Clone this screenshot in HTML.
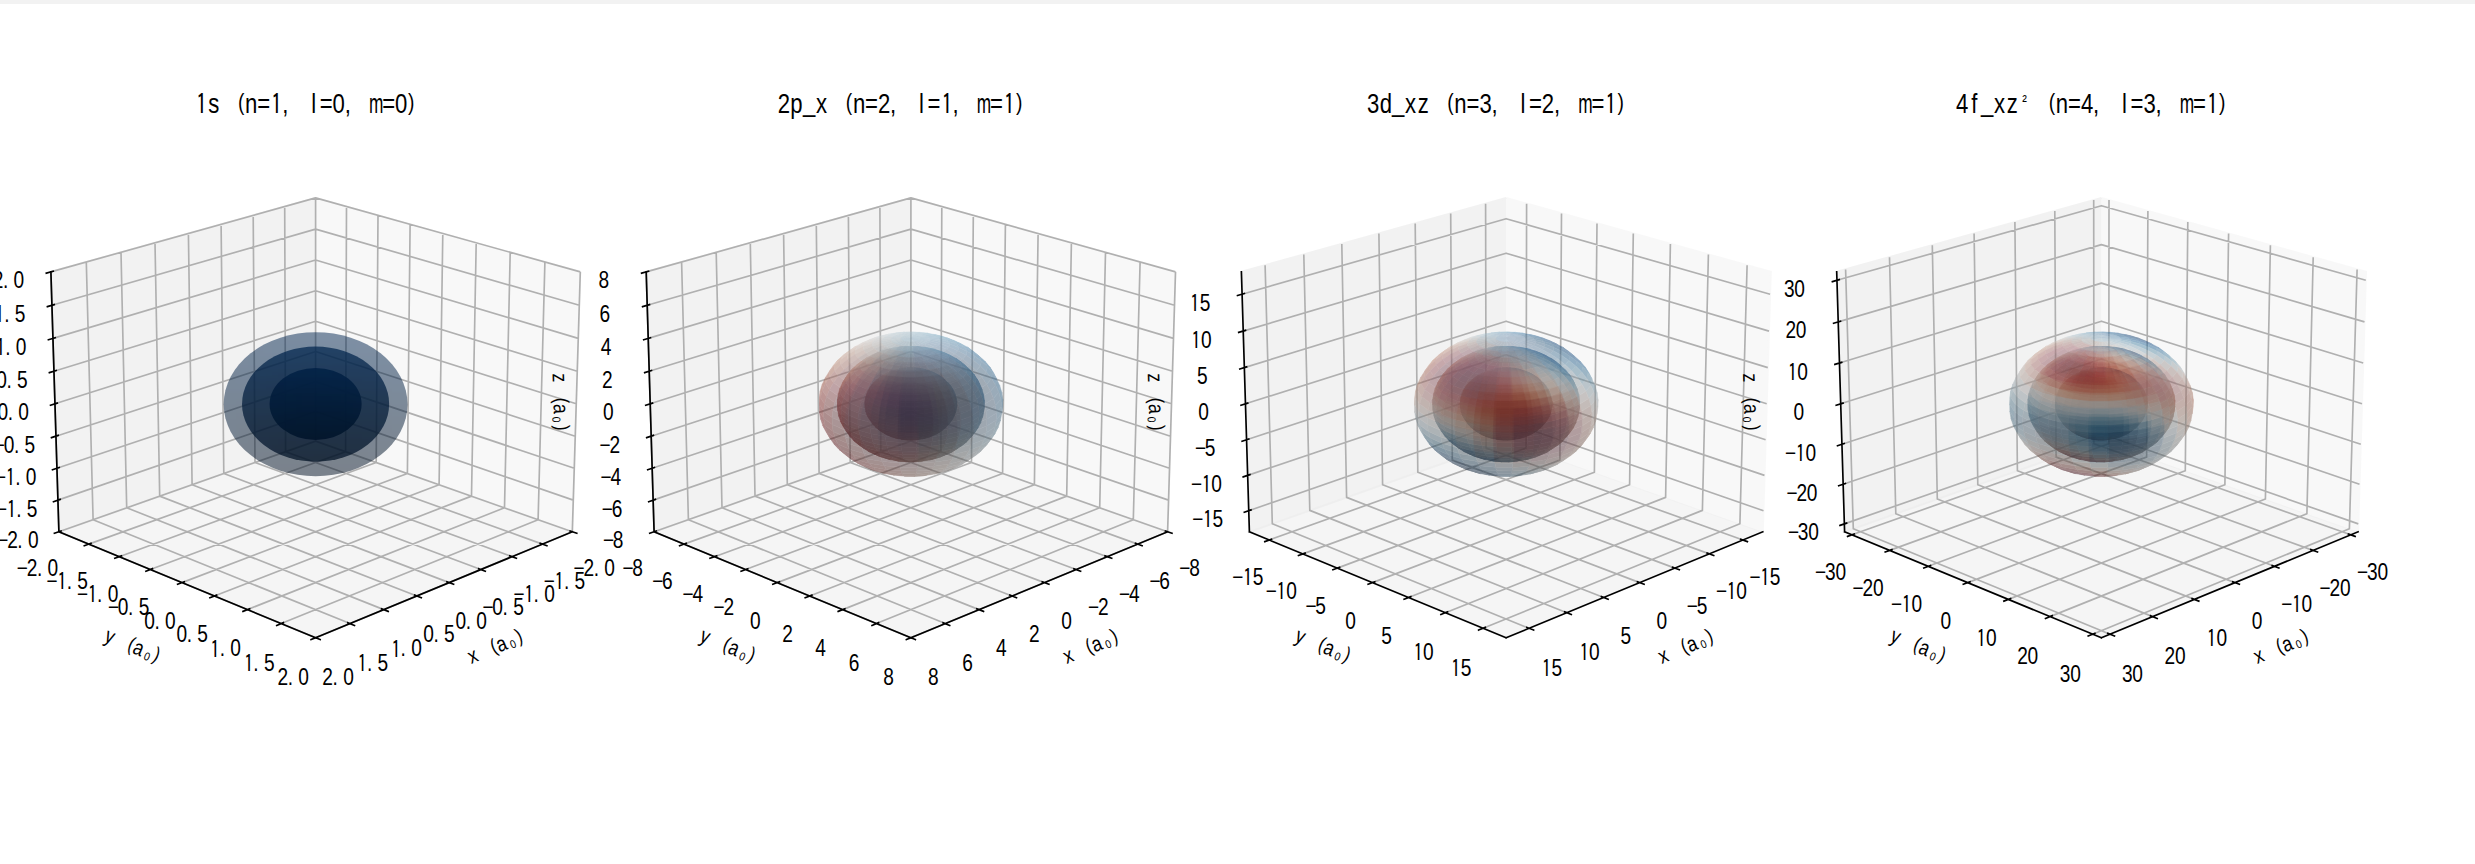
<!DOCTYPE html>
<html><head><meta charset="utf-8"><title>Hydrogen orbitals</title>
<style>
html,body{margin:0;padding:0;background:#fff}
body{width:2475px;height:864px;overflow:hidden;position:relative}
#bar{position:absolute;left:0;top:0;width:2475px;height:4px;background:#f2f2f2}
svg{position:absolute;left:0;top:0;display:block}
.p{opacity:.5;stroke-width:2.08;stroke-linejoin:miter}
.g{fill:none;stroke:#b0b0b0;stroke-width:1.67;stroke-linejoin:round}
.a{fill:none;stroke:#000;stroke-width:1.67;stroke-linecap:square;stroke-linejoin:round}
.f path{fill:currentColor;stroke:currentColor;stroke-width:.5;stroke-linejoin:round}
text{font-family:"Liberation Sans","IPAGothic",sans-serif;fill:#000;white-space:pre}
.t{font-size:23.33px}
.L{font-size:21.67px}
.T{font-size:27.00px}
.i{font-family:"IPAGothic","Liberation Sans",sans-serif}
</style></head><body>
<svg width="2475" height="864" viewBox="0 0 2475 864">
<defs>
<filter id="b0" x="-10%" y="-10%" width="120%" height="120%" color-interpolation-filters="sRGB"><feGaussianBlur stdDeviation="1.5"/></filter>
<filter id="b1" x="-10%" y="-10%" width="120%" height="120%" color-interpolation-filters="sRGB"><feGaussianBlur stdDeviation="1.8"/></filter>
<filter id="b2" x="-10%" y="-10%" width="120%" height="120%" color-interpolation-filters="sRGB"><feGaussianBlur stdDeviation="2.2"/></filter>
<filter id="b3" x="-10%" y="-10%" width="120%" height="120%" color-interpolation-filters="sRGB"><feGaussianBlur stdDeviation="3.0"/></filter>
<filter id="b4" x="-10%" y="-10%" width="120%" height="120%" color-interpolation-filters="sRGB"><feGaussianBlur stdDeviation="4.0"/></filter>
<clipPath id="c0"><ellipse cx="315.61" cy="403.93" rx="46.04" ry="35.96"/></clipPath>
<clipPath id="c1"><ellipse cx="315.59" cy="404.08" rx="73.56" ry="57.56"/></clipPath>
<clipPath id="c2"><ellipse cx="315.60" cy="404.21" rx="91.92" ry="72.00"/></clipPath>
</defs>
<path class="p" fill="#f2f2f2" stroke="#f2f2f2" d="M315.6 441.1L572.3 531.8L580.3 271.9L315.6 197.9"/>
<path class="p" fill="#e6e6e6" stroke="#e6e6e6" d="M315.6 441.1L58.9 531.8L50.9 271.9L315.6 197.9"/>
<path class="p" fill="#ececec" stroke="#ececec" d="M315.6 441.1L58.9 531.8L315.6 637.8L572.3 531.8"/>
<path class="g" d="M572.3 531.8L315.6 441.1L315.6 197.9M542.4 544.1L285.6 451.7L284.7 206.6M512 556.7L255 462.5L253.2 215.4M480.9 569.5L223.8 473.5L221.1 224.4M449.2 582.6L192.1 484.7L188.4 233.5M416.8 596L159.7 496.1L155 242.8M383.8 609.6L126.7 507.8L121 252.3M350 623.6L93.1 519.7L86.3 262M315.6 637.8L58.9 531.8L50.9 271.9M315.6 197.9L315.6 441.1L58.9 531.8M346.5 206.6L345.6 451.7L88.8 544.1M378 215.4L376.2 462.5L119.2 556.7M410.1 224.4L407.4 473.5L150.3 569.5M442.8 233.5L439.1 484.7L182 582.6M476.2 242.8L471.5 496.1L214.4 596M510.2 252.3L504.5 507.8L247.4 609.6M544.9 262L538.1 519.7L281.2 623.6M580.3 271.9L572.3 531.8L315.6 637.8M58.9 531.8L315.6 441.1L572.3 531.8M57.9 500.1L315.6 411.4L573.3 500.1M56.9 468.3L315.6 381.6L574.3 468.3M56 436.2L315.6 351.5L575.2 436.2M55 403.8L315.6 321.2L576.2 403.8M54 371.2L315.6 290.7L577.2 371.2M53 338.4L315.6 260L578.2 338.4M51.9 305.3L315.6 229.1L579.3 305.3M50.9 271.9L315.6 197.9L580.3 271.9"/>
<path class="a" d="M572.3 531.8L315.6 637.8M570.1 531L576.8 533.3M540.2 543.3L546.9 545.7M509.7 555.9L516.4 558.3M478.7 568.7L485.3 571.2M446.9 581.8L453.6 584.3M414.6 595.1L421.3 597.7M381.5 608.8L388.2 611.4M347.8 622.7L354.5 625.4M313.4 636.9L320.1 639.6M58.9 531.8L315.6 637.8M61.1 531L54.4 533.3M91 543.3L84.3 545.7M121.5 555.9L114.8 558.3M152.5 568.7L145.9 571.2M184.3 581.8L177.6 584.3M216.6 595.1L209.9 597.7M249.7 608.8L243 611.4M283.4 622.7L276.7 625.4M317.8 636.9L311.1 639.6M58.9 531.8L50.9 271.9M61.1 531L54.4 533.3M60.1 499.4L53.5 501.7M59.2 467.5L52.5 469.8M58.2 435.4L51.5 437.6M57.2 403.1L50.5 405.3M56.2 370.5L49.4 372.6M55.2 337.7L48.4 339.7M54.2 304.6L47.4 306.6M53.2 271.3L46.3 273.2"/>
<path class="p" fill="#f2f2f2" stroke="#f2f2f2" d="M910.9 441.1L1167.6 531.8L1175.5 271.9L910.9 197.9"/>
<path class="p" fill="#e6e6e6" stroke="#e6e6e6" d="M910.9 441.1L654.1 531.8L646.2 271.9L910.9 197.9"/>
<path class="p" fill="#ececec" stroke="#ececec" d="M910.9 441.1L654.1 531.8L910.9 637.8L1167.6 531.8"/>
<path class="g" d="M1167.6 531.8L910.9 441.1L910.9 197.9M1137.7 544.1L880.8 451.7L879.9 206.6M1107.2 556.7L850.2 462.5L848.4 215.4M1076.1 569.5L819.1 473.5L816.3 224.4M1044.4 582.6L787.3 484.7L783.6 233.5M1012 596L755 496.1L750.3 242.8M979 609.6L722 507.8L716.2 252.3M945.3 623.6L688.4 519.7L681.6 262M910.9 637.8L654.1 531.8L646.2 271.9M910.9 197.9L910.9 441.1L654.1 531.8M941.8 206.6L940.9 451.7L684 544.1M973.3 215.4L971.5 462.5L714.5 556.7M1005.4 224.4L1002.6 473.5L745.6 569.5M1038.1 233.5L1034.4 484.7L777.3 582.6M1071.4 242.8L1066.7 496.1L809.7 596M1105.5 252.3L1099.7 507.8L842.7 609.6M1140.1 262L1133.3 519.7L876.4 623.6M1175.5 271.9L1167.6 531.8L910.9 637.8M654.1 531.8L910.9 441.1L1167.6 531.8M653.2 500.1L910.9 411.4L1168.5 500.1M652.2 468.3L910.9 381.6L1169.5 468.3M651.2 436.2L910.9 351.5L1170.5 436.2M650.2 403.8L910.9 321.2L1171.5 403.8M649.2 371.2L910.9 290.7L1172.5 371.2M648.2 338.4L910.9 260L1173.5 338.4M647.2 305.3L910.9 229.1L1174.5 305.3M646.2 271.9L910.9 197.9L1175.5 271.9"/>
<path class="a" d="M1167.6 531.8L910.9 637.8M1165.4 531L1172 533.3M1135.5 543.3L1142.1 545.7M1105 555.9L1111.7 558.3M1073.9 568.7L1080.6 571.2M1042.2 581.8L1048.9 584.3M1009.8 595.1L1016.5 597.7M976.8 608.8L983.5 611.4M943.1 622.7L949.7 625.4M908.6 636.9L915.3 639.6M654.1 531.8L910.9 637.8M656.3 531L649.7 533.3M686.2 543.3L679.6 545.7M716.7 555.9L710 558.3M747.8 568.7L741.1 571.2M779.5 581.8L772.8 584.3M811.9 595.1L805.2 597.7M844.9 608.8L838.2 611.4M878.6 622.7L872 625.4M913.1 636.9L906.4 639.6M654.1 531.8L646.2 271.9M656.3 531L649.7 533.3M655.4 499.4L648.7 501.7M654.4 467.5L647.7 469.8M653.4 435.4L646.7 437.6M652.5 403.1L645.7 405.3M651.5 370.5L644.7 372.6M650.5 337.7L643.7 339.7M649.5 304.6L642.6 306.6M648.5 271.3L641.6 273.2"/>
<path class="p" fill="#f2f2f2" stroke="#f2f2f2" d="M1506.1 441.1L1762.8 531.8L1770.8 271.9L1506.1 197.9"/>
<path class="p" fill="#e6e6e6" stroke="#e6e6e6" d="M1506.1 441.1L1249.4 531.8L1241.4 271.9L1506.1 197.9"/>
<path class="p" fill="#ececec" stroke="#ececec" d="M1506.1 441.1L1249.4 531.8L1506.1 637.8L1762.8 531.8"/>
<path class="g" d="M1743 540L1486.1 448.1L1485.6 203.7M1709.3 553.9L1452.3 460.1L1450.7 213.4M1674.9 568.1L1417.8 472.3L1415.2 223.4M1639.7 582.6L1382.6 484.7L1378.9 233.5M1603.7 597.5L1346.6 497.4L1341.8 243.9M1566.8 612.7L1309.8 510.4L1303.8 254.5M1529.1 628.3L1272.3 523.7L1265.1 265.3M1526.6 203.7L1526.1 448.1L1269.2 540M1561.5 213.4L1559.9 460.1L1302.9 553.9M1597 223.4L1594.4 472.3L1337.3 568.1M1633.3 233.5L1629.6 484.7L1372.5 582.6M1670.4 243.9L1665.6 497.4L1408.5 597.5M1708.4 254.5L1702.4 510.4L1445.4 612.7M1747.1 265.3L1739.9 523.7L1483.1 628.3M1248.7 510.7L1506.1 421.3L1763.5 510.7M1247.7 475.4L1506.1 388.2L1764.5 475.4M1246.6 439.8L1506.1 354.8L1765.6 439.8M1245.5 403.8L1506.1 321.2L1766.7 403.8M1244.4 367.6L1506.1 287.3L1767.8 367.6M1243.2 331.1L1506.1 253.2L1769 331.1M1242.1 294.2L1506.1 218.7L1770.1 294.2"/>
<path class="a" d="M1762.8 531.8L1506.1 637.8M1740.7 539.2L1747.4 541.6M1707.1 553.1L1713.7 555.5M1672.6 567.3L1679.3 569.8M1637.4 581.8L1644.1 584.3M1601.4 596.6L1608.1 599.2M1564.6 611.8L1571.3 614.5M1526.9 627.4L1533.6 630.1M1249.4 531.8L1506.1 637.8M1271.5 539.2L1264.8 541.6M1305.1 553.1L1298.5 555.5M1339.6 567.3L1332.9 569.8M1374.8 581.8L1368.1 584.3M1410.8 596.6L1404.1 599.2M1447.6 611.8L1440.9 614.5M1485.3 627.4L1478.6 630.1M1249.4 531.8L1241.4 271.9M1251 509.9L1244.3 512.3M1249.9 474.6L1243.2 476.9M1248.8 439L1242.1 441.2M1247.7 403.1L1241 405.3M1246.6 366.9L1239.8 369M1245.5 330.4L1238.7 332.4M1244.4 293.5L1237.5 295.5"/>
<path class="p" fill="#f2f2f2" stroke="#f2f2f2" d="M2101.4 441.1L2358.1 531.8L2366 271.9L2101.4 197.9"/>
<path class="p" fill="#e6e6e6" stroke="#e6e6e6" d="M2101.4 441.1L1844.6 531.8L1836.7 271.9L2101.4 197.9"/>
<path class="p" fill="#ececec" stroke="#ececec" d="M2101.4 441.1L1844.6 531.8L2101.4 637.8L2358.1 531.8"/>
<path class="g" d="M2350.7 534.8L2093.9 443.7L2093.7 200.1M2313 550.4L2056.1 457.1L2054.8 211M2274.5 566.3L2017.4 470.7L2014.9 222.1M2234.9 582.6L1977.8 484.7L1974.1 233.5M2194.4 599.4L1937.3 499L1932.3 245.2M2152.7 616.6L1895.8 513.7L1889.5 257.2M2110 634.2L1853.3 528.7L1845.6 269.4M2109 200.1L2108.8 443.7L1852 534.8M2147.9 211L2146.6 457.1L1889.7 550.4M2187.8 222.1L2185.3 470.7L1928.2 566.3M2228.6 233.5L2224.9 484.7L1967.8 582.6M2270.4 245.2L2265.4 499L2008.3 599.4M2313.2 257.2L2306.9 513.7L2050 616.6M2357.1 269.4L2349.4 528.7L2092.7 634.2M1844.4 523.9L2101.4 433.7L2358.3 523.9M1843.2 484.2L2101.4 396.5L2359.5 484.2M1842 444.2L2101.4 359L2360.8 444.2M1840.7 403.8L2101.4 321.2L2362 403.8M1839.5 363L2101.4 283.1L2363.2 363M1838.2 321.9L2101.4 244.6L2364.5 321.9M1836.9 280.3L2101.4 205.7L2365.8 280.3"/>
<path class="a" d="M2358.1 531.8L2101.4 637.8M2348.4 534L2355.1 536.4M2310.8 549.6L2317.5 552M2272.2 565.5L2278.9 568M2232.7 581.8L2239.4 584.3M2192.1 598.5L2198.8 601.1M2150.5 615.7L2157.2 618.4M2107.8 633.3L2114.5 636M1844.6 531.8L2101.4 637.8M1854.3 534L1847.6 536.4M1891.9 549.6L1885.2 552M1930.5 565.5L1923.8 568M1970 581.8L1963.3 584.3M2010.6 598.5L2003.9 601.1M2052.2 615.7L2045.5 618.4M2094.9 633.3L2088.2 636M1844.6 531.8L1836.7 271.9M1846.6 523.1L1840 525.4M1845.4 483.5L1838.7 485.8M1844.2 443.5L1837.5 445.7M1843 403.1L1836.2 405.3M1841.7 362.4L1834.9 364.4M1840.5 321.2L1833.6 323.2M1839.2 279.6L1832.4 281.6"/>
<g clip-path="url(#c0)" opacity="0.885"><g filter="url(#b4)"><path fill="#03244b" d="M305 343h12v12h-12z"/><path fill="#03254b" d="M317 343h12v12h-12z"/><path fill="#032144" d="M269 355h12v12h-12z"/><path fill="#04254b" d="M281 355h24v12h-24z"/><path fill="#03244b" d="M305 355h12v12h-12z"/><path fill="#03254b" d="M317 355h12v12h-12z"/><path fill="#04244b" d="M329 355h24v12h-24z"/><path fill="#031d3c" d="M257 367h12v12h-12z"/><path fill="#032144" d="M269 367h24v12h-24z"/><path fill="#04254b" d="M293 367h12v12h-12z"/><path fill="#03244b" d="M305 367h12v12h-12z"/><path fill="#03254b" d="M317 367h12v12h-12z"/><path fill="#04244b" d="M329 367h24v12h-24z"/><path fill="#032144" d="M353 367h12v12h-12z"/><path fill="#031d3c" d="M257 379h24v12h-24z"/><path fill="#032144" d="M281 379h12v12h-12z"/><path fill="#032042" d="M293 379h12v12h-12z"/><path fill="#032041" d="M305 379h24v12h-24z"/><path fill="#032042" d="M329 379h12v12h-12z"/><path fill="#032144" d="M341 379h24v12h-24z"/><path fill="#031e3d" d="M365 379h12v12h-12z"/><path fill="#031d3c" d="M245 391h36v12h-36z"/><path fill="#031c3a" d="M281 391h12v12h-12z"/><path fill="#021b38" d="M293 391h12v12h-12z"/><path fill="#021b37" d="M305 391h12v12h-12z"/><path fill="#021b38" d="M317 391h24v12h-24z"/><path fill="#031c3a" d="M341 391h12v12h-12z"/><path fill="#031e3d" d="M353 391h24v12h-24z"/><path fill="#021a35" d="M245 403h36v12h-36z"/><path fill="#021832" d="M281 403h12v12h-12z"/><path fill="#021730" d="M293 403h12v12h-12z"/><path fill="#02172f" d="M305 403h24v12h-24z"/><path fill="#021730" d="M329 403h12v12h-12z"/><path fill="#021832" d="M341 403h12v12h-12z"/><path fill="#031a36" d="M353 403h24v12h-24z"/><path fill="#02172f" d="M257 415h24v12h-24z"/><path fill="#02152c" d="M281 415h12v12h-12z"/><path fill="#021429" d="M293 415h12v12h-12z"/><path fill="#021428" d="M305 415h12v12h-12z"/><path fill="#021429" d="M317 415h12v12h-12z"/><path fill="#02142a" d="M329 415h12v12h-12z"/><path fill="#02152c" d="M341 415h24v12h-24z"/><path fill="#031a36" d="M365 415h12v12h-12z"/><path fill="#02172f" d="M257 427h24v12h-24z"/><path fill="#02152c" d="M281 427h12v12h-12z"/><path fill="#021225" d="M293 427h12v12h-12z"/><path fill="#021124" d="M305 427h12v12h-12z"/><path fill="#021224" d="M317 427h12v12h-12z"/><path fill="#021326" d="M329 427h24v12h-24z"/><path fill="#02152c" d="M353 427h24v12h-24z"/><path fill="#02172f" d="M269 439h12v12h-12z"/><path fill="#021225" d="M281 439h24v12h-24z"/><path fill="#021124" d="M305 439h12v12h-12z"/><path fill="#021224" d="M317 439h12v12h-12z"/><path fill="#021326" d="M329 439h36v12h-36z"/><path fill="#021225" d="M293 451h12v12h-12z"/><path fill="#021124" d="M305 451h12v12h-12z"/><path fill="#021224" d="M317 451h12v12h-12z"/><path fill="#021326" d="M329 451h12v12h-12z"/></g></g>
<g clip-path="url(#c1)" opacity="0.738"><g filter="url(#b4)"><path fill="#04274f" d="M302 322h24v12h-24z"/><path fill="#04274f" d="M266 334h96v12h-96z"/><path fill="#032246" d="M242 346h12v12h-12z"/><path fill="#04254b" d="M254 346h24v12h-24z"/><path fill="#04274f" d="M278 346h84v12h-84z"/><path fill="#04254a" d="M362 346h24v12h-24z"/><path fill="#032041" d="M230 358h12v12h-12z"/><path fill="#032246" d="M242 358h24v12h-24z"/><path fill="#04254b" d="M266 358h12v12h-12z"/><path fill="#03244a" d="M278 358h24v12h-24z"/><path fill="#032449" d="M302 358h24v12h-24z"/><path fill="#03244a" d="M326 358h24v12h-24z"/><path fill="#03254b" d="M350 358h12v12h-12z"/><path fill="#04254a" d="M362 358h24v12h-24z"/><path fill="#032246" d="M386 358h12v12h-12z"/><path fill="#032041" d="M230 370h24v12h-24z"/><path fill="#032246" d="M254 370h12v12h-12z"/><path fill="#032245" d="M266 370h12v12h-12z"/><path fill="#032144" d="M278 370h24v12h-24z"/><path fill="#032143" d="M302 370h36v12h-36z"/><path fill="#032144" d="M338 370h24v12h-24z"/><path fill="#032246" d="M362 370h36v12h-36z"/><path fill="#032041" d="M230 382h24v12h-24z"/><path fill="#032040" d="M254 382h12v12h-12z"/><path fill="#031f3f" d="M266 382h12v12h-12z"/><path fill="#031e3e" d="M278 382h72v12h-72z"/><path fill="#031f3f" d="M350 382h12v12h-12z"/><path fill="#031f40" d="M362 382h12v12h-12z"/><path fill="#032041" d="M374 382h36v12h-36z"/><path fill="#031d3c" d="M218 394h36v12h-36z"/><path fill="#021d3b" d="M254 394h12v12h-12z"/><path fill="#021c3a" d="M266 394h12v12h-12z"/><path fill="#021c39" d="M278 394h12v12h-12z"/><path fill="#021c38" d="M290 394h12v12h-12z"/><path fill="#031c39" d="M302 394h12v12h-12z"/><path fill="#021c39" d="M314 394h48v12h-48z"/><path fill="#021d3a" d="M362 394h12v12h-12z"/><path fill="#031e3c" d="M374 394h36v12h-36z"/><path fill="#031b37" d="M218 406h36v12h-36z"/><path fill="#021a36" d="M254 406h12v12h-12z"/><path fill="#021a35" d="M266 406h12v12h-12z"/><path fill="#021a34" d="M278 406h12v12h-12z"/><path fill="#021933" d="M290 406h12v12h-12z"/><path fill="#021934" d="M302 406h48v12h-48z"/><path fill="#021a35" d="M350 406h12v12h-12z"/><path fill="#021a36" d="M362 406h12v12h-12z"/><path fill="#031b37" d="M374 406h36v12h-36z"/><path fill="#021934" d="M230 418h24v12h-24z"/><path fill="#021831" d="M254 418h12v12h-12z"/><path fill="#021830" d="M266 418h12v12h-12z"/><path fill="#021730" d="M278 418h12v12h-12z"/><path fill="#02172f" d="M290 418h60v12h-60z"/><path fill="#021830" d="M350 418h12v12h-12z"/><path fill="#021831" d="M362 418h12v12h-12z"/><path fill="#021933" d="M374 418h36v12h-36z"/><path fill="#021934" d="M230 430h24v12h-24z"/><path fill="#02162e" d="M254 430h12v12h-12z"/><path fill="#02162c" d="M266 430h12v12h-12z"/><path fill="#02152b" d="M278 430h72v12h-72z"/><path fill="#02152c" d="M350 430h12v12h-12z"/><path fill="#02162d" d="M362 430h24v12h-24z"/><path fill="#021933" d="M386 430h12v12h-12z"/><path fill="#02162e" d="M242 442h24v12h-24z"/><path fill="#02142a" d="M266 442h12v12h-12z"/><path fill="#021328" d="M278 442h12v12h-12z"/><path fill="#021327" d="M290 442h48v12h-48z"/><path fill="#021328" d="M338 442h12v12h-12z"/><path fill="#021429" d="M350 442h24v12h-24z"/><path fill="#02162d" d="M374 442h24v12h-24z"/><path fill="#02142a" d="M254 454h24v12h-24z"/><path fill="#021328" d="M278 454h12v12h-12z"/><path fill="#021225" d="M290 454h24v12h-24z"/><path fill="#021224" d="M314 454h12v12h-12z"/><path fill="#021225" d="M326 454h24v12h-24z"/><path fill="#021429" d="M350 454h24v12h-24z"/><path fill="#02142a" d="M266 466h12v12h-12z"/><path fill="#021225" d="M278 466h36v12h-36z"/><path fill="#021224" d="M314 466h12v12h-12z"/><path fill="#021225" d="M326 466h24v12h-24z"/><path fill="#021429" d="M350 466h12v12h-12z"/></g></g>
<g clip-path="url(#c2)" opacity="0.504"><g filter="url(#b4)"><path fill="#042851" d="M296 308h24v12h-24z"/><path fill="#042852" d="M320 308h12v12h-12z"/><path fill="#04264e" d="M260 320h12v12h-12z"/><path fill="#042851" d="M272 320h48v12h-48z"/><path fill="#042852" d="M320 320h12v12h-12z"/><path fill="#042851" d="M332 320h36v12h-36z"/><path fill="#04244a" d="M236 332h12v12h-12z"/><path fill="#04264e" d="M248 332h24v12h-24z"/><path fill="#03264e" d="M272 332h12v12h-12z"/><path fill="#042851" d="M284 332h36v12h-36z"/><path fill="#042852" d="M320 332h12v12h-12z"/><path fill="#042851" d="M332 332h36v12h-36z"/><path fill="#04264d" d="M368 332h24v12h-24z"/><path fill="#04244a" d="M224 344h24v12h-24z"/><path fill="#03244a" d="M248 344h12v12h-12z"/><path fill="#04264e" d="M260 344h12v12h-12z"/><path fill="#03264e" d="M272 344h24v12h-24z"/><path fill="#03264d" d="M296 344h12v12h-12z"/><path fill="#03264e" d="M308 344h12v12h-12z"/><path fill="#03264d" d="M320 344h24v12h-24z"/><path fill="#03264e" d="M344 344h12v12h-12z"/><path fill="#04264e" d="M356 344h12v12h-12z"/><path fill="#04264d" d="M368 344h24v12h-24z"/><path fill="#032449" d="M392 344h12v12h-12z"/><path fill="#04244a" d="M212 356h36v12h-36z"/><path fill="#03244a" d="M248 356h12v12h-12z"/><path fill="#032449" d="M260 356h108v12h-108z"/><path fill="#03244a" d="M368 356h12v12h-12z"/><path fill="#032449" d="M380 356h24v12h-24z"/><path fill="#032246" d="M404 356h12v12h-12z"/><path fill="#032042" d="M212 368h24v12h-24z"/><path fill="#032246" d="M236 368h12v12h-12z"/><path fill="#032245" d="M248 368h24v12h-24z"/><path fill="#032145" d="M272 368h12v12h-12z"/><path fill="#032245" d="M284 368h12v12h-12z"/><path fill="#032244" d="M296 368h12v12h-12z"/><path fill="#032245" d="M308 368h24v12h-24z"/><path fill="#032144" d="M332 368h12v12h-12z"/><path fill="#032245" d="M344 368h36v12h-36z"/><path fill="#032246" d="M380 368h36v12h-36z"/><path fill="#032042" d="M212 380h36v12h-36z"/><path fill="#032041" d="M248 380h12v12h-12z"/><path fill="#031f41" d="M260 380h12v12h-12z"/><path fill="#031f40" d="M272 380h12v12h-12z"/><path fill="#032041" d="M284 380h12v12h-12z"/><path fill="#032040" d="M296 380h24v12h-24z"/><path fill="#032041" d="M320 380h72v12h-72z"/><path fill="#032042" d="M392 380h36v12h-36z"/><path fill="#031e3e" d="M200 392h48v12h-48z"/><path fill="#021e3d" d="M248 392h24v12h-24z"/><path fill="#021d3c" d="M272 392h12v12h-12z"/><path fill="#031e3c" d="M284 392h12v12h-12z"/><path fill="#031d3c" d="M296 392h24v12h-24z"/><path fill="#021d3c" d="M320 392h12v12h-12z"/><path fill="#031e3c" d="M332 392h24v12h-24z"/><path fill="#021e3d" d="M356 392h36v12h-36z"/><path fill="#031f3e" d="M392 392h36v12h-36z"/><path fill="#031d3a" d="M200 404h36v12h-36z"/><path fill="#021c39" d="M236 404h60v12h-60z"/><path fill="#021b38" d="M296 404h48v12h-48z"/><path fill="#021c39" d="M344 404h48v12h-48z"/><path fill="#031c3a" d="M392 404h36v12h-36z"/><path fill="#021b37" d="M212 416h24v12h-24z"/><path fill="#021a36" d="M236 416h12v12h-12z"/><path fill="#021a34" d="M248 416h12v12h-12z"/><path fill="#021a35" d="M260 416h24v12h-24z"/><path fill="#021934" d="M284 416h12v12h-12z"/><path fill="#021a34" d="M296 416h24v12h-24z"/><path fill="#021a35" d="M320 416h12v12h-12z"/><path fill="#021a34" d="M332 416h24v12h-24z"/><path fill="#021a35" d="M356 416h36v12h-36z"/><path fill="#021b36" d="M392 416h36v12h-36z"/><path fill="#021b37" d="M212 428h24v12h-24z"/><path fill="#021932" d="M236 428h12v12h-12z"/><path fill="#021831" d="M248 428h36v12h-36z"/><path fill="#021830" d="M284 428h12v12h-12z"/><path fill="#021831" d="M296 428h12v12h-12z"/><path fill="#021830" d="M308 428h12v12h-12z"/><path fill="#021831" d="M320 428h60v12h-60z"/><path fill="#021832" d="M380 428h12v12h-12z"/><path fill="#021933" d="M392 428h24v12h-24z"/><path fill="#02172f" d="M212 440h36v12h-36z"/><path fill="#02162e" d="M248 440h24v12h-24z"/><path fill="#02162d" d="M272 440h12v12h-12z"/><path fill="#02162c" d="M284 440h12v12h-12z"/><path fill="#02162d" d="M296 440h72v12h-72z"/><path fill="#02162e" d="M368 440h12v12h-12z"/><path fill="#02172e" d="M380 440h24v12h-24z"/><path fill="#021933" d="M404 440h12v12h-12z"/><path fill="#02172f" d="M224 452h24v12h-24z"/><path fill="#02152c" d="M248 452h12v12h-12z"/><path fill="#02152a" d="M260 452h12v12h-12z"/><path fill="#02142a" d="M272 452h12v12h-12z"/><path fill="#021429" d="M284 452h60v12h-60z"/><path fill="#02142a" d="M344 452h24v12h-24z"/><path fill="#02152b" d="M368 452h24v12h-24z"/><path fill="#02172e" d="M392 452h12v12h-12z"/><path fill="#02152c" d="M236 464h24v12h-24z"/><path fill="#02152a" d="M260 464h12v12h-12z"/><path fill="#021327" d="M272 464h24v12h-24z"/><path fill="#021326" d="M296 464h12v12h-12z"/><path fill="#021226" d="M308 464h24v12h-24z"/><path fill="#021327" d="M332 464h36v12h-36z"/><path fill="#02152b" d="M368 464h24v12h-24z"/><path fill="#021327" d="M260 476h36v12h-36z"/><path fill="#021326" d="M296 476h12v12h-12z"/><path fill="#021226" d="M308 476h24v12h-24z"/><path fill="#021327" d="M332 476h36v12h-36z"/><path fill="#02152b" d="M368 476h12v12h-12z"/><path fill="#021326" d="M296 488h12v12h-12z"/><path fill="#021226" d="M308 488h24v12h-24z"/></g></g>
<g class="f" opacity="0.885"><path color="#81a8bd" d="M923 369.2l2.7 .6-4.3-1-2-.3z"/><path color="#568aaa" d="M935.8 373.8l3.4 1.7-3.7-1.9-3-1.5z"/><path color="#aac0cd" d="M911.2 368.1l.2-.3-4.2 .1 .9 .2z"/><path color="#9cb8c6" d="M914.4 368.2l1.1-.2-4.1-.2-.2 .3z"/><path color="#c5ced3" d="M899.6 369l-2.6 .5-3.8 1.1 3.3-.6z"/><path color="#cdc7c2" d="M893.2 370.6l-3.1 1.1-3.5 1.6 3.6-1.3z"/><path color="#b1c3cc" d="M908.1 368.1l-.9-.2-4 .4 1.8 .2z"/><path color="#c6a494" d="M883.3 375l-2.9 2-3.1 2.3 3.3-2.2z"/><path color="#8bb1c5" d="M917.4 368.6l2-.1-3.9-.5-1.1 .2z"/><path color="#649ab6" d="M925.9 370.2l3.4 .8-3.6-1.2-2.7-.6z"/><path color="#5a90b0" d="M932.1 372.4l3.7 1.4-3.3-1.7-3.2-1.1z"/><path color="#b7c8d0" d="M905 368.5l-1.8-.2-3.6 .7 2.7 0z"/><path color="#3e78a0" d="M941.6 377.6l3.3 2.3-2.7-2.4-3-2z"/><path color="#87adc2" d="M920.1 369.1l2.9 .1-3.6-.7-2 .1z"/><path color="#aa6b59" d="M872 384.6l-2 3-1.8 3 2-3.1z"/><path color="#cdb7ac" d="M886.6 373.3l-3.3 1.7-2.7 2.1 3.6-1.9z"/><path color="#376688" d="M953.7 391.4l1.6 3.3-1.5-3.2-1.5-3.2z"/><path color="#cbcbcc" d="M896.5 370l-3.3 .6-3 1.4 3.8-.9z"/><path color="#c3cccf" d="M902.3 369l-2.7 0-3.1 1 3.4-.3z"/><path color="#bb8771" d="M874.4 381.8l-2.4 2.8-1.8 2.9 2.6-3z"/><path color="#4780a4" d="M937.9 375.6l3.7 2-2.4-2.1-3.4-1.7z"/><path color="#6b9cb7" d="M928.2 371.4l3.9 1-2.8-1.4-3.4-.8z"/><path color="#2d628a" d="M951.6 388.2l2.1 3.2-1.4-3.1-2-3z"/><path color="#7ea7bf" d="M922.3 369.9l3.6 .3-2.9-1-2.9-.1z"/><path color="#abc0cc" d="M911.1 368.7l.1-.6-3.1 0 .9 .7z"/><path color="#a0bbc9" d="M913.2 368.8l1.2-.6-3.2-.1-.1 .6z"/><path color="#ccbfb8" d="M890.2 372l-3.6 1.3-2.4 1.9 3.9-1.6z"/><path color="#afc3ce" d="M909 368.8l-.9-.7-3.1 .4 1.9 .5z"/><path color="#9ab8c8" d="M915.3 369l2.1-.4-3-.4-1.2 .6z"/><path color="#bf907a" d="M877.3 379.3l-2.9 2.5-1.6 2.7 3-2.7z"/><path color="#2f688f" d="M949 385.2l2.6 3-1.3-2.9-2.5-2.8z"/><path color="#782628" d="M865 400.8l.1 3.5 .1 3.4 0-3.5z"/><path color="#b4c5cd" d="M906.9 369l-1.9-.5-2.7 .5 2.8 .3z"/><path color="#588bab" d="M933.9 374l4 1.6-2.1-1.8-3.7-1.4z"/><path color="#c5c8ca" d="M899.9 369.7l-3.4 .3-2.5 1.1 4-.6z"/><path color="#8eafc2" d="M917.1 369.4l3-.3-2.7-.5-2.1 .4z"/><path color="#41637a" d="M956.1 408.6l-.5 3.4 .7-3.3 .5-3.5z"/><path color="#c49e8c" d="M880.6 377.1l-3.3 2.2-1.5 2.5 3.4-2.5z"/><path color="#79a2ba" d="M924.1 370.8l4.1 .6-2.3-1.2-3.6-.3z"/><path color="#8e4036" d="M865.6 397.3l-.6 3.5 .2 3.4 .5-3.5z"/><path color="#c9c0bc" d="M894 371.1l-3.8 .9-2.1 1.6 4.2-1.2z"/><path color="#386f94" d="M946 382.4l3 2.8-1.2-2.7-2.9-2.6z"/><path color="#b8c6cd" d="M905.1 369.3l-2.8-.3-2.4 .7 3.6 .1z"/><path color="#8baec1" d="M918.6 369.9l3.7 0-2.2-.8-3 .3z"/><path color="#6a96b2" d="M929.7 372.7l4.2 1.3-1.8-1.6-3.9-1z"/><path color="#2e5c7c" d="M956.2 405l-.1 3.6 .7-3.4 0-3.6z"/><path color="#94463a" d="M866.6 393.9l-1 3.4 .1 3.4 1-3.5z"/><path color="#c6a595" d="M884.2 375.2l-3.6 1.9-1.4 2.2 3.8-2.2z"/><path color="#43779b" d="M942.6 379.9l3.4 2.5-1.1-2.5-3.3-2.3z"/><path color="#bdc3c6" d="M903.5 369.8l-3.6-.1-1.9 .8 4.2-.1z"/><path color="#c1c0bf" d="M898 370.5l-4 .6-1.7 1.3 4.5-.9z"/><path color="#a9bcc6" d="M911 369.8l.1-1.1-2.1 .1 .9 1z"/><path color="#2e5e7f" d="M955.6 401.5l.6 3.5 .6-3.4-.5-3.4z"/><path color="#a7bac5" d="M912.1 369.8l1.1-1-2.1-.1-.1 1.1z"/><path color="#95493d" d="M868.2 390.6l-1.6 3.3 .1 3.3 1.6-3.4z"/><path color="#a8bcc6" d="M909.9 369.8l-.9-1-2.1 .2 2 .9z"/><path color="#9cb5c3" d="M913.1 369.9l2.2-.9-2.1-.2-1.1 1z"/><path color="#85a7bc" d="M919.7 370.5l4.4 .3-1.8-.9-3.7 0z"/><path color="#c5afa3" d="M888.1 373.6l-3.9 1.6-1.2 1.9 4.1-1.8z"/><path color="#5182a2" d="M938.8 377.6l3.8 2.3-1-2.3-3.7-2z"/><path color="#799eb6" d="M925.2 371.8l4.5 .9-1.5-1.3-4.1-.6z"/><path color="#abbdc7" d="M908.9 369.9l-2-.9-1.8 .3 2.8 .8z"/><path color="#98b3c3" d="M914 370.1l3.1-.7-1.8-.4-2.2 .9z"/><path color="#356380" d="M954.6 398l1 3.5 .7-3.3-1-3.5z"/><path color="#a05c4c" d="M870.2 387.5l-2 3.1 .1 3.2 2.1-3.3z"/><path color="#681d1e" d="M866.8 414.6l1.6 3.2 2.2 3.1-1.6-3.1z"/><path color="#b0c2ca" d="M907.9 370.1l-2.8-.8-1.6 .5 3.6 .5z"/><path color="#4b6672" d="M950.3 421.7l-1.9 2.9 2.5-2.9 2-3.1z"/><path color="#5d89a7" d="M934.7 375.7l4.1 1.9-.9-2-4-1.6z"/><path color="#c3b5ad" d="M892.3 372.4l-4.2 1.2-1 1.7 4.4-1.6z"/><path color="#91b1c3" d="M914.7 370.4l3.9-.5-1.5-.5-3.1 .7z"/><path color="#b6c0c5" d="M902.2 370.4l-4.2 .1-1.2 1 4.6-.5z"/><path color="#376383" d="M953 394.5l1.6 3.5 .7-3.3-1.6-3.3z"/><path color="#a86958" d="M872.8 384.5l-2.6 3 .2 3 2.5-3.2z"/><path color="#616365" d="M939.5 432l-2.8 1.8 3.3-2.1 3.2-2.1z"/><path color="#7fa1b8" d="M920.5 371.2l4.7 .6-1.1-1-4.4-.3z"/><path color="#9eb5c2" d="M907.1 370.3l-3.6-.5-1.3 .6 4.3 .2z"/><path color="#691a1e" d="M865.7 411.2l1.1 3.4 2.2 3.2-1-3.3z"/><path color="#6c92ad" d="M930.3 374.1l4.4 1.6-.8-1.7-4.2-1.3z"/><path color="#8baabe" d="M915.3 370.7l4.4-.2-1.1-.6-3.9 .5z"/><path color="#beb6b2" d="M896.8 371.5l-4.5 .9-.8 1.3 4.6-1.2z"/><path color="#591719" d="M875 426.6l2.8 2.4 3.4 2.4-2.6-2.2z"/><path color="#af7867" d="M875.8 381.8l-3 2.7 .1 2.8 3-2.9z"/><path color="#3c6988" d="M951 391.2l2 3.3 .7-3.1-2.1-3.2z"/><path color="#4c6674" d="M951.8 418.6l-1.5 3.1 2.6-3.1 1.6-3.2z"/><path color="#541818" d="M884.1 433.3l3.2 1.6 3.8 1.6-2.7-1.3z"/><path color="#799bb3" d="M925.6 372.8l4.7 1.3-.6-1.4-4.5-.9z"/><path color="#b1bec5" d="M906.5 370.6l-4.3-.2-.8 .6 4.7-.1z"/><path color="#b58270" d="M879.2 379.3l-3.4 2.5 .1 2.6 3.4-2.8z"/><path color="#572620" d="M891.1 436.5l2.9 1 4 1.1-2.2-.7z"/><path color="#6b1d20" d="M865.2 407.7l.5 3.5 2.3 3.3-.5-3.5z"/><path color="#426e8b" d="M948.5 388l2.5 3.2 .6-3-2.6-3z"/><path color="#593328" d="M902.6 439.4l1.6 .2 4 .3-.6-.1z"/><path color="#b4b8ba" d="M901.4 371l-4.6 .5-.7 1 4.8-.8z"/><path color="#8dacbe" d="M915.7 371l4.8 .2-.8-.7-4.4 .2z"/><path color="#5b4238" d="M912.8 439.9l-.4 .1 4.1-.3 1.3-.2z"/><path color="#9fb6c1" d="M910.9 371.2l.1-1.4-1.1 0z"/><path color="#99b1bf" d="M910.9 371.2l1.2-1.4-1.1 0z"/><path color="#9db4c1" d="M910.9 371.2l-1-1.4-1 .1z"/><path color="#655f5d" d="M932.1 435.6l-2.6 1.3 4-1.6 3.2-1.5z"/><path color="#9eb5c0" d="M910.9 371.2l2.2-1.3-1-.1z"/><path color="#58382f" d="M907.6 439.8l.6 .1 4.2 .1 .4-.1z"/><path color="#5f686c" d="M942 429.8l-2.5 2.2 3.7-2.4 2.8-2.3z"/><path color="#b9907e" d="M883 377.1l-3.8 2.2 .1 2.3 3.8-2.4z"/><path color="#9db5c2" d="M910.9 371.2l-2-1.3-1 .2z"/><path color="#496576" d="M952.8 415.3l-1 3.3 2.7-3.2 1.1-3.4z"/><path color="#82a1b7" d="M920.8 371.9l4.8 .9-.4-1-4.7-.6z"/><path color="#665e5a" d="M924.6 438.1l-2 .7 4.1-1 2.8-.9z"/><path color="#91adbe" d="M910.9 371.2l3.1-1.1-.9-.2z"/><path color="#4a7490" d="M945.5 385l3 3 .5-2.8-3-2.8z"/><path color="#9db4c2" d="M910.9 371.2l-3-1.1-.8 .2z"/><path color="#90acbe" d="M910.9 371.2l3.8-.8-.7-.3z"/><path color="#571318" d="M872.5 423.9l2.5 2.7 3.6 2.6-2.2-2.6z"/><path color="#aeb7bc" d="M906.1 370.9l-4.7 .1-.5 .7 5-.4z"/><path color="#742225" d="M865.2 404.2l0 3.5 2.3 3.3-.1-3.5z"/><path color="#bb9c8c" d="M887.1 375.3l-4.1 1.8 .1 2.1 4.1-2.2z"/><path color="#9cb4c2" d="M910.9 371.2l-3.8-.9-.6 .3z"/><path color="#8eacbf" d="M910.9 371.2l4.4-.5-.6-.3z"/><path color="#537a95" d="M942.1 382.2l3.4 2.8 .5-2.6-3.4-2.5z"/><path color="#8ba7b9" d="M915.8 371.4l5 .5-.3-.7-4.8-.2z"/><path color="#97afbd" d="M910.9 371.2l-4.4-.6-.4 .3z"/><path color="#b9a59b" d="M891.5 373.7l-4.4 1.6 .1 1.7 4.4-1.9z"/><path color="#8ba7ba" d="M910.9 371.2l4.8-.2-.4-.3z"/><path color="#5e819b" d="M938.4 379.7l3.7 2.5 .5-2.3-3.8-2.3z"/><path color="#466578" d="M953.3 411.8l-.5 3.5 2.8-3.3 .5-3.4z"/><path color="#97afbd" d="M910.9 371.2l-4.8-.3-.2 .4z"/><path color="#b8ada7" d="M896.1 372.5l-4.6 1.2 .1 1.4 4.6-1.5z"/><path color="#511718" d="M881.2 431.4l2.9 1.9 4.3 1.9-2.5-1.7z"/><path color="#8ba7ba" d="M910.9 371.2l4.9 .2-.1-.4z"/><path color="#782829" d="M865.7 400.7l-.5 3.5 2.2 3.3 .5-3.6z"/><path color="#adb0b1" d="M900.9 371.7l-4.8 .8 .1 1.1 4.8-1.2z"/><path color="#6889a2" d="M934.3 377.4l4.1 2.3 .4-2.1-4.1-1.9z"/><path color="#9dadb6" d="M905.9 371.3l-5 .4 .1 .7 4.9-.8z"/><path color="#562922" d="M895.8 437.9l2.2 .7 4.6 .8-1.4-.6z"/><path color="#98b0be" d="M910.9 371.2l-5 .1 0 .3z"/><path color="#8ba7ba" d="M910.9 371.2l4.9 .5 0-.3z"/><path color="#5c686e" d="M944.1 427.3l-2.1 2.5 4-2.5 2.4-2.7z"/><path color="#7291a9" d="M929.9 375.5l4.4 1.9 .4-1.7-4.4-1.6z"/><path color="#83a0b6" d="M915.8 371.7l4.8 .9 .2-.7-5-.5z"/><path color="#7f9ab0" d="M925.4 373.9l4.5 1.6 .4-1.4-4.7-1.3z"/><path color="#819db4" d="M920.6 372.6l4.8 1.3 .2-1.1-4.8-.9z"/><path color="#95afbe" d="M910.9 371.2l-5 .4 .3 .4z"/><path color="#55151a" d="M870.6 420.9l1.9 3 3.9 2.7-1.8-2.8z"/><path color="#615049" d="M919.1 439l-1.3 .5 4.8-.7 2-.7z"/><path color="#87a3b9" d="M910.9 371.2l4.5 .9 .4-.4z"/><path color="#48667a" d="M953.4 408.3l-.1 3.5 2.8-3.2 .1-3.6z"/><path color="#7f3031" d="M866.7 397.2l-1 3.5 2.2 3.2 1-3.5z"/><path color="#521f1b" d="M888.4 435.2l2.7 1.3 4.7 1.4-2.1-1.2z"/><path color="#646465" d="M934.4 434l-2.3 1.6 4.6-1.8 2.8-1.8z"/><path color="#93adbd" d="M910.9 371.2l-4.7 .8 .4 .3z"/><path color="#8ba7ba" d="M910.9 371.2l4 1.2 .5-.3z"/><path color="#90a8b5" d="M910.9 371.2l-4.3 1.1 .7 .3z"/><path color="#a7b1b6" d="M905.9 371.6l-4.9 .8 .5 .7 4.7-1.1z"/><path color="#8aa6b6" d="M910.9 371.2l3.3 1.5 .7-.3z"/><path color="#92abb9" d="M910.9 371.2l-3.6 1.4 .9 .2z"/><path color="#863c3a" d="M868.3 393.8l-1.6 3.4 2.2 3.2 1.5-3.6z"/><path color="#635a56" d="M926.5 437l-1.9 1.1 4.9-1.2 2.6-1.3z"/><path color="#583229" d="M901.2 438.8l1.4 .6 5 .4-.5-.5z"/><path color="#87a2b5" d="M910.9 371.2l2.4 1.7 .9-.2z"/><path color="#8aa4b7" d="M915.4 372.1l4.6 1.2 .6-.7-4.8-.9z"/><path color="#48677c" d="M952.9 404.7l.5 3.6 2.8-3.3-.6-3.5z"/><path color="#92acbb" d="M910.9 371.2l-2.7 1.6 .9 .2z"/><path color="#5e453a" d="M913.1 439.4l-.3 .5 5-.4 1.3-.5z"/><path color="#8da5b7" d="M910.9 371.2l1.4 1.8 1-.1z"/><path color="#92a8b5" d="M910.9 371.2l-1.8 1.8 1.1 .1z"/><path color="#98aebb" d="M910.9 371.2l.4 1.9 1-.1z"/><path color="#97afbc" d="M910.9 371.2l-.7 1.9 1.1 0z"/><path color="#aba9a7" d="M901 372.4l-4.8 1.2 .8 1 4.5-1.5z"/><path color="#59676f" d="M945.8 424.5l-1.7 2.8 4.3-2.7 1.9-2.9z"/><path color="#501518" d="M878.6 429.2l2.6 2.2 4.7 2.1-2.2-2.1z"/><path color="#55151a" d="M869 417.8l1.6 3.1 4 2.9-1.4-3z"/><path color="#59392f" d="M907.1 439.3l.5 .5 5.2 .1 .3-.5z"/><path color="#8c4340" d="M870.4 390.5l-2.1 3.3 2.1 3 2-3.4z"/><path color="#9aa8af" d="M906.2 372l-4.7 1.1 1 .7 4.1-1.5z"/><path color="#839bb0" d="M920 373.3l4.4 1.6 1-1-4.8-1.3z"/><path color="#aea099" d="M896.2 373.6l-4.6 1.5 1 1.4 4.4-1.9z"/><path color="#48677e" d="M951.9 401.1l1 3.6 2.7-3.2-1-3.5z"/><path color="#96544e" d="M872.9 387.3l-2.5 3.2 2 2.9 2.4-3.4z"/><path color="#88a1b4" d="M914.9 372.4l4 1.5 1.1-.6-4.6-1.2z"/><path color="#ac958a" d="M891.6 375.1l-4.4 1.9 1.2 1.7 4.2-2.2z"/><path color="#9d6057" d="M875.9 384.4l-3 2.9 1.9 2.7 2.9-3.2z"/><path color="#af8a7b" d="M887.2 377l-4.1 2.2 1.4 1.9 3.9-2.4z"/><path color="#7d95aa" d="M924.4 374.9l4.3 1.9 1.2-1.3-4.5-1.6z"/><path color="#a36d62" d="M879.3 381.6l-3.4 2.8 1.8 2.4 3.2-2.9z"/><path color="#626364" d="M936.5 431.9l-2.1 2.1 5.1-2 2.5-2.2z"/><path color="#a87b6e" d="M883.1 379.2l-3.8 2.4 1.6 2.3 3.6-2.8z"/><path color="#4c6a80" d="M950.4 397.6l1.5 3.5 2.7-3.1-1.6-3.5z"/><path color="#522520" d="M893.7 436.7l2.1 1.2 5.4 .9-1.3-1z"/><path color="#98a6ad" d="M906.6 372.3l-4.1 1.5 1.3 .5 3.5-1.7z"/><path color="#571a1e" d="M868 414.5l1 3.3 4.2 3-.9-3.2z"/><path color="#501a1a" d="M885.9 433.5l2.5 1.7 5.3 1.5-1.9-1.5z"/><path color="#56666f" d="M947.2 421.5l-1.4 3 4.5-2.8 1.5-3.1z"/><path color="#8ca2b2" d="M914.2 372.7l3.3 1.8 1.4-.6-4-1.5z"/><path color="#788fa3" d="M928.7 376.8l4.1 2.3 1.5-1.7-4.4-1.9z"/><path color="#526e82" d="M948.5 394.1l1.9 3.5 2.6-3.1-2-3.3z"/><path color="#a2a2a1" d="M901.5 373.1l-4.5 1.5 1.4 1 4.1-1.8z"/><path color="#5f4e46" d="M920.2 438l-1.1 1 5.5-.9 1.9-1.1z"/><path color="#6f879b" d="M932.8 379.1l3.8 2.5 1.8-1.9-4.1-2.3z"/><path color="#537084" d="M946.1 390.7l2.4 3.4 2.5-2.9-2.5-3.2z"/><path color="#4d1518" d="M876.4 426.6l2.2 2.6 5.1 2.2-1.8-2.3z"/><path color="#8599ad" d="M918.9 373.9l4 1.9 1.5-.9-4.4-1.6z"/><path color="#8d9da6" d="M907.3 372.6l-3.5 1.7 1.7 .5 2.7-2z"/><path color="#698195" d="M936.6 381.6l3.5 2.8 2-2.2-3.7-2.5z"/><path color="#5a7589" d="M943.3 387.4l2.8 3.3 2.4-2.7-3-3z"/><path color="#615854" d="M928.3 435.5l-1.8 1.5 5.6-1.4 2.3-1.6z"/><path color="#60798e" d="M940.1 384.4l3.2 3 2.2-2.4-3.4-2.8z"/><path color="#879cad" d="M913.3 372.9l2.5 2 1.7-.4-3.3-1.8z"/><path color="#591c20" d="M867.5 411l.5 3.5 4.3 3.1-.5-3.5z"/><path color="#909ea8" d="M908.2 372.8l-2.7 2 1.9 .3 1.7-2.1z"/><path color="#522b24" d="M899.9 437.8l1.3 1 5.9 .5-.6-.9z"/><path color="#a1928c" d="M897 374.6l-4.4 1.9 1.8 1.2 4-2.1z"/><path color="#8d9dab" d="M912.3 373l1.5 2.2 2-.3-2.5-2z"/><path color="#536572" d="M948.1 418.3l-.9 3.2 4.6-2.9 1-3.3z"/><path color="#5a4138" d="M913.4 438.4l-.3 1 6-.4 1.1-1z"/><path color="#93a0a7" d="M909.1 373l-1.7 2.1 2.1 .2 .7-2.2z"/><path color="#8c9caa" d="M911.3 373.1l.4 2.2 2.1-.1-1.5-2.2z"/><path color="#5e6263" d="M938.2 429.6l-1.7 2.3 5.5-2.1 2.1-2.5z"/><path color="#a09d9c" d="M902.5 373.8l-4.1 1.8 2 .8 3.4-2.1z"/><path color="#91a0a9" d="M910.2 373.1l-.7 2.2 2.2 0-.4-2.2z"/><path color="#7e93a7" d="M922.9 375.8l3.8 2.2 2-1.2-4.3-1.9z"/><path color="#56362f" d="M906.5 438.4l.6 .9 6 .1 .3-1z"/><path color="#8b9dab" d="M917.5 374.5l3.2 2.1 2.2-.8-4-1.9z"/><path color="#5e2227" d="M867.4 407.5l.1 3.5 4.3 3.1 0-3.5z"/><path color="#a5887d" d="M892.6 376.5l-4.2 2.2 2.3 1.5 3.7-2.5z"/><path color="#4b161a" d="M874.6 423.8l1.8 2.8 5.5 2.5-1.6-2.7z"/><path color="#4c181a" d="M883.7 431.4l2.2 2.1 5.9 1.7-1.6-1.9z"/><path color="#546673" d="M948.5 414.9l-.4 3.4 4.7-3 .5-3.5z"/><path color="#4f201f" d="M891.8 435.2l1.9 1.5 6.2 1.1-1.3-1.4z"/><path color="#65292d" d="M867.9 403.9l-.5 3.6 4.4 3.1 .4-3.6z"/><path color="#959595" d="M903.8 374.3l-3.4 2.1 2.5 .7 2.6-2.3z"/><path color="#7b8d9e" d="M926.7 378l3.6 2.6 2.5-1.5-4.1-2.3z"/><path color="#9b776e" d="M888.4 378.7l-3.9 2.4 2.7 1.9 3.5-2.8z"/><path color="#5c4b43" d="M921.2 436.6l-1 1.4 6.3-1 1.8-1.5z"/><path color="#5d5653" d="M929.8 433.6l-1.5 1.9 6.1-1.5 2.1-2.1z"/><path color="#8595a4" d="M915.8 374.9l2.3 2.3 2.6-.6-3.2-2.1z"/><path color="#968a86" d="M898.4 375.6l-4 2.1 2.7 1.1 3.3-2.4z"/><path color="#5a6164" d="M939.7 426.9l-1.5 2.7 5.9-2.3 1.7-2.8z"/><path color="#556676" d="M948.5 411.3l0 3.6 4.8-3.1 .1-3.5z"/><path color="#692c31" d="M868.9 400.4l-1 3.5 4.3 3.1 .9-3.7z"/><path color="#986b64" d="M884.5 381.1l-3.6 2.8 3 2 3.3-2.9z"/><path color="#7f8f9f" d="M920.7 376.6l3.2 2.5 2.8-1.1-3.8-2.2z"/><path color="#748494" d="M930.3 380.6l3.4 2.8 2.9-1.8-3.8-2.5z"/><path color="#8f8f90" d="M905.5 374.8l-2.6 2.3 2.8 .5 1.7-2.5z"/><path color="#4c1b1e" d="M873.2 420.8l1.4 3 5.7 2.6-1.1-3z"/><path color="#723339" d="M870.4 396.8l-1.5 3.6 4.2 2.9 1.4-3.6z"/><path color="#88919c" d="M913.8 375.2l1.4 2.5 2.9-.5-2.3-2.3z"/><path color="#925d5a" d="M880.9 383.9l-3.2 2.9 3.3 2.4 2.9-3.3z"/><path color="#4e2523" d="M898.6 436.4l1.3 1.4 6.6 .6-.4-1.4z"/><path color="#7e3c43" d="M872.4 393.4l-2 3.4 4.1 2.9 1.8-3.6z"/><path color="#556776" d="M948.1 407.7l.4 3.6 4.9-3-.5-3.6z"/><path color="#8b5051" d="M877.7 386.8l-2.9 3.2 3.6 2.5 2.6-3.3z"/><path color="#854548" d="M874.8 390l-2.4 3.4 3.9 2.7 2.1-3.6z"/><path color="#563c34" d="M913.7 437.1l-.3 1.3 6.8-.4 1-1.4z"/><path color="#8a8e93" d="M907.4 375.1l-1.7 2.5 3.1 .2 .7-2.5z"/><path color="#4a1b1d" d="M881.9 429.1l1.8 2.3 6.5 1.9-1.5-2.3z"/><path color="#848c97" d="M911.7 375.3l.4 2.6 3.1-.2-1.4-2.5z"/><path color="#6e7e8e" d="M933.7 383.4l3.1 3 3.3-2-3.5-2.8z"/><path color="#899198" d="M909.5 375.3l-.7 2.5 3.3 .1-.4-2.6z"/><path color="#977c72" d="M894.4 377.7l-3.7 2.5 3.2 1.4 3.2-2.8z"/><path color="#51302a" d="M906.1 437l.4 1.4 6.9 0 .3-1.3z"/><path color="#576777" d="M947.2 404l.9 3.7 4.8-3-1-3.6z"/><path color="#918683" d="M900.4 376.4l-3.3 2.4 3.2 .9 2.6-2.6z"/><path color="#566065" d="M940.8 424l-1.1 2.9 6.1-2.4 1.4-3z"/><path color="#6a7987" d="M936.8 386.4l2.8 3.3 3.7-2.3-3.2-3z"/><path color="#4c1e1f" d="M890.2 433.3l1.6 1.9 6.8 1.2-1-1.8z"/><path color="#4b1d21" d="M872.3 417.6l.9 3.2 6 2.6-.8-3.2z"/><path color="#586877" d="M945.9 400.3l1.3 3.7 4.7-2.9-1.5-3.5z"/><path color="#595451" d="M931.1 431.4l-1.3 2.2 6.7-1.7 1.7-2.3z"/><path color="#798796" d="M923.9 379.1l3 2.8 3.4-1.3-3.6-2.6z"/><path color="#7f8997" d="M918.1 377.2l2.4 2.7 3.4-.8-3.2-2.5z"/><path color="#647381" d="M939.6 389.7l2.5 3.4 4-2.4-2.8-3.3z"/><path color="#5d6d7a" d="M944.2 396.7l1.7 3.6 4.5-2.7-1.9-3.5z"/><path color="#5f6f7c" d="M942.1 393.1l2.1 3.6 4.3-2.6-2.4-3.4z"/><path color="#594840" d="M922.1 434.8l-.9 1.8 7.1-1.1 1.5-1.9z"/><path color="#916d66" d="M890.7 380.2l-3.5 2.8 3.8 1.5 2.9-2.9z"/><path color="#89807e" d="M902.9 377.1l-2.6 2.6 3.8 .7 1.6-2.8z"/><path color="#481f22" d="M880.3 426.4l1.6 2.7 6.8 1.9-1.1-2.6z"/><path color="#545e66" d="M941.5 420.8l-.7 3.2 6.4-2.5 .9-3.2z"/><path color="#4d2127" d="M871.8 414.1l.5 3.5 6.1 2.6-.4-3.4z"/><path color="#818791" d="M915.2 377.7l1.4 2.8 3.9-.6-2.4-2.7z"/><path color="#757f8c" d="M926.9 381.9l2.7 3 4.1-1.5-3.4-2.8z"/><path color="#4d2525" d="M897.6 434.6l1 1.8 7.5 .6-.4-1.7z"/><path color="#87736e" d="M897.1 378.8l-3.2 2.8 4 1.1 2.4-3z"/><path color="#827b7d" d="M905.7 377.6l-1.6 2.8 4.1 .3 .6-2.9z"/><path color="#875d59" d="M887.2 383l-3.3 2.9 4.3 1.9 2.8-3.3z"/><path color="#523a34" d="M914 435.3l-.3 1.8 7.5-.5 .9-1.8z"/><path color="#7c7d86" d="M912.1 377.9l.3 2.8 4.2-.2-1.4-2.8z"/><path color="#55514f" d="M932.1 428.8l-1 2.6 7.1-1.8 1.5-2.7z"/><path color="#797e87" d="M920.5 379.9l2.2 3 4.2-1-3-2.8z"/><path color="#817f82" d="M908.8 377.8l-.6 2.9 4.2 0-.3-2.8z"/><path color="#4a2124" d="M888.7 431l1.5 2.3 7.4 1.3-.9-2.2z"/><path color="#4f252b" d="M871.8 410.6l0 3.5 6.2 2.7 0-3.5z"/><path color="#4d2d2c" d="M905.7 435.3l.4 1.7 7.6 .1 .3-1.8z"/><path color="#555e67" d="M941.9 417.4l-.4 3.4 6.6-2.5 .4-3.4z"/><path color="#6f7783" d="M929.6 384.9l2.6 3.3 4.6-1.8-3.1-3z"/><path color="#804e50" d="M883.9 385.9l-2.9 3.3 4.8 2 2.4-3.4z"/><path color="#54443e" d="M922.9 432.6l-.8 2.2 7.7-1.2 1.3-2.2z"/><path color="#462025" d="M879.2 423.4l1.1 3 7.3 2-.9-2.9z"/><path color="#552a32" d="M872.2 407l-.4 3.6 6.2 2.7 .4-3.7z"/><path color="#836f6a" d="M900.3 379.7l-2.4 3 4.7 .7 1.5-3z"/><path color="#7e605e" d="M893.9 381.6l-2.9 2.9 4.7 1.3 2.2-3.1z"/><path color="#7d464c" d="M881 389.2l-2.6 3.3 5.2 2.2 2.2-3.5z"/><path color="#555e6a" d="M941.9 413.9l0 3.5 6.6-2.5 0-3.6z"/><path color="#5c3139" d="M873.1 403.3l-.9 3.7 6.2 2.6 .7-3.7z"/><path color="#7a7b82" d="M916.6 380.5l1.3 3.1 4.8-.7-2.2-3z"/><path color="#6a727c" d="M932.2 388.2l2.3 3.4 5.1-1.9-2.8-3.3z"/><path color="#743b45" d="M878.4 392.5l-2.1 3.6 5.5 2.3 1.8-3.7z"/><path color="#62343d" d="M874.5 399.7l-1.4 3.6 6 2.6 1.2-3.8z"/><path color="#504f4f" d="M932.9 426l-.8 2.8 7.6-1.9 1.1-2.9z"/><path color="#73757c" d="M922.7 382.9l2 3.2 4.9-1.2-2.7-3z"/><path color="#6a3741" d="M876.3 396.1l-1.8 3.6 5.8 2.4 1.5-3.7z"/><path color="#4b2427" d="M896.7 432.4l.9 2.2 8.1 .7-.4-2.2z"/><path color="#575f69" d="M941.5 410.2l.4 3.7 6.6-2.6-.4-3.6z"/><path color="#786a6b" d="M904.1 380.4l-1.5 3 5 .4 .6-3.1z"/><path color="#452126" d="M887.6 428.4l1.1 2.6 8 1.4-.8-2.5z"/><path color="#666d76" d="M934.5 391.6l2.1 3.6 5.5-2.1-2.5-3.4z"/><path color="#4d3532" d="M914.2 433.2l-.2 2.1 8.1-.5 .8-2.2z"/><path color="#472329" d="M878.4 420.2l.8 3.2 7.5 2.1-.6-3.1z"/><path color="#766f75" d="M912.4 380.7l.4 3.2 5.1-.3-1.3-3.1z"/><path color="#796e70" d="M908.2 380.7l-.6 3.1 5.2 .1-.4-3.2z"/><path color="#575f69" d="M940.8 406.5l.7 3.7 6.6-2.5-.9-3.7z"/><path color="#626871" d="M936.6 395.2l1.7 3.7 5.9-2.2-2.1-3.6z"/><path color="#7b5554" d="M891 384.5l-2.8 3.3 5.4 1.4 2.1-3.4z"/><path color="#4c2c2e" d="M905.3 433.1l.4 2.2 8.3 0 .2-2.1z"/><path color="#4f413d" d="M923.6 430.1l-.7 2.5 8.2-1.2 1-2.6z"/><path color="#5b626b" d="M939.8 402.7l1 3.8 6.4-2.5-1.3-3.7z"/><path color="#5d646d" d="M938.3 398.9l1.5 3.8 6.1-2.4-1.7-3.6z"/><path color="#775e5d" d="M897.9 382.7l-2.2 3.1 5.4 .9 1.5-3.3z"/><path color="#4d4d4f" d="M933.5 422.8l-.6 3.2 7.9-2 .7-3.2z"/><path color="#6c6d74" d="M924.7 386.1l1.9 3.4 5.6-1.3-2.6-3.3z"/><path color="#716d73" d="M917.9 383.6l1.2 3.3 5.6-.8-2-3.2z"/><path color="#48272f" d="M878 416.8l.4 3.4 7.7 2.2-.3-3.4z"/><path color="#73474c" d="M888.2 387.8l-2.4 3.4 5.9 1.6 1.9-3.6z"/><path color="#46272c" d="M886.7 425.5l.9 2.9 8.3 1.5-.5-2.9z"/><path color="#49282d" d="M895.9 429.9l.8 2.5 8.6 .7-.3-2.4z"/><path color="#705a5b" d="M902.6 383.4l-1.5 3.3 5.9 .5 .6-3.4z"/><path color="#4a3433" d="M914.4 430.8l-.2 2.4 8.7-.6 .7-2.5z"/><path color="#4d4d50" d="M933.8 419.5l-.3 3.3 8-2 .4-3.4z"/><path color="#706365" d="M912.8 383.9l.3 3.4 6-.4-1.2-3.3z"/><path color="#67656a" d="M926.6 389.5l1.7 3.6 6.2-1.5-2.3-3.4z"/><path color="#4a2b34" d="M878 413.3l0 3.5 7.8 2.2 0-3.5z"/><path color="#4a3f3d" d="M924 427.3l-.4 2.8 8.5-1.3 .8-2.8z"/><path color="#6b3c46" d="M885.8 391.2l-2.2 3.5 6.5 1.8 1.6-3.7z"/><path color="#725f5f" d="M907.6 383.8l-.6 3.4 6.1 .1-.3-3.4z"/><path color="#6c4e51" d="M895.7 385.8l-2.1 3.4 6.2 1.1 1.3-3.6z"/><path color="#48292c" d="M905 430.7l.3 2.4 8.9 .1 .2-2.4z"/><path color="#675f63" d="M919.1 386.9l1.2 3.6 6.3-1-1.9-3.4z"/><path color="#4d2c36" d="M878.4 409.6l-.4 3.7 7.8 2.2 .3-3.7z"/><path color="#633642" d="M883.6 394.7l-1.8 3.7 6.9 1.9 1.4-3.8z"/><path color="#4d4c51" d="M933.8 415.9l0 3.6 8.1-2.1 0-3.5z"/><path color="#615d61" d="M928.3 393.1l1.6 3.8 6.7-1.7-2.1-3.6z"/><path color="#452930" d="M886.1 422.4l.6 3.1 8.7 1.5-.4-3.1z"/><path color="#51303a" d="M879.1 405.9l-.7 3.7 7.7 2.2 .5-3.8z"/><path color="#5b333f" d="M881.8 398.4l-1.5 3.7 7.2 2 1.2-3.8z"/><path color="#57323d" d="M880.3 402.1l-1.2 3.8 7.5 2.1 .9-3.9z"/><path color="#46282f" d="M895.4 427l.5 2.9 9.1 .8-.2-2.8z"/><path color="#4f4d52" d="M933.5 412.2l.3 3.7 8.1-2-.4-3.7z"/><path color="#5b575b" d="M929.9 396.9l1.2 3.8 7.2-1.8-1.7-3.7z"/><path color="#644b50" d="M901.1 386.7l-1.3 3.6 6.7 .5 .5-3.6z"/><path color="#463c3c" d="M924.4 424.2l-.4 3.1 8.9-1.3 .6-3.2z"/><path color="#614049" d="M893.6 389.2l-1.9 3.6 6.9 1.2 1.2-3.7z"/><path color="#463334" d="M914.5 427.9l-.1 2.9 9.2-.7 .4-2.8z"/><path color="#635558" d="M913.1 387.3l.4 3.6 6.8-.4-1.2-3.6z"/><path color="#514d51" d="M933 408.4l.5 3.8 8-2-.7-3.7z"/><path color="#575357" d="M931.1 400.7l1.1 3.9 7.6-1.9-1.5-3.8z"/><path color="#615557" d="M920.3 390.5l1 3.7 7-1.1-1.7-3.6z"/><path color="#645156" d="M907 387.2l-.5 3.6 7 .1-.4-3.6z"/><path color="#545054" d="M932.2 404.6l.8 3.8 7.8-1.9-1-3.8z"/><path color="#47292f" d="M904.8 427.9l.2 2.8 9.4 .1 .1-2.9z"/><path color="#442a32" d="M885.8 419l.3 3.4 8.9 1.5-.2-3.3z"/><path color="#5d3843" d="M891.7 392.8l-1.6 3.7 7.4 1.3 1.1-3.8z"/><path color="#453b3e" d="M924.5 420.9l-.1 3.3 9.1-1.4 .3-3.3z"/><path color="#452a32" d="M895 423.9l.4 3.1 9.4 .9-.2-3.1z"/><path color="#5d3f47" d="M899.8 390.3l-1.2 3.7 7.4 .6 .5-3.8z"/><path color="#442b34" d="M885.8 415.5l0 3.5 9 1.6 0-3.6z"/><path color="#5b4e4f" d="M921.3 394.2l.9 3.8 7.7-1.1-1.6-3.8z"/><path color="#433033" d="M914.6 424.9l-.1 3 9.5-.6 .4-3.1z"/><path color="#5d4b4e" d="M913.5 390.9l.2 3.8 7.6-.5-1-3.7z"/><path color="#57303d" d="M890.1 396.5l-1.4 3.8 7.9 1.4 .9-3.9z"/><path color="#58434b" d="M906.5 390.8l-.5 3.8 7.7 .1-.2-3.8z"/><path color="#44282f" d="M904.6 424.8l.2 3.1 9.7 0 .1-3z"/><path color="#453a3f" d="M924.5 417.3l0 3.6 9.3-1.4 0-3.6z"/><path color="#452b36" d="M886.1 411.8l-.3 3.7 9 1.5 .2-3.7z"/><path color="#502f3c" d="M888.7 400.3l-1.2 3.8 8.4 1.5 .7-3.9z"/><path color="#554748" d="M922.2 398l.8 3.9 8.1-1.2-1.2-3.8z"/><path color="#492d38" d="M886.6 408l-.5 3.8 8.9 1.5 .3-3.8z"/><path color="#412932" d="M894.8 420.6l.2 3.3 9.6 .9 0-3.4z"/><path color="#4b2e3b" d="M887.5 404.1l-.9 3.9 8.7 1.5 .6-3.9z"/><path color="#553641" d="M898.6 394l-1.1 3.8 8.1 .7 .4-3.9z"/><path color="#463a40" d="M924.4 413.6l.1 3.7 9.3-1.4-.3-3.7z"/><path color="#402f35" d="M914.6 421.5l0 3.4 9.8-.7 .1-3.3z"/><path color="#564247" d="M913.7 394.7l.3 3.8 8.2-.5-.9-3.8z"/><path color="#4f4144" d="M923 401.9l.6 3.9 8.6-1.2-1.1-3.9z"/><path color="#483c40" d="M924.1 409.7l.3 3.9 9.1-1.4-.5-3.8z"/><path color="#4c3f42" d="M923.6 405.8l.5 3.9 8.9-1.3-.8-3.8z"/><path color="#523941" d="M906 394.6l-.4 3.9 8.4 0-.3-3.8z"/><path color="#422a33" d="M904.6 421.4l0 3.4 10 .1 0-3.4z"/><path color="#422933" d="M894.8 417l0 3.6 9.8 .8 0-3.5z"/><path color="#4e2e3c" d="M897.5 397.8l-.9 3.9 8.7 .7 .3-3.9z"/><path color="#3e2d34" d="M914.6 418l0 3.5 9.9-.6 0-3.6z"/><path color="#4f3a41" d="M914 398.5l.2 4 8.8-.6-.8-3.9z"/><path color="#422a35" d="M895 413.3l-.2 3.7 9.8 .9 0-3.8z"/><path color="#492938" d="M896.6 401.7l-.7 3.9 9.1 .8 .3-4z"/><path color="#4c323d" d="M905.6 398.5l-.3 3.9 8.9 .1-.2-4z"/><path color="#3d2530" d="M904.6 417.9l0 3.5 10 .1 0-3.5z"/><path color="#3f2e36" d="M914.6 414.2l0 3.8 9.9-.7-.1-3.7z"/><path color="#48343d" d="M914.2 402.5l.2 3.9 9.2-.6-.6-3.9z"/><path color="#412936" d="M895.3 409.5l-.3 3.8 9.6 .8 .2-3.8z"/><path color="#432836" d="M895.9 405.6l-.6 3.9 9.5 .8 .2-3.9z"/><path color="#412e37" d="M914.5 410.4l.1 3.8 9.8-.6-.3-3.9z"/><path color="#44303a" d="M914.4 406.4l.1 4 9.6-.7-.5-3.9z"/><path color="#452d3b" d="M905.3 402.4l-.3 4 9.4 0-.2-3.9z"/><path color="#3d2633" d="M904.6 414.1l0 3.8 10 .1 0-3.8z"/><path color="#412937" d="M905 406.4l-.2 3.9 9.7 .1-.1-4z"/><path color="#3e2735" d="M904.8 410.3l-.2 3.8 10 .1-.1-3.8z"/></g>
<g class="f" opacity="0.738"><path color="#7ba6be" d="M930.2 348.5l4.4 .9-6.9-1.4-3.1-.6z"/><path color="#a7c1cf" d="M911.5 346.6l.2-.3-6.7 .2 1.4 .3z"/><path color="#9abbcb" d="M916.5 346.8l1.8-.2-6.6-.3-.2 .3z"/><path color="#c6ced3" d="M892.8 348.2l-4 .8-6.2 1.8 5.2-1.2z"/><path color="#cec9c7" d="M882.6 350.8l-4.8 1.7-5.7 2.5 5.7-2.1z"/><path color="#b3c6d0" d="M906.4 346.8l-1.4-.3-6.3 .6 2.9 .1z"/><path color="#cbb0a2" d="M866.9 357.7l-4.7 3.2-5 3.7 5.2-3.6z"/><path color="#90b3c5" d="M921.3 347.4l3.3 0-6.3-.8-1.8 .2z"/><path color="#6b9fba" d="M935 350.1l5.4 1.2-5.8-1.9-4.4-.9z"/><path color="#528dae" d="M944.9 353.5l5.9 2.2-5.3-2.6-5.1-1.8z"/><path color="#b7c9d1" d="M901.6 347.2l-2.9-.1-5.9 1.1 4.3-.1z"/><path color="#38759f" d="M960.1 361.9l5.3 3.7-4.4-3.8-4.8-3.3z"/><path color="#88afc4" d="M925.6 348.3l4.6 .2-5.6-1.1-3.3 0z"/><path color="#af7361" d="M848.8 373l-3.2 4.8-3 4.9 3.3-5z"/><path color="#d0c0b6" d="M872.1 355l-5.2 2.7-4.5 3.3 5.8-3.1z"/><path color="#356487" d="M979.4 383.9l2.5 5.4-2.4-5.2-2.4-5.1z"/><path color="#cbcccd" d="M887.8 349.6l-5.2 1.2-4.8 2.1 6.1-1.5z"/><path color="#c1ccd1" d="M897.1 348.1l-4.3 .1-5 1.4 5.5-.4z"/><path color="#bd8a75" d="M852.6 368.6l-3.8 4.4-2.9 4.7 4-4.8z"/><path color="#447ea3" d="M954.2 358.7l5.9 3.2-3.9-3.4-5.4-2.8z"/><path color="#6498b4" d="M938.6 351.9l6.3 1.6-4.5-2.2-5.4-1.2z"/><path color="#295f8b" d="M976.1 378.8l3.3 5.1-2.3-4.9-3.2-4.8z"/><path color="#7ba7bf" d="M929.2 349.5l5.8 .6-4.8-1.6-4.6-.2z"/><path color="#a8c1cc" d="M911.3 347.6l.2-1-5.1 .2 1.5 .9z"/><path color="#9fbac9" d="M914.7 347.8l1.8-1-5-.2-.2 1z"/><path color="#cdc2bc" d="M877.8 352.9l-5.7 2.1-3.9 2.9 6.3-2.5z"/><path color="#acc2cd" d="M907.9 347.7l-1.5-.9-4.8 .4 3 .8z"/><path color="#98b8c8" d="M917.9 348.1l3.4-.7-4.8-.6-1.8 1z"/><path color="#c0927d" d="M857.2 364.6l-4.6 4-2.7 4.3 4.8-4.4z"/><path color="#2d678f" d="M972 374l4.1 4.8-2.2-4.6-3.9-4.5z"/><path color="#7f2f2d" d="M837.6 399l0 5.6 .1 5.5 0-5.7z"/><path color="#b4c6cf" d="M904.6 348l-3-.8-4.5 .9 4.5 .5z"/><path color="#5489ab" d="M947.8 356.1l6.4 2.6-3.4-3-5.9-2.2z"/><path color="#c4cbce" d="M893.3 349.2l-5.5 .4-3.9 1.8 6.4-.9z"/><path color="#8cb0c3" d="M920.8 348.7l4.8-.4-4.3-.9-3.4 .7z"/><path color="#3f637a" d="M983.4 411.4l-.9 5.6 1-5.5 .9-5.5z"/><path color="#c5a18f" d="M862.4 361l-5.2 3.6-2.5 3.9 5.5-3.9z"/><path color="#73a0b9" d="M932 350.9l6.6 1-3.6-1.8-5.8-.6z"/><path color="#883933" d="M838.4 393.4l-.8 5.6 .1 5.4 .8-5.6z"/><path color="#cac3be" d="M883.9 351.4l-6.1 1.5-3.3 2.5 6.7-2z"/><path color="#376d93" d="M967.2 369.6l4.8 4.4-2-4.3-4.6-4.1z"/><path color="#b7c6cf" d="M901.6 348.6l-4.5-.5-3.8 1.1 5.7 .1z"/><path color="#85abc0" d="M923.2 349.5l6 0-3.6-1.2-4.8 .4z"/><path color="#6393b1" d="M941 354l6.8 2.1-2.9-2.6-6.3-1.6z"/><path color="#365f7b" d="M983.5 405.8l-.1 5.6 1-5.4 0-5.7z"/><path color="#94473b" d="M840.1 388l-1.7 5.4 .1 5.4 1.6-5.6z"/><path color="#c9ac9e" d="M868.2 357.9l-5.8 3.1-2.2 3.6 6-3.5z"/><path color="#3f749b" d="M961.7 365.5l5.5 4.1-1.8-4-5.3-3.7z"/><path color="#b8c5cc" d="M899 349.3l-5.7-.1-3 1.3 6.7-.3z"/><path color="#c1c3c2" d="M890.3 350.5l-6.4 .9-2.7 2 7.1-1.4z"/><path color="#a7bdca" d="M911.1 349.3l.2-1.7-3.4 .1 1.4 1.6z"/><path color="#2f5e7f" d="M982.7 400.1l.8 5.7 .9-5.5-.8-5.6z"/><path color="#9eb8c7" d="M912.8 349.3l1.9-1.5-3.4-.2-.2 1.7z"/><path color="#9b5242" d="M842.6 382.7l-2.5 5.3 0 5.2 2.5-5.5z"/><path color="#a7bdca" d="M909.3 349.3l-1.4-1.6-3.3 .3 3.1 1.5z"/><path color="#97b4c5" d="M914.4 349.5l3.5-1.4-3.2-.3-1.9 1.5z"/><path color="#81a7bd" d="M925.1 350.5l6.9 .4-2.8-1.4-6 0z"/><path color="#c6b3a9" d="M874.5 355.4l-6.3 2.5-2 3.2 6.6-3z"/><path color="#4c7ea1" d="M955.6 361.9l6.1 3.6-1.6-3.6-5.9-3.2z"/><path color="#729bb5" d="M933.8 352.4l7.2 1.6-2.4-2.1-6.6-1z"/><path color="#a5bcc7" d="M907.7 349.5l-3.1-1.5-3 .6 4.6 1.1z"/><path color="#93b1c3" d="M915.9 349.8l4.9-1.1-2.9-.6-3.5 1.4z"/><path color="#316080" d="M981 394.5l1.7 5.6 .9-5.4-1.7-5.4z"/><path color="#a56454" d="M845.9 377.7l-3.3 5 0 5 3.4-5.3z"/><path color="#6a1e1f" d="M840.4 421l2.6 5.2 3.3 5.1-2.5-5.1z"/><path color="#abbec8" d="M906.2 349.7l-4.6-1.1-2.6 .7 5.9 .8z"/><path color="#4b6573" d="M974.1 432.5l-3.1 4.6 3.9-4.7 3.3-4.9z"/><path color="#5987a8" d="M949 358.7l6.6 3.2-1.4-3.2-6.4-2.6z"/><path color="#c4b8b1" d="M881.2 353.4l-6.7 2-1.7 2.7 7.1-2.5z"/><path color="#93b1c2" d="M917.1 350.2l6.1-.7-2.4-.8-4.9 1.1z"/><path color="#b5bfc4" d="M897 350.2l-6.7 .3-2 1.5 7.3-.7z"/><path color="#336183" d="M978.5 388.9l2.5 5.6 .9-5.2-2.5-5.4z"/><path color="#ac6f5d" d="M849.9 372.9l-4 4.8 .1 4.7 4-5.1z"/><path color="#7ea2ba" d="M926.3 351.5l7.5 .9-1.8-1.5-6.9-.4z"/><path color="#a5bac5" d="M904.9 350.1l-5.9-.8-2 .9 6.9 .4z"/><path color="#6a1b1e" d="M838.6 415.6l1.8 5.4 3.4 5.2-1.7-5.3z"/><path color="#6690ad" d="M942 356.1l7 2.6-1.2-2.6-6.8-2.1z"/><path color="#88aabe" d="M918 350.7l7.1-.2-1.9-1-6.1 .7z"/><path color="#bebab7" d="M888.3 352l-7.1 1.4-1.3 2.2 7.4-1.9z"/><path color="#5c191b" d="M853.4 440.3l4.6 3.9 5.3 3.8-4.2-3.5z"/><path color="#b37f6f" d="M854.7 368.5l-4.8 4.4 .1 4.4 4.8-4.7z"/><path color="#376588" d="M975.2 383.6l3.3 5.3 .9-5-3.3-5.1z"/><path color="#486576" d="M976.6 427.5l-2.5 5 4.1-5 2.6-5.1z"/><path color="#531d1b" d="M868 451.1l5.2 2.4 6 2.7-4.4-2.1z"/><path color="#7397b2" d="M934.5 354.1l7.5 2-1-2.1-7.2-1.6z"/><path color="#acbdc6" d="M903.9 350.6l-6.9-.4-1.4 1.1 7.6-.2z"/><path color="#ba8d7c" d="M860.2 364.6l-5.5 3.9 .1 4.1 5.5-4.4z"/><path color="#582520" d="M879.2 456.2l4.7 1.5 6.4 1.9-3.6-1.2z"/><path color="#6e1d21" d="M837.7 410.1l.9 5.5 3.5 5.3-.9-5.5z"/><path color="#3d6a8a" d="M971.2 378.4l4 5.2 .9-4.8-4.1-4.8z"/><path color="#583329" d="M897.7 460.9l2.4 .2 6.6 .6-1-.1z"/><path color="#b3b9bb" d="M895.6 351.3l-7.3 .7-1 1.7 7.7-1.3z"/><path color="#81a3ba" d="M918.6 351.2l7.7 .3-1.2-1-7.1 .2z"/><path color="#61473b" d="M914 461.7l-.6 .1 6.6-.5 2.1-.2z"/><path color="#a0b7c4" d="M910.9 351.6l.2-2.3-1.8 0z"/><path color="#9db5c3" d="M910.9 351.6l1.9-2.3-1.7 0z"/><path color="#9fb7c3" d="M910.9 351.6l-1.6-2.3-1.6 .2z"/><path color="#666462" d="M944.9 454.8l-4.1 2 6.4-2.6 5-2.3z"/><path color="#94afc0" d="M910.9 351.6l3.5-2.1-1.6-.2z"/><path color="#5a3b31" d="M905.7 461.6l1 .1 6.7 .1 .6-.1z"/><path color="#5f686e" d="M960.8 445.5l-4 3.4 5.8-3.7 4.5-3.8z"/><path color="#bd9887" d="M866.2 361.1l-6 3.5 .1 3.6 6-3.9z"/><path color="#9bb5c3" d="M910.9 351.6l-3.2-2.1-1.5 .2z"/><path color="#476576" d="M978.2 422.2l-1.6 5.3 4.2-5.1 1.7-5.4z"/><path color="#7e9fb7" d="M926.8 352.6l7.7 1.5-.7-1.7-7.5-.9z"/><path color="#655d58" d="M933 458.9l-3.4 1 6.7-1.7 4.5-1.4z"/><path color="#8eacbf" d="M910.9 351.6l5-1.8-1.5-.3z"/><path color="#446f8e" d="M966.4 373.6l4.8 4.8 .8-4.4-4.8-4.4z"/><path color="#9ab4c2" d="M910.9 351.6l-4.7-1.9-1.3 .4z"/><path color="#8dabbe" d="M910.9 351.6l6.2-1.4-1.2-.4z"/><path color="#581318" d="M849.5 436l3.9 4.3 5.7 4.2-3.6-4.1z"/><path color="#a9b8c0" d="M903.2 351.1l-7.6 .2-.6 1.1 7.9-.7z"/><path color="#782729" d="M837.7 404.4l0 5.7 3.5 5.3 0-5.7z"/><path color="#bda396" d="M872.8 358.1l-6.6 3 .1 3.2 6.6-3.5z"/><path color="#97b1c0" d="M910.9 351.6l-6-1.5-1 .5z"/><path color="#8aabbe" d="M910.9 351.6l7.1-.9-.9-.5z"/><path color="#4d7694" d="M961 369.1l5.4 4.5 .8-4-5.5-4.1z"/><path color="#85a5ba" d="M918.9 351.8l7.9 .8-.5-1.1-7.7-.3z"/><path color="#96b1c0" d="M910.9 351.6l-7-1-.7 .5z"/><path color="#baa9a1" d="M879.9 355.6l-7.1 2.5 .1 2.7 7.1-3z"/><path color="#93adba" d="M910.9 351.6l7.7-.4-.6-.5z"/><path color="#557c9a" d="M955 365.1l6 4 .7-3.6-6.1-3.6z"/><path color="#436378" d="M979.1 416.7l-.9 5.5 4.3-5.2 .9-5.6z"/><path color="#98b1c0" d="M910.9 351.6l-7.7-.5-.3 .6z"/><path color="#b8b1ad" d="M887.3 353.7l-7.4 1.9 .1 2.2 7.4-2.4z"/><path color="#541919" d="M863.3 448l4.7 3.1 6.8 3-4-2.7z"/><path color="#8ba9bc" d="M910.9 351.6l8 .2-.3-.6z"/><path color="#7d2d2c" d="M838.5 398.8l-.8 5.6 3.5 5.3 .8-5.7z"/><path color="#abb1b4" d="M895 352.4l-7.7 1.3 .1 1.7 7.6-1.9z"/><path color="#5f83a0" d="M948.5 361.4l6.5 3.7 .6-3.2-6.6-3.2z"/><path color="#a7b4bb" d="M902.9 351.7l-7.9 .7 0 1.1 7.9-1.3z"/><path color="#562b23" d="M886.7 458.4l3.6 1.2 7.4 1.3-2.4-.9z"/><path color="#96b1c0" d="M910.9 351.6l-8 .1 0 .5z"/><path color="#8aa8bc" d="M910.9 351.6l7.8 .8 .2-.6z"/><path color="#5c686e" d="M964.2 441.5l-3.4 4 6.3-4.1 3.9-4.3z"/><path color="#698ca8" d="M941.5 358.3l7 3.1 .5-2.7-7-2.6z"/><path color="#82a1b7" d="M918.7 352.4l7.8 1.4 .3-1.2-7.9-.8z"/><path color="#7494af" d="M934.1 355.8l7.4 2.5 .5-2.2-7.5-2z"/><path color="#7c9bb4" d="M926.5 353.8l7.6 2 .4-1.7-7.7-1.5z"/><path color="#91adbd" d="M910.9 351.6l-8 .6 .4 .6z"/><path color="#57161a" d="M846.3 431.3l3.2 4.7 6 4.4-2.9-4.4z"/><path color="#614f46" d="M924.1 460.2l-2 .9 7.5-1.2 3.4-1z"/><path color="#84a3b9" d="M910.9 351.6l7.3 1.3 .5-.5z"/><path color="#43647a" d="M979.1 411l0 5.7 4.3-5.3 .1-5.6z"/><path color="#843736" d="M840.1 393.2l-1.6 5.6 3.5 5.2 1.6-5.7z"/><path color="#54201d" d="M874.8 454.1l4.4 2.1 7.5 2.2-3.4-1.8z"/><path color="#656464" d="M948.7 452.2l-3.8 2.6 7.3-2.9 4.6-3z"/><path color="#91adbd" d="M910.9 351.6l-7.6 1.2 .8 .5z"/><path color="#85a3b9" d="M910.9 351.6l6.5 1.8 .8-.5z"/><path color="#8eaabc" d="M910.9 351.6l-6.8 1.7 1.1 .4z"/><path color="#a0afb7" d="M902.9 352.2l-7.9 1.3 .9 1.1 7.4-1.8z"/><path color="#84a2b8" d="M910.9 351.6l5.3 2.2 1.2-.4z"/><path color="#90adbd" d="M910.9 351.6l-5.7 2.1 1.3 .4z"/><path color="#645b57" d="M936 457.1l-3 1.8 7.8-2.1 4.1-2z"/><path color="#8d4642" d="M842.6 387.7l-2.5 5.5 3.5 5.1 2.4-5.7z"/><path color="#583127" d="M895.3 460l2.4 .9 8 .7-.9-.8z"/><path color="#89a5b9" d="M910.9 351.6l3.9 2.5 1.4-.3z"/><path color="#83a1b7" d="M918.2 352.9l7.3 1.9 1-1-7.8-1.4z"/><path color="#43647c" d="M978.3 405.3l.8 5.7 4.4-5.2-.8-5.7z"/><path color="#90adbd" d="M910.9 351.6l-4.4 2.5 1.6 .2z"/><path color="#5f463b" d="M914.5 460.9l-.5 .8 8.1-.6 2-.9z"/><path color="#8aa6b9" d="M910.9 351.6l2.3 2.8 1.6-.3z"/><path color="#94aebc" d="M910.9 351.6l-2.8 2.7 1.7 .2z"/><path color="#90acbd" d="M910.9 351.6l.6 2.9 1.7-.1z"/><path color="#91aebd" d="M910.9 351.6l-1.1 2.9 1.7 0z"/><path color="#a6abac" d="M895 353.5l-7.6 1.9 1.2 1.6 7.3-2.4z"/><path color="#576770" d="M967 437.1l-2.8 4.4 6.8-4.4 3.1-4.6z"/><path color="#531719" d="M859.1 444.5l4.2 3.5 7.5 3.4-3.5-3.2z"/><path color="#59191c" d="M843.8 426.2l2.5 5.1 6.3 4.7-2.2-4.9z"/><path color="#5c3d32" d="M904.8 460.8l.9 .8 8.3 .1 .5-.8z"/><path color="#944e49" d="M846 382.4l-3.4 5.3 3.4 4.9 3.1-5.6z"/><path color="#9baab2" d="M903.3 352.8l-7.4 1.8 1.5 1 6.7-2.3z"/><path color="#7c98b1" d="M925.5 354.8l7.2 2.6 1.4-1.6-7.6-2z"/><path color="#afa5a0" d="M887.4 355.4l-7.4 2.4 1.5 2.1 7.1-2.9z"/><path color="#43637d" d="M976.8 399.5l1.5 5.8 4.4-5.2-1.7-5.6z"/><path color="#9c605a" d="M850 377.3l-4 5.1 3.1 4.6 3.9-5.3z"/><path color="#85a1b5" d="M917.4 353.4l6.4 2.4 1.7-1-7.3-1.9z"/><path color="#ad9a92" d="M880 357.8l-7.1 3 1.9 2.6 6.7-3.5z"/><path color="#a46e66" d="M854.8 372.6l-4.8 4.7 3 4.4 4.6-5.1z"/><path color="#b19285" d="M872.9 360.8l-6.6 3.5 2.3 3.1 6.2-4z"/><path color="#7591ab" d="M932.7 357.4l6.9 3.1 1.9-2.2-7.4-2.5z"/><path color="#a9786e" d="M860.3 368.2l-5.5 4.4 2.8 4 5.2-4.8z"/><path color="#626465" d="M952 449l-3.3 3.2 8.1-3.3 4-3.4z"/><path color="#ad877c" d="M866.3 364.3l-6 3.9 2.5 3.6 5.8-4.4z"/><path color="#45667f" d="M974.4 393.7l2.4 5.8 4.2-5-2.5-5.6z"/><path color="#542621" d="M883.3 456.6l3.4 1.8 8.6 1.6-2.1-1.6z"/><path color="#92a4af" d="M904.1 353.3l-6.7 2.3 2.1 .9 5.7-2.8z"/><path color="#5c1e20" d="M842.1 420.9l1.7 5.3 6.6 4.9-1.5-5.2z"/><path color="#531d1c" d="M870.8 451.4l4 2.7 8.5 2.5-3-2.4z"/><path color="#536671" d="M969.2 432.2l-2.2 4.9 7.1-4.6 2.5-5z"/><path color="#849eb3" d="M916.2 353.8l5.3 2.9 2.3-.9-6.4-2.4z"/><path color="#6c88a1" d="M939.6 360.5l6.5 3.6 2.4-2.7-7-3.1z"/><path color="#49677f" d="M971.3 388.1l3.1 5.6 4.1-4.8-3.3-5.3z"/><path color="#a0a4a5" d="M895.9 354.6l-7.3 2.4 2.2 1.5 6.6-2.9z"/><path color="#605049" d="M925.9 458.7l-1.8 1.5 8.9-1.3 3-1.8z"/><path color="#668199" d="M946.1 364.1l6.2 4 2.7-3-6.5-3.7z"/><path color="#4b6a81" d="M967.5 382.7l3.8 5.4 3.9-4.5-4-5.2z"/><path color="#51181a" d="M855.5 440.4l3.6 4.1 8.2 3.7-3-3.8z"/><path color="#7c95ae" d="M923.8 355.8l6.4 3 2.5-1.4-7.2-2.6z"/><path color="#8c9faa" d="M905.2 353.7l-5.7 2.8 2.7 .7 4.3-3.1z"/><path color="#5e7991" d="M952.3 368.1l5.6 4.5 3.1-3.5-6-4z"/><path color="#526e86" d="M963 377.5l4.5 5.2 3.7-4.3-4.8-4.8z"/><path color="#625b57" d="M938.8 454.7l-2.8 2.4 8.9-2.3 3.8-2.6z"/><path color="#57738b" d="M957.9 372.6l5.1 4.9 3.4-3.9-5.4-4.5z"/><path color="#859caf" d="M914.8 354.1l3.9 3.2 2.8-.6-5.3-2.9z"/><path color="#612526" d="M841.2 415.4l.9 5.5 6.8 5-.8-5.5z"/><path color="#8b9eaa" d="M906.5 354.1l-4.3 3.1 3.1 .5 2.8-3.4z"/><path color="#562f27" d="M893.2 458.4l2.1 1.6 9.5 .8-.9-1.5z"/><path color="#a09895" d="M888.6 357l-7.1 2.9 3 2 6.3-3.4z"/><path color="#8298ab" d="M913.2 354.4l2.4 3.4 3.1-.5-3.9-3.2z"/><path color="#4e6472" d="M970.6 427l-1.4 5.2 7.4-4.7 1.6-5.3z"/><path color="#5d453b" d="M915 459.4l-.5 1.5 9.6-.7 1.8-1.5z"/><path color="#899dab" d="M908.1 354.3l-2.8 3.4 3.4 .3 1.1-3.5z"/><path color="#869aaa" d="M911.5 354.5l.7 3.5 3.4-.2-2.4-3.4z"/><path color="#5d6366" d="M954.9 445.2l-2.9 3.8 8.8-3.5 3.4-4z"/><path color="#9a9fa2" d="M897.4 355.6l-6.6 2.9 3.2 1.3 5.5-3.3z"/><path color="#8a9fac" d="M909.8 354.5l-1.1 3.5 3.5 0-.7-3.5z"/><path color="#768fa7" d="M930.2 358.8l6.1 3.6 3.3-1.9-6.9-3.1z"/><path color="#593b32" d="M903.9 459.3l.9 1.5 9.7 .1 .5-1.5z"/><path color="#8097ac" d="M921.5 356.7l5.2 3.4 3.5-1.3-6.4-3z"/><path color="#65292a" d="M841.2 409.7l0 5.7 6.9 5 0-5.7z"/><path color="#a49088" d="M881.5 359.9l-6.7 3.5 3.7 2.5 6-4z"/><path color="#511c1e" d="M852.6 436l2.9 4.4 8.8 4-2.5-4.3z"/><path color="#511d1d" d="M867.3 448.2l3.5 3.2 9.5 2.8-2.7-3.1z"/><path color="#4e6474" d="M971.4 421.6l-.8 5.4 7.6-4.8 .9-5.5z"/><path color="#522421" d="M880.3 454.2l3 2.4 9.9 1.8-2-2.3z"/><path color="#6d3336" d="M842 404l-.8 5.7 6.9 5 .7-5.8z"/><path color="#91979b" d="M899.5 356.5l-5.5 3.3 4 1.1 4.2-3.7z"/><path color="#6f869c" d="M936.3 362.4l5.8 4 4-2.3-6.5-3.6z"/><path color="#9d817b" d="M874.8 363.4l-6.2 4 4.2 2.9 5.7-4.4z"/><path color="#5f5049" d="M927.5 456.5l-1.6 2.2 10.1-1.6 2.8-2.4z"/><path color="#5e5956" d="M941.3 451.8l-2.5 2.9 9.9-2.5 3.3-3.2z"/><path color="#7e92a6" d="M918.7 357.3l3.9 3.8 4.1-1-5.2-3.4z"/><path color="#938e8e" d="M890.8 358.5l-6.3 3.4 4.2 1.8 5.3-3.9z"/><path color="#586266" d="M957.2 441l-2.3 4.2 9.3-3.7 2.8-4.4z"/><path color="#4d6275" d="M971.4 415.9l0 5.7 7.7-4.9 0-5.7z"/><path color="#73393b" d="M843.6 398.3l-1.6 5.7 6.8 4.9 1.4-5.9z"/><path color="#9f7771" d="M868.6 367.4l-5.8 4.4 4.8 3.3 5.2-4.8z"/><path color="#75899f" d="M926.7 360.1l5.1 4 4.5-1.7-6.1-3.6z"/><path color="#687d91" d="M942.1 366.4l5.5 4.6 4.7-2.9-6.2-4z"/><path color="#869099" d="M902.2 357.2l-4.2 3.7 4.6 .7 2.7-3.9z"/><path color="#532223" d="M850.4 431.1l2.2 4.9 9.2 4.1-1.9-4.8z"/><path color="#7c4145" d="M846 392.6l-2.4 5.7 6.6 4.7 2.2-5.9z"/><path color="#7c8d9f" d="M915.6 357.8l2.2 4 4.8-.7-3.9-3.8z"/><path color="#996a68" d="M862.8 371.8l-5.2 4.8 5.3 3.6 4.7-5.1z"/><path color="#542e29" d="M891.2 456.1l2 2.3 10.7 .9-.7-2.1z"/><path color="#874b51" d="M849.1 387l-3.1 5.6 6.4 4.5 2.8-5.8z"/><path color="#4e6376" d="M970.8 410l.6 5.9 7.7-4.9-.8-5.7z"/><path color="#925e5f" d="M857.6 376.6l-4.6 5.1 5.7 4 4.2-5.5z"/><path color="#8e5457" d="M853 381.7l-3.9 5.3 6.1 4.3 3.5-5.6z"/><path color="#5a433d" d="M915.5 457.3l-.5 2.1 10.9-.7 1.6-2.2z"/><path color="#838f98" d="M905.3 357.7l-2.7 3.9 5 .4 1.1-4z"/><path color="#4f2121" d="M864.3 444.4l3 3.8 10.3 2.9-2.3-3.6z"/><path color="#7c8a9b" d="M912.2 358l.6 4.1 5-.3-2.2-4z"/><path color="#63778a" d="M947.6 371l5 4.9 5.3-3.3-5.6-4.5z"/><path color="#84909b" d="M908.7 358l-1.1 4 5.2 .1-.6-4.1z"/><path color="#94837e" d="M884.5 361.9l-6 4 5.1 2.1 5.1-4.3z"/><path color="#573932" d="M903.2 457.2l.7 2.1 11.1 .1 .5-2.1z"/><path color="#4f6275" d="M969.4 404.1l1.4 5.9 7.5-4.7-1.5-5.8z"/><path color="#8e8a8b" d="M894 359.8l-5.3 3.9 5.3 1.4 4-4.2z"/><path color="#536067" d="M959 436.3l-1.8 4.7 9.8-3.9 2.2-4.9z"/><path color="#5d7083" d="M952.6 375.9l4.5 5.2 5.9-3.6-5.1-4.9z"/><path color="#522525" d="M877.6 451.1l2.7 3.1 10.9 1.9-1.7-2.8z"/><path color="#552627" d="M848.9 425.9l1.5 5.2 9.5 4.2-1.3-5.1z"/><path color="#4f6375" d="M967.3 398.2l2.1 5.9 7.4-4.6-2.4-5.8z"/><path color="#595755" d="M943.4 448.2l-2.1 3.6 10.7-2.8 2.9-3.8z"/><path color="#708396" d="M931.8 364.1l4.8 4.4 5.5-2.1-5.8-4z"/><path color="#768698" d="M922.6 361.1l3.7 4.3 5.5-1.3-5.1-4z"/><path color="#596b7d" d="M957.1 381.1l4 5.5 6.4-3.9-4.5-5.2z"/><path color="#526577" d="M964.5 392.3l2.8 5.9 7.1-4.5-3.1-5.6z"/><path color="#556879" d="M961.1 386.6l3.4 5.7 6.8-4.2-3.8-5.4z"/><path color="#5c4e48" d="M929 453.6l-1.5 2.9 11.3-1.8 2.5-2.9z"/><path color="#927773" d="M878.5 365.9l-5.7 4.4 6 2.5 4.8-4.8z"/><path color="#828286" d="M898 360.9l-4 4.2 6 1 2.6-4.5z"/><path color="#4f2527" d="M861.8 440.1l2.5 4.3 11 3.1-1.9-4.1z"/><path color="#4f5d68" d="M960.2 431.2l-1.2 5.1 10.2-4.1 1.4-5.2z"/><path color="#572d30" d="M848.1 420.4l.8 5.5 9.7 4.3-.6-5.4z"/><path color="#758394" d="M917.8 361.8l2.3 4.5 6.2-.9-3.7-4.3z"/><path color="#6a798b" d="M936.6 368.5l4.5 4.9 6.5-2.4-5.5-4.6z"/><path color="#532e2d" d="M889.5 453.3l1.7 2.8 12 1.1-.7-2.8z"/><path color="#837878" d="M888.7 363.7l-5.1 4.3 6.5 1.8 3.9-4.7z"/><path color="#7b7d84" d="M902.6 361.6l-2.6 4.5 6.6 .5 1-4.6z"/><path color="#896969" d="M872.8 370.3l-5.2 4.8 6.8 2.9 4.4-5.2z"/><path color="#57413d" d="M915.9 454.5l-.4 2.8 12-.8 1.5-2.9z"/><path color="#747c8b" d="M912.8 362.1l.6 4.6 6.7-.4-2.3-4.5z"/><path color="#545555" d="M945.1 444.1l-1.7 4.1 11.5-3 2.3-4.2z"/><path color="#6d7888" d="M926.3 365.4l3.5 4.7 6.8-1.6-4.8-4.4z"/><path color="#7a7f88" d="M907.6 362l-1 4.6 6.8 .1-.6-4.6z"/><path color="#50292a" d="M875.3 447.5l2.3 3.6 11.9 2.2-1.5-3.5z"/><path color="#5b3236" d="M848.1 414.7l0 5.7 9.9 4.4-.1-5.7z"/><path color="#543634" d="M902.5 454.4l.7 2.8 12.3 .1 .4-2.8z"/><path color="#4e5d69" d="M960.8 425.7l-.6 5.5 10.4-4.2 .8-5.4z"/><path color="#647080" d="M941.1 373.4l4.2 5.2 7.3-2.7-5-4.9z"/><path color="#875e61" d="M867.6 375.1l-4.7 5.1 7.6 3.3 3.9-5.5z"/><path color="#564a46" d="M930.3 450.2l-1.3 3.4 12.3-1.8 2.1-3.6z"/><path color="#4f292c" d="M859.9 435.3l1.9 4.8 11.6 3.3-1.4-4.6z"/><path color="#61393e" d="M848.8 408.9l-.7 5.8 9.8 4.4 .6-5.9z"/><path color="#7e7576" d="M894 365.1l-3.9 4.7 7.4 1.2 2.5-4.9z"/><path color="#7c696b" d="M883.6 368l-4.8 4.8 7.6 2.1 3.7-5.1z"/><path color="#85555b" d="M862.9 380.2l-4.2 5.5 8.3 3.5 3.5-5.7z"/><path color="#4f5c6b" d="M960.9 420l-.1 5.7 10.6-4.1 0-5.7z"/><path color="#684047" d="M850.2 403l-1.4 5.9 9.7 4.3 1.3-6z"/><path color="#6f7785" d="M920.1 366.3l2.1 4.9 7.6-1.1-3.5-4.7z"/><path color="#5f6b79" d="M945.3 378.6l3.7 5.6 8.1-3.1-4.5-5.2z"/><path color="#7e4d57" d="M858.7 385.7l-3.5 5.6 8.8 3.8 3-5.9z"/><path color="#6f454c" d="M852.4 397.1l-2.2 5.9 9.6 4.2 1.8-6.1z"/><path color="#4e5255" d="M946.4 439.5l-1.3 4.6 12.1-3.1 1.8-4.7z"/><path color="#68707d" d="M929.8 370.1l3.4 5.2 7.9-1.9-4.5-4.9z"/><path color="#754851" d="M855.2 391.3l-2.8 5.8 9.2 4 2.4-6z"/><path color="#532f31" d="M888 449.8l1.5 3.5 13 1.1-.6-3.4z"/><path color="#4e5b6a" d="M960.3 414.1l.6 5.9 10.5-4.1-.6-5.9z"/><path color="#716e74" d="M900 366.1l-2.5 4.9 8.1 .7 1-5.1z"/><path color="#4f2e30" d="M873.4 443.4l1.9 4.1 12.7 2.3-1.2-4z"/><path color="#5a6572" d="M949 384.2l3.3 5.8 8.8-3.4-4-5.5z"/><path color="#523e3c" d="M916.2 451.2l-.3 3.3 13.1-.9 1.3-3.4z"/><path color="#523034" d="M858.6 430.2l1.3 5.1 12.1 3.5-1-5.1z"/><path color="#6c6f7b" d="M913.4 366.7l.6 5 8.2-.5-2.1-4.9z"/><path color="#706f78" d="M906.6 366.6l-1 5.1 8.4 0-.6-5z"/><path color="#4f5b69" d="M959.1 408.1l1.2 6 10.5-4.1-1.4-5.9z"/><path color="#57616e" d="M952.3 390l2.8 5.9 9.4-3.6-3.4-5.7z"/><path color="#7c6062" d="M878.8 372.8l-4.4 5.2 8.7 2.3 3.3-5.4z"/><path color="#523638" d="M901.9 451l.6 3.4 13.4 .1 .3-3.3z"/><path color="#504846" d="M931.3 446.2l-1 4 13.1-2 1.7-4.1z"/><path color="#515c69" d="M957.4 402l1.7 6.1 10.3-4-2.1-5.9z"/><path color="#535e6a" d="M955.1 395.9l2.3 6.1 9.9-3.8-2.8-5.9z"/><path color="#74656a" d="M890.1 369.8l-3.7 5.1 8.8 1.4 2.3-5.3z"/><path color="#4a4f54" d="M947.3 434.5l-.9 5 12.6-3.2 1.2-5.1z"/><path color="#616874" d="M933.2 375.3l3.1 5.5 9-2.2-4.2-5.2z"/><path color="#666975" d="M922.2 371.2l2 5.4 9-1.3-3.4-5.2z"/><path color="#54363b" d="M858 424.8l.6 5.4 12.4 3.5-.5-5.4z"/><path color="#77565d" d="M874.4 378l-3.9 5.5 9.5 2.6 3.1-5.8z"/><path color="#503337" d="M872 438.8l1.4 4.6 13.4 2.4-.9-4.6z"/><path color="#513438" d="M886.8 445.8l1.2 4 13.9 1.2-.5-3.9z"/><path color="#685e67" d="M897.5 371l-2.3 5.3 9.5 .8 .9-5.4z"/><path color="#4e3d3d" d="M916.5 447.2l-.3 4 14.1-1 1-4z"/><path color="#484d55" d="M947.8 429l-.5 5.5 12.9-3.3 .6-5.5z"/><path color="#64616b" d="M914 371.7l.5 5.5 9.7-.6-2-5.4z"/><path color="#5b5f69" d="M936.3 380.8l2.7 5.8 10-2.4-3.7-5.6z"/><path color="#573a41" d="M857.9 419.1l.1 5.7 12.5 3.5-.1-5.7z"/><path color="#4a4445" d="M932.1 441.7l-.8 4.5 13.8-2.1 1.3-4.6z"/><path color="#704c56" d="M870.5 383.5l-3.5 5.7 10.4 2.8 2.6-5.9z"/><path color="#696169" d="M905.6 371.7l-.9 5.4 9.8 .1-.5-5.5z"/><path color="#69575e" d="M886.4 374.9l-3.3 5.4 9.9 1.7 2.2-5.7z"/><path color="#4f363a" d="M901.4 447.1l.5 3.9 14.3 .2 .3-4z"/><path color="#5e5d66" d="M924.2 376.6l1.8 5.7 10.3-1.5-3.1-5.5z"/><path color="#5a3d46" d="M858.5 413.2l-.6 5.9 12.5 3.5 .5-6z"/><path color="#6b4752" d="M867 389.2l-3 5.9 11.1 3.1 2.3-6.2z"/><path color="#474c57" d="M947.8 423.3l0 5.7 13-3.3 .1-5.7z"/><path color="#575860" d="M939 386.6l2.5 6 10.8-2.6-3.3-5.8z"/><path color="#50363d" d="M871 433.7l1 5.1 13.9 2.4-.6-5z"/><path color="#5d404a" d="M859.8 407.2l-1.3 6 12.4 3.4 .9-6.1z"/><path color="#664550" d="M864 395.1l-2.4 6 11.6 3.2 1.9-6.1z"/><path color="#62434d" d="M861.6 401.1l-1.8 6.1 12 3.3 1.4-6.2z"/><path color="#4f353b" d="M885.9 441.2l.9 4.6 14.6 1.3-.3-4.5z"/><path color="#484c56" d="M947.4 417.4l.4 5.9 13.1-3.3-.6-5.9z"/><path color="#60525c" d="M895.2 376.3l-2.2 5.7 10.9 .9 .8-5.8z"/><path color="#51535c" d="M941.5 392.6l2.1 6.2 11.5-2.9-2.8-5.9z"/><path color="#444145" d="M932.6 436.7l-.5 5 14.3-2.2 .9-5z"/><path color="#604b57" d="M883.1 380.3l-3.1 5.8 11.1 1.8 1.9-5.9z"/><path color="#493c3e" d="M916.7 442.7l-.2 4.5 14.8-1 .8-4.5z"/><path color="#5d565e" d="M914.5 377.2l.5 5.8 11-.7-1.8-5.7z"/><path color="#494b55" d="M946.5 411.2l.9 6.2 12.9-3.3-1.2-6z"/><path color="#4e4f58" d="M943.6 398.8l1.7 6.2 12.1-3-2.3-6.1z"/><path color="#57525a" d="M926 382.3l1.7 5.9 11.3-1.6-2.7-5.8z"/><path color="#5d545f" d="M904.7 377.1l-.8 5.8 11.1 .1-.5-5.8z"/><path color="#4c4d56" d="M945.3 405l1.2 6.2 12.6-3.1-1.7-6.1z"/><path color="#4c343a" d="M901.1 442.6l.3 4.5 15.1 .1 .2-4.5z"/><path color="#4f3940" d="M870.5 428.3l.5 5.4 14.3 2.5-.4-5.4z"/><path color="#5e4452" d="M880 386.1l-2.6 5.9 12 2.1 1.7-6.2z"/><path color="#424046" d="M932.9 431.3l-.3 5.4 14.7-2.2 .5-5.5z"/><path color="#4d373e" d="M885.3 436.2l.6 5 15.2 1.4-.3-5z"/><path color="#594755" d="M893 382l-1.9 5.9 12 1 .8-6z"/><path color="#503b43" d="M870.4 422.6l.1 5.7 14.4 2.5 0-5.7z"/><path color="#524c53" d="M927.7 388.2l1.4 6.2 12.4-1.8-2.5-6z"/><path color="#44383e" d="M916.9 437.7l-.2 5 15.4-1 .5-5z"/><path color="#554c56" d="M915 383l.5 6 12.2-.8-1.7-5.9z"/><path color="#5b3f4e" d="M877.4 392l-2.3 6.2 12.8 2.1 1.5-6.2z"/><path color="#554855" d="M903.9 382.9l-.8 6 12.4 .1-.5-6z"/><path color="#4a353d" d="M900.8 437.6l.3 5 15.6 .1 .2-5z"/><path color="#413e47" d="M932.9 425.6l0 5.7 14.9-2.3 0-5.7z"/><path color="#503b46" d="M870.9 416.6l-.5 6 14.5 2.5 .3-6z"/><path color="#573e4d" d="M875.1 398.2l-1.9 6.1 13.5 2.3 1.2-6.3z"/><path color="#4d464d" d="M929.1 394.4l1.3 6.3 13.2-1.9-2.1-6.2z"/><path color="#523d48" d="M871.8 410.5l-.9 6.1 14.3 2.5 .6-6.2z"/><path color="#4a3740" d="M884.9 430.8l.4 5.4 15.5 1.4-.1-5.4z"/><path color="#543e4b" d="M873.2 404.3l-1.4 6.2 14 2.4 .9-6.3z"/><path color="#53404f" d="M891.1 387.9l-1.7 6.2 13 1.1 .7-6.3z"/><path color="#413d48" d="M932.7 419.6l.2 6 14.9-2.3-.4-5.9z"/><path color="#3f363f" d="M917 432.4l-.1 5.3 15.7-1 .3-5.4z"/><path color="#4e4450" d="M915.5 389l.4 6.3 13.2-.9-1.4-6.2z"/><path color="#48424a" d="M930.4 400.7l1 6.4 13.9-2.1-1.7-6.2z"/><path color="#433e48" d="M932.2 413.4l.5 6.2 14.7-2.2-.9-6.2z"/><path color="#453f48" d="M931.4 407.1l.8 6.3 14.3-2.2-1.2-6.2z"/><path color="#4d404e" d="M903.1 388.9l-.7 6.3 13.5 .1-.4-6.3z"/><path color="#46343f" d="M900.7 432.2l.1 5.4 16.1 .1 .1-5.3z"/><path color="#493742" d="M884.9 425.1l0 5.7 15.8 1.4 0-5.7z"/><path color="#4e394b" d="M889.4 394.1l-1.5 6.2 14 1.2 .5-6.3z"/><path color="#3d353f" d="M917 426.6l0 5.8 15.9-1.1 0-5.7z"/><path color="#483d4a" d="M915.9 395.3l.4 6.3 14.1-.9-1.3-6.3z"/><path color="#493744" d="M885.2 419.1l-.3 6 15.8 1.4 .1-6z"/><path color="#4a3648" d="M887.9 400.3l-1.2 6.3 14.7 1.3 .5-6.4z"/><path color="#47394a" d="M902.4 395.2l-.5 6.3 14.4 .1-.4-6.3z"/><path color="#41303d" d="M900.7 426.5l0 5.7 16.3 .2 0-5.8z"/><path color="#3c3541" d="M916.9 420.6l.1 6 15.9-1-.2-6z"/><path color="#433847" d="M916.3 401.6l.2 6.4 14.9-.9-1-6.4z"/><path color="#463644" d="M885.8 412.9l-.6 6.2 15.6 1.4 .2-6.3z"/><path color="#463545" d="M886.7 406.6l-.9 6.3 15.2 1.3 .4-6.3z"/><path color="#3d3543" d="M916.8 414.4l.1 6.2 15.8-1-.5-6.2z"/><path color="#3f3543" d="M916.5 408l.3 6.4 15.4-1-.8-6.3z"/><path color="#423445" d="M901.9 401.5l-.5 6.4 15.1 .1-.2-6.4z"/><path color="#3e3040" d="M900.8 420.5l-.1 6 16.3 .1-.1-6z"/><path color="#3f3143" d="M901.4 407.9l-.4 6.3 15.8 .2-.3-6.4z"/><path color="#3d3042" d="M901 414.2l-.2 6.3 16.1 .1-.1-6.2z"/></g>
<g class="f" opacity="0.504"><path color="#a8c1cf" d="M911.6 332.3l.3-.3-8.3 .2 1.7 .3z"/><path color="#9abacb" d="M917.9 332.6l2.2-.2-8.2-.4-.3 .3z"/><path color="#c7cfd3" d="M888.3 334.3l-5 1-7.7 2.2 6.5-1.4z"/><path color="#cecdcc" d="M875.6 337.5l-6 2.2-7.2 3.2 7.1-2.7z"/><path color="#aec5d1" d="M905.3 332.5l-1.7-.3-8 .8 3.6 .1z"/><path color="#caab9b" d="M855.9 346.2l-5.8 4.1-6.3 4.5 6.5-4.5z"/><path color="#94b8ca" d="M923.9 333.3l4.1 0-7.9-.9-2.2 .2z"/><path color="#6c9fba" d="M941 336.6l6.8 1.6-7.3-2.4-5.5-1.1z"/><path color="#548eb0" d="M953.4 341l7.3 2.7-6.6-3.2-6.3-2.3z"/><path color="#b7c9d2" d="M899.2 333.1l-3.6-.1-7.3 1.3 5.4-.2z"/><path color="#35739d" d="M972.4 351.4l6.6 4.6-5.5-4.6-6-4.2z"/><path color="#82adc3" d="M929.3 334.4l5.7 .3-7-1.4-4.1 0z"/><path color="#d0bfb6" d="M862.4 342.9l-6.5 3.3-5.6 4.1 7.2-3.8z"/><path color="#ccced0" d="M882.1 336.1l-6.5 1.4-6.1 2.7 7.6-1.9z"/><path color="#c1cdd2" d="M893.7 334.1l-5.4 .2-6.2 1.8 6.8-.6z"/><path color="#be8c77" d="M838.1 359.8l-4.8 5.6-3.7 5.7 5-5.9z"/><path color="#437da3" d="M965.1 347.4l7.3 4-4.9-4.2-6.8-3.5z"/><path color="#6096b4" d="M945.6 338.9l7.8 2.1-5.6-2.8-6.8-1.6z"/><path color="#285f8b" d="M992.5 372.6l4.1 6.3-3-6.1-3.9-6z"/><path color="#78a6be" d="M933.8 335.9l7.2 .7-6-1.9-5.7-.3z"/><path color="#a7c1cd" d="M911.4 333.5l.2-1.2-6.3 .2 1.8 1.1z"/><path color="#9cbaca" d="M915.6 333.7l2.3-1.1-6.3-.3-.2 1.2z"/><path color="#cec3bd" d="M869.5 340.2l-7.1 2.7-4.9 3.6 7.8-3.2z"/><path color="#aac2ce" d="M907.1 333.6l-1.8-1.1-6.1 .6 3.8 .9z"/><path color="#97b7c8" d="M919.7 334.2l4.2-.9-6-.7-2.3 1.1z"/><path color="#c2947f" d="M843.8 354.8l-5.7 5-3.5 5.4 6-5.5z"/><path color="#2b658f" d="M987.4 366.5l5.1 6.1-2.8-5.8-4.9-5.7z"/><path color="#b4c6cf" d="M903 334l-3.8-.9-5.5 1 5.6 .6z"/><path color="#5188ab" d="M957.1 344.1l8 3.3-4.4-3.7-7.3-2.7z"/><path color="#c5cccf" d="M888.9 335.5l-6.8 .6-5 2.2 8.1-1.2z"/><path color="#8bb0c4" d="M923.3 334.9l6-.5-5.4-1.1-4.2 .9z"/><path color="#c7a594" d="M850.3 350.3l-6.5 4.5-3.2 4.9 6.8-5z"/><path color="#6e9eb9" d="M937.3 337.6l8.3 1.3-4.6-2.3-7.2-.7z"/><path color="#91453a" d="M820.3 390.8l-1 7 0 6.8 1-7.1z"/><path color="#cbc6c3" d="M877.1 338.3l-7.6 1.9-4.2 3.1 8.4-2.5z"/><path color="#346c94" d="M981.4 360.9l6 5.6-2.6-5.4-5.8-5.1z"/><path color="#b5c6ce" d="M899.3 334.7l-5.6-.6-4.8 1.4 7.2 .1z"/><path color="#80a9c0" d="M926.3 335.9l7.5 0-4.5-1.5-6 .5z"/><path color="#5f91b1" d="M948.6 341.4l8.5 2.7-3.7-3.1-7.8-2.1z"/><path color="#2a5a7d" d="M1001.7 406.3l0 7 1-6.8 .1-7z"/><path color="#974b3d" d="M822.4 384l-2.1 6.8 0 6.7 2.1-7z"/><path color="#caafa1" d="M857.5 346.5l-7.2 3.8-2.9 4.4 7.6-4.4z"/><path color="#3b729a" d="M974.5 355.9l6.9 5-2.4-4.9-6.6-4.6z"/><path color="#b5c4cc" d="M896.1 335.6l-7.2-.1-3.7 1.6 8.3-.3z"/><path color="#c1c4c5" d="M885.2 337.1l-8.1 1.2-3.4 2.5 8.9-1.8z"/><path color="#a0bbc9" d="M911.1 335.5l.3-2-4.3 .1 1.9 2z"/><path color="#2e5d7e" d="M1000.7 399.2l1 7.1 1.1-6.8-1-7z"/><path color="#99b6c7" d="M913.3 335.6l2.3-1.9-4.2-.2-.3 2z"/><path color="#9b5141" d="M825.5 377.4l-3.1 6.6 0 6.5 3.1-6.9z"/><path color="#a2bbc9" d="M909 335.6l-1.9-2-4.1 .4 3.9 1.8z"/><path color="#91b2c4" d="M915.3 335.9l4.4-1.7-4.1-.5-2.3 1.9z"/><path color="#7ea7be" d="M928.7 337.1l8.6 .5-3.5-1.7-7.5 0z"/><path color="#c8b7af" d="M865.3 343.3l-7.8 3.2-2.5 3.8 8.2-3.7z"/><path color="#487ba0" d="M966.9 351.3l7.6 4.6-2.1-4.5-7.3-4z"/><path color="#6c98b5" d="M939.6 339.5l9 1.9-3-2.5-8.3-1.3z"/><path color="#a4bcc9" d="M906.9 335.8l-3.9-1.8-3.7 .7 5.7 1.5z"/><path color="#90b1c4" d="M917.1 336.3l6.2-1.4-3.6-.7-4.4 1.7z"/><path color="#2f5f80" d="M998.7 392.1l2 7.1 1.1-6.7-2.1-6.9z"/><path color="#a86857" d="M829.6 371.1l-4.1 6.3 0 6.2 4.1-6.6z"/><path color="#6a1f20" d="M822.7 425.3l3.3 6.5 4 6.4-3.1-6.3z"/><path color="#a9bec9" d="M905 336.2l-5.7-1.5-3.2 .9 7.3 1z"/><path color="#4c6573" d="M990.1 439.7l-4 5.8 4.8-6 4.2-6.1z"/><path color="#5383a6" d="M958.6 347.4l8.3 3.9-1.8-3.9-8-3.3z"/><path color="#c5bbb6" d="M873.7 340.8l-8.4 2.5-2.1 3.3 8.9-3.1z"/><path color="#8caec2" d="M918.7 336.7l7.6-.8-3-1-6.2 1.4z"/><path color="#b3bfc5" d="M893.5 336.8l-8.3 .3-2.6 1.9 9.2-1z"/><path color="#305f82" d="M995.6 385.2l3.1 6.9 1-6.5-3.1-6.7z"/><path color="#af7564" d="M834.6 365.2l-5 5.9 0 5.9 5.1-6.3z"/><path color="#78a0ba" d="M930.2 338.4l9.4 1.1-2.3-1.9-8.6-.5z"/><path color="#a9bdc8" d="M903.4 336.6l-7.3-1-2.6 1.2 8.6 .4z"/><path color="#6d1e20" d="M820.5 418.6l2.2 6.7 4.2 6.6-2.1-6.7z"/><path color="#5f8cac" d="M949.8 344.1l8.8 3.3-1.5-3.3-8.5-2.7z"/><path color="#88abbf" d="M919.8 337.3l8.9-.2-2.4-1.2-7.6 .8z"/><path color="#bdbcbb" d="M882.6 339l-8.9 1.8-1.6 2.7 9.2-2.4z"/><path color="#5b1a1a" d="M839 449.4l5.8 4.9 6.5 4.9-5.2-4.5z"/><path color="#b68675" d="M840.6 359.7l-6 5.5 .1 5.5 6-6z"/><path color="#336287" d="M991.5 378.4l4.1 6.8 1-6.3-4.1-6.3z"/><path color="#476576" d="M993.1 433.5l-3 6.2 5-6.3 3.2-6.4z"/><path color="#541e1c" d="M857.2 462.9l6.5 3.1 7.5 3.4-5.5-2.6z"/><path color="#6b94b2" d="M940.5 341.6l9.3 2.5-1.2-2.7-9-1.9z"/><path color="#a6bac4" d="M902.1 337.2l-8.6-.4-1.7 1.2 9.5-.2z"/><path color="#bd9586" d="M847.4 354.7l-6.8 5 .1 5 6.8-5.5z"/><path color="#552520" d="M871.2 469.4l5.9 1.8 8 2.4-4.5-1.4z"/><path color="#702022" d="M819.4 411.6l1.1 7 4.3 6.6-1.1-6.9z"/><path color="#386689" d="M986.4 372l5.1 6.4 1-5.8-5.1-6.1z"/><path color="#b1babf" d="M891.8 338l-9.2 1-1.3 2.1 9.7-1.7z"/><path color="#82a6bd" d="M920.6 338l9.6 .4-1.5-1.3-8.9 .2z"/><path color="#5f463c" d="M914.7 476.2l-.7 .1 8.3-.6 2.6-.2z"/><path color="#99b4c3" d="M910.9 338.4l.2-2.9-2.1 .1z"/><path color="#97b3c3" d="M910.9 338.4l2.4-2.8-2.2-.1z"/><path color="#98b4c3" d="M910.9 338.4l-1.9-2.8-2.1 .2z"/><path color="#676666" d="M953.5 467.7l-5.2 2.5 8-3.3 6.3-2.9z"/><path color="#8babbf" d="M910.9 338.4l4.4-2.5-2-.3z"/><path color="#5d3e33" d="M904.4 476.1l1.2 .1 8.4 .1 .7-.1z"/><path color="#5f686d" d="M973.4 456l-5.1 4.3 7.3-4.8 5.7-4.7z"/><path color="#bf9e8f" d="M855 350.3l-7.6 4.4 .1 4.5 7.6-4.9z"/><path color="#99b4c3" d="M910.9 338.4l-4-2.6-1.9 .4z"/><path color="#456476" d="M995.2 426.8l-2.1 6.7 5.2-6.5 2.2-6.7z"/><path color="#789eb7" d="M930.8 339.8l9.7 1.8-.9-2.1-9.4-1.1z"/><path color="#655c57" d="M938.5 472.7l-4.1 1.3 8.3-2.1 5.6-1.7z"/><path color="#8eacbf" d="M910.9 338.4l6.2-2.1-1.8-.4z"/><path color="#3f6b8d" d="M980.4 366l6 6 1-5.5-6-5.6z"/><path color="#97b3c3" d="M910.9 338.4l-5.9-2.2-1.6 .4z"/><path color="#88aabe" d="M910.9 338.4l7.8-1.7-1.6-.4z"/><path color="#5a1519" d="M834 444.1l5 5.3 7.1 5.3-4.5-5z"/><path color="#a5b7c0" d="M901.3 337.8l-9.5 .2-.8 1.4 9.8-.9z"/><path color="#7a2c2b" d="M819.3 404.6l.1 7 4.3 6.7-.1-7.1z"/><path color="#bfa89d" d="M863.2 346.6l-8.2 3.7 .1 4 8.3-4.4z"/><path color="#96b3c3" d="M910.9 338.4l-7.5-1.8-1.3 .6z"/><path color="#87a9be" d="M910.9 338.4l8.9-1.1-1.1-.6z"/><path color="#477292" d="M973.7 360.4l6.7 5.6 1-5.1-6.9-5z"/><path color="#7fa3ba" d="M920.9 338.7l9.9 1.1-.6-1.4-9.6-.4z"/><path color="#96b3c2" d="M910.9 338.4l-8.8-1.2-.8 .6z"/><path color="#bbaea7" d="M872.1 343.5l-8.9 3.1 .2 3.3 8.8-3.7z"/><path color="#88aabe" d="M910.9 338.4l9.7-.4-.8-.7z"/><path color="#4f7798" d="M966.1 355.3l7.6 5.1 .8-4.5-7.6-4.6z"/><path color="#406278" d="M996.3 420l-1.1 6.8 5.3-6.5 1.2-7z"/><path color="#96b1c1" d="M910.9 338.4l-9.6-.6-.5 .7z"/><path color="#b7b4b2" d="M881.3 341.1l-9.2 2.4 .1 2.7 9.2-3.1z"/><path color="#551a19" d="M851.3 459.2l5.9 3.7 8.5 3.9-5-3.3z"/><path color="#86a8bd" d="M910.9 338.4l10 .3-.3-.7z"/><path color="#81322f" d="M820.3 397.5l-1 7.1 4.3 6.6 1-7.1z"/><path color="#a9b3b7" d="M891 339.4l-9.7 1.7 .1 2 9.7-2.3z"/><path color="#587f9f" d="M957.9 350.8l8.2 4.5 .8-4-8.3-3.9z"/><path color="#a4b5bd" d="M900.8 338.5l-9.8 .9 .1 1.4 9.8-1.6z"/><path color="#572b23" d="M880.6 472.2l4.5 1.4 9.3 1.6-3-1.1z"/><path color="#94b1c1" d="M910.9 338.4l-10.1 .1 .1 .7z"/><path color="#87a8bb" d="M910.9 338.4l9.8 1 .2-.7z"/><path color="#5c686f" d="M977.7 451l-4.3 5 7.9-5.2 4.8-5.3z"/><path color="#6288a7" d="M949.2 346.9l8.7 3.9 .7-3.4-8.8-3.3z"/><path color="#7ea0b8" d="M920.7 339.4l9.8 1.7 .3-1.3-9.9-1.1z"/><path color="#6d90ae" d="M940 343.6l9.2 3.3 .6-2.8-9.3-2.5z"/><path color="#7497b3" d="M930.5 341.1l9.5 2.5 .5-2-9.7-1.8z"/><path color="#8fadbe" d="M910.9 338.4l-10 .8 .5 .7z"/><path color="#59171b" d="M830 438.2l4 5.9 7.6 5.6-3.7-5.6z"/><path color="#625048" d="M927.4 474.5l-2.5 1 9.5-1.5 4.1-1.3z"/><path color="#84a4ba" d="M910.9 338.4l9.2 1.7 .6-.7z"/><path color="#3e617a" d="M996.4 412.9l-.1 7.1 5.4-6.7 0-7z"/><path color="#883e3a" d="M822.4 390.5l-2.1 7 4.3 6.6 2-7.3z"/><path color="#55211d" d="M865.7 466.8l5.5 2.6 9.4 2.8-4.2-2.3z"/><path color="#656565" d="M958.3 464.4l-4.8 3.3 9.1-3.7 5.7-3.7z"/><path color="#8dacbe" d="M910.9 338.4l-9.5 1.5 1 .6z"/><path color="#7fa1b9" d="M910.9 338.4l8.1 2.3 1.1-.6z"/><path color="#8cabbc" d="M910.9 338.4l-8.5 2.1 1.3 .6z"/><path color="#9dafb9" d="M900.9 339.2l-9.8 1.6 1 1.4 9.3-2.3z"/><path color="#81a1b9" d="M910.9 338.4l6.7 2.8 1.4-.5z"/><path color="#8cacbe" d="M910.9 338.4l-7.2 2.7 1.7 .4z"/><path color="#655d59" d="M942.4 470.6l-3.9 2.1 9.8-2.5 5.2-2.5z"/><path color="#934f49" d="M825.5 383.6l-3.1 6.9 4.2 6.3 2.9-7.1z"/><path color="#593329" d="M891.4 474.1l3 1.1 10 .9-1.2-.9z"/><path color="#80a1b9" d="M910.9 338.4l4.9 3.2 1.8-.4z"/><path color="#7e9fb7" d="M920.1 340.1l9.1 2.4 1.3-1.4-9.8-1.7z"/><path color="#3e617b" d="M995.4 405.6l1 7.3 5.3-6.6-1-7.1z"/><path color="#8ba9bb" d="M910.9 338.4l-5.5 3.1 2 .3z"/><path color="#60473c" d="M915.4 475.3l-.7 .9 10.2-.7 2.5-1z"/><path color="#81a1b7" d="M910.9 338.4l2.9 3.5 2-.3z"/><path color="#8cabbd" d="M910.9 338.4l-3.5 3.4 2.1 .2z"/><path color="#8caabd" d="M910.9 338.4l.8 3.6 2.1-.1z"/><path color="#8cacbe" d="M910.9 338.4l-1.4 3.6 2.2 0z"/><path color="#a2adb1" d="M891.1 340.8l-9.7 2.3 1.5 2.1 9.2-3z"/><path color="#556770" d="M981.2 445.5l-3.5 5.5 8.4-5.5 4-5.8z"/><path color="#55191b" d="M846.1 454.7l5.2 4.5 9.4 4.3-4.4-4.1z"/><path color="#5d1c1e" d="M826.9 431.9l3.1 6.3 7.9 5.9-2.8-6.1z"/><path color="#5c3d32" d="M903.2 475.2l1.2 .9 10.3 .1 .7-.9z"/><path color="#995751" d="M829.6 377l-4.1 6.6 4 6.1 4-6.9z"/><path color="#97abb5" d="M901.4 339.9l-9.3 2.3 1.9 1.2 8.4-2.9z"/><path color="#7495b1" d="M929.2 342.5l9 3.1 1.8-2-9.5-2.5z"/><path color="#afaaa7" d="M881.4 343.1l-9.2 3.1 1.9 2.6 8.8-3.6z"/><path color="#3e607b" d="M993.5 398.4l1.9 7.2 5.3-6.4-2-7.1z"/><path color="#a26a63" d="M834.7 370.7l-5.1 6.3 3.9 5.8 4.9-6.8z"/><path color="#7f9fb6" d="M919 340.7l8.1 3 2.1-1.2-9.1-2.4z"/><path color="#ada09a" d="M872.2 346.2l-8.8 3.7 2.3 3.3 8.4-4.4z"/><path color="#aa7970" d="M840.7 364.7l-6 6 3.7 5.3 5.7-6.4z"/><path color="#b59a90" d="M863.4 349.9l-8.3 4.4 2.8 3.9 7.8-5z"/><path color="#6c8caa" d="M938.2 345.6l8.6 3.9 2.4-2.6-9.2-3.3z"/><path color="#ae8279" d="M847.5 359.2l-6.8 5.5 3.4 4.9 6.5-5.9z"/><path color="#626567" d="M962.5 460.4l-4.2 4 10-4.1 5.1-4.3z"/><path color="#b08f86" d="M855.1 354.3l-7.6 4.9 3.1 4.5 7.3-5.5z"/><path color="#3f617d" d="M990.5 391.2l3 7.2 5.2-6.3-3.1-6.9z"/><path color="#562922" d="M876.4 469.9l4.2 2.3 10.8 1.9-2.7-1.9z"/><path color="#8ea4b0" d="M902.4 340.5l-8.4 2.9 2.7 1.1 7-3.4z"/><path color="#602223" d="M824.8 425.2l2.1 6.7 8.2 6.1-1.9-6.5z"/><path color="#55201e" d="M860.7 463.5l5 3.3 10.7 3.1-3.9-3z"/><path color="#506571" d="M984 439.4l-2.8 6.1 8.9-5.8 3-6.2z"/><path color="#7d9cb3" d="M917.6 341.2l6.6 3.5 2.9-1-8.1-3z"/><path color="#6483a0" d="M946.8 349.5l8.2 4.5 2.9-3.2-8.7-3.9z"/><path color="#42627d" d="M986.7 384.2l3.8 7 5.1-6-4.1-6.8z"/><path color="#9ca6aa" d="M892.1 342.2l-9.2 3 2.9 1.8 8.2-3.6z"/><path color="#62534b" d="M929.7 472.6l-2.3 1.9 11.1-1.8 3.9-2.1z"/><path color="#5d7b97" d="M955 354l7.7 5.1 3.4-3.8-8.2-4.5z"/><path color="#45657f" d="M981.9 377.3l4.8 6.9 4.8-5.8-5.1-6.4z"/><path color="#541c1c" d="M841.6 449.7l4.5 5 10.2 4.7-3.8-4.8z"/><path color="#7391ad" d="M927.1 343.7l7.9 3.8 3.2-1.9-9-3.1z"/><path color="#869fad" d="M903.7 341.1l-7 3.4 3.3 .9 5.4-3.9z"/><path color="#56738f" d="M962.7 359.1l7.1 5.6 3.9-4.3-7.6-5.1z"/><path color="#4a6983" d="M976.2 370.8l5.7 6.5 4.5-5.3-6-6z"/><path color="#635d5a" d="M945.9 467.7l-3.5 2.9 11.1-2.9 4.8-3.3z"/><path color="#4e6d88" d="M969.8 364.7l6.4 6.1 4.2-4.8-6.7-5.6z"/><path color="#7d99b0" d="M915.8 341.6l4.9 4 3.5-.9-6.6-3.5z"/><path color="#672b2a" d="M823.7 418.3l1.1 6.9 8.4 6.3-1-6.9z"/><path color="#849cac" d="M905.4 341.5l-5.4 3.9 3.9 .6 3.5-4.2z"/><path color="#58322a" d="M888.7 472.2l2.7 1.9 11.8 1.1-1-1.8z"/><path color="#9f9c9c" d="M882.9 345.2l-8.8 3.6 3.7 2.5 8-4.3z"/><path color="#7b96ac" d="M913.8 341.9l2.9 4.2 4-.5-4.9-4z"/><path color="#4a6273" d="M985.8 432.9l-1.8 6.5 9.1-5.9 2.1-6.7z"/><path color="#5f483f" d="M916.1 473.5l-.7 1.8 12-.8 2.3-1.9z"/><path color="#839dac" d="M907.4 341.8l-3.5 4.2 4.2 .3 1.4-4.3z"/><path color="#7d98ac" d="M911.7 342l.8 4.4 4.2-.3-2.9-4.2z"/><path color="#5d6468" d="M966 455.7l-3.5 4.7 10.9-4.4 4.3-5z"/><path color="#97a1a7" d="M894 343.4l-8.2 3.6 4 1.7 6.9-4.2z"/><path color="#849ead" d="M909.5 342l-1.4 4.3 4.4 .1-.8-4.4z"/><path color="#6d8aa6" d="M935 347.5l7.7 4.4 4.1-2.4-8.6-3.9z"/><path color="#5b3d34" d="M902.2 473.4l1 1.8 12.2 .1 .7-1.8z"/><path color="#7692ab" d="M924.2 344.7l6.6 4.3 4.2-1.5-7.9-3.8z"/><path color="#6b2f2f" d="M823.6 411.2l.1 7.1 8.5 6.3-.1-7.1z"/><path color="#a59691" d="M874.1 348.8l-8.4 4.4 4.5 3.1 7.6-5z"/><path color="#562021" d="M837.9 444.1l3.7 5.6 10.9 4.9-3.1-5.3z"/><path color="#552120" d="M856.3 459.4l4.4 4.1 11.8 3.4-3.4-3.7z"/><path color="#496274" d="M986.8 426.1l-1 6.8 9.4-6.1 1.1-6.8z"/><path color="#562824" d="M872.5 466.9l3.9 3 12.3 2.3-2.4-2.8z"/><path color="#753c3c" d="M824.6 404.1l-1 7.1 8.5 6.3 .9-7.3z"/><path color="#8c99a1" d="M896.7 344.5l-6.9 4.2 5 1.3 5.2-4.6z"/><path color="#657f99" d="M942.7 351.9l7.3 5.1 5-3-8.2-4.5z"/><path color="#9e8985" d="M865.7 353.2l-7.8 5 5.2 3.6 7.1-5.5z"/><path color="#61544e" d="M931.8 469.9l-2.1 2.7 12.7-2 3.5-2.9z"/><path color="#5f5c5a" d="M949 463.9l-3.1 3.8 12.4-3.3 4.2-4z"/><path color="#768fa7" d="M920.7 345.6l4.9 4.6 5.2-1.2-6.6-4.3z"/><path color="#8f9295" d="M885.8 347l-8 4.3 5.3 2.2 6.7-4.8z"/><path color="#576268" d="M969 450.4l-3 5.3 11.7-4.7 3.5-5.5z"/><path color="#485f76" d="M986.9 418.9l-.1 7.2 9.5-6.1 .1-7.1z"/><path color="#7b4342" d="M826.6 396.8l-2 7.3 8.4 6.1 1.8-7.4z"/><path color="#a3817d" d="M857.9 358.2l-7.3 5.5 6 4.1 6.5-6z"/><path color="#6b859f" d="M930.8 349l6.3 5 5.6-2.1-7.7-4.4z"/><path color="#5f768f" d="M950 357l6.9 5.6 5.8-3.5-7.7-5.1z"/><path color="#7e8f9c" d="M900 345.4l-5.2 4.6 5.7 .9 3.4-4.9z"/><path color="#592726" d="M835.1 438l2.8 6.1 11.5 5.2-2.4-6z"/><path color="#844c4e" d="M829.5 389.7l-2.9 7.1 8.2 6 2.7-7.4z"/><path color="#738aa1" d="M916.7 346.1l2.9 5 6-.9-4.9-4.6z"/><path color="#9e7675" d="M850.6 363.7l-6.5 5.9 6.6 4.6 5.9-6.4z"/><path color="#58332e" d="M886.3 469.4l2.4 2.8 13.5 1.2-1-2.6z"/><path color="#8f585d" d="M833.5 382.8l-4 6.9 8 5.7 3.6-7.3z"/><path color="#475f76" d="M986 411.6l.9 7.3 9.5-6-1-7.3z"/><path color="#996b6c" d="M844.1 369.6l-5.7 6.4 7.1 5.1 5.2-6.9z"/><path color="#956163" d="M838.4 376l-4.9 6.8 7.6 5.3 4.4-7z"/><path color="#5e4943" d="M916.6 470.9l-.5 2.6 13.6-.9 2.1-2.7z"/><path color="#7c8f9d" d="M903.9 346l-3.4 4.9 6.3 .5 1.3-5.1z"/><path color="#552725" d="M852.5 454.6l3.8 4.8 12.8 3.8-2.9-4.5z"/><path color="#74889e" d="M912.5 346.4l.8 5.1 6.3-.4-2.9-5z"/><path color="#597087" d="M956.9 362.6l6.3 6.1 6.6-4-7.1-5.6z"/><path color="#7c91a0" d="M908.1 346.3l-1.3 5.1 6.5 .1-.8-5.1z"/><path color="#948a88" d="M877.8 351.3l-7.6 5 6.5 2.6 6.4-5.4z"/><path color="#5b3e37" d="M901.2 470.8l1 2.6 13.9 .1 .5-2.6z"/><path color="#485e74" d="M984.3 404.2l1.7 7.4 9.4-6-1.9-7.2z"/><path color="#8a8d91" d="M889.8 348.7l-6.7 4.8 6.6 1.7 5.1-5.2z"/><path color="#4f5f69" d="M971.2 444.5l-2.2 5.9 12.2-4.9 2.8-6.1z"/><path color="#536a7f" d="M963.2 368.7l5.7 6.6 7.3-4.5-6.4-6.1z"/><path color="#562b28" d="M869.1 463.2l3.4 3.7 13.8 2.5-2.2-3.6z"/><path color="#5c2d2b" d="M833.2 431.5l1.9 6.5 11.9 5.3-1.6-6.4z"/><path color="#485d73" d="M981.7 396.7l2.6 7.5 9.2-5.8-3-7.2z"/><path color="#5a5a5a" d="M951.7 459.5l-2.7 4.4 13.5-3.5 3.5-4.7z"/><path color="#677d96" d="M937.1 354l6 5.5 6.9-2.5-7.3-5.1z"/><path color="#6c8199" d="M925.6 350.2l4.6 5.4 6.9-1.6-6.3-5z"/><path color="#4f6479" d="M968.9 375.3l5 6.9 8-4.9-5.7-6.5z"/><path color="#4a5f74" d="M978.2 389.4l3.5 7.3 8.8-5.5-3.8-7z"/><path color="#4c6176" d="M973.9 382.2l4.3 7.2 8.5-5.2-4.8-6.9z"/><path color="#5e524d" d="M933.6 466.3l-1.8 3.6 14.1-2.2 3.1-3.8z"/><path color="#93807e" d="M870.2 356.3l-7.1 5.5 7.6 3.1 6-6z"/><path color="#7d848d" d="M894.8 350l-5.1 5.2 7.6 1.3 3.2-5.6z"/><path color="#562c2b" d="M849.4 449.3l3.1 5.3 13.7 4.1-2.3-5.2z"/><path color="#4b5d6a" d="M972.8 438.1l-1.6 6.4 12.8-5.1 1.8-6.5z"/><path color="#603636" d="M832.2 424.6l1 6.9 12.2 5.4-.9-6.8z"/><path color="#6c7f96" d="M919.6 351.1l2.8 5.6 7.8-1.1-4.6-5.4z"/><path color="#607288" d="M943.1 359.5l5.7 6.1 8.1-3-6.9-5.6z"/><path color="#583532" d="M884.1 465.8l2.2 3.6 14.9 1.4-.8-3.5z"/><path color="#807d82" d="M883.1 353.5l-6.4 5.4 8.1 2.2 4.9-5.9z"/><path color="#737e8b" d="M900.5 350.9l-3.2 5.6 8.2 .6 1.3-5.7z"/><path color="#8c7375" d="M863.1 361.8l-6.5 6 8.6 3.6 5.5-6.5z"/><path color="#5a4844" d="M917.2 467.5l-.6 3.4 15.2-1 1.8-3.6z"/><path color="#6b7a8f" d="M913.3 351.5l.8 5.7 8.3-.5-2.8-5.6z"/><path color="#535759" d="M953.8 454.4l-2.1 5.1 14.3-3.8 3-5.3z"/><path color="#647488" d="M930.2 355.6l4.5 5.9 8.4-2-6-5.5z"/><path color="#728190" d="M906.8 351.4l-1.3 5.7 8.6 .1-.8-5.7z"/><path color="#563130" d="M866.2 458.7l2.9 4.5 15 2.6-1.9-4.3z"/><path color="#653c3d" d="M832.1 417.5l.1 7.1 12.3 5.5-.1-7.1z"/><path color="#593e3c" d="M900.4 467.3l.8 3.5 15.4 .1 .6-3.4z"/><path color="#495b6b" d="M973.6 431.3l-.8 6.8 13-5.2 1-6.8z"/><path color="#5a697d" d="M948.8 365.6l5.2 6.6 9.2-3.5-6.3-6.1z"/><path color="#8b696e" d="M856.6 367.8l-5.9 6.4 9.5 4.1 5-6.9z"/><path color="#584f4c" d="M935.2 462l-1.6 4.3 15.4-2.4 2.7-4.4z"/><path color="#573232" d="M847 443.3l2.4 6 14.5 4.2-1.9-5.8z"/><path color="#6b4548" d="M833 410.2l-.9 7.3 12.3 5.5 .8-7.4z"/><path color="#79797f" d="M889.7 355.2l-4.9 5.9 9.3 1.5 3.2-6.1z"/><path color="#7b7076" d="M876.7 358.9l-6 6 9.5 2.6 4.6-6.4z"/><path color="#8c6369" d="M850.7 374.2l-5.2 6.9 10.3 4.3 4.4-7.1z"/><path color="#485a6c" d="M973.6 424.2l0 7.1 13.2-5.2 .1-7.2z"/><path color="#724e53" d="M834.8 402.8l-1.8 7.4 12.2 5.4 1.5-7.6z"/><path color="#657488" d="M922.4 356.7l2.7 6.2 9.6-1.4-4.5-5.9z"/><path color="#556476" d="M954 372.2l4.7 7 10.2-3.9-5.7-6.6z"/><path color="#855b65" d="M845.5 381.1l-4.4 7 10.9 4.8 3.8-7.5z"/><path color="#785359" d="M837.5 395.4l-2.7 7.4 11.9 5.2 2.3-7.6z"/><path color="#4c5459" d="M955.5 448.6l-1.7 5.8 15.2-4 2.2-5.9z"/><path color="#5d6b7c" d="M934.7 361.5l4.2 6.5 9.9-2.4-5.7-6.1z"/><path color="#7e575f" d="M841.1 388.1l-3.6 7.3 11.5 5 3-7.5z"/><path color="#59383a" d="M882.2 461.5l1.9 4.3 16.3 1.5-.8-4.2z"/><path color="#47586a" d="M972.9 416.8l.7 7.4 13.3-5.3-.9-7.3z"/><path color="#6a6f7b" d="M897.3 356.5l-3.2 6.1 10.2 .8 1.2-6.3z"/><path color="#573738" d="M863.9 453.5l2.3 5.2 16 2.8-1.5-5z"/><path color="#515e6f" d="M958.7 379.2l4.2 7.2 11-4.2-5-6.9z"/><path color="#564645" d="M917.6 463.3l-.4 4.2 16.4-1.2 1.6-4.3z"/><path color="#5b3a3b" d="M845.4 436.9l1.6 6.4 15 4.4-1.2-6.3z"/><path color="#646d80" d="M914.1 357.2l.7 6.3 10.3-.6-2.7-6.2z"/><path color="#6a717f" d="M905.5 357.1l-1.2 6.3 10.5 .1-.7-6.3z"/><path color="#485769" d="M971.5 409.2l1.4 7.6 13.1-5.2-1.7-7.4z"/><path color="#4d5a6b" d="M962.9 386.4l3.5 7.5 11.8-4.5-4.3-7.2z"/><path color="#7e6a6f" d="M870.7 364.9l-5.5 6.5 10.8 2.9 4.2-6.8z"/><path color="#573f41" d="M899.6 463.1l.8 4.2 16.8 .2 .4-4.2z"/><path color="#514d4d" d="M936.5 457l-1.3 5 16.5-2.5 2.1-5.1z"/><path color="#495768" d="M969.3 401.5l2.2 7.7 12.8-5-2.6-7.5z"/><path color="#4b5868" d="M966.4 393.9l2.9 7.6 12.4-4.8-3.5-7.3z"/><path color="#706b74" d="M884.8 361.1l-4.6 6.4 11 1.8 2.9-6.7z"/><path color="#465159" d="M956.6 442.3l-1.1 6.3 15.7-4.1 1.6-6.4z"/><path color="#576373" d="M938.9 368l3.9 6.9 11.2-2.7-5.2-6.6z"/><path color="#5d6678" d="M925.1 362.9l2.5 6.7 11.3-1.6-4.2-6.5z"/><path color="#5e4044" d="M844.5 430.1l.9 6.8 15.4 4.5-.7-6.8z"/><path color="#7a6169" d="M865.2 371.4l-5 6.9 11.9 3.2 3.9-7.2z"/><path color="#583d40" d="M862 447.7l1.9 5.8 16.8 3-1.2-5.7z"/><path color="#583d41" d="M880.7 456.5l1.5 5 17.4 1.6-.6-5z"/><path color="#626270" d="M894.1 362.6l-2.9 6.7 11.9 1 1.2-6.9z"/><path color="#514445" d="M918 458.3l-.4 5 17.6-1.3 1.3-5z"/><path color="#444e5a" d="M957.2 435.5l-.6 6.8 16.2-4.2 .8-6.8z"/><path color="#5c6070" d="M914.8 363.5l.7 6.9 12.1-.8-2.5-6.7z"/><path color="#525a68" d="M942.8 374.9l3.4 7.3 12.5-3-4.7-7z"/><path color="#61474c" d="M844.4 423l.1 7.1 15.6 4.5 0-7.2z"/><path color="#4a494c" d="M937.5 451.4l-1 5.6 17.3-2.6 1.7-5.8z"/><path color="#745864" d="M860.2 378.3l-4.4 7.1 13 3.6 3.3-7.5z"/><path color="#626472" d="M904.3 363.4l-1.2 6.9 12.4 .1-.7-6.9z"/><path color="#665e69" d="M880.2 367.5l-4.2 6.8 12.5 2.1 2.7-7.1z"/><path color="#554044" d="M899 458.1l.6 5 18 .2 .4-5z"/><path color="#555a68" d="M927.6 369.6l2.3 7.2 12.9-1.9-3.9-6.9z"/><path color="#644a52" d="M845.2 415.6l-.8 7.4 15.7 4.4 .5-7.5z"/><path color="#715460" d="M855.8 385.4l-3.8 7.5 13.9 3.8 2.9-7.7z"/><path color="#424c5b" d="M957.3 428.3l-.1 7.2 16.4-4.2 0-7.1z"/><path color="#4d5360" d="M946.2 382.2l3.1 7.5 13.6-3.3-4.2-7.2z"/><path color="#594247" d="M860.8 441.4l1.2 6.3 17.5 3.1-.8-6.3z"/><path color="#674e57" d="M846.7 408l-1.5 7.6 15.4 4.3 1.2-7.6z"/><path color="#6f535e" d="M852 392.9l-3 7.5 14.6 4.1 2.3-7.8z"/><path color="#6b515b" d="M849 400.4l-2.3 7.6 15.1 4.3 1.8-7.8z"/><path color="#574046" d="M879.5 450.8l1.2 5.7 18.3 1.6-.4-5.6z"/><path color="#424b5a" d="M956.8 420.8l.5 7.5 16.3-4.1-.7-7.4z"/><path color="#5c5867" d="M891.2 369.3l-2.7 7.1 13.6 1.1 1-7.2z"/><path color="#494f5c" d="M949.3 389.7l2.7 7.8 14.4-3.6-3.5-7.5z"/><path color="#42464c" d="M938.2 445.1l-.7 6.3 18-2.8 1.1-6.3z"/><path color="#5f5362" d="M876 374.3l-3.9 7.2 13.9 2.3 2.5-7.4z"/><path color="#4c4346" d="M918.2 452.7l-.2 5.6 18.5-1.3 1-5.6z"/><path color="#555664" d="M915.5 370.4l.6 7.2 13.8-.8-2.3-7.2z"/><path color="#424957" d="M955.7 413.1l1.1 7.7 16.1-4-1.4-7.6z"/><path color="#464c58" d="M952 397.5l2.1 7.8 15.2-3.8-2.9-7.6z"/><path color="#4f4f5c" d="M929.9 376.8l2.1 7.5 14.2-2.1-3.4-7.3z"/><path color="#575767" d="M903.1 370.3l-1 7.2 14 .1-.6-7.2z"/><path color="#444a57" d="M954.1 405.3l1.6 7.8 15.8-3.9-2.2-7.7z"/><path color="#523e44" d="M898.6 452.5l.4 5.6 19 .2 .2-5.6z"/><path color="#59454c" d="M860.1 434.6l.7 6.8 17.9 3.1-.4-6.7z"/><path color="#5f4f5e" d="M872.1 381.5l-3.3 7.5 15 2.6 2.2-7.8z"/><path color="#3f434d" d="M938.6 438.3l-.4 6.8 18.4-2.8 .6-6.8z"/><path color="#554249" d="M878.7 444.5l.8 6.3 19.1 1.7-.4-6.2z"/><path color="#554e5f" d="M888.5 376.4l-2.5 7.4 15.1 1.3 1-7.6z"/><path color="#5a4750" d="M860.1 427.4l0 7.2 18.2 3.2 0-7.2z"/><path color="#4a4a56" d="M932 384.3l1.8 7.7 15.5-2.3-3.1-7.5z"/><path color="#454047" d="M918.4 446.5l-.2 6.2 19.3-1.3 .7-6.3z"/><path color="#4e4d5d" d="M916.1 377.6l.6 7.6 15.3-.9-2.1-7.5z"/><path color="#5e4b5b" d="M868.8 389l-2.9 7.7 16.1 2.7 1.8-7.8z"/><path color="#4f4c5e" d="M902.1 377.5l-1 7.6 15.6 .1-.6-7.6z"/><path color="#4e3f48" d="M898.2 446.3l.4 6.2 19.6 .2 .2-6.2z"/><path color="#3d414e" d="M938.6 431.1l0 7.2 18.6-2.8 .1-7.2z"/><path color="#5a4953" d="M860.6 419.9l-.5 7.5 18.2 3.2 .3-7.6z"/><path color="#5c4b5a" d="M865.9 396.7l-2.3 7.8 16.9 2.9 1.5-8z"/><path color="#454551" d="M933.8 392l1.6 7.9 16.6-2.4-2.7-7.8z"/><path color="#5a4a55" d="M861.8 412.3l-1.2 7.6 18 3.1 .8-7.7z"/><path color="#52424c" d="M878.3 437.8l.4 6.7 19.5 1.8-.1-6.8z"/><path color="#5a4b58" d="M863.6 404.5l-1.8 7.8 17.6 3 1.1-7.9z"/><path color="#51485b" d="M886 383.8l-2.2 7.8 16.5 1.3 .8-7.8z"/><path color="#3d3f4f" d="M938.3 423.6l.3 7.5 18.7-2.8-.5-7.5z"/><path color="#3f3d48" d="M918.5 439.7l-.1 6.8 19.8-1.4 .4-6.8z"/><path color="#484556" d="M916.7 385.2l.5 7.9 16.6-1.1-1.8-7.7z"/><path color="#42414e" d="M935.4 399.9l1.3 8 17.4-2.6-2.1-7.8z"/><path color="#3e404e" d="M937.7 415.8l.6 7.8 18.5-2.8-1.1-7.7z"/><path color="#3f404d" d="M936.7 407.9l1 7.9 18-2.7-1.6-7.8z"/><path color="#494558" d="M901.1 385.1l-.8 7.8 16.9 .2-.5-7.9z"/><path color="#493d48" d="M898.1 439.5l.1 6.8 20.2 .2 .1-6.8z"/><path color="#4f424e" d="M878.3 430.6l0 7.2 19.8 1.7 0-7.2z"/><path color="#4c4257" d="M883.8 391.6l-1.8 7.8 17.5 1.5 .8-8z"/><path color="#3b3b49" d="M918.5 432.5l0 7.2 20.1-1.4 0-7.2z"/><path color="#423f52" d="M917.2 393.1l.4 8 17.8-1.2-1.6-7.9z"/><path color="#4e4350" d="M878.6 423l-.3 7.6 19.8 1.7 .1-7.6z"/><path color="#4b4054" d="M882 399.4l-1.5 8 18.5 1.5 .5-8z"/><path color="#443e54" d="M900.3 392.9l-.8 8 18.1 .2-.4-8z"/><path color="#443b4a" d="M898.1 432.3l0 7.2 20.4 .2 0-7.2z"/><path color="#3a3a4a" d="M918.4 424.9l.1 7.6 20.1-1.4-.3-7.5z"/><path color="#3e3b4f" d="M917.6 401.1l.4 8 18.7-1.2-1.3-8z"/><path color="#4b4251" d="M879.4 415.3l-.8 7.7 19.6 1.7 .3-7.8z"/><path color="#484051" d="M880.5 407.4l-1.1 7.9 19.1 1.6 .5-8z"/><path color="#3b394c" d="M918.3 417.1l.1 7.8 19.9-1.3-.6-7.8z"/><path color="#3c394c" d="M918 409.1l.3 8 19.4-1.3-1-7.9z"/><path color="#3f3a50" d="M899.5 400.9l-.5 8 19 .2-.4-8z"/><path color="#3f394a" d="M898.2 424.7l-.1 7.6 20.4 .2-.1-7.6z"/><path color="#3d384d" d="M899 408.9l-.5 8 19.8 .2-.3-8z"/><path color="#3d384b" d="M898.5 416.9l-.3 7.8 20.2 .2-.1-7.8z"/></g>
<g class="f" opacity="0.885"><path color="#42769b" d="M1518.2 369.2l2.7 .6-4.3-1-1.9-.3z"/><path color="#17497a" d="M1531.1 373.8l3.3 1.7-3.7-1.9-2.9-1.5z"/><path color="#79a3bd" d="M1506.5 368.1l.1-.3-4.1 .1 .8 .2z"/><path color="#7097b4" d="M1509.6 368.2l1.2-.2-4.2-.2-.1 .3z"/><path color="#b1c4ce" d="M1494.8 369l-2.5 .5-3.9 1.1 3.3-.6z"/><path color="#cac5c3" d="M1488.4 370.6l-3 1.1-3.5 1.6 3.5-1.3z"/><path color="#8eadc1" d="M1503.3 368.1l-.8-.2-4 .4 1.8 .2z"/><path color="#caa596" d="M1478.6 375l-3 2-3 2.3 3.2-2.2z"/><path color="#3e79a4" d="M1512.6 368.6l2.1-.1-3.9-.5-1.2 .2z"/><path color="#1f598b" d="M1521.2 370.2l3.4 .8-3.7-1.2-2.7-.6z"/><path color="#134577" d="M1527.4 372.4l3.7 1.4-3.3-1.7-3.2-1.1z"/><path color="#93b4c6" d="M1500.3 368.5l-1.8-.2-3.7 .7 2.7 0z"/><path color="#144577" d="M1536.9 377.6l3.3 2.3-2.7-2.4-3.1-2z"/><path color="#42789f" d="M1515.3 369.1l2.9 .1-3.5-.7-2.1 .1z"/><path color="#a76a58" d="M1467.3 384.6l-2 3-1.9 3 2.1-3.1z"/><path color="#cbab9c" d="M1481.9 373.3l-3.3 1.7-2.8 2.1 3.6-1.9z"/><path color="#63889b" d="M1548.9 391.4l1.6 3.3-1.4-3.2-1.5-3.2z"/><path color="#c0c3c4" d="M1491.7 370l-3.3 .6-3 1.4 3.8-.9z"/><path color="#aec0ca" d="M1497.5 369l-2.7 0-3.1 1 3.4-.3z"/><path color="#bb826d" d="M1469.7 381.8l-2.4 2.8-1.8 2.9 2.5-3z"/><path color="#134578" d="M1533.2 375.6l3.7 2-2.5-2.1-3.3-1.7z"/><path color="#1c5385" d="M1523.4 371.4l4 1-2.8-1.4-3.4-.8z"/><path color="#3c7393" d="M1546.9 388.2l2 3.2-1.3-3.1-2-3z"/><path color="#346f99" d="M1517.6 369.9l3.6 .3-3-1-2.9-.1z"/><path color="#7da4bd" d="M1506.4 368.7l.1-.6-3.2 0 .9 .7z"/><path color="#6e99b7" d="M1508.5 368.8l1.1-.6-3.1-.1-.1 .6z"/><path color="#cab2a7" d="M1485.4 372l-3.5 1.3-2.5 1.9 4-1.6z"/><path color="#88acc1" d="M1504.2 368.8l-.9-.7-3 .4 1.9 .5z"/><path color="#598eb1" d="M1510.5 369l2.1-.4-3-.4-1.1 .6z"/><path color="#bb7f69" d="M1472.6 379.3l-2.9 2.5-1.7 2.7 3-2.7z"/><path color="#2c658d" d="M1544.3 385.2l2.6 3-1.3-2.9-2.5-2.8z"/><path color="#988980" d="M1460.3 400.8l0 3.5 .1 3.4 0-3.5z"/><path color="#92b0c2" d="M1502.2 369l-1.9-.5-2.8 .5 2.8 .3z"/><path color="#194d7e" d="M1529.2 374l4 1.6-2.1-1.8-3.7-1.4z"/><path color="#bac0c1" d="M1495.1 369.7l-3.4 .3-2.5 1.1 4.1-.6z"/><path color="#628bac" d="M1512.3 369.4l3-.3-2.7-.5-2.1 .4z"/><path color="#938b86" d="M1551.4 408.6l-.6 3.4 .7-3.3 .6-3.5z"/><path color="#bd8775" d="M1475.8 377.1l-3.2 2.2-1.6 2.5 3.5-2.5z"/><path color="#2f6891" d="M1519.3 370.8l4.1 .6-2.2-1.2-3.6-.3z"/><path color="#a49287" d="M1460.8 397.3l-.5 3.5 .1 3.4 .5-3.5z"/><path color="#c3b2a9" d="M1489.2 371.1l-3.8 .9-2 1.6 4.2-1.2z"/><path color="#235a89" d="M1541.3 382.4l3 2.8-1.2-2.7-2.9-2.6z"/><path color="#9db6c4" d="M1500.3 369.3l-2.8-.3-2.4 .7 3.6 .1z"/><path color="#5482a2" d="M1513.8 369.9l3.8 0-2.3-.8-3 .3z"/><path color="#215783" d="M1524.9 372.7l4.3 1.3-1.8-1.6-4-1z"/><path color="#959392" d="M1551.4 405l0 3.6 .7-3.4 0-3.6z"/><path color="#a6806f" d="M1461.9 393.9l-1.1 3.4 .1 3.4 1.1-3.5z"/><path color="#bc8776" d="M1479.4 375.2l-3.6 1.9-1.3 2.2 3.7-2.2z"/><path color="#1e5484" d="M1537.9 379.9l3.4 2.5-1.1-2.5-3.3-2.3z"/><path color="#b3babd" d="M1498.7 369.8l-3.6-.1-1.8 .8 4.2-.1z"/><path color="#b8b2ad" d="M1493.3 370.5l-4.1 .6-1.6 1.3 4.4-.9z"/><path color="#8da8be" d="M1506.2 369.8l.2-1.1-2.2 .1 1 1z"/><path color="#8b959b" d="M1550.9 401.5l.5 3.5 .7-3.4-.5-3.4z"/><path color="#84a0b8" d="M1507.3 369.8l1.2-1-2.1-.1-.2 1.1z"/><path color="#a4705e" d="M1463.4 390.6l-1.5 3.3 .1 3.3 1.6-3.4z"/><path color="#8da9be" d="M1505.2 369.8l-1-1-2 .2 1.9 .9z"/><path color="#819db6" d="M1508.3 369.9l2.2-.9-2-.2-1.2 1z"/><path color="#547f9d" d="M1515 370.5l4.3 .3-1.7-.9-3.8 0z"/><path color="#bc9181" d="M1483.4 373.6l-4 1.6-1.2 1.9 4.2-1.8z"/><path color="#205583" d="M1534.1 377.6l3.8 2.3-1-2.3-3.7-2z"/><path color="#37698e" d="M1520.4 371.8l4.5 .9-1.5-1.3-4.1-.6z"/><path color="#90abbe" d="M1504.1 369.9l-1.9-.9-1.9 .3 2.9 .8z"/><path color="#7698b3" d="M1509.2 370.1l3.1-.7-1.8-.4-2.2 .9z"/><path color="#798f9a" d="M1549.9 398l1 3.5 .7-3.3-1.1-3.5z"/><path color="#a5685a" d="M1465.5 387.5l-2.1 3.1 .2 3.2 2-3.3z"/><path color="#426171" d="M1462.1 414.6l1.6 3.2 2.1 3.1-1.5-3.1z"/><path color="#98b1c1" d="M1503.2 370.1l-2.9-.8-1.6 .5 3.7 .5z"/><path color="#816558" d="M1545.6 421.7l-2 2.9 2.5-2.9 2.1-3.1z"/><path color="#235983" d="M1529.9 375.7l4.2 1.9-.9-2-4-1.6z"/><path color="#ba9789" d="M1487.6 372.4l-4.2 1.2-1 1.7 4.4-1.6z"/><path color="#6990af" d="M1510 370.4l3.8-.5-1.5-.5-3.1 .7z"/><path color="#a3b0b8" d="M1497.5 370.4l-4.2 .1-1.3 1 4.6-.5z"/><path color="#6c8b9a" d="M1548.3 394.5l1.6 3.5 .6-3.3-1.6-3.3z"/><path color="#a46053" d="M1468 384.5l-2.5 3 .1 3 2.6-3.2z"/><path color="#6d5d55" d="M1534.7 432l-2.8 1.8 3.3-2.1 3.2-2.1z"/><path color="#587e9a" d="M1515.7 371.2l4.7 .6-1.1-1-4.3-.3z"/><path color="#8aa1b6" d="M1502.4 370.3l-3.7-.5-1.2 .6 4.3 .2z"/><path color="#677982" d="M1461 411.2l1.1 3.4 2.2 3.2-1.1-3.3z"/><path color="#34678b" d="M1525.5 374.1l4.4 1.6-.7-1.7-4.3-1.3z"/><path color="#718faa" d="M1510.6 370.7l4.4-.2-1.2-.6-3.8 .5z"/><path color="#b3a097" d="M1492 371.5l-4.4 .9-.8 1.3 4.6-1.2z"/><path color="#0f3050" d="M1470.2 426.6l2.9 2.4 3.3 2.4-2.6-2.2z"/><path color="#a45d55" d="M1471 381.8l-3 2.7 .2 2.8 3-2.9z"/><path color="#567f96" d="M1546.2 391.2l2.1 3.3 .6-3.1-2-3.2z"/><path color="#846c5f" d="M1547.1 418.6l-1.5 3.1 2.6-3.1 1.6-3.2z"/><path color="#061c33" d="M1479.3 433.3l3.3 1.6 3.7 1.6-2.7-1.3z"/><path color="#4a7593" d="M1520.9 372.8l4.6 1.3-.6-1.4-4.5-.9z"/><path color="#9cb0ba" d="M1501.8 370.6l-4.3-.2-.9 .6 4.7-.1z"/><path color="#a6615b" d="M1474.5 379.3l-3.5 2.5 .2 2.6 3.4-2.8z"/><path color="#041930" d="M1486.3 436.5l3 1 4 1.1-2.3-.7z"/><path color="#7f868a" d="M1460.4 407.7l.6 3.5 2.2 3.3-.5-3.5z"/><path color="#427492" d="M1543.7 388l2.5 3.2 .7-3-2.6-3z"/><path color="#0d253b" d="M1497.9 439.4l1.5 .2 4.1 .3-.6-.1z"/><path color="#a7a6a6" d="M1496.6 371l-4.6 .5-.6 1 4.8-.8z"/><path color="#6d8ea9" d="M1511 371l4.7 .2-.7-.7-4.4 .2z"/><path color="#253e4d" d="M1508 439.9l-.3 .1 4.1-.3 1.3-.2z"/><path color="#87a2b9" d="M1506.1 371.2l.1-1.4-1 0z"/><path color="#89a3b9" d="M1506.1 371.2l1.2-1.4-1.1 0z"/><path color="#8aa3b9" d="M1506.1 371.2l-.9-1.4-1.1 .1z"/><path color="#5c5b5a" d="M1527.4 435.6l-2.6 1.3 4-1.6 3.1-1.5z"/><path color="#849eb5" d="M1506.1 371.2l2.2-1.3-1-.1z"/><path color="#193247" d="M1502.9 439.8l.6 .1 4.2 .1 .3-.1z"/><path color="#715f55" d="M1537.2 429.8l-2.5 2.2 3.7-2.4 2.8-2.3z"/><path color="#a7655e" d="M1478.2 377.1l-3.7 2.2 .1 2.3 3.8-2.4z"/><path color="#87a2b8" d="M1506.1 371.2l-2-1.3-.9 .2z"/><path color="#86756c" d="M1548.1 415.3l-1 3.3 2.7-3.2 1-3.4z"/><path color="#5f829c" d="M1516 371.9l4.9 .9-.5-1-4.7-.6z"/><path color="#545c60" d="M1519.9 438.1l-2.1 .7 4.2-1 2.8-.9z"/><path color="#8197ae" d="M1506.1 371.2l3.1-1.1-.9-.2z"/><path color="#3a6f91" d="M1540.7 385l3 3 .6-2.8-3-2.8z"/><path color="#87a1b8" d="M1506.1 371.2l-2.9-1.1-.8 .2z"/><path color="#8096ac" d="M1506.1 371.2l3.9-.8-.8-.3z"/><path color="#153856" d="M1467.8 423.9l2.4 2.7 3.6 2.6-2.2-2.6z"/><path color="#9da8ad" d="M1501.3 370.9l-4.7 .1-.4 .7 4.9-.4z"/><path color="#8f8b88" d="M1460.4 404.2l0 3.5 2.3 3.3 0-3.5z"/><path color="#a96f66" d="M1482.4 375.3l-4.2 1.8 .2 2.1 4.1-2.2z"/><path color="#86a2b8" d="M1506.1 371.2l-3.7-.9-.6 .3z"/><path color="#7c93ac" d="M1506.1 371.2l4.5-.5-.6-.3z"/><path color="#356b90" d="M1537.4 382.2l3.3 2.8 .6-2.6-3.4-2.5z"/><path color="#7993a9" d="M1511.1 371.4l4.9 .5-.3-.7-4.7-.2z"/><path color="#869fb4" d="M1506.1 371.2l-4.3-.6-.5 .3z"/><path color="#a97c73" d="M1486.8 373.7l-4.4 1.6 .1 1.7 4.3-1.9z"/><path color="#7f94ab" d="M1506.1 371.2l4.9-.2-.4-.3z"/><path color="#366b90" d="M1533.6 379.7l3.8 2.5 .5-2.3-3.8-2.3z"/><path color="#8b7c75" d="M1548.6 411.8l-.5 3.5 2.7-3.3 .6-3.4z"/><path color="#869fb4" d="M1506.1 371.2l-4.8-.3-.2 .4z"/><path color="#ad8d80" d="M1491.4 372.5l-4.6 1.2 0 1.4 4.7-1.5z"/><path color="#051c34" d="M1476.4 431.4l2.9 1.9 4.3 1.9-2.5-1.7z"/><path color="#7f94ab" d="M1506.1 371.2l5 .2-.1-.4z"/><path color="#968177" d="M1460.9 400.7l-.5 3.5 2.3 3.3 .5-3.6z"/><path color="#9d9594" d="M1496.2 371.7l-4.8 .8 .1 1.1 4.7-1.2z"/><path color="#3d6d8f" d="M1529.5 377.4l4.1 2.3 .5-2.1-4.2-1.9z"/><path color="#939ea8" d="M1501.1 371.3l-4.9 .4 0 .7 4.9-.8z"/><path color="#061b32" d="M1491 437.9l2.3 .7 4.6 .8-1.5-.6z"/><path color="#89a0b5" d="M1506.1 371.2l-5 .1 0 .3z"/><path color="#8097ad" d="M1506.1 371.2l4.9 .5 .1-.3z"/><path color="#705e56" d="M1539.3 427.3l-2.1 2.5 4-2.5 2.4-2.7z"/><path color="#4b7593" d="M1525.2 375.5l4.3 1.9 .4-1.7-4.4-1.6z"/><path color="#748da4" d="M1511 371.7l4.9 .9 .1-.7-4.9-.5z"/><path color="#60839b" d="M1520.6 373.9l4.6 1.6 .3-1.4-4.6-1.3z"/><path color="#69869e" d="M1515.9 372.6l4.7 1.3 .3-1.1-4.9-.9z"/><path color="#87a0b7" d="M1506.1 371.2l-5 .4 .3 .4z"/><path color="#20445d" d="M1465.8 420.9l2 3 3.8 2.7-1.8-2.8z"/><path color="#3d4e57" d="M1514.3 439l-1.2 .5 4.7-.7 2.1-.7z"/><path color="#7e94ac" d="M1506.1 371.2l4.6 .9 .3-.4z"/><path color="#8c8784" d="M1548.6 408.3l0 3.5 2.8-3.2 0-3.6z"/><path color="#997465" d="M1462 397.2l-1.1 3.5 2.3 3.2 1-3.5z"/><path color="#03172d" d="M1483.6 435.2l2.7 1.3 4.7 1.4-2.1-1.2z"/><path color="#66605d" d="M1529.7 434l-2.3 1.6 4.5-1.8 2.8-1.8z"/><path color="#849eb5" d="M1506.1 371.2l-4.7 .8 .5 .3z"/><path color="#7c92ab" d="M1506.1 371.2l4.1 1.2 .5-.3z"/><path color="#8395a7" d="M1506.1 371.2l-4.2 1.1 .7 .3z"/><path color="#979fa5" d="M1501.1 371.6l-4.9 .8 .6 .7 4.6-1.1z"/><path color="#7b90a8" d="M1506.1 371.2l3.3 1.5 .8-.3z"/><path color="#839cb1" d="M1506.1 371.2l-3.5 1.4 .8 .2z"/><path color="#956257" d="M1463.6 393.8l-1.6 3.4 2.2 3.2 1.5-3.6z"/><path color="#52595d" d="M1521.8 437l-1.9 1.1 4.9-1.2 2.6-1.3z"/><path color="#0d273e" d="M1496.4 438.8l1.5 .6 5 .4-.6-.5z"/><path color="#7d92a8" d="M1506.1 371.2l2.5 1.7 .8-.2z"/><path color="#7b94ab" d="M1510.7 372.1l4.5 1.2 .7-.7-4.9-.9z"/><path color="#8b8a89" d="M1548.1 404.7l.5 3.6 2.8-3.3-.5-3.5z"/><path color="#88a0b4" d="M1506.1 371.2l-2.7 1.6 1 .2z"/><path color="#233d4d" d="M1508.4 439.4l-.4 .5 5.1-.4 1.2-.5z"/><path color="#829ab0" d="M1506.1 371.2l1.5 1.8 1-.1z"/><path color="#8aa2b6" d="M1506.1 371.2l-1.7 1.8 1 .1z"/><path color="#8ba3b6" d="M1506.1 371.2l.4 1.9 1.1-.1z"/><path color="#8599ab" d="M1506.1 371.2l-.7 1.9 1.1 0z"/><path color="#9a8b86" d="M1496.2 372.4l-4.7 1.2 .7 1 4.6-1.5z"/><path color="#735e56" d="M1541.1 424.5l-1.8 2.8 4.3-2.7 2-2.9z"/><path color="#0a2440" d="M1473.8 429.2l2.6 2.2 4.7 2.1-2.1-2.1z"/><path color="#375668" d="M1464.3 417.8l1.5 3.1 4 2.9-1.3-3z"/><path color="#153045" d="M1502.3 439.3l.6 .5 5.1 .1 .4-.5z"/><path color="#90514d" d="M1465.6 390.5l-2 3.3 2.1 3 2-3.4z"/><path color="#93969c" d="M1501.4 372l-4.6 1.1 .9 .7 4.2-1.5z"/><path color="#788fa3" d="M1515.2 373.3l4.5 1.6 .9-1-4.7-1.3z"/><path color="#a17a71" d="M1491.5 373.6l-4.7 1.5 1 1.4 4.4-1.9z"/><path color="#888f93" d="M1547.1 401.1l1 3.6 2.8-3.2-1-3.5z"/><path color="#8f494b" d="M1468.2 387.3l-2.6 3.2 2.1 2.9 2.4-3.4z"/><path color="#7e95ab" d="M1510.2 372.4l4 1.5 1-.6-4.5-1.2z"/><path color="#986460" d="M1486.8 375.1l-4.3 1.9 1.2 1.7 4.1-2.2z"/><path color="#8d434b" d="M1471.2 384.4l-3 2.9 1.9 2.7 2.8-3.2z"/><path color="#975558" d="M1482.5 377l-4.1 2.2 1.4 1.9 3.9-2.4z"/><path color="#6f8aa1" d="M1519.7 374.9l4.3 1.9 1.2-1.3-4.6-1.6z"/><path color="#8f424a" d="M1474.6 381.6l-3.4 2.8 1.7 2.4 3.3-2.9z"/><path color="#645c59" d="M1531.7 431.9l-2 2.1 5-2 2.5-2.2z"/><path color="#924a53" d="M1478.4 379.2l-3.8 2.4 1.6 2.3 3.6-2.8z"/><path color="#818f96" d="M1545.7 397.6l1.4 3.5 2.8-3.1-1.6-3.5z"/><path color="#051a31" d="M1488.9 436.7l2.1 1.2 5.4 .9-1.3-1z"/><path color="#8d939b" d="M1501.9 372.3l-4.2 1.5 1.4 .5 3.5-1.7z"/><path color="#576b76" d="M1463.2 414.5l1.1 3.3 4.2 3-1-3.2z"/><path color="#051930" d="M1481.1 433.5l2.5 1.7 5.3 1.5-1.8-1.5z"/><path color="#755f59" d="M1542.4 421.5l-1.3 3 4.5-2.8 1.5-3.1z"/><path color="#8699ad" d="M1509.4 372.7l3.4 1.8 1.4-.6-4-1.5z"/><path color="#65859e" d="M1524 376.8l4.1 2.3 1.4-1.7-4.3-1.9z"/><path color="#798e9a" d="M1543.7 394.1l2 3.5 2.6-3.1-2.1-3.3z"/><path color="#96827d" d="M1496.8 373.1l-4.6 1.5 1.4 1 4.1-1.8z"/><path color="#3c4c55" d="M1515.5 438l-1.2 1 5.6-.9 1.9-1.1z"/><path color="#5d829c" d="M1528.1 379.1l3.8 2.5 1.7-1.9-4.1-2.3z"/><path color="#6c8a99" d="M1541.4 390.7l2.3 3.4 2.5-2.9-2.5-3.2z"/><path color="#10304c" d="M1471.6 426.6l2.2 2.6 5.2 2.2-1.9-2.3z"/><path color="#7c90a4" d="M1514.2 373.9l3.9 1.9 1.6-.9-4.5-1.6z"/><path color="#8b8d93" d="M1502.6 372.6l-3.5 1.7 1.6 .5 2.7-2z"/><path color="#5c829b" d="M1531.9 381.6l3.5 2.8 2-2.2-3.8-2.5z"/><path color="#67889a" d="M1538.6 387.4l2.8 3.3 2.3-2.7-3-3z"/><path color="#535758" d="M1523.5 435.5l-1.7 1.5 5.6-1.4 2.3-1.6z"/><path color="#5c839a" d="M1535.4 384.4l3.2 3 2.1-2.4-3.3-2.8z"/><path color="#8192a5" d="M1508.6 372.9l2.4 2 1.8-.4-3.4-1.8z"/><path color="#6f797e" d="M1462.7 411l.5 3.5 4.3 3.1-.4-3.5z"/><path color="#8e9298" d="M1503.4 372.8l-2.7 2 2 .3 1.7-2.1z"/><path color="#0b2338" d="M1495.1 437.8l1.3 1 5.9 .5-.5-.9z"/><path color="#936864" d="M1492.2 374.6l-4.4 1.9 1.9 1.2 3.9-2.1z"/><path color="#8994a2" d="M1507.6 373l1.4 2.2 2-.3-2.4-2z"/><path color="#78635e" d="M1543.3 418.3l-.9 3.2 4.7-2.9 1-3.3z"/><path color="#283e4d" d="M1508.7 438.4l-.3 1 5.9-.4 1.2-1z"/><path color="#919499" d="M1504.4 373l-1.7 2.1 2.1 .2 .6-2.2z"/><path color="#8a919d" d="M1506.5 373.1l.4 2.2 2.1-.1-1.4-2.2z"/><path color="#655754" d="M1533.5 429.6l-1.8 2.3 5.5-2.1 2.1-2.5z"/><path color="#967e77" d="M1497.7 373.8l-4.1 1.8 2 .8 3.5-2.1z"/><path color="#8c959e" d="M1505.4 373.1l-.6 2.2 2.1 0-.4-2.2z"/><path color="#7b92a6" d="M1518.1 375.8l3.8 2.2 2.1-1.2-4.3-1.9z"/><path color="#1e3548" d="M1501.8 438.4l.5 .9 6.1 .1 .3-1z"/><path color="#8998a7" d="M1512.8 374.5l3.2 2.1 2.1-.8-3.9-1.9z"/><path color="#807d7b" d="M1462.7 407.5l0 3.5 4.4 3.1-.1-3.5z"/><path color="#8f5358" d="M1487.8 376.5l-4.1 2.2 2.2 1.5 3.8-2.5z"/><path color="#1b3d55" d="M1469.8 423.8l1.8 2.8 5.5 2.5-1.5-2.7z"/><path color="#092239" d="M1479 431.4l2.1 2.1 6 1.7-1.7-1.9z"/><path color="#7b6763" d="M1543.8 414.9l-.5 3.4 4.8-3 .5-3.5z"/><path color="#091f34" d="M1487.1 435.2l1.8 1.5 6.2 1.1-1.2-1.4z"/><path color="#89756c" d="M1463.2 403.9l-.5 3.6 4.3 3.1 .5-3.6z"/><path color="#907a76" d="M1499.1 374.3l-3.5 2.1 2.5 .7 2.6-2.3z"/><path color="#7a91a3" d="M1521.9 378l3.6 2.6 2.6-1.5-4.1-2.3z"/><path color="#84424e" d="M1483.7 378.7l-3.9 2.4 2.6 1.9 3.5-2.8z"/><path color="#3e4a51" d="M1516.5 436.6l-1 1.4 6.3-1 1.7-1.5z"/><path color="#535150" d="M1525 433.6l-1.5 1.9 6.2-1.5 2-2.1z"/><path color="#8b949e" d="M1511 374.9l2.4 2.3 2.6-.6-3.2-2.1z"/><path color="#8a6061" d="M1493.6 375.6l-3.9 2.1 2.6 1.1 3.3-2.4z"/><path color="#645453" d="M1534.9 426.9l-1.4 2.7 5.8-2.3 1.8-2.8z"/><path color="#82716c" d="M1543.8 411.3l0 3.6 4.8-3.1 0-3.5z"/><path color="#88665b" d="M1464.2 400.4l-1 3.5 4.3 3.1 .9-3.7z"/><path color="#7b3e4b" d="M1479.8 381.1l-3.6 2.8 3 2 3.2-2.9z"/><path color="#8393a2" d="M1516 376.6l3.1 2.5 2.8-1.1-3.8-2.2z"/><path color="#778fa1" d="M1525.5 380.6l3.4 2.8 3-1.8-3.8-2.5z"/><path color="#8b7672" d="M1500.7 374.8l-2.6 2.3 2.9 .5 1.7-2.5z"/><path color="#314f60" d="M1468.5 420.8l1.3 3 5.8 2.6-1.2-3z"/><path color="#86534f" d="M1465.7 396.8l-1.5 3.6 4.2 2.9 1.3-3.6z"/><path color="#878a91" d="M1509 375.2l1.5 2.5 2.9-.5-2.4-2.3z"/><path color="#763e4b" d="M1476.2 383.9l-3.3 2.9 3.4 2.4 2.9-3.3z"/><path color="#0f253a" d="M1493.9 436.4l1.2 1.4 6.7 .6-.5-1.4z"/><path color="#814347" d="M1467.7 393.4l-2 3.4 4 2.9 1.8-3.6z"/><path color="#847672" d="M1543.4 407.7l.4 3.6 4.8-3-.5-3.6z"/><path color="#753a45" d="M1472.9 386.8l-2.8 3.2 3.6 2.5 2.6-3.3z"/><path color="#7a3c46" d="M1470.1 390l-2.4 3.4 3.8 2.7 2.2-3.6z"/><path color="#283c4b" d="M1509 437.1l-.3 1.3 6.8-.4 1-1.4z"/><path color="#877877" d="M1502.7 375.1l-1.7 2.5 3.1 .2 .7-2.5z"/><path color="#102d47" d="M1477.1 429.1l1.9 2.3 6.4 1.9-1.4-2.3z"/><path color="#888285" d="M1506.9 375.3l.4 2.6 3.2-.2-1.5-2.5z"/><path color="#7c93a1" d="M1528.9 383.4l3.2 3 3.3-2-3.5-2.8z"/><path color="#8a807f" d="M1504.8 375.3l-.7 2.5 3.2 .1-.4-2.6z"/><path color="#844650" d="M1489.7 377.7l-3.8 2.5 3.3 1.4 3.1-2.8z"/><path color="#1c3245" d="M1501.3 437l.5 1.4 6.9 0 .3-1.3z"/><path color="#887f7c" d="M1542.5 404l.9 3.7 4.7-3-1-3.6z"/><path color="#8a5e5d" d="M1495.6 376.4l-3.3 2.4 3.3 .9 2.5-2.6z"/><path color="#665051" d="M1536 424l-1.1 2.9 6.2-2.4 1.3-3z"/><path color="#80949f" d="M1532.1 386.4l2.8 3.3 3.7-2.3-3.2-3z"/><path color="#0f273b" d="M1485.4 433.3l1.7 1.9 6.8 1.2-1.1-1.8z"/><path color="#4e626c" d="M1467.5 417.6l1 3.2 5.9 2.6-.7-3.2z"/><path color="#8b8888" d="M1541.2 400.3l1.3 3.7 4.6-2.9-1.4-3.5z"/><path color="#544a4b" d="M1526.3 431.4l-1.3 2.2 6.7-1.7 1.8-2.3z"/><path color="#8594a1" d="M1519.1 379.1l3 2.8 3.4-1.3-3.6-2.6z"/><path color="#898e93" d="M1513.4 377.2l2.3 2.7 3.4-.8-3.1-2.5z"/><path color="#88969e" d="M1534.9 389.7l2.5 3.4 4-2.4-2.8-3.3z"/><path color="#8d9193" d="M1539.5 396.7l1.7 3.6 4.5-2.7-2-3.5z"/><path color="#8c959a" d="M1537.4 393.1l2.1 3.6 4.2-2.6-2.3-3.4z"/><path color="#42474a" d="M1517.4 434.8l-.9 1.8 7-1.1 1.5-1.9z"/><path color="#783d4b" d="M1485.9 380.2l-3.5 2.8 3.8 1.5 3-2.9z"/><path color="#845d5c" d="M1498.1 377.1l-2.5 2.6 3.8 .7 1.6-2.8z"/><path color="#203d52" d="M1475.6 426.4l1.5 2.7 6.9 1.9-1.2-2.6z"/><path color="#664f52" d="M1536.8 420.8l-.8 3.2 6.4-2.5 .9-3.2z"/><path color="#697276" d="M1467.1 414.1l.4 3.5 6.2 2.6-.4-3.4z"/><path color="#878282" d="M1510.5 377.7l1.3 2.8 3.9-.6-2.3-2.7z"/><path color="#8a969e" d="M1522.1 381.9l2.8 3 4-1.5-3.4-2.8z"/><path color="#192e41" d="M1492.8 434.6l1.1 1.8 7.4 .6-.4-1.7z"/><path color="#7e4550" d="M1492.3 378.8l-3.1 2.8 4 1.1 2.4-3z"/><path color="#846161" d="M1501 377.6l-1.6 2.8 4.1 .3 .6-2.9z"/><path color="#6c3b4b" d="M1482.4 383l-3.2 2.9 4.3 1.9 2.7-3.3z"/><path color="#2f3e47" d="M1509.2 435.3l-.2 1.8 7.5-.5 .9-1.8z"/><path color="#86736f" d="M1507.3 377.9l.4 2.8 4.1-.2-1.3-2.8z"/><path color="#554548" d="M1527.4 428.8l-1.1 2.6 7.2-1.8 1.4-2.7z"/><path color="#888b8e" d="M1515.7 379.9l2.2 3 4.2-1-3-2.8z"/><path color="#886b68" d="M1504.1 377.8l-.6 2.9 4.2 0-.4-2.8z"/><path color="#1c3448" d="M1484 431l1.4 2.3 7.4 1.3-.9-2.2z"/><path color="#777573" d="M1467 410.6l.1 3.5 6.2 2.7-.1-3.5z"/><path color="#263747" d="M1500.9 435.3l.4 1.7 7.7 .1 .2-1.8z"/><path color="#6b5254" d="M1537.1 417.4l-.3 3.4 6.5-2.5 .5-3.4z"/><path color="#91989c" d="M1524.9 384.9l2.6 3.3 4.6-1.8-3.2-3z"/><path color="#643745" d="M1479.2 385.9l-2.9 3.3 4.7 2 2.5-3.4z"/><path color="#434144" d="M1518.2 432.6l-.8 2.2 7.6-1.2 1.3-2.2z"/><path color="#344d5c" d="M1474.4 423.4l1.2 3 7.2 2-.9-2.9z"/><path color="#7f6d65" d="M1467.5 407l-.5 3.6 6.2 2.7 .4-3.7z"/><path color="#7f464f" d="M1495.6 379.7l-2.4 3 4.6 .7 1.6-3z"/><path color="#713d4c" d="M1489.2 381.6l-3 2.9 4.7 1.3 2.3-3.1z"/><path color="#663844" d="M1476.3 389.2l-2.6 3.3 5.2 2.2 2.1-3.5z"/><path color="#705658" d="M1537.2 413.9l-.1 3.5 6.7-2.5 0-3.6z"/><path color="#805d54" d="M1468.4 403.3l-.9 3.7 6.1 2.6 .8-3.7z"/><path color="#8c7d76" d="M1511.8 380.5l1.3 3.1 4.8-.7-2.2-3z"/><path color="#97999a" d="M1527.5 388.2l2.3 3.4 5.1-1.9-2.8-3.3z"/><path color="#6b3943" d="M1473.7 392.5l-2.2 3.6 5.5 2.3 1.9-3.7z"/><path color="#7b4a48" d="M1469.7 399.7l-1.3 3.6 6 2.6 1.1-3.8z"/><path color="#544147" d="M1528.2 426l-.8 2.8 7.5-1.9 1.1-2.9z"/><path color="#8f8a88" d="M1517.9 382.9l2.1 3.2 4.9-1.2-2.8-3z"/><path color="#773d43" d="M1471.5 396.1l-1.8 3.6 5.8 2.4 1.5-3.7z"/><path color="#26394a" d="M1491.9 432.4l.9 2.2 8.1 .7-.4-2.2z"/><path color="#775c5b" d="M1536.8 410.2l.4 3.7 6.6-2.6-.4-3.6z"/><path color="#7f4e55" d="M1499.4 380.4l-1.6 3 5.1 .4 .6-3.1z"/><path color="#284050" d="M1482.8 428.4l1.2 2.6 7.9 1.4-.7-2.5z"/><path color="#9a9694" d="M1529.8 391.6l2 3.6 5.6-2.1-2.5-3.4z"/><path color="#353a40" d="M1509.4 433.2l-.2 2.1 8.2-.5 .8-2.2z"/><path color="#505f67" d="M1473.7 420.2l.7 3.2 7.5 2.1-.6-3.1z"/><path color="#876964" d="M1507.7 380.7l.3 3.2 5.1-.3-1.3-3.1z"/><path color="#855b58" d="M1503.5 380.7l-.6 3.1 5.1 .1-.3-3.2z"/><path color="#7f6763" d="M1536.1 406.5l.7 3.7 6.6-2.5-.9-3.7z"/><path color="#968e89" d="M1531.8 395.2l1.8 3.7 5.9-2.2-2.1-3.6z"/><path color="#663a48" d="M1486.2 384.5l-2.7 3.3 5.3 1.4 2.1-3.4z"/><path color="#2e3b45" d="M1500.5 433.1l.4 2.2 8.3 0 .2-2.1z"/><path color="#453a40" d="M1518.8 430.1l-.6 2.5 8.1-1.2 1.1-2.6z"/><path color="#89756e" d="M1535 402.7l1.1 3.8 6.4-2.5-1.3-3.7z"/><path color="#91827b" d="M1533.6 398.9l1.4 3.8 6.2-2.4-1.7-3.6z"/><path color="#743e4b" d="M1493.2 382.7l-2.3 3.1 5.5 .9 1.4-3.3z"/><path color="#554248" d="M1528.7 422.8l-.5 3.2 7.8-2 .8-3.2z"/><path color="#978983" d="M1520 386.1l1.9 3.4 5.6-1.3-2.6-3.3z"/><path color="#92786f" d="M1513.1 383.6l1.3 3.3 5.6-.8-2.1-3.2z"/><path color="#676c6f" d="M1473.3 416.8l.4 3.4 7.6 2.2-.3-3.4z"/><path color="#613846" d="M1483.5 387.8l-2.5 3.4 6 1.6 1.8-3.6z"/><path color="#3d4f59" d="M1481.9 425.5l.9 2.9 8.4 1.5-.6-2.9z"/><path color="#32434f" d="M1491.2 429.9l.7 2.5 8.6 .7-.2-2.4z"/><path color="#7c414c" d="M1497.8 383.4l-1.4 3.3 5.9 .5 .6-3.4z"/><path color="#3d383d" d="M1509.6 430.8l-.2 2.4 8.8-.6 .6-2.5z"/><path color="#59454a" d="M1529 419.5l-.3 3.3 8.1-2 .3-3.4z"/><path color="#895f5a" d="M1508 383.9l.4 3.4 6-.4-1.3-3.3z"/><path color="#9a877e" d="M1521.9 389.5l1.7 3.6 6.2-1.5-2.3-3.4z"/><path color="#756f6c" d="M1473.2 413.3l.1 3.5 7.7 2.2 0-3.5z"/><path color="#483940" d="M1519.3 427.3l-.5 2.8 8.6-1.3 .8-2.8z"/><path color="#613641" d="M1481 391.2l-2.1 3.5 6.4 1.8 1.7-3.7z"/><path color="#80494d" d="M1502.9 383.8l-.6 3.4 6.1 .1-.4-3.4z"/><path color="#6b3d4a" d="M1490.9 385.8l-2.1 3.4 6.2 1.1 1.4-3.6z"/><path color="#353d43" d="M1500.3 430.7l.2 2.4 8.9 .1 .2-2.4z"/><path color="#94746a" d="M1514.4 386.9l1.1 3.6 6.4-1-1.9-3.4z"/><path color="#79655b" d="M1473.6 409.6l-.4 3.7 7.8 2.2 .3-3.7z"/><path color="#67383f" d="M1478.9 394.7l-1.9 3.7 6.9 1.9 1.4-3.8z"/><path color="#5e474b" d="M1529 415.9l0 3.6 8.1-2.1 .1-3.5z"/><path color="#977f73" d="M1523.6 393.1l1.5 3.8 6.7-1.7-2-3.6z"/><path color="#545c60" d="M1481.3 422.4l.6 3.1 8.7 1.5-.4-3.1z"/><path color="#79554b" d="M1474.4 405.9l-.8 3.7 7.7 2.2 .6-3.8z"/><path color="#6f383d" d="M1477 398.4l-1.5 3.7 7.3 2 1.1-3.8z"/><path color="#754542" d="M1475.5 402.1l-1.1 3.8 7.5 2.1 .9-3.9z"/><path color="#434c51" d="M1490.6 427l.6 2.9 9.1 .8-.3-2.8z"/><path color="#66484b" d="M1528.8 412.2l.2 3.7 8.2-2-.4-3.7z"/><path color="#907264" d="M1525.1 396.9l1.3 3.8 7.2-1.8-1.8-3.7z"/><path color="#733e49" d="M1496.4 386.7l-1.4 3.6 6.8 .5 .5-3.6z"/><path color="#4b3a41" d="M1519.6 424.2l-.3 3.1 8.9-1.3 .5-3.2z"/><path color="#643944" d="M1488.8 389.2l-1.8 3.6 6.8 1.2 1.2-3.7z"/><path color="#44373d" d="M1509.7 427.9l-.1 2.9 9.2-.7 .5-2.8z"/><path color="#8d5e5a" d="M1508.4 387.3l.3 3.6 6.8-.4-1.1-3.6z"/><path color="#714c4b" d="M1528.2 408.4l.6 3.8 8-2-.7-3.7z"/><path color="#876458" d="M1526.4 400.7l1 3.9 7.6-1.9-1.4-3.8z"/><path color="#926c5f" d="M1515.5 390.5l1 3.7 7.1-1.1-1.7-3.6z"/><path color="#834a50" d="M1502.3 387.2l-.5 3.6 6.9 .1-.3-3.6z"/><path color="#7c5850" d="M1527.4 404.6l.8 3.8 7.9-1.9-1.1-3.8z"/><path color="#434042" d="M1500 427.9l.3 2.8 9.3 .1 .1-2.9z"/><path color="#666565" d="M1481 419l.3 3.4 8.9 1.5-.2-3.3z"/><path color="#64363e" d="M1487 392.8l-1.7 3.7 7.5 1.3 1-3.8z"/><path color="#4f3d43" d="M1519.8 420.9l-.2 3.3 9.1-1.4 .3-3.3z"/><path color="#535251" d="M1490.2 423.9l.4 3.1 9.4 .9-.1-3.1z"/><path color="#6e3b43" d="M1495 390.3l-1.2 3.7 7.5 .6 .5-3.8z"/><path color="#6f635e" d="M1481 415.5l0 3.5 9 1.6 0-3.6z"/><path color="#8e6252" d="M1516.5 394.2l.9 3.8 7.7-1.1-1.5-3.8z"/><path color="#4b383e" d="M1509.8 424.9l-.1 3 9.6-.6 .3-3.1z"/><path color="#87534d" d="M1508.7 390.9l.3 3.8 7.5-.5-1-3.7z"/><path color="#663338" d="M1485.3 396.5l-1.4 3.8 8 1.4 .9-3.9z"/><path color="#7e4043" d="M1501.8 390.8l-.5 3.8 7.7 .1-.3-3.8z"/><path color="#4d4243" d="M1499.9 424.8l.1 3.1 9.7 0 .1-3z"/><path color="#543e42" d="M1519.8 417.3l0 3.6 9.2-1.4 0-3.6z"/><path color="#745b4e" d="M1481.3 411.8l-.3 3.7 9 1.5 .2-3.7z"/><path color="#6e3334" d="M1483.9 400.3l-1.1 3.8 8.3 1.5 .8-3.9z"/><path color="#845543" d="M1517.4 398l.8 3.9 8.2-1.2-1.3-3.8z"/><path color="#744b3e" d="M1481.9 408l-.6 3.8 8.9 1.5 .4-3.8z"/><path color="#605350" d="M1490 420.6l.2 3.3 9.7 .9-.1-3.4z"/><path color="#713e37" d="M1482.8 404.1l-.9 3.9 8.7 1.5 .5-3.9z"/><path color="#6a3539" d="M1493.8 394l-1 3.8 8.1 .7 .4-3.9z"/><path color="#5c3e3f" d="M1519.6 413.6l.2 3.7 9.2-1.4-.2-3.7z"/><path color="#513a3f" d="M1509.9 421.5l-.1 3.4 9.8-.7 .2-3.3z"/><path color="#82493f" d="M1509 394.7l.2 3.8 8.2-.5-.9-3.8z"/><path color="#7b483b" d="M1518.2 401.9l.6 3.9 8.6-1.2-1-3.9z"/><path color="#653e3c" d="M1519.3 409.7l.3 3.9 9.2-1.4-.6-3.8z"/><path color="#713f39" d="M1518.8 405.8l.5 3.9 8.9-1.3-.8-3.8z"/><path color="#753535" d="M1501.3 394.6l-.4 3.9 8.3 0-.2-3.8z"/><path color="#594242" d="M1499.8 421.4l.1 3.4 9.9 .1 .1-3.4z"/><path color="#68544c" d="M1490 417l0 3.6 9.8 .8 0-3.5z"/><path color="#6c3030" d="M1492.8 397.8l-.9 3.9 8.6 .7 .4-3.9z"/><path color="#553c3f" d="M1509.9 418l0 3.5 9.9-.6 0-3.6z"/><path color="#7a3d32" d="M1509.2 398.5l.3 4 8.7-.6-.8-3.9z"/><path color="#6d4c3f" d="M1490.2 413.3l-.2 3.7 9.8 .9 .1-3.8z"/><path color="#6d2e2b" d="M1491.9 401.7l-.8 3.9 9.1 .8 .3-4z"/><path color="#71312d" d="M1500.9 398.5l-.4 3.9 9 .1-.3-4z"/><path color="#5d4040" d="M1499.8 417.9l0 3.5 10.1 .1 0-3.5z"/><path color="#5b3939" d="M1509.8 414.2l.1 3.8 9.9-.7-.2-3.7z"/><path color="#71362c" d="M1509.5 402.5l.1 3.9 9.2-.6-.6-3.9z"/><path color="#6d3f33" d="M1490.6 409.5l-.4 3.8 9.7 .8 .1-3.8z"/><path color="#6b332a" d="M1491.1 405.6l-.5 3.9 9.4 .8 .2-3.9z"/><path color="#623531" d="M1509.8 410.4l0 3.8 9.8-.6-.3-3.9z"/><path color="#6a322b" d="M1509.6 406.4l.2 4 9.5-.7-.5-3.9z"/><path color="#6f2f28" d="M1500.5 402.4l-.3 4 9.4 0-.1-3.9z"/><path color="#623a36" d="M1499.9 414.1l-.1 3.8 10.1 .1-.1-3.8z"/><path color="#6b2f27" d="M1500.2 406.4l-.2 3.9 9.8 .1-.2-4z"/><path color="#67342c" d="M1500 410.3l-.1 3.8 9.9 .1 0-3.8z"/></g>
<g class="f" opacity="0.738"><path color="#256292" d="M1525.5 348.5l4.3 .9-6.9-1.4-3.1-.6z"/><path color="#6a9ebb" d="M1506.7 346.6l.2-.3-6.6 .2 1.4 .3z"/><path color="#538cb2" d="M1511.8 346.8l1.7-.2-6.6-.3-.2 .3z"/><path color="#b4c5cd" d="M1488.1 348.2l-4.1 .8-6.1 1.8 5.2-1.2z"/><path color="#cbc4c0" d="M1477.9 350.8l-4.9 1.7-5.7 2.5 5.7-2.1z"/><path color="#85acc2" d="M1501.7 346.8l-1.4-.3-6.4 .6 2.9 .1z"/><path color="#d0b5a6" d="M1462.1 357.7l-4.7 3.2-5 3.7 5.2-3.6z"/><path color="#5286ac" d="M1516.6 347.4l3.2 0-6.3-.8-1.7 .2z"/><path color="#1f588c" d="M1530.2 350.1l5.5 1.2-5.9-1.9-4.3-.9z"/><path color="#134578" d="M1540.2 353.5l5.8 2.2-5.3-2.6-5-1.8z"/><path color="#94b5c8" d="M1496.8 347.2l-2.9-.1-5.8 1.1 4.3-.1z"/><path color="#124374" d="M1555.3 361.9l5.3 3.7-4.3-3.8-4.9-3.3z"/><path color="#3674a1" d="M1520.9 348.3l4.6 .2-5.7-1.1-3.2 0z"/><path color="#af7968" d="M1444 373l-3.1 4.8-3.1 4.9 3.3-5z"/><path color="#cdae9f" d="M1467.3 355l-5.2 2.7-4.5 3.3 5.8-3.1z"/><path color="#588398" d="M1574.7 383.9l2.5 5.4-2.4-5.2-2.4-5.1z"/><path color="#c5c7c7" d="M1483.1 349.6l-5.2 1.2-4.9 2.1 6.1-1.5z"/><path color="#acc0cb" d="M1492.4 348.1l-4.3 .1-5 1.4 5.5-.4z"/><path color="#bb8570" d="M1447.9 368.6l-3.9 4.4-2.9 4.7 4.1-4.8z"/><path color="#134477" d="M1549.5 358.7l5.8 3.2-3.9-3.4-5.4-2.8z"/><path color="#1d5486" d="M1533.9 351.9l6.3 1.6-4.5-2.2-5.5-1.2z"/><path color="#346d92" d="M1571.4 378.8l3.3 5.1-2.3-4.9-3.2-4.8z"/><path color="#2e6a97" d="M1524.5 349.5l5.7 .6-4.7-1.6-4.6-.2z"/><path color="#77a1bc" d="M1506.5 347.6l.2-1-5 .2 1.4 .9z"/><path color="#6b96b5" d="M1509.9 347.8l1.9-1-5.1-.2-.2 1z"/><path color="#cbb3a7" d="M1473 352.9l-5.7 2.1-3.9 2.9 6.3-2.5z"/><path color="#80a7bf" d="M1503.1 347.7l-1.4-.9-4.9 .4 3 .8z"/><path color="#588db1" d="M1513.2 348.1l3.4-.7-4.8-.6-1.9 1z"/><path color="#ba7f6a" d="M1452.4 364.6l-4.5 4-2.7 4.3 4.8-4.4z"/><path color="#28618d" d="M1567.3 374l4.1 4.8-2.2-4.6-3.9-4.5z"/><path color="#998b83" d="M1432.8 399l.1 5.6 .1 5.5-.1-5.7z"/><path color="#93b3c5" d="M1499.8 348l-3-.8-4.4 .9 4.4 .5z"/><path color="#17497b" d="M1543.1 356.1l6.4 2.6-3.5-3-5.8-2.2z"/><path color="#b6c1c6" d="M1488.6 349.2l-5.5 .4-4 1.8 6.5-.9z"/><path color="#5283a7" d="M1516.1 348.7l4.8-.4-4.3-.9-3.4 .7z"/><path color="#92857f" d="M1578.7 411.4l-.9 5.6 .9-5.5 .9-5.5z"/><path color="#bf8b79" d="M1457.6 361l-5.2 3.6-2.4 3.9 5.4-3.9z"/><path color="#2f668e" d="M1527.2 350.9l6.7 1-3.7-1.8-5.7-.6z"/><path color="#a89084" d="M1433.7 393.4l-.9 5.6 .1 5.4 .8-5.6z"/><path color="#c6b8b1" d="M1479.1 351.4l-6.1 1.5-3.3 2.5 6.7-2z"/><path color="#225989" d="M1562.5 369.6l4.8 4.4-2-4.3-4.7-4.1z"/><path color="#9bb7c6" d="M1496.8 348.6l-4.4-.5-3.8 1.1 5.7 .1z"/><path color="#4e7c9e" d="M1518.5 349.5l6 0-3.6-1.2-4.8 .4z"/><path color="#215682" d="M1536.2 354l6.9 2.1-2.9-2.6-6.3-1.6z"/><path color="#979b9e" d="M1578.7 405.8l0 5.6 .9-5.4 .1-5.7z"/><path color="#a98574" d="M1435.3 388l-1.6 5.4 0 5.4 1.7-5.6z"/><path color="#c19181" d="M1463.4 357.9l-5.8 3.1-2.2 3.6 6.1-3.5z"/><path color="#1d5283" d="M1557 365.5l5.5 4.1-1.9-4-5.3-3.7z"/><path color="#9cb5c3" d="M1494.3 349.3l-5.7-.1-3 1.3 6.7-.3z"/><path color="#b6b6b5" d="M1485.6 350.5l-6.5 .9-2.7 2 7.1-1.4z"/><path color="#84a6be" d="M1506.3 349.3l.2-1.7-3.4 .1 1.5 1.6z"/><path color="#8e979c" d="M1577.9 400.1l.8 5.7 1-5.5-.8-5.6z"/><path color="#7c9eb9" d="M1508 349.3l1.9-1.5-3.4-.2-.2 1.7z"/><path color="#a77765" d="M1437.8 382.7l-2.5 5.3 .1 5.2 2.5-5.5z"/><path color="#85a5bd" d="M1504.6 349.3l-1.5-1.6-3.3 .3 3.1 1.5z"/><path color="#7697b3" d="M1509.7 349.5l3.5-1.4-3.3-.3-1.9 1.5z"/><path color="#4c799a" d="M1520.4 350.5l6.8 .4-2.7-1.4-6 0z"/><path color="#bf998b" d="M1469.7 355.4l-6.3 2.5-1.9 3.2 6.6-3z"/><path color="#1d5180" d="M1550.9 361.9l6.1 3.6-1.7-3.6-5.8-3.2z"/><path color="#34668b" d="M1529 352.4l7.2 1.6-2.3-2.1-6.7-1z"/><path color="#88a6bd" d="M1502.9 349.5l-3.1-1.5-3 .6 4.6 1.1z"/><path color="#6f92b0" d="M1511.1 349.8l5-1.1-2.9-.6-3.5 1.4z"/><path color="#7d929c" d="M1576.3 394.5l1.6 5.6 1-5.4-1.7-5.4z"/><path color="#a76f60" d="M1441.1 377.7l-3.3 5 .1 5 3.3-5.3z"/><path color="#506b79" d="M1435.6 421l2.6 5.2 3.3 5.1-2.5-5.1z"/><path color="#90aabe" d="M1501.4 349.7l-4.6-1.1-2.5 .7 5.8 .8z"/><path color="#7e6154" d="M1569.4 432.5l-3.2 4.6 3.9-4.7 3.4-4.9z"/><path color="#215580" d="M1544.3 358.7l6.6 3.2-1.4-3.2-6.4-2.6z"/><path color="#bc9f94" d="M1476.4 353.4l-6.7 2-1.6 2.7 7-2.5z"/><path color="#7294b0" d="M1512.3 350.2l6.2-.7-2.4-.8-5 1.1z"/><path color="#a0aeb6" d="M1492.3 350.2l-6.7 .3-2.1 1.5 7.4-.7z"/><path color="#6c8c9c" d="M1573.8 388.9l2.5 5.6 .9-5.2-2.5-5.4z"/><path color="#a7675a" d="M1445.2 372.9l-4.1 4.8 .1 4.7 4.1-5.1z"/><path color="#557b99" d="M1521.6 351.5l7.4 .9-1.8-1.5-6.8-.4z"/><path color="#92acbe" d="M1500.1 350.1l-5.8-.8-2 .9 6.8 .4z"/><path color="#697b83" d="M1433.9 415.6l1.7 5.4 3.4 5.2-1.6-5.3z"/><path color="#2e6186" d="M1537.2 356.1l7.1 2.6-1.2-2.6-6.9-2.1z"/><path color="#6d8ca8" d="M1513.3 350.7l7.1-.2-1.9-1-6.2 .7z"/><path color="#b1a6a0" d="M1483.5 352l-7.1 1.4-1.3 2.2 7.4-1.9z"/><path color="#0d2c4a" d="M1448.7 440.3l4.6 3.9 5.2 3.8-4.1-3.5z"/><path color="#a8665e" d="M1450 368.5l-4.8 4.4 .1 4.4 4.8-4.7z"/><path color="#558097" d="M1570.5 383.6l3.3 5.3 .9-5-3.3-5.1z"/><path color="#856c60" d="M1571.8 427.5l-2.4 5 4.1-5 2.5-5.1z"/><path color="#041b33" d="M1463.2 451.1l5.2 2.4 6 2.7-4.4-2.1z"/><path color="#446f8f" d="M1529.8 354.1l7.4 2-1-2.1-7.2-1.6z"/><path color="#93aaba" d="M1499.1 350.6l-6.8-.4-1.4 1.1 7.5-.2z"/><path color="#ab6d67" d="M1455.4 364.6l-5.4 3.9 .1 4.1 5.4-4.4z"/><path color="#061b31" d="M1474.4 456.2l4.7 1.5 6.4 1.9-3.6-1.2z"/><path color="#7e868a" d="M1433 410.1l.9 5.5 3.5 5.3-.9-5.5z"/><path color="#457794" d="M1566.4 378.4l4.1 5.2 .9-4.8-4.1-4.8z"/><path color="#0d263d" d="M1492.9 460.9l2.5 .2 6.5 .6-1-.1z"/><path color="#a1a6a8" d="M1490.9 351.3l-7.4 .7-1 1.7 7.7-1.3z"/><path color="#597b97" d="M1513.9 351.2l7.7 .3-1.2-1-7.1 .2z"/><path color="#243e4e" d="M1509.2 461.7l-.6 .1 6.6-.5 2.1-.2z"/><path color="#87a3ba" d="M1506.1 351.6l.2-2.3-1.7 0z"/><path color="#86a1b8" d="M1506.1 351.6l1.9-2.3-1.7 0z"/><path color="#88a3ba" d="M1506.1 351.6l-1.5-2.3-1.7 .2z"/><path color="#676462" d="M1540.2 454.8l-4.2 2 6.4-2.6 5.1-2.3z"/><path color="#829ab2" d="M1506.1 351.6l3.6-2.1-1.7-.2z"/><path color="#173248" d="M1500.9 461.6l1 .1 6.7 .1 .6-.1z"/><path color="#735f55" d="M1556 445.5l-4 3.4 5.9-3.7 4.5-3.8z"/><path color="#ac726c" d="M1461.5 361.1l-6.1 3.5 .1 3.6 6.1-3.9z"/><path color="#84a0b8" d="M1506.1 351.6l-3.2-2.1-1.5 .2z"/><path color="#88746a" d="M1573.4 422.2l-1.6 5.3 4.2-5.1 1.8-5.4z"/><path color="#5a7e9a" d="M1522 352.6l7.8 1.5-.8-1.7-7.4-.9z"/><path color="#4b575e" d="M1528.2 458.9l-3.3 1 6.7-1.7 4.4-1.4z"/><path color="#7b94ac" d="M1506.1 351.6l5-1.8-1.4-.3z"/><path color="#356c91" d="M1561.7 373.6l4.7 4.8 .9-4.4-4.8-4.4z"/><path color="#83a0b8" d="M1506.1 351.6l-4.7-1.9-1.3 .4z"/><path color="#7c93ac" d="M1506.1 351.6l6.2-1.4-1.2-.4z"/><path color="#133654" d="M1444.7 436l4 4.3 5.7 4.2-3.6-4.1z"/><path color="#92a5b1" d="M1498.4 351.1l-7.5 .2-.7 1.1 7.9-.7z"/><path color="#918e8c" d="M1432.9 404.4l.1 5.7 3.5 5.3-.1-5.7z"/><path color="#ad7b74" d="M1468.1 358.1l-6.6 3 .1 3.2 6.6-3.5z"/><path color="#84a0b8" d="M1506.1 351.6l-6-1.5-1 .5z"/><path color="#7a94ae" d="M1506.1 351.6l7.2-.9-1-.5z"/><path color="#326990" d="M1556.3 369.1l5.4 4.5 .8-4-5.5-4.1z"/><path color="#6d8aa5" d="M1514.1 351.8l7.9 .8-.4-1.1-7.7-.3z"/><path color="#7f9ab4" d="M1506.1 351.6l-7-1-.7 .5z"/><path color="#ab847d" d="M1475.1 355.6l-7 2.5 .1 2.7 7-3z"/><path color="#7a92ab" d="M1506.1 351.6l7.8-.4-.6-.5z"/><path color="#32668d" d="M1550.2 365.1l6.1 4 .7-3.6-6.1-3.6z"/><path color="#8e7e76" d="M1574.3 416.7l-.9 5.5 4.4-5.2 .9-5.6z"/><path color="#839eb6" d="M1506.1 351.6l-7.7-.5-.3 .6z"/><path color="#aa958c" d="M1482.5 353.7l-7.4 1.9 .1 2.2 7.4-2.4z"/><path color="#051b34" d="M1458.5 448l4.7 3.1 6.8 3-4-2.7z"/><path color="#7b93ac" d="M1506.1 351.6l8 .2-.2-.6z"/><path color="#98877e" d="M1433.7 398.8l-.8 5.6 3.5 5.3 .8-5.7z"/><path color="#98989b" d="M1490.2 352.4l-7.7 1.3 .1 1.7 7.7-1.9z"/><path color="#39688c" d="M1543.7 361.4l6.5 3.7 .7-3.2-6.6-3.2z"/><path color="#98a4ac" d="M1498.1 351.7l-7.9 .7 .1 1.1 7.9-1.3z"/><path color="#061c33" d="M1481.9 458.4l3.6 1.2 7.4 1.3-2.3-.9z"/><path color="#829eb7" d="M1506.1 351.6l-8 .1 .1 .5z"/><path color="#7a92ab" d="M1506.1 351.6l7.9 .8 .1-.6z"/><path color="#735f55" d="M1559.5 441.5l-3.5 4 6.4-4.1 3.8-4.3z"/><path color="#45708f" d="M1536.7 358.3l7 3.1 .6-2.7-7.1-2.6z"/><path color="#718ca5" d="M1514 352.4l7.8 1.4 .2-1.2-7.9-.8z"/><path color="#547894" d="M1529.4 355.8l7.3 2.5 .5-2.2-7.4-2z"/><path color="#63829c" d="M1521.8 353.8l7.6 2 .4-1.7-7.8-1.5z"/><path color="#829cb2" d="M1506.1 351.6l-7.9 .6 .4 .6z"/><path color="#1f455f" d="M1441.5 431.3l3.2 4.7 6.1 4.4-2.9-4.4z"/><path color="#394d57" d="M1519.3 460.2l-2 .9 7.6-1.2 3.3-1z"/><path color="#7891ab" d="M1506.1 351.6l7.4 1.3 .5-.5z"/><path color="#908784" d="M1574.3 411l0 5.7 4.4-5.3 0-5.6z"/><path color="#9c7b6d" d="M1435.4 393.2l-1.7 5.6 3.5 5.2 1.6-5.7z"/><path color="#03172d" d="M1470 454.1l4.4 2.1 7.5 2.2-3.3-1.8z"/><path color="#66625f" d="M1544 452.2l-3.8 2.6 7.3-2.9 4.5-3z"/><path color="#819eb7" d="M1506.1 351.6l-7.5 1.2 .7 .5z"/><path color="#7890aa" d="M1506.1 351.6l6.5 1.8 .9-.5z"/><path color="#7f9bb2" d="M1506.1 351.6l-6.8 1.7 1.1 .4z"/><path color="#909da6" d="M1498.2 352.2l-7.9 1.3 .8 1.1 7.5-1.8z"/><path color="#778fa9" d="M1506.1 351.6l5.4 2.2 1.1-.4z"/><path color="#839db5" d="M1506.1 351.6l-5.7 2.1 1.4 .4z"/><path color="#535a5e" d="M1531.3 457.1l-3.1 1.8 7.8-2.1 4.2-2z"/><path color="#9a6c62" d="M1437.9 387.7l-2.5 5.5 3.4 5.1 2.4-5.7z"/><path color="#0b243c" d="M1490.6 460l2.3 .9 8 .7-.9-.8z"/><path color="#7b93ab" d="M1506.1 351.6l4 2.5 1.4-.3z"/><path color="#7490a8" d="M1513.5 352.9l7.3 1.9 1-1-7.8-1.4z"/><path color="#8f8d8b" d="M1573.6 405.3l.7 5.7 4.4-5.2-.8-5.7z"/><path color="#829fb6" d="M1506.1 351.6l-4.3 2.5 1.5 .2z"/><path color="#253f4e" d="M1509.8 460.9l-.6 .8 8.1-.6 2-.9z"/><path color="#7e97ae" d="M1506.1 351.6l2.4 2.8 1.6-.3z"/><path color="#829eb6" d="M1506.1 351.6l-2.8 2.7 1.7 .2z"/><path color="#819db4" d="M1506.1 351.6l.7 2.9 1.7-.1z"/><path color="#829eb5" d="M1506.1 351.6l-1.1 2.9 1.8 0z"/><path color="#948d8d" d="M1490.3 353.5l-7.7 1.9 1.2 1.6 7.3-2.4z"/><path color="#755d54" d="M1562.3 437.1l-2.8 4.4 6.7-4.4 3.2-4.6z"/><path color="#092440" d="M1454.4 444.5l4.1 3.5 7.5 3.4-3.5-3.2z"/><path color="#37586a" d="M1439 426.2l2.5 5.1 6.4 4.7-2.3-4.9z"/><path color="#143047" d="M1500 460.8l.9 .8 8.3 .1 .6-.8z"/><path color="#975e59" d="M1441.2 382.4l-3.3 5.3 3.3 4.9 3.2-5.6z"/><path color="#8d969f" d="M1498.6 352.8l-7.5 1.8 1.5 1 6.7-2.3z"/><path color="#6c879f" d="M1520.8 354.8l7.1 2.6 1.5-1.6-7.6-2z"/><path color="#a0827d" d="M1482.6 355.4l-7.4 2.4 1.6 2.1 7-2.9z"/><path color="#8e9396" d="M1572 399.5l1.6 5.8 4.3-5.2-1.6-5.6z"/><path color="#965758" d="M1445.3 377.3l-4.1 5.1 3.2 4.6 3.9-5.3z"/><path color="#7891aa" d="M1512.6 353.4l6.5 2.4 1.7-1-7.3-1.9z"/><path color="#9a6f6d" d="M1475.2 357.8l-7 3 1.9 2.6 6.7-3.5z"/><path color="#97545a" d="M1450.1 372.6l-4.8 4.7 3 4.4 4.5-5.1z"/><path color="#9c6266" d="M1468.2 360.8l-6.6 3.5 2.2 3.1 6.3-4z"/><path color="#65839d" d="M1527.9 357.4l6.9 3.1 1.9-2.2-7.3-2.5z"/><path color="#97535a" d="M1455.5 368.2l-5.4 4.4 2.7 4 5.2-4.8z"/><path color="#685d58" d="M1547.3 449l-3.3 3.2 8-3.3 4-3.4z"/><path color="#985961" d="M1461.6 364.3l-6.1 3.9 2.5 3.6 5.8-4.4z"/><path color="#85939a" d="M1569.7 393.7l2.3 5.8 4.3-5-2.5-5.6z"/><path color="#061c32" d="M1478.6 456.6l3.3 1.8 8.7 1.6-2.2-1.6z"/><path color="#8b949e" d="M1499.3 353.3l-6.7 2.3 2.2 .9 5.6-2.8z"/><path color="#556c78" d="M1437.4 420.9l1.6 5.3 6.6 4.9-1.5-5.2z"/><path color="#051b32" d="M1466 451.4l4 2.7 8.6 2.5-3.1-2.4z"/><path color="#765d56" d="M1564.4 432.2l-2.1 4.9 7.1-4.6 2.4-5z"/><path color="#7c93aa" d="M1511.5 353.8l5.3 2.9 2.3-.9-6.5-2.4z"/><path color="#5b7d99" d="M1534.8 360.5l6.6 3.6 2.3-2.7-7-3.1z"/><path color="#7d929e" d="M1566.6 388.1l3.1 5.6 4.1-4.8-3.3-5.3z"/><path color="#948886" d="M1491.1 354.6l-7.3 2.4 2.3 1.5 6.5-2.9z"/><path color="#405058" d="M1521.1 458.7l-1.8 1.5 8.9-1.3 3.1-1.8z"/><path color="#577e9c" d="M1541.4 364.1l6.1 4 2.7-3-6.5-3.7z"/><path color="#6f8d9d" d="M1562.8 382.7l3.8 5.4 3.9-4.5-4.1-5.2z"/><path color="#102f4d" d="M1450.8 440.4l3.6 4.1 8.1 3.7-3-3.8z"/><path color="#748ba3" d="M1519.1 355.8l6.3 3 2.5-1.4-7.1-2.6z"/><path color="#878f99" d="M1500.4 353.7l-5.6 2.8 2.7 .7 4.3-3.1z"/><path color="#557f9b" d="M1547.5 368.1l5.7 4.5 3.1-3.5-6.1-4z"/><path color="#60879c" d="M1558.3 377.5l4.5 5.2 3.6-4.3-4.7-4.8z"/><path color="#575959" d="M1534.1 454.7l-2.8 2.4 8.9-2.3 3.8-2.6z"/><path color="#58829c" d="M1553.2 372.6l5.1 4.9 3.4-3.9-5.4-4.5z"/><path color="#7e91a6" d="M1510.1 354.1l3.9 3.2 2.8-.6-5.3-2.9z"/><path color="#707b82" d="M1436.5 415.4l.9 5.5 6.7 5-.8-5.5z"/><path color="#858e99" d="M1501.8 354.1l-4.3 3.1 3.1 .5 2.7-3.4z"/><path color="#0d253b" d="M1488.4 458.4l2.2 1.6 9.4 .8-.8-1.5z"/><path color="#917171" d="M1483.8 357l-7 2.9 2.9 2 6.4-3.4z"/><path color="#7d8da1" d="M1508.5 354.4l2.3 3.4 3.2-.5-3.9-3.2z"/><path color="#7a5f59" d="M1565.9 427l-1.5 5.2 7.4-4.7 1.6-5.3z"/><path color="#2a404f" d="M1510.3 459.4l-.5 1.5 9.5-.7 1.8-1.5z"/><path color="#85909c" d="M1503.3 354.3l-2.7 3.4 3.3 .3 1.1-3.5z"/><path color="#808d9e" d="M1506.8 354.5l.6 3.5 3.4-.2-2.3-3.4z"/><path color="#685551" d="M1550.1 445.2l-2.8 3.8 8.7-3.5 3.5-4z"/><path color="#908281" d="M1492.6 355.6l-6.5 2.9 3.2 1.3 5.5-3.3z"/><path color="#8694a0" d="M1505 354.5l-1.1 3.5 3.5 0-.6-3.5z"/><path color="#728ca5" d="M1525.4 358.8l6.1 3.6 3.3-1.9-6.9-3.1z"/><path color="#1c3549" d="M1499.2 459.3l.8 1.5 9.8 .1 .5-1.5z"/><path color="#7b90a6" d="M1516.8 356.7l5.2 3.4 3.4-1.3-6.3-3z"/><path color="#828181" d="M1436.4 409.7l.1 5.7 6.8 5 0-5.7z"/><path color="#916167" d="M1476.8 359.9l-6.7 3.5 3.6 2.5 6-4z"/><path color="#1a3e57" d="M1447.9 436l2.9 4.4 8.7 4-2.4-4.3z"/><path color="#0a233c" d="M1462.5 448.2l3.5 3.2 9.5 2.8-2.7-3.1z"/><path color="#7e6560" d="M1566.7 421.6l-.8 5.4 7.5-4.8 .9-5.5z"/><path color="#092137" d="M1475.5 454.2l3.1 2.4 9.8 1.8-1.9-2.3z"/><path color="#8c7c74" d="M1437.2 404l-.8 5.7 6.9 5 .7-5.8z"/><path color="#8c7d7c" d="M1494.8 356.5l-5.5 3.3 4 1.1 4.2-3.7z"/><path color="#6e8ba3" d="M1531.5 362.4l5.8 4 4.1-2.3-6.6-3.6z"/><path color="#8b525f" d="M1470.1 363.4l-6.3 4 4.2 2.9 5.7-4.4z"/><path color="#434e54" d="M1522.8 456.5l-1.7 2.2 10.2-1.6 2.8-2.4z"/><path color="#585250" d="M1536.5 451.8l-2.4 2.9 9.9-2.5 3.3-3.2z"/><path color="#7f8fa0" d="M1514 357.3l3.8 3.8 4.2-1-5.2-3.4z"/><path color="#88696c" d="M1486.1 358.5l-6.4 3.4 4.2 1.8 5.4-3.9z"/><path color="#67504f" d="M1552.4 441l-2.3 4.2 9.4-3.7 2.8-4.4z"/><path color="#846d67" d="M1566.7 415.9l0 5.7 7.6-4.9 0-5.7z"/><path color="#8d6f66" d="M1438.8 398.3l-1.6 5.7 6.8 4.9 1.4-5.9z"/><path color="#844f5b" d="M1463.8 367.4l-5.8 4.4 4.8 3.3 5.2-4.8z"/><path color="#798fa4" d="M1522 360.1l5 4 4.5-1.7-6.1-3.6z"/><path color="#6f8da3" d="M1537.3 366.4l5.5 4.6 4.7-2.9-6.1-4z"/><path color="#81787b" d="M1497.5 357.2l-4.2 3.7 4.6 .7 2.7-3.9z"/><path color="#325264" d="M1445.6 431.1l2.3 4.9 9.2 4.1-1.9-4.8z"/><path color="#8c5f5b" d="M1441.2 392.6l-2.4 5.7 6.6 4.7 2.2-5.9z"/><path color="#7f8995" d="M1510.8 357.8l2.3 4 4.7-.7-3.8-3.8z"/><path color="#7f4e5a" d="M1458 371.8l-5.2 4.8 5.3 3.6 4.7-5.1z"/><path color="#132b40" d="M1486.5 456.1l1.9 2.3 10.8 .9-.8-2.1z"/><path color="#8a5357" d="M1444.4 387l-3.2 5.6 6.4 4.5 2.9-5.8z"/><path color="#897671" d="M1566 410l.7 5.9 7.6-4.9-.7-5.7z"/><path color="#804d57" d="M1452.8 376.6l-4.5 5.1 5.7 4 4.1-5.5z"/><path color="#844d55" d="M1448.3 381.7l-3.9 5.3 6.1 4.3 3.5-5.6z"/><path color="#324451" d="M1510.7 457.3l-.4 2.1 10.8-.7 1.7-2.2z"/><path color="#817b7e" d="M1500.6 357.7l-2.7 3.9 5 .4 1-4z"/><path color="#12304a" d="M1459.5 444.4l3 3.8 10.3 2.9-2.3-3.6z"/><path color="#7f818b" d="M1507.4 358l.6 4.1 5.1-.3-2.3-4z"/><path color="#7693a4" d="M1542.8 371l5 4.9 5.4-3.3-5.7-4.5z"/><path color="#838285" d="M1503.9 358l-1 4 5.1 .1-.6-4.1z"/><path color="#885761" d="M1479.7 361.9l-6 4 5.2 2.1 5-4.3z"/><path color="#253a4b" d="M1498.4 457.2l.8 2.1 11.1 .1 .4-2.1z"/><path color="#8e817c" d="M1564.6 404.1l1.4 5.9 7.6-4.7-1.6-5.8z"/><path color="#88686a" d="M1489.3 359.8l-5.4 3.9 5.3 1.4 4.1-4.2z"/><path color="#684c4c" d="M1554.2 436.3l-1.8 4.7 9.9-3.9 2.1-4.9z"/><path color="#7f96a4" d="M1547.8 375.9l4.6 5.2 5.9-3.6-5.1-4.9z"/><path color="#122b3f" d="M1472.8 451.1l2.7 3.1 11 1.9-1.7-2.8z"/><path color="#4f646f" d="M1444.1 425.9l1.5 5.2 9.6 4.2-1.3-5.1z"/><path color="#938e8b" d="M1562.5 398.2l2.1 5.9 7.4-4.6-2.3-5.8z"/><path color="#584948" d="M1538.6 448.2l-2.1 3.6 10.8-2.8 2.8-3.8z"/><path color="#7c92a3" d="M1527 364.1l4.8 4.4 5.5-2.1-5.8-4z"/><path color="#7e8c98" d="M1517.8 361.1l3.7 4.3 5.5-1.3-5-4z"/><path color="#8a9ba4" d="M1552.4 381.1l4 5.5 6.4-3.9-4.5-5.2z"/><path color="#949697" d="M1559.8 392.3l2.7 5.9 7.2-4.5-3.1-5.6z"/><path color="#929ba0" d="M1556.4 386.6l3.4 5.7 6.8-4.2-3.8-5.4z"/><path color="#494a4b" d="M1524.3 453.6l-1.5 2.9 11.3-1.8 2.4-2.9z"/><path color="#804f5d" d="M1473.7 365.9l-5.7 4.4 6.1 2.5 4.8-4.8z"/><path color="#826568" d="M1493.3 360.9l-4.1 4.2 6.1 1 2.6-4.5z"/><path color="#224055" d="M1457.1 440.1l2.4 4.3 11 3.1-1.9-4.1z"/><path color="#68494d" d="M1555.4 431.2l-1.2 5.1 10.2-4.1 1.5-5.2z"/><path color="#6b757a" d="M1443.3 420.4l.8 5.5 9.8 4.3-.7-5.4z"/><path color="#7f8389" d="M1513.1 361.8l2.2 4.5 6.2-.9-3.7-4.3z"/><path color="#8496a2" d="M1531.8 368.5l4.5 4.9 6.5-2.4-5.5-4.6z"/><path color="#203648" d="M1484.8 453.3l1.7 2.8 11.9 1.1-.7-2.8z"/><path color="#805360" d="M1483.9 363.7l-5 4.3 6.4 1.8 3.9-4.7z"/><path color="#80696b" d="M1497.9 361.6l-2.6 4.5 6.6 .5 1-4.6z"/><path color="#774d5b" d="M1468 370.3l-5.2 4.8 6.9 2.9 4.4-5.2z"/><path color="#38444b" d="M1511.1 454.5l-.4 2.8 12.1-.8 1.5-2.9z"/><path color="#7e7779" d="M1508 362.1l.7 4.6 6.6-.4-2.2-4.5z"/><path color="#584144" d="M1540.3 444.1l-1.7 4.1 11.5-3 2.3-4.2z"/><path color="#818b92" d="M1521.5 365.4l3.6 4.7 6.7-1.6-4.8-4.4z"/><path color="#857273" d="M1502.9 362l-1 4.6 6.8 .1-.7-4.6z"/><path color="#1f384d" d="M1470.5 447.5l2.3 3.6 12 2.2-1.5-3.5z"/><path color="#7b7b7a" d="M1443.3 414.7l0 5.7 9.9 4.4 0-5.7z"/><path color="#2e3e4d" d="M1497.7 454.4l.7 2.8 12.3 .1 .4-2.8z"/><path color="#6d4c4f" d="M1556.1 425.7l-.7 5.5 10.5-4.2 .8-5.4z"/><path color="#8e9aa1" d="M1536.3 373.4l4.2 5.2 7.3-2.7-5-4.9z"/><path color="#724b58" d="M1462.8 375.1l-4.7 5.1 7.6 3.3 4-5.5z"/><path color="#4a4243" d="M1525.5 450.2l-1.2 3.4 12.2-1.8 2.1-3.6z"/><path color="#375160" d="M1455.2 435.3l1.9 4.8 11.5 3.3-1.4-4.6z"/><path color="#84756e" d="M1444 408.9l-.7 5.8 9.9 4.4 .6-5.9z"/><path color="#835661" d="M1489.2 365.1l-3.9 4.7 7.5 1.2 2.5-4.9z"/><path color="#794f5d" d="M1478.9 368l-4.8 4.8 7.6 2.1 3.6-5.1z"/><path color="#744b56" d="M1458.1 380.2l-4.1 5.5 8.2 3.5 3.5-5.7z"/><path color="#735152" d="M1556.1 420l0 5.7 10.6-4.1 0-5.7z"/><path color="#876861" d="M1445.4 403l-1.4 5.9 9.8 4.3 1.2-6z"/><path color="#898281" d="M1515.3 366.3l2.1 4.9 7.7-1.1-3.6-4.7z"/><path color="#9a9fa2" d="M1540.5 378.6l3.8 5.6 8.1-3.1-4.6-5.2z"/><path color="#794c55" d="M1454 385.7l-3.5 5.6 8.8 3.8 2.9-5.9z"/><path color="#835957" d="M1447.6 397.1l-2.2 5.9 9.6 4.2 1.8-6.1z"/><path color="#563c42" d="M1541.7 439.5l-1.4 4.6 12.1-3.1 1.8-4.7z"/><path color="#8d8f90" d="M1525.1 370.1l3.3 5.2 7.9-1.9-4.5-4.9z"/><path color="#814d53" d="M1450.5 391.3l-2.9 5.8 9.2 4 2.5-6z"/><path color="#2e4151" d="M1483.3 449.8l1.5 3.5 12.9 1.1-.5-3.4z"/><path color="#7b5856" d="M1555.5 414.1l.6 5.9 10.6-4.1-.7-5.9z"/><path color="#815b64" d="M1495.3 366.1l-2.5 4.9 8.1 .7 1-5.1z"/><path color="#2f4757" d="M1468.6 443.4l1.9 4.1 12.8 2.3-1.2-4z"/><path color="#9f9e9d" d="M1544.3 384.2l3.3 5.8 8.8-3.4-4-5.5z"/><path color="#3f3e41" d="M1511.5 451.2l-.4 3.3 13.2-.9 1.2-3.4z"/><path color="#54646c" d="M1453.9 430.2l1.3 5.1 12 3.5-1-5.1z"/><path color="#857272" d="M1508.7 366.7l.5 5 8.2-.5-2.1-4.9z"/><path color="#886869" d="M1501.9 366.6l-1 5.1 8.3 0-.5-5z"/><path color="#846560" d="M1554.4 408.1l1.1 6 10.5-4.1-1.4-5.9z"/><path color="#9e9590" d="M1547.6 390l2.8 5.9 9.4-3.6-3.4-5.7z"/><path color="#734d5a" d="M1474.1 372.8l-4.4 5.2 8.6 2.3 3.4-5.4z"/><path color="#38424b" d="M1497.2 451l.5 3.4 13.4 .1 .4-3.3z"/><path color="#4b383d" d="M1526.6 446.2l-1.1 4 13.1-2 1.7-4.1z"/><path color="#8f756c" d="M1552.7 402l1.7 6.1 10.2-4-2.1-5.9z"/><path color="#99867e" d="M1550.4 395.9l2.3 6.1 9.8-3.8-2.7-5.9z"/><path color="#7d505d" d="M1485.3 369.8l-3.6 5.1 8.7 1.4 2.4-5.3z"/><path color="#563c43" d="M1542.6 434.5l-.9 5 12.5-3.2 1.2-5.1z"/><path color="#9a928e" d="M1528.4 375.3l3.1 5.5 9-2.2-4.2-5.2z"/><path color="#93807a" d="M1517.4 371.2l2 5.4 9-1.3-3.3-5.2z"/><path color="#6c7275" d="M1453.2 424.8l.7 5.4 12.3 3.5-.5-5.4z"/><path color="#714d59" d="M1469.7 378l-4 5.5 9.6 2.6 3-5.8z"/><path color="#445660" d="M1467.2 438.8l1.4 4.6 13.5 2.4-1-4.6z"/><path color="#3c4b55" d="M1482.1 445.8l1.2 4 13.9 1.2-.5-3.9z"/><path color="#83535e" d="M1492.8 371l-2.4 5.3 9.6 .8 .9-5.4z"/><path color="#44393c" d="M1511.8 447.2l-.3 4 14-1 1.1-4z"/><path color="#593e44" d="M1543 429l-.4 5.5 12.8-3.3 .7-5.5z"/><path color="#8e6e6d" d="M1509.2 371.7l.6 5.5 9.6-.6-2-5.4z"/><path color="#a29189" d="M1531.5 380.8l2.8 5.8 10-2.4-3.8-5.6z"/><path color="#7b7775" d="M1453.2 419.1l0 5.7 12.5 3.5 0-5.7z"/><path color="#4c353b" d="M1527.4 441.7l-.8 4.5 13.7-2.1 1.4-4.6z"/><path color="#714b54" d="M1465.7 383.5l-3.5 5.7 10.4 2.8 2.7-5.9z"/><path color="#8a5f64" d="M1500.9 371.7l-.9 5.4 9.8 .1-.6-5.5z"/><path color="#77515c" d="M1481.7 374.9l-3.4 5.4 10 1.7 2.1-5.7z"/><path color="#424346" d="M1496.7 447.1l.5 3.9 14.3 .2 .3-4z"/><path color="#9b8078" d="M1519.4 376.6l1.9 5.7 10.2-1.5-3.1-5.5z"/><path color="#816f66" d="M1453.8 413.2l-.6 5.9 12.5 3.5 .4-6z"/><path color="#74494f" d="M1462.2 389.2l-2.9 5.9 11 3.1 2.3-6.2z"/><path color="#5f3f45" d="M1543.1 423.3l-.1 5.7 13.1-3.3 0-5.7z"/><path color="#a1897e" d="M1534.3 386.6l2.4 6 10.9-2.6-3.3-5.8z"/><path color="#5c6468" d="M1466.2 433.7l1 5.1 13.9 2.4-.6-5z"/><path color="#826157" d="M1455 407.2l-1.2 6 12.3 3.4 1-6.1z"/><path color="#7c4a4d" d="M1459.3 395.1l-2.5 6 11.7 3.2 1.8-6.1z"/><path color="#7f5450" d="M1456.8 401.1l-1.8 6.1 12.1 3.3 1.4-6.2z"/><path color="#4e5457" d="M1481.1 441.2l1 4.6 14.6 1.3-.4-4.5z"/><path color="#684146" d="M1542.6 417.4l.5 5.9 13-3.3-.6-5.9z"/><path color="#80535d" d="M1490.4 376.3l-2.1 5.7 10.8 .9 .9-5.8z"/><path color="#9a7a6b" d="M1536.7 392.6l2.1 6.2 11.6-2.9-2.8-5.9z"/><path color="#4d343c" d="M1527.9 436.7l-.5 5 14.3-2.2 .9-5z"/><path color="#734d56" d="M1478.3 380.3l-3 5.8 11 1.8 2-5.9z"/><path color="#4b353a" d="M1512 442.7l-.2 4.5 14.8-1 .8-4.5z"/><path color="#966d69" d="M1509.8 377.2l.5 5.8 11-.7-1.9-5.7z"/><path color="#754847" d="M1541.8 411.2l.8 6.2 12.9-3.3-1.1-6z"/><path color="#8f6659" d="M1538.8 398.8l1.7 6.2 12.2-3-2.3-6.1z"/><path color="#9d7a6e" d="M1521.3 382.3l1.6 5.9 11.4-1.6-2.8-5.8z"/><path color="#8c5b60" d="M1500 377.1l-.9 5.8 11.2 .1-.5-5.8z"/><path color="#81554e" d="M1540.5 405l1.3 6.2 12.6-3.1-1.7-6.1z"/><path color="#4c4343" d="M1496.3 442.6l.4 4.5 15.1 .1 .2-4.5z"/><path color="#6e6c6c" d="M1465.7 428.3l.5 5.4 14.3 2.5-.3-5.4z"/><path color="#73494f" d="M1475.3 386.1l-2.7 5.9 12 2.1 1.7-6.2z"/><path color="#4e363d" d="M1528.2 431.3l-.3 5.4 14.7-2.2 .4-5.5z"/><path color="#5d5756" d="M1480.5 436.2l.6 5 15.2 1.4-.2-5z"/><path color="#7d5055" d="M1488.3 382l-2 5.9 12.1 1 .7-6z"/><path color="#796b65" d="M1465.7 422.6l0 5.7 14.5 2.5 0-5.7z"/><path color="#986c5c" d="M1522.9 388.2l1.5 6.2 12.3-1.8-2.4-6z"/><path color="#4f343a" d="M1512.1 437.7l-.1 5 15.4-1 .5-5z"/><path color="#94655e" d="M1510.3 383l.5 6 12.1-.8-1.6-5.9z"/><path color="#764547" d="M1472.6 392l-2.3 6.2 12.8 2.1 1.5-6.2z"/><path color="#8b5154" d="M1499.1 382.9l-.7 6 12.4 .1-.5-6z"/><path color="#574241" d="M1496.1 437.6l.2 5 15.7 .1 .1-5z"/><path color="#53363d" d="M1528.2 425.6l0 5.7 14.8-2.3 .1-5.7z"/><path color="#7d6356" d="M1466.1 416.6l-.4 6 14.5 2.5 .3-6z"/><path color="#7b4341" d="M1470.3 398.2l-1.8 6.1 13.5 2.3 1.1-6.3z"/><path color="#8f5b49" d="M1524.4 394.4l1.2 6.3 13.2-1.9-2.1-6.2z"/><path color="#7e5648" d="M1467.1 410.5l-1 6.1 14.4 2.5 .6-6.2z"/><path color="#6a5953" d="M1480.2 430.8l.3 5.4 15.6 1.4-.2-5.4z"/><path color="#7d4a42" d="M1468.5 404.3l-1.4 6.2 14 2.4 .9-6.3z"/><path color="#7b4748" d="M1486.3 387.9l-1.7 6.2 13.1 1.1 .7-6.3z"/><path color="#5b373b" d="M1527.9 419.6l.3 6 14.9-2.3-.5-5.9z"/><path color="#53353c" d="M1512.2 432.4l-.1 5.3 15.8-1 .3-5.4z"/><path color="#8e5549" d="M1510.8 389l.4 6.3 13.2-.9-1.5-6.2z"/><path color="#834a3d" d="M1525.6 400.7l1.1 6.4 13.8-2.1-1.7-6.2z"/><path color="#683839" d="M1527.4 413.4l.5 6.2 14.7-2.2-.8-6.2z"/><path color="#763c37" d="M1526.7 407.1l.7 6.3 14.4-2.2-1.3-6.2z"/><path color="#854744" d="M1498.4 388.9l-.7 6.3 13.5 .1-.4-6.3z"/><path color="#5f4040" d="M1495.9 432.2l.2 5.4 16 .1 .1-5.3z"/><path color="#71564d" d="M1480.2 425.1l0 5.7 15.7 1.4 0-5.7z"/><path color="#793e3c" d="M1484.6 394.1l-1.5 6.2 14 1.2 .6-6.3z"/><path color="#57353a" d="M1512.2 426.6l0 5.8 16-1.1 0-5.7z"/><path color="#844537" d="M1511.2 395.3l.3 6.3 14.1-.9-1.2-6.3z"/><path color="#764f42" d="M1480.5 419.1l-.3 6 15.7 1.4 .1-6z"/><path color="#7a3933" d="M1483.1 400.3l-1.1 6.3 14.6 1.3 .5-6.4z"/><path color="#7f3d36" d="M1497.7 395.2l-.6 6.3 14.4 .1-.3-6.3z"/><path color="#643f3e" d="M1495.9 426.5l0 5.7 16.3 .2 0-5.8z"/><path color="#5e3336" d="M1512.1 420.6l.1 6 16-1-.3-6z"/><path color="#7a392f" d="M1511.5 401.6l.3 6.4 14.9-.9-1.1-6.4z"/><path color="#774537" d="M1481.1 412.9l-.6 6.2 15.5 1.4 .3-6.3z"/><path color="#773c31" d="M1482 406.6l-.9 6.3 15.2 1.3 .3-6.3z"/><path color="#66302f" d="M1512 414.4l.1 6.2 15.8-1-.5-6.2z"/><path color="#70302b" d="M1511.8 408l.2 6.4 15.4-1-.7-6.3z"/><path color="#77332b" d="M1497.1 401.5l-.5 6.4 15.2 .1-.3-6.4z"/><path color="#683835" d="M1496 420.5l-.1 6 16.3 .1-.1-6z"/><path color="#713129" d="M1496.6 407.9l-.3 6.3 15.7 .2-.2-6.4z"/><path color="#6d332d" d="M1496.3 414.2l-.3 6.3 16.1 .1-.1-6.2z"/></g>
<g class="f" opacity="0.505"><path color="#6fa0bb" d="M1506.9 332.3l.2-.3-8.3 .2 1.8 .3z"/><path color="#528cb1" d="M1513.2 332.6l2.2-.2-8.3-.4-.2 .3z"/><path color="#b9c7ce" d="M1483.6 334.3l-5.1 1-7.7 2.2 6.5-1.4z"/><path color="#cbcac9" d="M1470.8 337.5l-6 2.2-7.1 3.2 7.1-2.7z"/><path color="#7aa7c0" d="M1500.6 332.5l-1.8-.3-7.9 .8 3.6 .1z"/><path color="#c69e8d" d="M1451.2 346.2l-5.9 4.1-6.3 4.5 6.5-4.5z"/><path color="#4081ac" d="M1519.2 333.3l4 0-7.8-.9-2.2 .2z"/><path color="#1d568b" d="M1536.2 336.6l6.8 1.6-7.3-2.4-5.4-1.1z"/><path color="#124478" d="M1548.7 341l7.3 2.7-6.6-3.2-6.4-2.3z"/><path color="#92b5c8" d="M1494.5 333.1l-3.6-.1-7.3 1.3 5.3-.2z"/><path color="#114172" d="M1567.7 351.4l6.5 4.6-5.5-4.6-6-4.2z"/><path color="#2f6e9e" d="M1524.5 334.4l5.8 .3-7.1-1.4-4 0z"/><path color="#cfb3a5" d="M1457.7 342.9l-6.5 3.3-5.7 4.1 7.2-3.8z"/><path color="#c7c8c9" d="M1477.3 336.1l-6.5 1.4-6 2.7 7.6-1.9z"/><path color="#aac0cc" d="M1488.9 334.1l-5.3 .2-6.3 1.8 6.9-.6z"/><path color="#bd8872" d="M1433.4 359.8l-4.8 5.6-3.8 5.7 5.1-5.9z"/><path color="#134476" d="M1560.3 347.4l7.4 4-5-4.2-6.7-3.5z"/><path color="#1a5082" d="M1540.8 338.9l7.9 2.1-5.7-2.8-6.8-1.6z"/><path color="#336d92" d="M1587.7 372.6l4.2 6.3-3-6.1-4-6z"/><path color="#2a6594" d="M1529.1 335.9l7.1 .7-5.9-1.9-5.8-.3z"/><path color="#6e9ebb" d="M1506.6 333.5l.3-1.2-6.3 .2 1.8 1.1z"/><path color="#5f91b3" d="M1510.9 333.7l2.3-1.1-6.3-.3-.3 1.2z"/><path color="#cbb8ae" d="M1464.8 340.2l-7.1 2.7-5 3.6 7.9-3.2z"/><path color="#79a3be" d="M1502.4 333.6l-1.8-1.1-6.1 .6 3.8 .9z"/><path color="#558ab0" d="M1514.9 334.2l4.3-.9-6-.7-2.3 1.1z"/><path color="#bc836e" d="M1439 354.8l-5.6 5-3.5 5.4 6-5.5z"/><path color="#27618d" d="M1582.6 366.5l5.1 6.1-2.8-5.8-4.9-5.7z"/><path color="#90b1c5" d="M1498.3 334l-3.8-.9-5.6 1 5.6 .6z"/><path color="#154778" d="M1552.3 344.1l8 3.3-4.3-3.7-7.3-2.7z"/><path color="#b5c2c8" d="M1484.2 335.5l-6.9 .6-4.9 2.2 8-1.2z"/><path color="#4d80a6" d="M1518.5 334.9l6-.5-5.3-1.1-4.3 .9z"/><path color="#c08e7e" d="M1445.5 350.3l-6.5 4.5-3.1 4.9 6.8-5z"/><path color="#2b618b" d="M1532.5 337.6l8.3 1.3-4.6-2.3-7.1-.7z"/><path color="#aa8f81" d="M1415.6 390.8l-1 7-.1 6.8 1-7.1z"/><path color="#c6bcb5" d="M1472.4 338.3l-7.6 1.9-4.2 3.1 8.4-2.5z"/><path color="#215889" d="M1576.6 360.9l6 5.6-2.6-5.4-5.8-5.1z"/><path color="#94b3c4" d="M1494.5 334.7l-5.6-.6-4.7 1.4 7.1 .1z"/><path color="#47779b" d="M1521.6 335.9l7.5 0-4.6-1.5-6 .5z"/><path color="#1e527e" d="M1543.8 341.4l8.5 2.7-3.6-3.1-7.9-2.1z"/><path color="#9a9b9b" d="M1597 406.3l-.1 7 1.1-6.8 0-7z"/><path color="#aa8574" d="M1417.6 384l-2 6.8-.1 6.7 2.1-7z"/><path color="#c49989" d="M1452.7 346.5l-7.2 3.8-2.8 4.4 7.6-4.4z"/><path color="#1b5081" d="M1569.8 355.9l6.8 5-2.4-4.9-6.5-4.6z"/><path color="#9ab3c2" d="M1491.3 335.6l-7.1-.1-3.8 1.6 8.4-.3z"/><path color="#b2b7b8" d="M1480.4 337.1l-8 1.2-3.4 2.5 8.8-1.8z"/><path color="#7a9fbb" d="M1506.4 335.5l.2-2-4.2 .1 1.8 2z"/><path color="#8f999f" d="M1596 399.2l1 7.1 1-6.8-1-7z"/><path color="#7497b5" d="M1508.5 335.6l2.4-1.9-4.3-.2-.2 2z"/><path color="#a97966" d="M1420.7 377.4l-3.1 6.6 0 6.5 3.1-6.9z"/><path color="#7da0bb" d="M1504.2 335.6l-1.8-2-4.1 .4 3.8 1.8z"/><path color="#6c90b0" d="M1510.5 335.9l4.4-1.7-4-.5-2.4 1.9z"/><path color="#4b7799" d="M1523.9 337.1l8.6 .5-3.4-1.7-7.5 0z"/><path color="#c09f92" d="M1460.6 343.3l-7.9 3.2-2.4 3.8 8.2-3.7z"/><path color="#1c507e" d="M1562.2 351.3l7.6 4.6-2.1-4.5-7.4-4z"/><path color="#2f6086" d="M1534.8 339.5l9 1.9-3-2.5-8.3-1.3z"/><path color="#7fa2bc" d="M1502.1 335.8l-3.8-1.8-3.8 .7 5.8 1.5z"/><path color="#688fb0" d="M1512.4 336.3l6.1-1.4-3.6-.7-4.4 1.7z"/><path color="#7f939d" d="M1593.9 392.1l2.1 7.1 1-6.7-2-6.9z"/><path color="#ab7567" d="M1424.8 371.1l-4.1 6.3 0 6.2 4.2-6.6z"/><path color="#516d7c" d="M1418 425.3l3.2 6.5 4.1 6.4-3.2-6.3z"/><path color="#88a7be" d="M1500.3 336.2l-5.8-1.5-3.2 .9 7.3 1z"/><path color="#806154" d="M1585.3 439.7l-3.9 5.8 4.7-6 4.2-6.1z"/><path color="#1e517c" d="M1553.9 347.4l8.3 3.9-1.9-3.9-8-3.3z"/><path color="#bca69c" d="M1469 340.8l-8.4 2.5-2.1 3.3 8.8-3.1z"/><path color="#698dad" d="M1513.9 336.7l7.7-.8-3.1-1-6.1 1.4z"/><path color="#9dadb6" d="M1488.8 336.8l-8.4 .3-2.6 1.9 9.3-1z"/><path color="#6d8d9d" d="M1590.8 385.2l3.1 6.9 1.1-6.5-3.1-6.7z"/><path color="#ab6f61" d="M1429.9 365.2l-5.1 5.9 .1 5.9 5.1-6.3z"/><path color="#4c7595" d="M1525.4 338.4l9.4 1.1-2.3-1.9-8.6-.5z"/><path color="#8eaabd" d="M1498.6 336.6l-7.3-1-2.5 1.2 8.6 .4z"/><path color="#687b84" d="M1415.8 418.6l2.2 6.7 4.1 6.6-2.1-6.7z"/><path color="#295b82" d="M1545 344.1l8.9 3.3-1.6-3.3-8.5-2.7z"/><path color="#698aa9" d="M1515.1 337.3l8.8-.2-2.3-1.2-7.7 .8z"/><path color="#aea8a5" d="M1477.8 339l-8.8 1.8-1.7 2.7 9.3-2.4z"/><path color="#0c2c4a" d="M1434.2 449.4l5.8 4.9 6.5 4.9-5.2-4.5z"/><path color="#ad7067" d="M1435.9 359.7l-6 5.5 .1 5.5 6-6z"/><path color="#568199" d="M1586.7 378.4l4.1 6.8 1.1-6.3-4.2-6.3z"/><path color="#866b5e" d="M1588.4 433.5l-3.1 6.2 5-6.3 3.3-6.4z"/><path color="#051b32" d="M1452.4 462.9l6.6 3.1 7.4 3.4-5.5-2.6z"/><path color="#3d6889" d="M1535.7 341.6l9.3 2.5-1.2-2.7-9-1.9z"/><path color="#8ca6b7" d="M1497.4 337.2l-8.6-.4-1.7 1.2 9.4-.2z"/><path color="#b07872" d="M1442.7 354.7l-6.8 5 .1 5 6.8-5.5z"/><path color="#051a31" d="M1466.4 469.4l6 1.8 8 2.4-4.6-1.4z"/><path color="#7d868b" d="M1414.6 411.6l1.2 7 4.2 6.6-1.1-6.9z"/><path color="#437695" d="M1581.7 372l5 6.4 1-5.8-5.1-6.1z"/><path color="#99a4ab" d="M1487.1 338l-9.3 1-1.2 2.1 9.6-1.7z"/><path color="#6888a6" d="M1515.8 338l9.6 .4-1.5-1.3-8.8 .2z"/><path color="#26404f" d="M1510 476.2l-.7 .1 8.2-.6 2.6-.2z"/><path color="#819fb9" d="M1506.1 338.4l.3-2.9-2.2 .1z"/><path color="#7f9db8" d="M1506.1 338.4l2.4-2.8-2.1-.1z"/><path color="#819fb9" d="M1506.1 338.4l-1.9-2.8-2.1 .2z"/><path color="#636262" d="M1548.8 467.7l-5.2 2.5 8-3.3 6.3-2.9z"/><path color="#7b97b1" d="M1506.1 338.4l4.4-2.5-2-.3z"/><path color="#163248" d="M1499.6 476.1l1.3 .1 8.4 .1 .7-.1z"/><path color="#745f54" d="M1568.6 456l-5 4.3 7.2-4.8 5.7-4.7z"/><path color="#b07c76" d="M1450.3 350.3l-7.6 4.4 .1 4.5 7.6-4.9z"/><path color="#809eb8" d="M1506.1 338.4l-4-2.6-1.8 .4z"/><path color="#897469" d="M1590.5 426.8l-2.1 6.7 5.2-6.5 2.2-6.7z"/><path color="#527795" d="M1526 339.8l9.7 1.8-.9-2.1-9.4-1.1z"/><path color="#4e595f" d="M1533.8 472.7l-4.2 1.3 8.4-2.1 5.6-1.7z"/><path color="#7690ab" d="M1506.1 338.4l6.3-2.1-1.9-.4z"/><path color="#356d93" d="M1575.7 366l6 6 .9-5.5-6-5.6z"/><path color="#7e9db8" d="M1506.1 338.4l-5.8-2.2-1.7 .4z"/><path color="#748eaa" d="M1506.1 338.4l7.8-1.7-1.5-.4z"/><path color="#143655" d="M1429.3 444.1l4.9 5.3 7.1 5.3-4.5-5z"/><path color="#8da2b1" d="M1496.5 337.8l-9.4 .2-.9 1.4 9.9-.9z"/><path color="#91908f" d="M1414.5 404.6l.1 7 4.3 6.7 0-7.1z"/><path color="#b18680" d="M1458.5 346.6l-8.2 3.7 .1 4 8.2-4.4z"/><path color="#7d9db7" d="M1506.1 338.4l-7.5-1.8-1.2 .6z"/><path color="#748faa" d="M1506.1 338.4l9-1.1-1.2-.6z"/><path color="#306790" d="M1568.9 360.4l6.8 5.6 .9-5.1-6.8-5z"/><path color="#6785a1" d="M1516.1 338.7l9.9 1.1-.6-1.4-9.6-.4z"/><path color="#7e9db7" d="M1506.1 338.4l-8.7-1.2-.9 .6z"/><path color="#ac8d87" d="M1467.3 343.5l-8.8 3.1 .1 3.3 8.8-3.7z"/><path color="#738eaa" d="M1506.1 338.4l9.7-.4-.7-.7z"/><path color="#2e638b" d="M1561.4 355.3l7.5 5.1 .9-4.5-7.6-4.6z"/><path color="#907e76" d="M1591.5 420l-1 6.8 5.3-6.5 1.1-7z"/><path color="#7c9ab4" d="M1506.1 338.4l-9.6-.6-.4 .7z"/><path color="#a89893" d="M1476.6 341.1l-9.3 2.4 .1 2.7 9.3-3.1z"/><path color="#051c34" d="M1446.5 459.2l5.9 3.7 8.5 3.9-5-3.3z"/><path color="#738ea8" d="M1506.1 338.4l10 .3-.3-.7z"/><path color="#9a8b83" d="M1415.5 397.5l-1 7.1 4.4 6.6 .9-7.1z"/><path color="#949a9f" d="M1486.2 339.4l-9.6 1.7 .1 2 9.6-2.3z"/><path color="#346489" d="M1553.2 350.8l8.2 4.5 .8-4-8.3-3.9z"/><path color="#8fa2ad" d="M1496.1 338.5l-9.9 .9 .1 1.4 9.8-1.6z"/><path color="#061c33" d="M1475.8 472.2l4.6 1.4 9.2 1.6-2.9-1.1z"/><path color="#7b9ab5" d="M1506.1 338.4l-10 .1 0 .7z"/><path color="#7390ab" d="M1506.1 338.4l9.9 1 .1-.7z"/><path color="#745f54" d="M1572.9 451l-4.3 5 7.9-5.2 4.9-5.3z"/><path color="#3e6a8b" d="M1544.5 346.9l8.7 3.9 .7-3.4-8.9-3.3z"/><path color="#6b88a4" d="M1516 339.4l9.7 1.7 .3-1.3-9.9-1.1z"/><path color="#4b708e" d="M1535.3 343.6l9.2 3.3 .5-2.8-9.3-2.5z"/><path color="#5b7b98" d="M1525.7 341.1l9.6 2.5 .4-2-9.7-1.8z"/><path color="#7d9bb3" d="M1506.1 338.4l-10 .8 .6 .7z"/><path color="#1f455f" d="M1425.3 438.2l4 5.9 7.5 5.6-3.6-5.6z"/><path color="#3b4e58" d="M1522.6 474.5l-2.5 1 9.5-1.5 4.2-1.3z"/><path color="#738eaa" d="M1506.1 338.4l9.2 1.7 .7-.7z"/><path color="#928985" d="M1591.6 412.9l-.1 7.1 5.4-6.7 .1-7z"/><path color="#9f8174" d="M1417.6 390.5l-2.1 7 4.3 6.6 2-7.3z"/><path color="#04182e" d="M1460.9 466.8l5.5 2.6 9.4 2.8-4.2-2.3z"/><path color="#67625f" d="M1553.5 464.4l-4.7 3.3 9.1-3.7 5.7-3.7z"/><path color="#7b9ab5" d="M1506.1 338.4l-9.4 1.5 .9 .6z"/><path color="#718da9" d="M1506.1 338.4l8.2 2.3 1-.6z"/><path color="#7b9ab4" d="M1506.1 338.4l-8.5 2.1 1.4 .6z"/><path color="#8b9da9" d="M1496.1 339.2l-9.8 1.6 1 1.4 9.4-2.3z"/><path color="#738fab" d="M1506.1 338.4l6.7 2.8 1.5-.5z"/><path color="#7c9bb5" d="M1506.1 338.4l-7.1 2.7 1.7 .4z"/><path color="#545b5f" d="M1537.6 470.6l-3.8 2.1 9.8-2.5 5.2-2.5z"/><path color="#9e756b" d="M1420.7 383.6l-3.1 6.9 4.2 6.3 3-7.1z"/><path color="#0c253d" d="M1486.7 474.1l2.9 1.1 10 .9-1.1-.9z"/><path color="#728da9" d="M1506.1 338.4l5 3.2 1.7-.4z"/><path color="#6d8aa6" d="M1515.3 340.1l9.2 2.4 1.2-1.4-9.7-1.7z"/><path color="#928f8c" d="M1590.7 405.6l.9 7.3 5.4-6.6-1-7.1z"/><path color="#7b98b2" d="M1506.1 338.4l-5.4 3.1 1.9 .3z"/><path color="#253f4f" d="M1510.7 475.3l-.7 .9 10.1-.7 2.5-1z"/><path color="#748faa" d="M1506.1 338.4l3 3.5 2-.3z"/><path color="#7c9bb4" d="M1506.1 338.4l-3.5 3.4 2.1 .2z"/><path color="#7998b2" d="M1506.1 338.4l.8 3.6 2.2-.1z"/><path color="#7c9cb5" d="M1506.1 338.4l-1.4 3.6 2.2 0z"/><path color="#8d8f94" d="M1486.3 340.8l-9.6 2.3 1.5 2.1 9.1-3z"/><path color="#765b52" d="M1576.5 445.5l-3.6 5.5 8.5-5.5 3.9-5.8z"/><path color="#0a2541" d="M1441.3 454.7l5.2 4.5 9.4 4.3-4.4-4.1z"/><path color="#38596c" d="M1422.1 431.9l3.2 6.3 7.9 5.9-2.9-6.1z"/><path color="#173248" d="M1498.5 475.2l1.1 .9 10.4 .1 .7-.9z"/><path color="#9c6863" d="M1424.9 377l-4.2 6.6 4.1 6.1 3.9-6.9z"/><path color="#8696a4" d="M1496.7 339.9l-9.4 2.3 1.9 1.2 8.4-2.9z"/><path color="#627f9a" d="M1524.5 342.5l8.9 3.1 1.9-2-9.6-2.5z"/><path color="#9f8986" d="M1476.7 343.1l-9.3 3.1 2 2.6 8.8-3.6z"/><path color="#929699" d="M1588.7 398.4l2 7.2 5.3-6.4-2.1-7.1z"/><path color="#9c6364" d="M1430 370.7l-5.1 6.3 3.8 5.8 4.9-6.8z"/><path color="#708ca8" d="M1514.3 340.7l8.1 3 2.1-1.2-9.2-2.4z"/><path color="#9b797a" d="M1467.4 346.2l-8.8 3.7 2.4 3.3 8.4-4.4z"/><path color="#9d6267" d="M1436 364.7l-6 6 3.6 5.3 5.8-6.4z"/><path color="#a16f73" d="M1458.6 349.9l-8.2 4.4 2.7 3.9 7.9-5z"/><path color="#5c7c99" d="M1533.4 345.6l8.7 3.9 2.4-2.6-9.2-3.3z"/><path color="#9d6168" d="M1442.8 359.2l-6.8 5.5 3.4 4.9 6.5-5.9z"/><path color="#6a5d57" d="M1557.7 460.4l-4.2 4 10.1-4.1 5-4.3z"/><path color="#9e676f" d="M1450.4 354.3l-7.6 4.9 3.1 4.5 7.2-5.5z"/><path color="#89969d" d="M1585.8 391.2l2.9 7.2 5.2-6.3-3.1-6.9z"/><path color="#071d34" d="M1471.6 469.9l4.2 2.3 10.9 1.9-2.7-1.9z"/><path color="#83919f" d="M1497.6 340.5l-8.4 2.9 2.7 1.1 7.1-3.4z"/><path color="#546c78" d="M1420 425.2l2.1 6.7 8.2 6.1-1.9-6.5z"/><path color="#061c34" d="M1455.9 463.5l5 3.3 10.7 3.1-3.8-3z"/><path color="#775b53" d="M1579.2 439.4l-2.7 6.1 8.8-5.8 3.1-6.2z"/><path color="#738da8" d="M1512.8 341.2l6.7 3.5 2.9-1-8.1-3z"/><path color="#537795" d="M1542.1 349.5l8.2 4.5 2.9-3.2-8.7-3.9z"/><path color="#8095a1" d="M1581.9 384.2l3.9 7 5-6-4.1-6.8z"/><path color="#8d8a8d" d="M1487.3 342.2l-9.1 3 2.8 1.8 8.2-3.6z"/><path color="#43525a" d="M1524.9 472.6l-2.3 1.9 11.2-1.8 3.8-2.1z"/><path color="#507a9b" d="M1550.3 354l7.7 5.1 3.4-3.8-8.2-4.5z"/><path color="#6f8fa0" d="M1577.1 377.3l4.8 6.9 4.8-5.8-5-6.4z"/><path color="#10304e" d="M1436.8 449.7l4.5 5 10.2 4.7-3.8-4.8z"/><path color="#6a85a0" d="M1522.4 343.7l7.9 3.8 3.1-1.9-8.9-3.1z"/><path color="#7e8d9d" d="M1499 341.1l-7.1 3.4 3.4 .9 5.4-3.9z"/><path color="#4e7b9b" d="M1558 359.1l7.1 5.6 3.8-4.3-7.5-5.1z"/><path color="#60889e" d="M1571.5 370.8l5.6 6.5 4.6-5.3-6-6z"/><path color="#595a5a" d="M1541.1 467.7l-3.5 2.9 11.2-2.9 4.7-3.3z"/><path color="#55829e" d="M1565.1 364.7l6.4 6.1 4.2-4.8-6.8-5.6z"/><path color="#748ca5" d="M1511.1 341.6l4.9 4 3.5-.9-6.7-3.5z"/><path color="#717d84" d="M1418.9 418.3l1.1 6.9 8.4 6.3-1-6.9z"/><path color="#7e8d9c" d="M1500.7 341.5l-5.4 3.9 3.9 .6 3.4-4.2z"/><path color="#0e273e" d="M1484 472.2l2.7 1.9 11.8 1.1-1.1-1.8z"/><path color="#8f787b" d="M1478.2 345.2l-8.8 3.6 3.7 2.5 7.9-4.3z"/><path color="#7489a1" d="M1509.1 341.9l2.9 4.2 4-.5-4.9-4z"/><path color="#7c5d55" d="M1581.1 432.9l-1.9 6.5 9.2-5.9 2.1-6.7z"/><path color="#2e4452" d="M1511.3 473.5l-.6 1.8 11.9-.8 2.3-1.9z"/><path color="#7e8f9f" d="M1502.6 341.8l-3.4 4.2 4.2 .3 1.3-4.3z"/><path color="#788a9f" d="M1506.9 342l.8 4.4 4.3-.3-2.9-4.2z"/><path color="#69534f" d="M1561.3 455.7l-3.6 4.7 10.9-4.4 4.3-5z"/><path color="#8b8688" d="M1489.2 343.4l-8.2 3.6 4 1.7 6.9-4.2z"/><path color="#7e91a2" d="M1504.7 342l-1.3 4.3 4.3 .1-.8-4.4z"/><path color="#6785a1" d="M1530.3 347.5l7.7 4.4 4.1-2.4-8.7-3.9z"/><path color="#1e374b" d="M1497.4 473.4l1.1 1.8 12.2 .1 .6-1.8z"/><path color="#718ba4" d="M1519.5 344.7l6.5 4.3 4.3-1.5-7.9-3.8z"/><path color="#828384" d="M1418.9 411.2l0 7.1 8.5 6.3 0-7.1z"/><path color="#946c74" d="M1469.4 348.8l-8.4 4.4 4.5 3.1 7.6-5z"/><path color="#1b3f59" d="M1433.2 444.1l3.6 5.6 10.9 4.9-3.1-5.3z"/><path color="#0b243e" d="M1451.5 459.4l4.4 4.1 11.9 3.4-3.4-3.7z"/><path color="#80635c" d="M1582 426.1l-.9 6.8 9.4-6.1 1-6.8z"/><path color="#0b233a" d="M1467.8 466.9l3.8 3 12.4 2.3-2.5-2.8z"/><path color="#8e817b" d="M1419.8 404.1l-.9 7.1 8.5 6.3 .8-7.3z"/><path color="#868085" d="M1491.9 344.5l-6.9 4.2 5 1.3 5.3-4.6z"/><path color="#6586a2" d="M1538 351.9l7.3 5.1 5-3-8.2-4.5z"/><path color="#905f6c" d="M1461 353.2l-7.9 5 5.3 3.6 7.1-5.5z"/><path color="#495257" d="M1527 469.9l-2.1 2.7 12.7-2 3.5-2.9z"/><path color="#5c5350" d="M1544.2 463.9l-3.1 3.8 12.4-3.3 4.2-4z"/><path color="#758ba1" d="M1516 345.6l4.8 4.6 5.2-1.2-6.5-4.3z"/><path color="#867076" d="M1481 347l-7.9 4.3 5.2 2.2 6.7-4.8z"/><path color="#694e4b" d="M1564.2 450.4l-2.9 5.3 11.6-4.7 3.6-5.5z"/><path color="#876c64" d="M1582.1 418.9l-.1 7.2 9.5-6.1 .1-7.1z"/><path color="#927770" d="M1421.8 396.8l-2 7.3 8.4 6.1 1.8-7.4z"/><path color="#8d5f6a" d="M1453.1 358.2l-7.2 5.5 5.9 4.1 6.6-6z"/><path color="#708aa4" d="M1526 349l6.4 5 5.6-2.1-7.7-4.4z"/><path color="#6789a3" d="M1545.3 357l6.8 5.6 5.9-3.5-7.7-5.1z"/><path color="#797982" d="M1495.3 345.4l-5.3 4.6 5.8 .9 3.4-4.9z"/><path color="#325365" d="M1430.3 438l2.9 6.1 11.4 5.2-2.4-6z"/><path color="#926a67" d="M1424.8 389.7l-3 7.1 8.2 6 2.7-7.4z"/><path color="#768698" d="M1512 346.1l2.9 5 5.9-.9-4.8-4.6z"/><path color="#885d69" d="M1445.9 363.7l-6.5 5.9 6.5 4.6 5.9-6.4z"/><path color="#162f43" d="M1481.5 469.4l2.5 2.8 13.4 1.2-.9-2.6z"/><path color="#926164" d="M1428.7 382.8l-3.9 6.9 7.9 5.7 3.6-7.3z"/><path color="#8d766f" d="M1581.3 411.6l.8 7.3 9.5-6-.9-7.3z"/><path color="#895c65" d="M1439.4 369.6l-5.8 6.4 7.1 5.1 5.2-6.9z"/><path color="#8d5c63" d="M1433.6 376l-4.9 6.8 7.6 5.3 4.4-7z"/><path color="#394a55" d="M1511.9 470.9l-.6 2.6 13.6-.9 2.1-2.7z"/><path color="#7b7e86" d="M1499.2 346l-3.4 4.9 6.3 .5 1.3-5.1z"/><path color="#13334c" d="M1447.7 454.6l3.8 4.8 12.9 3.8-2.9-4.5z"/><path color="#768190" d="M1507.7 346.4l.8 5.1 6.4-.4-2.9-5z"/><path color="#7091a6" d="M1552.1 362.6l6.3 6.1 6.7-4-7.1-5.6z"/><path color="#7b848d" d="M1503.4 346.3l-1.3 5.1 6.4 .1-.8-5.1z"/><path color="#8b636f" d="M1473.1 351.3l-7.6 5 6.4 2.6 6.4-5.4z"/><path color="#283d4e" d="M1496.5 470.8l.9 2.6 13.9 .1 .6-2.6z"/><path color="#93837c" d="M1579.5 404.2l1.8 7.4 9.4-6-2-7.2z"/><path color="#867075" d="M1485 348.7l-6.7 4.8 6.6 1.7 5.1-5.2z"/><path color="#694748" d="M1566.5 444.5l-2.3 5.9 12.3-4.9 2.7-6.1z"/><path color="#7c97a7" d="M1558.4 368.7l5.8 6.6 7.3-4.5-6.4-6.1z"/><path color="#132d43" d="M1464.4 463.2l3.4 3.7 13.7 2.5-2.2-3.6z"/><path color="#4f6672" d="M1428.4 431.5l1.9 6.5 11.9 5.3-1.6-6.4z"/><path color="#99918e" d="M1576.9 396.7l2.6 7.5 9.2-5.8-2.9-7.2z"/><path color="#5c4846" d="M1546.9 459.5l-2.7 4.4 13.5-3.5 3.6-4.7z"/><path color="#738fa5" d="M1532.4 354l6 5.5 6.9-2.5-7.3-5.1z"/><path color="#768a9b" d="M1520.8 350.2l4.7 5.4 6.9-1.6-6.4-5z"/><path color="#8b9da8" d="M1564.2 375.3l5 6.9 7.9-4.9-5.6-6.5z"/><path color="#999b9c" d="M1573.4 389.4l3.5 7.3 8.9-5.5-3.9-7z"/><path color="#96a0a5" d="M1569.2 382.2l4.2 7.2 8.5-5.2-4.8-6.9z"/><path color="#4e4d4d" d="M1528.9 466.3l-1.9 3.6 14.1-2.2 3.1-3.8z"/><path color="#875e6c" d="M1465.5 356.3l-7.1 5.5 7.5 3.1 6-6z"/><path color="#806d74" d="M1490 350l-5.1 5.2 7.6 1.3 3.3-5.6z"/><path color="#234359" d="M1444.6 449.3l3.1 5.3 13.8 4.1-2.4-5.2z"/><path color="#694448" d="M1568 438.1l-1.5 6.4 12.7-5.1 1.9-6.5z"/><path color="#6b777d" d="M1427.4 424.6l1 6.9 12.2 5.4-.8-6.8z"/><path color="#78848f" d="M1514.9 351.1l2.8 5.6 7.8-1.1-4.7-5.4z"/><path color="#7d95a5" d="M1538.4 359.5l5.6 6.1 8.1-3-6.8-5.6z"/><path color="#233a4c" d="M1479.3 465.8l2.2 3.6 15 1.4-.9-3.5z"/><path color="#835f6d" d="M1478.3 353.5l-6.4 5.4 8.1 2.2 4.9-5.9z"/><path color="#7c6f77" d="M1495.8 350.9l-3.3 5.6 8.3 .6 1.3-5.7z"/><path color="#805d6b" d="M1458.4 361.8l-6.6 6 8.6 3.6 5.5-6.5z"/><path color="#40494f" d="M1512.4 467.5l-.5 3.4 15.1-1 1.9-3.6z"/><path color="#767a81" d="M1508.5 351.5l.8 5.7 8.4-.5-2.8-5.6z"/><path color="#5b3e40" d="M1549.1 454.4l-2.2 5.1 14.4-3.8 2.9-5.3z"/><path color="#7a8b96" d="M1525.5 355.6l4.4 5.9 8.5-2-6-5.5z"/><path color="#7f787e" d="M1502.1 351.4l-1.3 5.7 8.5 .1-.8-5.7z"/><path color="#223c51" d="M1461.5 458.7l2.9 4.5 14.9 2.6-1.8-4.3z"/><path color="#7d7e7f" d="M1427.4 417.5l0 7.1 12.4 5.5-.1-7.1z"/><path color="#354552" d="M1495.6 467.3l.9 3.5 15.4 .1 .5-3.4z"/><path color="#6e4649" d="M1568.8 431.3l-.8 6.8 13.1-5.2 .9-6.8z"/><path color="#8a9ca6" d="M1544 365.6l5.3 6.6 9.1-3.5-6.3-6.1z"/><path color="#7d5c68" d="M1451.8 367.8l-5.9 6.4 9.5 4.1 5-6.9z"/><path color="#504342" d="M1530.5 462l-1.6 4.3 15.3-2.4 2.7-4.4z"/><path color="#395464" d="M1442.2 443.3l2.4 6 14.5 4.2-1.8-5.8z"/><path color="#877b76" d="M1428.2 410.2l-.8 7.3 12.3 5.5 .7-7.4z"/><path color="#86626e" d="M1484.9 355.2l-4.9 5.9 9.4 1.5 3.1-6.1z"/><path color="#805d6c" d="M1471.9 358.9l-6 6 9.5 2.6 4.6-6.4z"/><path color="#7f5b65" d="M1445.9 374.2l-5.2 6.9 10.3 4.3 4.4-7.1z"/><path color="#744c4d" d="M1568.9 424.2l-.1 7.1 13.2-5.2 .1-7.2z"/><path color="#8c726b" d="M1430 402.8l-1.8 7.4 12.2 5.4 1.6-7.6z"/><path color="#858689" d="M1517.7 356.7l2.6 6.2 9.6-1.4-4.4-5.9z"/><path color="#9ba4a8" d="M1549.3 372.2l4.7 7 10.2-3.9-5.8-6.6z"/><path color="#845c63" d="M1440.7 381.1l-4.4 7 11 4.8 3.7-7.5z"/><path color="#8b6463" d="M1432.7 395.4l-2.7 7.4 12 5.2 2.3-7.6z"/><path color="#59373d" d="M1550.8 448.6l-1.7 5.8 15.1-4 2.3-5.9z"/><path color="#8a9296" d="M1529.9 361.5l4.2 6.5 9.9-2.4-5.6-6.1z"/><path color="#8a5b61" d="M1436.3 388.1l-3.6 7.3 11.6 5 3-7.5z"/><path color="#354756" d="M1477.5 461.5l1.8 4.3 16.3 1.5-.7-4.2z"/><path color="#7e5352" d="M1568.2 416.8l.7 7.4 13.2-5.3-.8-7.3z"/><path color="#836771" d="M1492.5 356.5l-3.1 6.1 10.2 .8 1.2-6.3z"/><path color="#344c5b" d="M1459.1 453.5l2.4 5.2 16 2.8-1.6-5z"/><path color="#a5a4a4" d="M1554 379.2l4.2 7.2 11-4.2-5-6.9z"/><path color="#474242" d="M1512.9 463.3l-.5 4.2 16.5-1.2 1.6-4.3z"/><path color="#576871" d="M1440.6 436.9l1.6 6.4 15.1 4.4-1.3-6.3z"/><path color="#83797b" d="M1509.3 357.2l.7 6.3 10.3-.6-2.6-6.2z"/><path color="#887275" d="M1500.8 357.1l-1.2 6.3 10.4 .1-.7-6.3z"/><path color="#89635d" d="M1566.7 409.2l1.5 7.6 13.1-5.2-1.8-7.4z"/><path color="#a49b96" d="M1558.2 386.4l3.5 7.5 11.7-4.5-4.2-7.2z"/><path color="#7e5d6a" d="M1465.9 364.9l-5.5 6.5 10.8 2.9 4.2-6.8z"/><path color="#424950" d="M1494.9 463.1l.7 4.2 16.8 .2 .5-4.2z"/><path color="#50373b" d="M1531.8 457l-1.3 5 16.4-2.5 2.2-5.1z"/><path color="#95766c" d="M1564.6 401.5l2.1 7.7 12.8-5-2.6-7.5z"/><path color="#9f8a80" d="M1561.7 393.9l2.9 7.6 12.3-4.8-3.5-7.3z"/><path color="#84606d" d="M1480 361.1l-4.6 6.4 11 1.8 3-6.7z"/><path color="#57363e" d="M1551.9 442.3l-1.1 6.3 15.7-4.1 1.5-6.4z"/><path color="#9c9897" d="M1534.1 368l3.9 6.9 11.3-2.7-5.3-6.6z"/><path color="#948886" d="M1520.3 362.9l2.5 6.7 11.3-1.6-4.2-6.5z"/><path color="#70777a" d="M1439.8 430.1l.8 6.8 15.4 4.5-.6-6.8z"/><path color="#7d5d68" d="M1460.4 371.4l-5 6.9 12 3.2 3.8-7.2z"/><path color="#4b5c66" d="M1457.3 447.7l1.8 5.8 16.8 3-1.1-5.7z"/><path color="#45525c" d="M1475.9 456.5l1.6 5 17.4 1.6-.6-5z"/><path color="#8a626e" d="M1489.4 362.6l-3 6.7 12 1 1.2-6.9z"/><path color="#4c3b3b" d="M1513.2 458.3l-.3 5 17.6-1.3 1.3-5z"/><path color="#59373f" d="M1552.5 435.5l-.6 6.8 16.1-4.2 .8-6.8z"/><path color="#91797a" d="M1510 363.5l.7 6.9 12.1-.8-2.5-6.7z"/><path color="#a79a93" d="M1538 374.9l3.5 7.3 12.5-3-4.7-7z"/><path color="#807d7c" d="M1439.7 423l.1 7.1 15.6 4.5-.1-7.2z"/><path color="#503038" d="M1532.8 451.4l-1 5.6 17.3-2.6 1.7-5.8z"/><path color="#7d5b64" d="M1455.4 378.3l-4.4 7.1 13 3.6 3.4-7.5z"/><path color="#906d73" d="M1499.6 363.4l-1.2 6.9 12.3 .1-.7-6.9z"/><path color="#82616c" d="M1475.4 367.5l-4.2 6.8 12.5 2.1 2.7-7.1z"/><path color="#4b4849" d="M1494.3 458.1l.6 5 18 .2 .3-5z"/><path color="#a08a84" d="M1522.8 369.6l2.4 7.2 12.8-1.9-3.9-6.9z"/><path color="#87776e" d="M1440.4 415.6l-.7 7.4 15.6 4.4 .6-7.5z"/><path color="#80585d" d="M1451 385.4l-3.7 7.5 13.9 3.8 2.8-7.7z"/><path color="#5f3940" d="M1552.5 428.3l0 7.2 16.3-4.2 .1-7.1z"/><path color="#a89286" d="M1541.5 382.2l3.1 7.5 13.6-3.3-4.2-7.2z"/><path color="#636a6d" d="M1456 441.4l1.3 6.3 17.5 3.1-.9-6.3z"/><path color="#8a6b62" d="M1442 408l-1.6 7.6 15.5 4.3 1.2-7.6z"/><path color="#86585a" d="M1447.3 392.9l-3 7.5 14.5 4.1 2.4-7.8z"/><path color="#88605c" d="M1444.3 400.4l-2.3 7.6 15.1 4.3 1.7-7.8z"/><path color="#565a5c" d="M1474.8 450.8l1.1 5.7 18.4 1.6-.5-5.6z"/><path color="#693b41" d="M1552 420.8l.5 7.5 16.4-4.1-.7-7.4z"/><path color="#8a646d" d="M1486.4 369.3l-2.7 7.1 13.6 1.1 1.1-7.2z"/><path color="#a18070" d="M1544.6 389.7l2.6 7.8 14.5-3.6-3.5-7.5z"/><path color="#4e2f37" d="M1533.5 445.1l-.7 6.3 18-2.8 1.1-6.3z"/><path color="#805e66" d="M1471.2 374.3l-3.8 7.2 13.9 2.3 2.4-7.4z"/><path color="#503338" d="M1513.5 452.7l-.3 5.6 18.6-1.3 1-5.6z"/><path color="#9d7a78" d="M1510.7 370.4l.7 7.2 13.8-.8-2.4-7.2z"/><path color="#784343" d="M1550.9 413.1l1.1 7.7 16.2-4-1.5-7.6z"/><path color="#956859" d="M1547.2 397.5l2.1 7.8 15.3-3.8-2.9-7.6z"/><path color="#a5857a" d="M1525.2 376.8l2.1 7.5 14.2-2.1-3.5-7.3z"/><path color="#966b70" d="M1498.4 370.3l-1.1 7.2 14.1 .1-.7-7.2z"/><path color="#86534b" d="M1549.3 405.3l1.6 7.8 15.8-3.9-2.1-7.7z"/><path color="#554644" d="M1493.8 452.5l.5 5.6 18.9 .2 .3-5.6z"/><path color="#747271" d="M1455.4 434.6l.6 6.8 17.9 3.1-.4-6.7z"/><path color="#80595d" d="M1467.4 381.5l-3.4 7.5 15.1 2.6 2.2-7.8z"/><path color="#4f2f39" d="M1533.8 438.3l-.3 6.8 18.4-2.8 .6-6.8z"/><path color="#655c58" d="M1473.9 444.5l.9 6.3 19 1.7-.3-6.2z"/><path color="#896064" d="M1483.7 376.4l-2.4 7.4 15.1 1.3 .9-7.6z"/><path color="#80726b" d="M1455.3 427.4l.1 7.2 18.1 3.2 0-7.2z"/><path color="#a17665" d="M1527.3 384.3l1.8 7.7 15.5-2.3-3.1-7.5z"/><path color="#533037" d="M1513.7 446.5l-.2 6.2 19.3-1.3 .7-6.3z"/><path color="#9e726c" d="M1511.4 377.6l.6 7.6 15.3-.9-2.1-7.5z"/><path color="#815354" d="M1464 389l-2.8 7.7 16.1 2.7 1.8-7.8z"/><path color="#966263" d="M1497.3 377.5l-.9 7.6 15.6 .1-.6-7.6z"/><path color="#5d4240" d="M1493.5 446.3l.3 6.2 19.7 .2 .2-6.2z"/><path color="#523039" d="M1533.9 431.1l-.1 7.2 18.7-2.8 0-7.2z"/><path color="#856a5c" d="M1455.9 419.9l-.6 7.5 18.2 3.2 .4-7.6z"/><path color="#86504c" d="M1461.2 396.7l-2.4 7.8 17 2.9 1.5-8z"/><path color="#97614e" d="M1529.1 392l1.6 7.9 16.5-2.4-2.6-7.8z"/><path color="#865f50" d="M1457.1 412.3l-1.2 7.6 18 3.1 .7-7.7z"/><path color="#715c55" d="M1473.5 437.8l.4 6.7 19.6 1.8-.2-6.8z"/><path color="#86554b" d="M1458.8 404.5l-1.7 7.8 17.5 3 1.2-7.9z"/><path color="#875655" d="M1481.3 383.8l-2.2 7.8 16.4 1.3 .9-7.8z"/><path color="#5b3137" d="M1533.6 423.6l.3 7.5 18.6-2.8-.5-7.5z"/><path color="#543038" d="M1513.8 439.7l-.1 6.8 19.8-1.4 .3-6.8z"/><path color="#986153" d="M1512 385.2l.5 7.9 16.6-1.1-1.8-7.7z"/><path color="#894a3e" d="M1530.7 399.9l1.2 8 17.4-2.6-2.1-7.8z"/><path color="#6a3335" d="M1532.9 415.8l.7 7.8 18.4-2.8-1.1-7.7z"/><path color="#7a3936" d="M1531.9 407.9l1 7.9 18-2.7-1.6-7.8z"/><path color="#90544f" d="M1496.4 385.1l-.9 7.8 17 .2-.5-7.9z"/><path color="#643f3f" d="M1493.3 439.5l.2 6.8 20.2 .2 .1-6.8z"/><path color="#78594e" d="M1473.5 430.6l0 7.2 19.8 1.7 0-7.2z"/><path color="#854a45" d="M1479.1 391.6l-1.8 7.8 17.5 1.5 .7-8z"/><path color="#582f36" d="M1513.8 432.5l0 7.2 20-1.4 .1-7.2z"/><path color="#8e4c3d" d="M1512.5 393.1l.4 8 17.8-1.2-1.6-7.9z"/><path color="#7c5244" d="M1473.9 423l-.4 7.6 19.8 1.7 .2-7.6z"/><path color="#84433a" d="M1477.3 399.4l-1.5 8 18.4 1.5 .6-8z"/><path color="#89453c" d="M1495.5 392.9l-.7 8 18.1 .2-.4-8z"/><path color="#693b3b" d="M1493.3 432.3l0 7.2 20.5 .2 0-7.2z"/><path color="#5f2f33" d="M1513.7 424.9l.1 7.6 20.1-1.4-.3-7.5z"/><path color="#813a30" d="M1512.9 401.1l.4 8 18.6-1.2-1.2-8z"/><path color="#7f493b" d="M1474.6 415.3l-.7 7.7 19.6 1.7 .3-7.8z"/><path color="#804235" d="M1475.8 407.4l-1.2 7.9 19.2 1.6 .4-8z"/><path color="#692c2d" d="M1513.5 417.1l.2 7.8 19.9-1.3-.7-7.8z"/><path color="#752e2b" d="M1513.3 409.1l.2 8 19.4-1.3-1-7.9z"/><path color="#7f392f" d="M1494.8 400.9l-.6 8 19.1 .2-.4-8z"/><path color="#6d3634" d="M1493.5 424.7l-.2 7.6 20.5 .2-.1-7.6z"/><path color="#78322a" d="M1494.2 408.9l-.4 8 19.7 .2-.2-8z"/><path color="#72322d" d="M1493.8 416.9l-.3 7.8 20.2 .2-.2-7.8z"/></g>
<g class="f" opacity="0.885"><path color="#296290" d="M2113.5 369.2l2.7 .6-4.3-1-2-.3z"/><path color="#1a5186" d="M2126.3 373.8l3.4 1.7-3.7-1.9-3-1.5z"/><path color="#6193b4" d="M2101.7 368.1l.2-.3-4.2 .1 .9 .2z"/><path color="#5b88ac" d="M2104.9 368.2l1.1-.2-4.1-.2-.2 .3z"/><path color="#b5bfc3" d="M2090.1 369l-2.6 .5-3.8 1.1 3.3-.6z"/><path color="#cac4c2" d="M2083.7 370.6l-3.1 1.1-3.5 1.6 3.6-1.3z"/><path color="#84a7bd" d="M2098.6 368.1l-.9-.2-4 .4 1.8 .2z"/><path color="#c09180" d="M2073.8 375l-2.9 2-3.1 2.3 3.3-2.2z"/><path color="#205a8c" d="M2107.9 368.6l2-.1-3.9-.5-1.1 .2z"/><path color="#104175" d="M2116.4 370.2l3.4 .8-3.6-1.2-2.7-.6z"/><path color="#0e3c6f" d="M2122.6 372.4l3.7 1.4-3.3-1.7-3.2-1.1z"/><path color="#7fa9c0" d="M2095.5 368.5l-1.8-.2-3.6 .7 2.7 0z"/><path color="#35739c" d="M2132.1 377.6l3.3 2.3-2.7-2.4-3-2z"/><path color="#235c8d" d="M2110.6 369.1l2.9 .1-3.6-.7-2 .1z"/><path color="#b5a79f" d="M2062.5 384.6l-2 3-1.8 3 2-3.1z"/><path color="#ccab9c" d="M2077.1 373.3l-3.3 1.7-2.7 2.1 3.6-1.9z"/><path color="#ab9b93" d="M2144.2 391.4l1.6 3.3-1.5-3.2-1.5-3.2z"/><path color="#c2c3c2" d="M2087 370l-3.3 .6-3 1.4 3.8-.9z"/><path color="#abbfc8" d="M2092.8 369l-2.7 0-3.1 1 3.4-.3z"/><path color="#c0aca1" d="M2064.9 381.8l-2.4 2.8-1.8 2.9 2.6-3z"/><path color="#1f598d" d="M2128.4 375.6l3.7 2-2.4-2.1-3.4-1.7z"/><path color="#0f3f72" d="M2118.7 371.4l3.9 1-2.8-1.4-3.4-.8z"/><path color="#afafaf" d="M2142.1 388.2l2.1 3.2-1.4-3.1-2-3z"/><path color="#184e84" d="M2112.8 369.9l3.6 .3-2.9-1-2.9-.1z"/><path color="#6494b4" d="M2101.6 368.7l.1-.6-3.1 0 .9 .7z"/><path color="#5082a8" d="M2103.7 368.8l1.2-.6-3.2-.1-.1 .6z"/><path color="#c9aea3" d="M2080.7 372l-3.6 1.3-2.4 1.9 3.9-1.6z"/><path color="#709db9" d="M2099.5 368.8l-.9-.7-3.1 .4 1.9 .5z"/><path color="#35719f" d="M2105.8 369l2.1-.4-3-.4-1.2 .6z"/><path color="#c19f8e" d="M2067.8 379.3l-2.9 2.5-1.6 2.7 3-2.7z"/><path color="#9ba9af" d="M2139.5 385.2l2.6 3-1.3-2.9-2.5-2.8z"/><path color="#4d7185" d="M2055.5 400.8l.1 3.5 .1 3.4 0-3.5z"/><path color="#7fa9bf" d="M2097.4 369l-1.9-.5-2.7 .5 2.8 .3z"/><path color="#164b81" d="M2124.4 374l4 1.6-2.1-1.8-3.7-1.4z"/><path color="#babdbd" d="M2090.4 369.7l-3.4 .3-2.5 1.1 4-.6z"/><path color="#4f81a6" d="M2107.6 369.4l3-.3-2.7-.5-2.1 .4z"/><path color="#8f6857" d="M2146.6 408.6l-.5 3.4 .7-3.3 .5-3.5z"/><path color="#c19784" d="M2071.1 377.1l-3.3 2.2-1.5 2.5 3.4-2.5z"/><path color="#1b5286" d="M2114.6 370.8l4.1 .6-2.3-1.2-3.6-.3z"/><path color="#658392" d="M2056.1 397.3l-.6 3.5 .2 3.4 .5-3.5z"/><path color="#c5afa5" d="M2084.5 371.1l-3.8 .9-2.1 1.6 4.2-1.2z"/><path color="#7196aa" d="M2136.5 382.4l3 2.8-1.2-2.7-2.9-2.6z"/><path color="#9cb5c3" d="M2095.6 369.3l-2.8-.3-2.4 .7 3.6 .1z"/><path color="#2f6a96" d="M2109.1 369.9l3.7 0-2.2-.8-3 .3z"/><path color="#195087" d="M2120.2 372.7l4.2 1.3-1.8-1.6-3.9-1z"/><path color="#926859" d="M2146.7 405l-.1 3.6 .7-3.4 0-3.6z"/><path color="#758e9a" d="M2057.1 393.9l-1 3.4 .1 3.4 1-3.5z"/><path color="#be8a79" d="M2074.7 375.2l-3.6 1.9-1.4 2.2 3.8-2.2z"/><path color="#4e83a0" d="M2133.1 379.9l3.4 2.5-1.1-2.5-3.3-2.3z"/><path color="#a8b1b5" d="M2094 369.8l-3.6-.1-1.9 .8 4.2-.1z"/><path color="#beaea5" d="M2088.5 370.5l-4 .6-1.7 1.3 4.5-.9z"/><path color="#84a5bb" d="M2101.5 369.8l.1-1.1-2.1 .1 .9 1z"/><path color="#9a6a59" d="M2146.1 401.5l.6 3.5 .6-3.4-.5-3.4z"/><path color="#7d9db6" d="M2102.6 369.8l1.1-1-2.1-.1-.1 1.1z"/><path color="#96a0a6" d="M2058.7 390.6l-1.6 3.3 .1 3.3 1.6-3.4z"/><path color="#8ca9be" d="M2100.4 369.8l-.9-1-2.1 .2 2 .9z"/><path color="#7096b3" d="M2103.6 369.9l2.2-.9-2.1-.2-1.1 1z"/><path color="#3d759e" d="M2110.2 370.5l4.4 .3-1.8-.9-3.7 0z"/><path color="#bc8a7c" d="M2078.6 373.6l-3.9 1.6-1.2 1.9 4.1-1.8z"/><path color="#3d739a" d="M2129.3 377.6l3.8 2.3-1-2.3-3.7-2z"/><path color="#276293" d="M2115.7 371.8l4.5 .9-1.5-1.3-4.1-.6z"/><path color="#8eaabe" d="M2099.4 369.9l-2-.9-1.8 .3 2.8 .8z"/><path color="#6590af" d="M2104.5 370.1l3.1-.7-1.8-.4-2.2 .9z"/><path color="#a27969" d="M2145.1 398l1 3.5 .7-3.3-1-3.5z"/><path color="#acaaa8" d="M2060.7 387.5l-2 3.1 .1 3.2 2.1-3.3z"/><path color="#5c727d" d="M2057.3 414.6l1.6 3.2 2.2 3.1-1.6-3.1z"/><path color="#99b3c1" d="M2098.4 370.1l-2.8-.8-1.6 .5 3.6 .5z"/><path color="#7d7b79" d="M2140.8 421.7l-1.9 2.9 2.5-2.9 2-3.1z"/><path color="#2b6794" d="M2125.2 375.7l4.1 1.9-.9-2-4-1.6z"/><path color="#ba8e80" d="M2082.8 372.4l-4.2 1.2-1 1.7 4.4-1.6z"/><path color="#5585aa" d="M2105.2 370.4l3.9-.5-1.5-.5-3.1 .7z"/><path color="#abb4b7" d="M2092.7 370.4l-4.2 .1-1.2 1 4.6-.5z"/><path color="#a88b7f" d="M2143.5 394.5l1.6 3.5 .7-3.3-1.6-3.3z"/><path color="#b3a095" d="M2063.3 384.5l-2.6 3 .2 3 2.5-3.2z"/><path color="#5f6567" d="M2130 432l-2.8 1.8 3.3-2.1 3.2-2.1z"/><path color="#4a80a6" d="M2111 371.2l4.7 .6-1.1-1-4.4-.3z"/><path color="#96adbb" d="M2097.6 370.3l-3.6-.5-1.3 .6 4.3 .2z"/><path color="#476678" d="M2056.2 411.2l1.1 3.4 2.2 3.2-1-3.3z"/><path color="#2b6997" d="M2120.8 374.1l4.4 1.6-.8-1.7-4.2-1.3z"/><path color="#6f98b4" d="M2105.8 370.7l4.4-.2-1.1-.6-3.9 .5z"/><path color="#b89587" d="M2087.3 371.5l-4.5 .9-.8 1.3 4.6-1.2z"/><path color="#6b473a" d="M2065.5 426.6l2.8 2.4 3.4 2.4-2.6-2.2z"/><path color="#b68f7e" d="M2066.3 381.8l-3 2.7 .1 2.8 3-2.9z"/><path color="#a89b96" d="M2141.5 391.2l2 3.3 .7-3.1-2.1-3.2z"/><path color="#837770" d="M2142.3 418.6l-1.5 3.1 2.6-3.1 1.6-3.2z"/><path color="#542723" d="M2074.6 433.3l3.2 1.6 3.8 1.6-2.7-1.3z"/><path color="#36759e" d="M2116.1 372.8l4.7 1.3-.6-1.4-4.5-.9z"/><path color="#a8b6bd" d="M2097 370.6l-4.3-.2-.8 .6 4.7-.1z"/><path color="#b07a6e" d="M2069.7 379.3l-3.4 2.5 .1 2.6 3.4-2.8z"/><path color="#421114" d="M2081.6 436.5l2.9 1 4 1.1-2.2-.7z"/><path color="#3b6177" d="M2055.7 407.7l.5 3.5 2.3 3.3-.5-3.5z"/><path color="#9e9c9d" d="M2139 388l2.5 3.2 .6-3-2.6-3z"/><path color="#461214" d="M2093.1 439.4l1.6 .2 4 .3-.6-.1z"/><path color="#afa5a0" d="M2091.9 371l-4.6 .5-.7 1 4.8-.8z"/><path color="#6590ae" d="M2106.2 371l4.8 .2-.8-.7-4.4 .2z"/><path color="#573229" d="M2103.3 439.9l-.4 .1 4.1-.3 1.3-.2z"/><path color="#8faabc" d="M2101.4 371.2l.1-1.4-1.1 0z"/><path color="#93adc0" d="M2101.4 371.2l1.2-1.4-1.1 0z"/><path color="#91adbf" d="M2101.4 371.2l-1-1.4-1 .1z"/><path color="#656566" d="M2122.6 435.6l-2.6 1.3 4-1.6 3.2-1.5z"/><path color="#8fa7ba" d="M2101.4 371.2l2.2-1.3-1-.1z"/><path color="#4e1f1b" d="M2098.1 439.8l.6 .1 4.2 .1 .4-.1z"/><path color="#666d6f" d="M2132.5 429.8l-2.5 2.2 3.7-2.4 2.8-2.3z"/><path color="#aa6962" d="M2073.5 377.1l-3.8 2.2 .1 2.3 3.8-2.4z"/><path color="#92adbe" d="M2101.4 371.2l-2-1.3-1 .2z"/><path color="#887266" d="M2143.3 415.3l-1 3.3 2.7-3.2 1.1-3.4z"/><path color="#5c8dac" d="M2111.3 371.9l4.8 .9-.4-1-4.7-.6z"/><path color="#5d504a" d="M2115.1 438.1l-2 .7 4.1-1 2.8-.9z"/><path color="#8ba7ba" d="M2101.4 371.2l3.1-1.1-.9-.2z"/><path color="#8b9ba3" d="M2136 385l3 3 .5-2.8-3-2.8z"/><path color="#90acbf" d="M2101.4 371.2l-3-1.1-.8 .2z"/><path color="#87a3b8" d="M2101.4 371.2l3.8-.8-.7-.3z"/><path color="#726560" d="M2063 423.9l2.5 2.7 3.6 2.6-2.2-2.6z"/><path color="#b0afad" d="M2096.6 370.9l-4.7 .1-.5 .7 5-.4z"/><path color="#40667c" d="M2055.7 404.2l0 3.5 2.3 3.3-.1-3.5z"/><path color="#a86662" d="M2077.6 375.3l-4.1 1.8 .1 2.1 4.1-2.2z"/><path color="#8fadbe" d="M2101.4 371.2l-3.8-.9-.6 .3z"/><path color="#87a4b9" d="M2101.4 371.2l4.4-.5-.6-.3z"/><path color="#7794a3" d="M2132.6 382.2l3.4 2.8 .5-2.6-3.4-2.5z"/><path color="#81a2b7" d="M2106.3 371.4l5 .5-.3-.7-4.8-.2z"/><path color="#9cb2bf" d="M2101.4 371.2l-4.4-.6-.4 .3z"/><path color="#a86761" d="M2082 373.7l-4.4 1.6 .1 1.7 4.4-1.9z"/><path color="#93acbb" d="M2101.4 371.2l4.8-.2-.4-.3z"/><path color="#638da5" d="M2128.9 379.7l3.7 2.5 .5-2.3-3.8-2.3z"/><path color="#8c6f61" d="M2143.8 411.8l-.5 3.5 2.8-3.3 .5-3.4z"/><path color="#9bb0bc" d="M2101.4 371.2l-4.8-.3-.2 .4z"/><path color="#af7c72" d="M2086.6 372.5l-4.6 1.2 .1 1.4 4.6-1.5z"/><path color="#56221e" d="M2071.7 431.4l2.9 1.9 4.3 1.9-2.5-1.7z"/><path color="#93acbb" d="M2101.4 371.2l4.9 .2-.1-.4z"/><path color="#4d7083" d="M2056.2 400.7l-.5 3.5 2.2 3.3 .5-3.6z"/><path color="#b1968b" d="M2091.4 371.7l-4.8 .8 .1 1.1 4.8-1.2z"/><path color="#5586a1" d="M2124.8 377.4l4.1 2.3 .4-2.1-4.1-1.9z"/><path color="#a9aaa9" d="M2096.4 371.3l-5 .4 .1 .7 4.9-.8z"/><path color="#36040e" d="M2086.3 437.9l2.2 .7 4.6 .8-1.4-.6z"/><path color="#a0b2ba" d="M2101.4 371.2l-5 .1 0 .3z"/><path color="#96afbe" d="M2101.4 371.2l4.9 .5 0-.3z"/><path color="#6b6f71" d="M2134.6 427.3l-2.1 2.5 4-2.5 2.4-2.7z"/><path color="#5789a6" d="M2120.4 375.5l4.4 1.9 .4-1.7-4.4-1.6z"/><path color="#88a7b9" d="M2106.3 371.7l4.8 .9 .2-.7-5-.5z"/><path color="#588aa7" d="M2115.9 373.9l4.5 1.6 .4-1.4-4.7-1.3z"/><path color="#719bb2" d="M2111.1 372.6l4.8 1.3 .2-1.1-4.8-.9z"/><path color="#a0b6c1" d="M2101.4 371.2l-5 .4 .3 .4z"/><path color="#6a6d6e" d="M2061.1 420.9l1.9 3 3.9 2.7-1.8-2.8z"/><path color="#5b3c31" d="M2109.6 439l-1.3 .5 4.8-.7 2-.7z"/><path color="#95afbd" d="M2101.4 371.2l4.5 .9 .4-.4z"/><path color="#8f6b5b" d="M2143.9 408.3l-.1 3.5 2.8-3.2 .1-3.6z"/><path color="#6a8390" d="M2057.2 397.2l-1 3.5 2.2 3.2 1-3.5z"/><path color="#400b12" d="M2078.9 435.2l2.7 1.3 4.7 1.4-2.1-1.2z"/><path color="#626363" d="M2124.9 434l-2.3 1.6 4.6-1.8 2.8-1.8z"/><path color="#9cb2bf" d="M2101.4 371.2l-4.7 .8 .4 .3z"/><path color="#98afbd" d="M2101.4 371.2l4 1.2 .5-.3z"/><path color="#9eb3c0" d="M2101.4 371.2l-4.3 1.1 .7 .3z"/><path color="#b0a7a1" d="M2096.4 371.6l-4.9 .8 .5 .7 4.7-1.1z"/><path color="#96adb9" d="M2101.4 371.2l3.3 1.5 .7-.3z"/><path color="#a2afb5" d="M2101.4 371.2l-3.6 1.4 .9 .2z"/><path color="#8a969d" d="M2058.8 393.8l-1.6 3.4 2.2 3.2 1.5-3.6z"/><path color="#625853" d="M2117 437l-1.9 1.1 4.9-1.2 2.6-1.3z"/><path color="#3d080f" d="M2091.7 438.8l1.4 .6 5 .4-.5-.5z"/><path color="#98aebb" d="M2101.4 371.2l2.4 1.7 .9-.2z"/><path color="#8fabbb" d="M2105.9 372.1l4.6 1.2 .6-.7-4.8-.9z"/><path color="#916d60" d="M2143.4 404.7l.5 3.6 2.8-3.3-.6-3.5z"/><path color="#a4b5bf" d="M2101.4 371.2l-2.7 1.6 .9 .2z"/><path color="#552a22" d="M2103.6 439.4l-.3 .5 5-.4 1.3-.5z"/><path color="#a1b4be" d="M2101.4 371.2l1.4 1.8 1-.1z"/><path color="#a5b8c1" d="M2101.4 371.2l-1.8 1.8 1.1 .1z"/><path color="#9bb3b9" d="M2101.4 371.2l.4 1.9 1-.1z"/><path color="#a6b8c1" d="M2101.4 371.2l-.7 1.9 1.1 0z"/><path color="#ac867e" d="M2091.5 372.4l-4.8 1.2 .8 1 4.5-1.5z"/><path color="#707172" d="M2136.3 424.5l-1.7 2.8 4.3-2.7 1.9-2.9z"/><path color="#664339" d="M2069.1 429.2l2.6 2.2 4.7 2.1-2.2-2.1z"/><path color="#566770" d="M2059.5 417.8l1.6 3.1 4 2.9-1.4-3z"/><path color="#4a1515" d="M2097.6 439.3l.5 .5 5.2 .1 .3-.5z"/><path color="#a09e9d" d="M2060.9 390.5l-2.1 3.3 2.1 3 2-3.4z"/><path color="#aba09b" d="M2096.7 372l-4.7 1.1 1 .7 4.1-1.5z"/><path color="#90aab8" d="M2110.5 373.3l4.4 1.6 1-1-4.8-1.3z"/><path color="#a56562" d="M2086.7 373.6l-4.6 1.5 1 1.4 4.4-1.9z"/><path color="#947167" d="M2142.4 401.1l1 3.6 2.7-3.2-1-3.5z"/><path color="#aa9185" d="M2063.4 387.3l-2.5 3.2 2 2.9 2.4-3.4z"/><path color="#9eb2bd" d="M2105.4 372.4l4 1.5 1.1-.6-4.6-1.2z"/><path color="#9b5057" d="M2082.1 375.1l-4.4 1.9 1.2 1.7 4.2-2.2z"/><path color="#a6796c" d="M2066.4 384.4l-3 2.9 1.9 2.7 2.9-3.2z"/><path color="#954751" d="M2077.7 377l-4.1 2.2 1.4 1.9 3.9-2.4z"/><path color="#8aa6b5" d="M2114.9 374.9l4.3 1.9 1.2-1.3-4.5-1.6z"/><path color="#9c5b57" d="M2069.8 381.6l-3.4 2.8 1.8 2.4 3.2-2.9z"/><path color="#5e6365" d="M2127 431.9l-2.1 2.1 5.1-2 2.5-2.2z"/><path color="#984f54" d="M2073.6 379.2l-3.8 2.4 1.6 2.3 3.6-2.8z"/><path color="#967972" d="M2140.9 397.6l1.5 3.5 2.7-3.1-1.6-3.5z"/><path color="#3f0a11" d="M2084.2 436.7l2.1 1.2 5.4 .9-1.3-1z"/><path color="#afa29d" d="M2097.1 372.3l-4.1 1.5 1.3 .5 3.5-1.7z"/><path color="#435e6e" d="M2058.5 414.5l1 3.3 4.2 3-.9-3.2z"/><path color="#4c1b1a" d="M2076.4 433.5l2.5 1.7 5.3 1.5-1.9-1.5z"/><path color="#767472" d="M2137.7 421.5l-1.4 3 4.5-2.8 1.5-3.1z"/><path color="#a7b4bc" d="M2104.7 372.7l3.3 1.8 1.4-.6-4-1.5z"/><path color="#89a3b1" d="M2119.2 376.8l4.1 2.3 1.5-1.7-4.4-1.9z"/><path color="#9a817e" d="M2139 394.1l1.9 3.5 2.6-3.1-2-3.3z"/><path color="#ad7f76" d="M2092 373.1l-4.5 1.5 1.4 1 4.1-1.8z"/><path color="#5d473e" d="M2110.7 438l-1.1 1 5.5-.9 1.9-1.1z"/><path color="#89a0ab" d="M2123.3 379.1l3.8 2.5 1.8-1.9-4.1-2.3z"/><path color="#968785" d="M2136.6 390.7l2.4 3.4 2.5-2.9-2.5-3.2z"/><path color="#6a5852" d="M2066.9 426.6l2.2 2.6 5.1 2.2-1.8-2.3z"/><path color="#a2b3bb" d="M2109.4 373.9l4 1.9 1.5-.9-4.4-1.6z"/><path color="#b29c94" d="M2097.8 372.6l-3.5 1.7 1.7 .5 2.7-2z"/><path color="#899aa2" d="M2127.1 381.6l3.5 2.8 2-2.2-3.7-2.5z"/><path color="#948c8c" d="M2133.8 387.4l2.8 3.3 2.4-2.7-3-3z"/><path color="#5d5957" d="M2118.8 435.5l-1.8 1.5 5.6-1.4 2.3-1.6z"/><path color="#8f9396" d="M2130.6 384.4l3.2 3 2.2-2.4-3.4-2.8z"/><path color="#b1b3b4" d="M2103.8 372.9l2.5 2 1.7-.4-3.3-1.8z"/><path color="#3c596e" d="M2058 411l.5 3.5 4.3 3.1-.5-3.5z"/><path color="#b39c93" d="M2098.7 372.8l-2.7 2 1.9 .3 1.7-2.1z"/><path color="#451013" d="M2090.4 437.8l1.3 1 5.9 .5-.6-.9z"/><path color="#9b5559" d="M2087.5 374.6l-4.4 1.9 1.8 1.2 4-2.1z"/><path color="#b3b0ae" d="M2102.8 373l1.5 2.2 2-.3-2.5-2z"/><path color="#7c7672" d="M2138.6 418.3l-.9 3.2 4.6-2.9 1-3.3z"/><path color="#58382f" d="M2103.9 438.4l-.3 1 6-.4 1.1-1z"/><path color="#b5a49c" d="M2099.6 373l-1.7 2.1 2.1 .2 .7-2.2z"/><path color="#b3a9a3" d="M2101.8 373.1l.4 2.2 2.1-.1-1.5-2.2z"/><path color="#5b6366" d="M2128.7 429.6l-1.7 2.3 5.5-2.1 2.1-2.5z"/><path color="#a8726a" d="M2093 373.8l-4.1 1.8 2 .8 3.4-2.1z"/><path color="#b5a69f" d="M2100.7 373.1l-.7 2.2 2.2 0-.4-2.2z"/><path color="#a9b4ba" d="M2113.4 375.8l3.8 2.2 2-1.2-4.3-1.9z"/><path color="#522922" d="M2097 438.4l.6 .9 6 .1 .3-1z"/><path color="#b1b6b7" d="M2108 374.5l3.2 2.1 2.2-.8-4-1.9z"/><path color="#3a5a70" d="M2057.9 407.5l.1 3.5 4.3 3.1 0-3.5z"/><path color="#8b4752" d="M2083.1 376.5l-4.2 2.2 2.3 1.5 3.7-2.5z"/><path color="#605c5b" d="M2065.1 423.8l1.8 2.8 5.5 2.5-1.6-2.7z"/><path color="#5a342e" d="M2074.2 431.4l2.2 2.1 5.9 1.7-1.6-1.9z"/><path color="#827771" d="M2139 414.9l-.4 3.4 4.7-3 .5-3.5z"/><path color="#4b1d1b" d="M2082.3 435.2l1.9 1.5 6.2 1.1-1.3-1.4z"/><path color="#47677a" d="M2058.4 403.9l-.5 3.6 4.4 3.1 .4-3.6z"/><path color="#a8706a" d="M2094.3 374.3l-3.4 2.1 2.5 .7 2.6-2.3z"/><path color="#a8aeb0" d="M2117.2 378l3.6 2.6 2.5-1.5-4.1-2.3z"/><path color="#7e3d48" d="M2078.9 378.7l-3.9 2.4 2.7 1.9 3.5-2.8z"/><path color="#5b4f4a" d="M2111.7 436.6l-1 1.4 6.3-1 1.8-1.5z"/><path color="#535758" d="M2120.3 433.6l-1.5 1.9 6.1-1.5 2.1-2.1z"/><path color="#bbafa9" d="M2106.3 374.9l2.3 2.3 2.6-.6-3.2-2.1z"/><path color="#994f58" d="M2088.9 375.6l-4 2.1 2.7 1.1 3.3-2.4z"/><path color="#586268" d="M2130.2 426.9l-1.5 2.7 5.9-2.3 1.7-2.8z"/><path color="#86776e" d="M2139 411.3l0 3.6 4.8-3.1 .1-3.5z"/><path color="#627985" d="M2059.4 400.4l-1 3.5 4.3 3.1 .9-3.7z"/><path color="#844049" d="M2075 381.1l-3.6 2.8 3 2 3.3-2.9z"/><path color="#b8b5b2" d="M2111.2 376.6l3.2 2.5 2.8-1.1-3.8-2.2z"/><path color="#a5a4a3" d="M2120.8 380.6l3.4 2.8 2.9-1.8-3.8-2.5z"/><path color="#ab746a" d="M2096 374.8l-2.6 2.3 2.8 .5 1.7-2.5z"/><path color="#4d585e" d="M2063.7 420.8l1.4 3 5.7 2.6-1.1-3z"/><path color="#838d92" d="M2060.9 396.8l-1.5 3.6 4.2 2.9 1.4-3.6z"/><path color="#baa194" d="M2104.3 375.2l1.4 2.5 2.9-.5-2.3-2.3z"/><path color="#90494b" d="M2071.4 383.9l-3.2 2.9 3.3 2.4 2.9-3.3z"/><path color="#4f251f" d="M2089.1 436.4l1.3 1.4 6.6 .6-.4-1.4z"/><path color="#9b9795" d="M2062.9 393.4l-2 3.4 4.1 2.9 1.8-3.6z"/><path color="#89736a" d="M2138.6 407.7l.4 3.6 4.9-3-.5-3.6z"/><path color="#9a665b" d="M2068.2 386.8l-2.9 3.2 3.6 2.5 2.6-3.3z"/><path color="#9f8478" d="M2065.3 390l-2.4 3.4 3.9 2.7 2.1-3.6z"/><path color="#594339" d="M2104.2 437.1l-.3 1.3 6.8-.4 1-1.4z"/><path color="#ad796f" d="M2097.9 375.1l-1.7 2.5 3.1 .2 .7-2.5z"/><path color="#604c48" d="M2072.4 429.1l1.8 2.3 6.5 1.9-1.5-2.3z"/><path color="#b69182" d="M2102.2 375.3l.4 2.6 3.1-.2-1.4-2.5z"/><path color="#a09490" d="M2124.2 383.4l3.1 3 3.3-2-3.5-2.8z"/><path color="#b28577" d="M2100 375.3l-.7 2.5 3.3 .1-.4-2.6z"/><path color="#7d3f49" d="M2084.9 377.7l-3.7 2.5 3.2 1.4 3.2-2.8z"/><path color="#54352b" d="M2096.6 437l.4 1.4 6.9 0 .3-1.3z"/><path color="#8b726b" d="M2137.7 404l.9 3.7 4.8-3-1-3.6z"/><path color="#934750" d="M2090.9 376.4l-3.3 2.4 3.2 .9 2.6-2.6z"/><path color="#5c656a" d="M2131.3 424l-1.1 2.9 6.1-2.4 1.4-3z"/><path color="#988684" d="M2127.3 386.4l2.8 3.3 3.7-2.3-3.2-3z"/><path color="#593730" d="M2080.7 433.3l1.6 1.9 6.8 1.2-1-1.8z"/><path color="#3c515f" d="M2062.8 417.6l.9 3.2 6 2.6-.8-3.2z"/><path color="#8c706c" d="M2136.4 400.3l1.3 3.7 4.7-2.9-1.5-3.5z"/><path color="#4b555b" d="M2121.6 431.4l-1.3 2.2 6.7-1.7 1.7-2.3z"/><path color="#b5a9a2" d="M2114.4 379.1l3 2.8 3.4-1.3-3.6-2.6z"/><path color="#b9a193" d="M2108.6 377.2l2.4 2.7 3.4-.8-3.2-2.5z"/><path color="#937a79" d="M2130.1 389.7l2.5 3.4 4-2.4-2.8-3.3z"/><path color="#8d7373" d="M2134.7 396.7l1.7 3.6 4.5-2.7-1.9-3.5z"/><path color="#8f7576" d="M2132.6 393.1l2.1 3.6 4.3-2.6-2.4-3.4z"/><path color="#505050" d="M2112.6 434.8l-.9 1.8 7.1-1.1 1.5-1.9z"/><path color="#703842" d="M2081.2 380.2l-3.5 2.8 3.8 1.5 2.9-2.9z"/><path color="#96494e" d="M2093.4 377.1l-2.6 2.6 3.8 .7 1.6-2.8z"/><path color="#595251" d="M2070.8 426.4l1.6 2.7 6.8 1.9-1.1-2.6z"/><path color="#606a6f" d="M2132 420.8l-.7 3.2 6.4-2.5 .9-3.2z"/><path color="#3b5263" d="M2062.3 414.1l.5 3.5 6.1 2.6-.4-3.4z"/><path color="#b68d7a" d="M2105.7 377.7l1.4 2.8 3.9-.6-2.4-2.7z"/><path color="#ad968d" d="M2117.4 381.9l2.7 3 4.1-1.5-3.4-2.8z"/><path color="#583e34" d="M2088.1 434.6l1 1.8 7.5 .6-.4-1.7z"/><path color="#783b43" d="M2087.6 378.8l-3.2 2.8 4 1.1 2.4-3z"/><path color="#974c4b" d="M2096.2 377.6l-1.6 2.8 4.1 .3 .6-2.9z"/><path color="#763940" d="M2077.7 383l-3.3 2.9 4.3 1.9 2.8-3.3z"/><path color="#534e4b" d="M2104.5 435.3l-.3 1.8 7.5-.5 .9-1.8z"/><path color="#a96d5c" d="M2102.6 377.9l.3 2.8 4.2-.2-1.4-2.8z"/><path color="#45515b" d="M2122.6 428.8l-1 2.6 7.1-1.8 1.5-2.7z"/><path color="#b28d7b" d="M2111 379.9l2.2 3 4.2-1-3-2.8z"/><path color="#a05b52" d="M2099.3 377.8l-.6 2.9 4.2 0-.3-2.8z"/><path color="#5e4d48" d="M2079.2 431l1.5 2.3 7.4 1.3-.9-2.2z"/><path color="#3c5568" d="M2062.3 410.6l0 3.5 6.2 2.7 0-3.5z"/><path color="#584b44" d="M2096.2 435.3l.4 1.7 7.6 .1 .3-1.8z"/><path color="#6c7275" d="M2132.4 417.4l-.4 3.4 6.6-2.5 .4-3.4z"/><path color="#a1847c" d="M2120.1 384.9l2.6 3.3 4.6-1.8-3.1-3z"/><path color="#863e42" d="M2074.4 385.9l-2.9 3.3 4.8 2 2.4-3.4z"/><path color="#444d54" d="M2113.4 432.6l-.8 2.2 7.7-1.2 1.3-2.2z"/><path color="#485054" d="M2069.7 423.4l1.1 3 7.3 2-.9-2.9z"/><path color="#456071" d="M2062.7 407l-.4 3.6 6.2 2.7 .4-3.7z"/><path color="#7a383e" d="M2090.8 379.7l-2.4 3 4.7 .7 1.5-3z"/><path color="#6c323a" d="M2084.4 381.6l-2.9 2.9 4.7 1.3 2.2-3.1z"/><path color="#925c52" d="M2071.5 389.2l-2.6 3.3 5.2 2.2 2.2-3.5z"/><path color="#737779" d="M2132.4 413.9l0 3.5 6.6-2.5 0-3.6z"/><path color="#5d717c" d="M2063.6 403.3l-.9 3.7 6.2 2.6 .7-3.7z"/><path color="#a86e58" d="M2107.1 380.5l1.3 3.1 4.8-.7-2.2-3z"/><path color="#987874" d="M2122.7 388.2l2.3 3.4 5.1-1.9-2.8-3.3z"/><path color="#997a6c" d="M2068.9 392.5l-2.1 3.6 5.5 2.3 1.8-3.7z"/><path color="#7c8488" d="M2065 399.7l-1.4 3.6 6 2.6 1.2-3.8z"/><path color="#41505b" d="M2123.4 426l-.8 2.8 7.6-1.9 1.1-2.9z"/><path color="#a77967" d="M2113.2 382.9l2 3.2 4.9-1.2-2.7-3z"/><path color="#928c89" d="M2066.8 396.1l-1.8 3.6 5.8 2.4 1.5-3.7z"/><path color="#5b534f" d="M2087.2 432.4l.9 2.2 8.1 .7-.4-2.2z"/><path color="#7e7a79" d="M2132 410.2l.4 3.7 6.6-2.6-.4-3.6z"/><path color="#833638" d="M2094.6 380.4l-1.5 3 5 .4 .6-3.1z"/><path color="#575453" d="M2078.1 428.4l1.1 2.6 8 1.4-.8-2.5z"/><path color="#916f6e" d="M2125 391.6l2.1 3.6 5.5-2.1-2.5-3.4z"/><path color="#444c51" d="M2104.7 433.2l-.2 2.1 8.1-.5 .8-2.2z"/><path color="#3b4c58" d="M2068.9 420.2l.8 3.2 7.5 2.1-.6-3.1z"/><path color="#9a5041" d="M2102.9 380.7l.4 3.2 5.1-.3-1.3-3.1z"/><path color="#8d3b38" d="M2098.7 380.7l-.6 3.1 5.2 .1-.4-3.2z"/><path color="#837873" d="M2131.3 406.5l.7 3.7 6.6-2.5-.9-3.7z"/><path color="#8b6c6b" d="M2127.1 395.2l1.7 3.7 5.9-2.2-2.1-3.6z"/><path color="#6e3136" d="M2081.5 384.5l-2.8 3.3 5.4 1.4 2.1-3.4z"/><path color="#4e5355" d="M2095.8 433.1l.4 2.2 8.3 0 .2-2.1z"/><path color="#3a4651" d="M2114.1 430.1l-.7 2.5 8.2-1.2 1-2.6z"/><path color="#86736e" d="M2130.3 402.7l1 3.8 6.4-2.5-1.3-3.7z"/><path color="#886e6b" d="M2128.8 398.9l1.5 3.8 6.1-2.4-1.7-3.6z"/><path color="#6d2f34" d="M2088.4 382.7l-2.2 3.1 5.4 .9 1.5-3.3z"/><path color="#43535f" d="M2124 422.8l-.6 3.2 7.9-2 .7-3.2z"/><path color="#9c6b5e" d="M2115.2 386.1l1.9 3.4 5.6-1.3-2.6-3.3z"/><path color="#9c5b48" d="M2108.4 383.6l1.2 3.3 5.6-.8-2-3.2z"/><path color="#374b5b" d="M2068.5 416.8l.4 3.4 7.7 2.2-.3-3.4z"/><path color="#80393b" d="M2078.7 387.8l-2.4 3.4 5.9 1.6 1.9-3.6z"/><path color="#475157" d="M2077.2 425.5l.9 2.9 8.3 1.5-.5-2.9z"/><path color="#52575a" d="M2086.4 429.9l.8 2.5 8.6 .7-.3-2.4z"/><path color="#73292b" d="M2093.1 383.4l-1.5 3.3 5.9 .5 .6-3.4z"/><path color="#37444f" d="M2104.9 430.8l-.2 2.4 8.7-.6 .7-2.5z"/><path color="#455863" d="M2124.3 419.5l-.3 3.3 8-2 .4-3.4z"/><path color="#8c3c33" d="M2103.3 383.9l.3 3.4 6-.4-1.2-3.3z"/><path color="#93645c" d="M2117.1 389.5l1.7 3.6 6.2-1.5-2.3-3.4z"/><path color="#3b5062" d="M2068.5 413.3l0 3.5 7.8 2.2 0-3.5z"/><path color="#33414c" d="M2114.5 427.3l-.4 2.8 8.5-1.3 .8-2.8z"/><path color="#8b5346" d="M2076.3 391.2l-2.2 3.5 6.5 1.8 1.6-3.7z"/><path color="#802a2b" d="M2098.1 383.8l-.6 3.4 6.1 .1-.3-3.4z"/><path color="#6f2b2f" d="M2086.2 385.8l-2.1 3.4 6.2 1.1 1.3-3.6z"/><path color="#404d54" d="M2095.5 430.7l.3 2.4 8.9 .1 .2-2.4z"/><path color="#924f40" d="M2109.6 386.9l1.2 3.6 6.3-1-1.9-3.4z"/><path color="#425a69" d="M2068.9 409.6l-.4 3.7 7.8 2.2 .3-3.7z"/><path color="#917161" d="M2074.1 394.7l-1.8 3.7 6.9 1.9 1.4-3.8z"/><path color="#52626b" d="M2124.3 415.9l0 3.6 8.1-2.1 0-3.5z"/><path color="#8d635d" d="M2118.8 393.1l1.6 3.8 6.7-1.7-2.1-3.6z"/><path color="#384b57" d="M2076.6 422.4l.6 3.1 8.7 1.5-.4-3.1z"/><path color="#596b75" d="M2069.6 405.9l-.7 3.7 7.7 2.2 .5-3.8z"/><path color="#8c847f" d="M2072.3 398.4l-1.5 3.7 7.2 2 1.2-3.8z"/><path color="#777d80" d="M2070.8 402.1l-1.2 3.8 7.5 2.1 .9-3.9z"/><path color="#405058" d="M2085.9 427l.5 2.9 9.1 .8-.2-2.8z"/><path color="#646f74" d="M2124 412.2l.3 3.7 8.1-2-.4-3.7z"/><path color="#886761" d="M2120.4 396.9l1.2 3.8 7.2-1.8-1.7-3.7z"/><path color="#752629" d="M2091.6 386.7l-1.3 3.6 6.7 .5 .5-3.6z"/><path color="#2e3f4c" d="M2114.9 424.2l-.4 3.1 8.9-1.3 .6-3.2z"/><path color="#7f3231" d="M2084.1 389.2l-1.9 3.6 6.9 1.2 1.2-3.7z"/><path color="#2c3c4a" d="M2105 427.9l-.1 2.9 9.2-.7 .4-2.8z"/><path color="#873a2f" d="M2103.6 387.3l.4 3.6 6.8-.4-1.2-3.6z"/><path color="#757878" d="M2123.5 408.4l.5 3.8 8-2-.7-3.7z"/><path color="#86726b" d="M2121.6 400.7l1.1 3.9 7.6-1.9-1.5-3.8z"/><path color="#8d5244" d="M2110.8 390.5l1 3.7 7-1.1-1.7-3.6z"/><path color="#802c2b" d="M2097.5 387.2l-.5 3.6 7 .1-.4-3.6z"/><path color="#7f7874" d="M2122.7 404.6l.8 3.8 7.8-1.9-1-3.8z"/><path color="#304552" d="M2095.3 427.9l.2 2.8 9.4 .1 .1-2.9z"/><path color="#364a5a" d="M2076.3 419l.3 3.4 8.9 1.5-.2-3.3z"/><path color="#874f41" d="M2082.2 392.8l-1.6 3.7 7.4 1.3 1.1-3.8z"/><path color="#2e4353" d="M2115 420.9l-.1 3.3 9.1-1.4 .3-3.3z"/><path color="#2d4553" d="M2085.5 423.9l.4 3.1 9.4 .9-.2-3.1z"/><path color="#7e332e" d="M2090.3 390.3l-1.2 3.7 7.4 .6 .5-3.8z"/><path color="#354b5c" d="M2076.3 415.5l0 3.5 9 1.6 0-3.6z"/><path color="#8a5b4e" d="M2111.8 394.2l.9 3.8 7.7-1.1-1.6-3.8z"/><path color="#233646" d="M2105.1 424.9l-.1 3 9.5-.6 .4-3.1z"/><path color="#864336" d="M2104 390.9l.2 3.8 7.6-.5-1-3.7z"/><path color="#8c6d5e" d="M2080.6 396.5l-1.4 3.8 7.9 1.4 .9-3.9z"/><path color="#813a31" d="M2097 390.8l-.5 3.8 7.7 .1-.2-3.8z"/><path color="#213b4c" d="M2095.1 424.8l.2 3.1 9.7 0 .1-3z"/><path color="#344c5c" d="M2115 417.3l0 3.6 9.3-1.4 0-3.6z"/><path color="#3e5665" d="M2076.6 411.8l-.3 3.7 9 1.5 .2-3.7z"/><path color="#867e79" d="M2079.2 400.3l-1.2 3.8 8.4 1.5 .7-3.9z"/><path color="#896b5f" d="M2112.7 398l.8 3.9 8.1-1.2-1.2-3.8z"/><path color="#566770" d="M2077.1 408l-.5 3.8 8.9 1.5 .3-3.8z"/><path color="#254153" d="M2085.3 420.6l.2 3.3 9.6 .9 0-3.4z"/><path color="#72777a" d="M2078 404.1l-.9 3.9 8.7 1.5 .6-3.9z"/><path color="#854d3e" d="M2089.1 394l-1.1 3.8 8.1 .7 .4-3.9z"/><path color="#475c67" d="M2114.9 413.6l.1 3.7 9.3-1.4-.3-3.7z"/><path color="#1f384a" d="M2105.1 421.5l0 3.4 9.8-.7 .1-3.3z"/><path color="#895644" d="M2104.2 394.7l.3 3.8 8.2-.5-.9-3.8z"/><path color="#847872" d="M2113.5 401.9l.6 3.9 8.6-1.2-1.1-3.9z"/><path color="#626d73" d="M2114.6 409.7l.3 3.9 9.1-1.4-.5-3.8z"/><path color="#777879" d="M2114.1 405.8l.5 3.9 8.9-1.3-.8-3.8z"/><path color="#855241" d="M2096.5 394.6l-.4 3.9 8.4 0-.3-3.8z"/><path color="#1b3a4f" d="M2095.1 421.4l0 3.4 10 .1 0-3.4z"/><path color="#2b4658" d="M2085.3 417l0 3.6 9.8 .8 0-3.5z"/><path color="#88695b" d="M2088 397.8l-.9 3.9 8.7 .7 .3-3.9z"/><path color="#244053" d="M2105.1 418l0 3.5 9.9-.6 0-3.6z"/><path color="#886b5c" d="M2104.5 398.5l.2 4 8.8-.6-.8-3.9z"/><path color="#375161" d="M2085.5 413.3l-.2 3.7 9.8 .9 0-3.8z"/><path color="#827b77" d="M2087.1 401.7l-.7 3.9 9.1 .8 .3-4z"/><path color="#88695a" d="M2096.1 398.5l-.3 3.9 8.9 .1-.2-4z"/><path color="#1d3e52" d="M2095.1 417.9l0 3.5 10 .1 0-3.5z"/><path color="#324e5e" d="M2105.1 414.2l0 3.8 9.9-.7-.1-3.7z"/><path color="#827974" d="M2104.7 402.5l.2 3.9 9.2-.6-.6-3.9z"/><path color="#4e606b" d="M2085.8 409.5l-.3 3.8 9.6 .8 .2-3.8z"/><path color="#6e7478" d="M2086.4 405.6l-.6 3.9 9.5 .8 .2-3.9z"/><path color="#50636c" d="M2105 410.4l.1 3.8 9.8-.6-.3-3.9z"/><path color="#6e7478" d="M2104.9 406.4l.1 4 9.6-.7-.5-3.9z"/><path color="#827a75" d="M2095.8 402.4l-.3 4 9.4 0-.2-3.9z"/><path color="#2f4c5d" d="M2095.1 414.1l0 3.8 10 .1 0-3.8z"/><path color="#6f7679" d="M2095.5 406.4l-.2 3.9 9.7 .1-.1-4z"/><path color="#4e626c" d="M2095.3 410.3l-.2 3.8 10 .1-.1-3.8z"/></g>
<g class="f" opacity="0.738"><path color="#1c5286" d="M2120.7 348.5l4.4 .9-6.9-1.4-3.1-.6z"/><path color="#4785ae" d="M2102 346.6l.2-.3-6.7 .2 1.4 .3z"/><path color="#316f9f" d="M2107 346.8l1.8-.2-6.6-.3-.2 .3z"/><path color="#b0c3cb" d="M2083.3 348.2l-4 .8-6.2 1.8 5.2-1.2z"/><path color="#cbc3bf" d="M2073.1 350.8l-4.8 1.7-5.7 2.5 5.7-2.1z"/><path color="#538cb2" d="M2096.9 346.8l-1.4-.3-6.3 .6 2.9 .1z"/><path color="#caab9d" d="M2057.4 357.7l-4.7 3.2-5 3.7 5.2-3.6z"/><path color="#356e9d" d="M2111.8 347.4l3.3 0-6.3-.8-1.8 .2z"/><path color="#0a3667" d="M2125.5 350.1l5.4 1.2-5.8-1.9-4.4-.9z"/><path color="#0c3869" d="M2135.4 353.5l5.9 2.2-5.3-2.6-5.1-1.8z"/><path color="#7da9c1" d="M2092.1 347.2l-2.9-.1-5.9 1.1 4.3-.1z"/><path color="#316f9a" d="M2150.6 361.9l5.3 3.7-4.4-3.8-4.8-3.3z"/><path color="#194f84" d="M2116.1 348.3l4.6 .2-5.6-1.1-3.3 0z"/><path color="#b6a8a1" d="M2039.3 373l-3.2 4.8-3 4.9 3.3-5z"/><path color="#ceafa1" d="M2062.6 355l-5.2 2.7-4.5 3.3 5.8-3.1z"/><path color="#ae978c" d="M2169.9 383.9l2.5 5.4-2.4-5.2-2.4-5.1z"/><path color="#c7c6c6" d="M2078.3 349.6l-5.2 1.2-4.8 2.1 6.1-1.5z"/><path color="#a4bdca" d="M2087.6 348.1l-4.3 .1-5 1.4 5.5-.4z"/><path color="#c2b0a5" d="M2043.1 368.6l-3.8 4.4-2.9 4.7 4-4.8z"/><path color="#1e588d" d="M2144.7 358.7l5.9 3.2-3.9-3.4-5.4-2.8z"/><path color="#0f3e70" d="M2129.1 351.9l6.3 1.6-4.5-2.2-5.4-1.2z"/><path color="#b4afac" d="M2166.6 378.8l3.3 5.1-2.3-4.9-3.2-4.8z"/><path color="#154a7f" d="M2119.7 349.5l5.8 .6-4.8-1.6-4.6-.2z"/><path color="#6494b5" d="M2101.8 347.6l.2-1-5.1 .2 1.5 .9z"/><path color="#4e81a8" d="M2105.2 347.8l1.8-1-5-.2-.2 1z"/><path color="#cab0a4" d="M2068.3 352.9l-5.7 2.1-3.9 2.9 6.3-2.5z"/><path color="#6e9bb8" d="M2098.4 347.7l-1.5-.9-4.8 .4 3 .8z"/><path color="#336f9d" d="M2108.4 348.1l3.4-.7-4.8-.6-1.8 1z"/><path color="#c3a494" d="M2047.7 364.6l-4.6 4-2.7 4.3 4.8-4.4z"/><path color="#9cacb4" d="M2162.5 374l4.1 4.8-2.2-4.6-3.9-4.5z"/><path color="#507386" d="M2028.1 399l0 5.6 .1 5.5 0-5.7z"/><path color="#84abc1" d="M2095.1 348l-3-.8-4.5 .9 4.5 .5z"/><path color="#164c82" d="M2138.3 356.1l6.4 2.6-3.4-3-5.9-2.2z"/><path color="#b5c0c5" d="M2083.8 349.2l-5.5 .4-3.9 1.8 6.4-.9z"/><path color="#336d9a" d="M2111.3 348.7l4.8-.4-4.3-.9-3.4 .7z"/><path color="#906959" d="M2173.9 411.4l-.9 5.6 1-5.5 .9-5.5z"/><path color="#c49b89" d="M2052.9 361l-5.2 3.6-2.5 3.9 5.5-3.9z"/><path color="#194e83" d="M2122.5 350.9l6.6 1-3.6-1.8-5.8-.6z"/><path color="#658595" d="M2028.9 393.4l-.8 5.6 .1 5.4 .8-5.6z"/><path color="#c7b3a9" d="M2074.4 351.4l-6.1 1.5-3.3 2.5 6.7-2z"/><path color="#759aac" d="M2157.7 369.6l4.8 4.4-2-4.3-4.6-4.1z"/><path color="#95b3c4" d="M2092.1 348.6l-4.5-.5-3.8 1.1 5.7 .1z"/><path color="#2b6490" d="M2113.7 349.5l6 0-3.6-1.2-4.8 .4z"/><path color="#185088" d="M2131.5 354l6.8 2.1-2.9-2.6-6.3-1.6z"/><path color="#99604c" d="M2174 405.8l-.1 5.6 1-5.4 0-5.7z"/><path color="#80959f" d="M2030.6 388l-1.7 5.4 .1 5.4 1.6-5.6z"/><path color="#c19281" d="M2058.7 357.9l-5.8 3.1-2.2 3.6 6-3.5z"/><path color="#5286a4" d="M2152.2 365.5l5.5 4.1-1.8-4-5.3-3.7z"/><path color="#9db4c2" d="M2089.5 349.3l-5.7-.1-3 1.3 6.7-.3z"/><path color="#bbb3af" d="M2080.8 350.5l-6.4 .9-2.7 2 7.1-1.4z"/><path color="#7aa0bb" d="M2101.6 349.3l.2-1.7-3.4 .1 1.4 1.6z"/><path color="#9c6855" d="M2173.2 400.1l.8 5.7 .9-5.5-.8-5.6z"/><path color="#7298b5" d="M2103.3 349.3l1.9-1.5-3.4-.2-.2 1.7z"/><path color="#96a1a7" d="M2033.1 382.7l-2.5 5.3 0 5.2 2.5-5.5z"/><path color="#81a4bd" d="M2099.8 349.3l-1.4-1.6-3.3 .3 3.1 1.5z"/><path color="#6890b1" d="M2104.9 349.5l3.5-1.4-3.2-.3-1.9 1.5z"/><path color="#316b97" d="M2115.6 350.5l6.9 .4-2.8-1.4-6 0z"/><path color="#bf9285" d="M2065 355.4l-6.3 2.5-2 3.2 6.6-3z"/><path color="#3c759c" d="M2146.1 361.9l6.1 3.6-1.6-3.6-5.9-3.2z"/><path color="#246093" d="M2124.3 352.4l7.2 1.6-2.4-2.1-6.6-1z"/><path color="#87a7bd" d="M2098.2 349.5l-3.1-1.5-3 .6 4.6 1.1z"/><path color="#638eaf" d="M2106.4 349.8l4.9-1.1-2.9-.6-3.5 1.4z"/><path color="#a37a69" d="M2171.5 394.5l1.7 5.6 .9-5.4-1.7-5.4z"/><path color="#acacac" d="M2036.4 377.7l-3.3 5 0 5 3.4-5.3z"/><path color="#61747f" d="M2030.9 421l2.6 5.2 3.3 5.1-2.5-5.1z"/><path color="#92acbe" d="M2096.7 349.7l-4.6-1.1-2.6 .7 5.9 .8z"/><path color="#827b77" d="M2164.6 432.5l-3.1 4.6 3.9-4.7 3.3-4.9z"/><path color="#306d99" d="M2139.5 358.7l6.6 3.2-1.4-3.2-6.4-2.6z"/><path color="#bc9488" d="M2071.7 353.4l-6.7 2-1.7 2.7 7.1-2.5z"/><path color="#618cac" d="M2107.6 350.2l6.1-.7-2.4-.8-4.9 1.1z"/><path color="#abb0b3" d="M2087.5 350.2l-6.7 .3-2 1.5 7.3-.7z"/><path color="#a9887c" d="M2169 388.9l2.5 5.6 .9-5.2-2.5-5.4z"/><path color="#b5a59c" d="M2040.4 372.9l-4 4.8 .1 4.7 4-5.1z"/><path color="#437ba5" d="M2116.8 351.5l7.5 .9-1.8-1.5-6.9-.4z"/><path color="#94afbf" d="M2095.4 350.1l-5.9-.8-2 .9 6.9 .4z"/><path color="#4a697a" d="M2029.1 415.6l1.8 5.4 3.4 5.2-1.7-5.3z"/><path color="#2c6b99" d="M2132.5 356.1l7 2.6-1.2-2.6-6.8-2.1z"/><path color="#6a95b4" d="M2108.5 350.7l7.1-.2-1.9-1-6.1 .7z"/><path color="#b79c91" d="M2078.8 352l-7.1 1.4-1.3 2.2 7.4-1.9z"/><path color="#71554b" d="M2043.9 440.3l4.6 3.9 5.3 3.8-4.2-3.5z"/><path color="#b89484" d="M2045.2 368.5l-4.8 4.4 .1 4.4 4.8-4.7z"/><path color="#ac9b94" d="M2165.7 383.6l3.3 5.3 .9-5-3.3-5.1z"/><path color="#87786f" d="M2167.1 427.5l-2.5 5 4.1-5 2.6-5.1z"/><path color="#571d1c" d="M2058.5 451.1l5.2 2.4 6 2.7-4.4-2.1z"/><path color="#36749f" d="M2125 354.1l7.5 2-1-2.1-7.2-1.6z"/><path color="#a1b3bd" d="M2094.4 350.6l-6.9-.4-1.4 1.1 7.6-.2z"/><path color="#b48377" d="M2050.7 364.6l-5.5 3.9 .1 4.1 5.5-4.4z"/><path color="#400e12" d="M2069.7 456.2l4.7 1.5 6.4 1.9-3.6-1.2z"/><path color="#3e6378" d="M2028.2 410.1l.9 5.5 3.5 5.3-.9-5.5z"/><path color="#a39f9d" d="M2161.7 378.4l4 5.2 .9-4.8-4.1-4.8z"/><path color="#410a11" d="M2088.2 460.9l2.4 .2 6.6 .6-1-.1z"/><path color="#aca29e" d="M2086.1 351.3l-7.3 .7-1 1.7 7.7-1.3z"/><path color="#5986ab" d="M2109.1 351.2l7.7 .3-1.2-1-7.1 .2z"/><path color="#52231c" d="M2104.5 461.7l-.6 .1 6.6-.5 2.1-.2z"/><path color="#8aa8bd" d="M2101.4 351.6l.2-2.3-1.8 0z"/><path color="#8daabe" d="M2101.4 351.6l1.9-2.3-1.7 0z"/><path color="#8ca9be" d="M2101.4 351.6l-1.6-2.3-1.6 .2z"/><path color="#656261" d="M2135.4 454.8l-4.1 2 6.4-2.6 5-2.3z"/><path color="#83a0b8" d="M2101.4 351.6l3.5-2.1-1.6-.2z"/><path color="#4b1616" d="M2096.2 461.6l1 .1 6.7 .1 .6-.1z"/><path color="#676d6f" d="M2151.3 445.5l-4 3.4 5.8-3.7 4.5-3.8z"/><path color="#af756d" d="M2056.7 361.1l-6 3.5 .1 3.6 6-3.9z"/><path color="#8eacbf" d="M2101.4 351.6l-3.2-2.1-1.5 .2z"/><path color="#897368" d="M2168.7 422.2l-1.6 5.3 4.2-5.1 1.7-5.4z"/><path color="#5487aa" d="M2117.3 352.6l7.7 1.5-.7-1.7-7.5-.9z"/><path color="#635047" d="M2123.5 458.9l-3.4 1 6.7-1.7 4.5-1.4z"/><path color="#86a4b9" d="M2101.4 351.6l5-1.8-1.5-.3z"/><path color="#92a0a7" d="M2156.9 373.6l4.8 4.8 .8-4.4-4.8-4.4z"/><path color="#8eacbf" d="M2101.4 351.6l-4.7-1.9-1.3 .4z"/><path color="#85a2b9" d="M2101.4 351.6l6.2-1.4-1.2-.4z"/><path color="#756963" d="M2040 436l3.9 4.3 5.7 4.2-3.6-4.1z"/><path color="#a0acb1" d="M2093.7 351.1l-7.6 .2-.6 1.1 7.9-.7z"/><path color="#456a7f" d="M2028.2 404.4l0 5.7 3.5 5.3 0-5.7z"/><path color="#ad726e" d="M2063.3 358.1l-6.6 3 .1 3.2 6.6-3.5z"/><path color="#8cacbe" d="M2101.4 351.6l-6-1.5-1 .5z"/><path color="#82a1b9" d="M2101.4 351.6l7.1-.9-.9-.5z"/><path color="#7e9aa9" d="M2151.5 369.1l5.4 4.5 .8-4-5.5-4.1z"/><path color="#7197b4" d="M2109.4 351.8l7.9 .8-.5-1.1-7.7-.3z"/><path color="#8daab9" d="M2101.4 351.6l-7-1-.7 .5z"/><path color="#ad7671" d="M2070.4 355.6l-7.1 2.5 .1 2.7 7.1-3z"/><path color="#8faaba" d="M2101.4 351.6l7.7-.4-.6-.5z"/><path color="#6b93aa" d="M2145.5 365.1l6 4 .7-3.6-6.1-3.6z"/><path color="#8e6e5f" d="M2169.6 416.7l-.9 5.5 4.3-5.2 .9-5.6z"/><path color="#8fabbb" d="M2101.4 351.6l-7.7-.5-.3 .6z"/><path color="#b1867e" d="M2077.8 353.7l-7.4 1.9 .1 2.2 7.4-2.4z"/><path color="#592521" d="M2053.8 448l4.7 3.1 6.8 3-4-2.7z"/><path color="#87a3b8" d="M2101.4 351.6l8 .2-.3-.6z"/><path color="#527486" d="M2029 398.8l-.8 5.6 3.5 5.3 .8-5.7z"/><path color="#b09990" d="M2085.5 352.4l-7.7 1.3 .1 1.7 7.6-1.9z"/><path color="#5f8ea8" d="M2139 361.4l6.5 3.7 .6-3.2-6.6-3.2z"/><path color="#aeacab" d="M2093.4 351.7l-7.9 .7 0 1.1 7.9-1.3z"/><path color="#33030d" d="M2077.2 458.4l3.6 1.2 7.4 1.3-2.4-.9z"/><path color="#94b0bf" d="M2101.4 351.6l-8 .1 0 .5z"/><path color="#8ba7bb" d="M2101.4 351.6l7.8 .8 .2-.6z"/><path color="#6b7071" d="M2154.7 441.5l-3.4 4 6.3-4.1 3.9-4.3z"/><path color="#578ba9" d="M2132 358.3l7 3.1 .5-2.7-7-2.6z"/><path color="#84a7ba" d="M2109.2 352.4l7.8 1.4 .3-1.2-7.9-.8z"/><path color="#588caa" d="M2124.6 355.8l7.4 2.5 .5-2.2-7.5-2z"/><path color="#6a99b2" d="M2117 353.8l7.6 2 .4-1.7-7.7-1.5z"/><path color="#a2b8c3" d="M2101.4 351.6l-8 .6 .4 .6z"/><path color="#6f6f6f" d="M2036.8 431.3l3.2 4.7 6 4.4-2.9-4.4z"/><path color="#5d4035" d="M2114.6 460.2l-2 .9 7.5-1.2 3.4-1z"/><path color="#94b0c0" d="M2101.4 351.6l7.3 1.3 .5-.5z"/><path color="#906b5b" d="M2169.6 411l0 5.7 4.3-5.3 .1-5.6z"/><path color="#6e8793" d="M2030.6 393.2l-1.6 5.6 3.5 5.2 1.6-5.7z"/><path color="#3f0a11" d="M2065.3 454.1l4.4 2.1 7.5 2.2-3.4-1.8z"/><path color="#636465" d="M2139.2 452.2l-3.8 2.6 7.3-2.9 4.6-3z"/><path color="#a1b9c3" d="M2101.4 351.6l-7.6 1.2 .8 .5z"/><path color="#95b1bf" d="M2101.4 351.6l6.5 1.8 .8-.5z"/><path color="#a0b1ba" d="M2101.4 351.6l-6.8 1.7 1.1 .4z"/><path color="#aca8a6" d="M2093.4 352.2l-7.9 1.3 .9 1.1 7.4-1.8z"/><path color="#93aebd" d="M2101.4 351.6l5.3 2.2 1.2-.4z"/><path color="#a1b7c1" d="M2101.4 351.6l-5.7 2.1 1.3 .4z"/><path color="#645954" d="M2126.5 457.1l-3 1.8 7.8-2.1 4.1-2z"/><path color="#8e9aa0" d="M2033.1 387.7l-2.5 5.5 3.5 5.1 2.4-5.7z"/><path color="#3a060f" d="M2085.8 460l2.4 .9 8 .7-.9-.8z"/><path color="#95afbf" d="M2101.4 351.6l3.9 2.5 1.4-.3z"/><path color="#8caabc" d="M2108.7 352.9l7.3 1.9 1-1-7.8-1.4z"/><path color="#936a5c" d="M2168.8 405.3l.8 5.7 4.4-5.2-.8-5.7z"/><path color="#a3b8c1" d="M2101.4 351.6l-4.4 2.5 1.6 .2z"/><path color="#552b23" d="M2105 460.9l-.5 .8 8.1-.6 2-.9z"/><path color="#9bb3c0" d="M2101.4 351.6l2.3 2.8 1.6-.3z"/><path color="#a1b7c2" d="M2101.4 351.6l-2.8 2.7 1.7 .2z"/><path color="#a2b7c2" d="M2101.4 351.6l.6 2.9 1.7-.1z"/><path color="#a1b8c2" d="M2101.4 351.6l-1.1 2.9 1.7 0z"/><path color="#ab8c85" d="M2085.5 353.5l-7.6 1.9 1.2 1.6 7.3-2.4z"/><path color="#727374" d="M2157.5 437.1l-2.8 4.4 6.8-4.4 3.1-4.6z"/><path color="#653e35" d="M2049.6 444.5l4.2 3.5 7.5 3.4-3.5-3.2z"/><path color="#5c6b71" d="M2034.3 426.2l2.5 5.1 6.3 4.7-2.2-4.9z"/><path color="#480f13" d="M2095.3 460.8l.9 .8 8.3 .1 .5-.8z"/><path color="#a1a1a1" d="M2036.5 382.4l-3.4 5.3 3.4 4.9 3.1-5.6z"/><path color="#a9a29e" d="M2093.8 352.8l-7.4 1.8 1.5 1 6.7-2.3z"/><path color="#84a6b8" d="M2116 354.8l7.2 2.6 1.4-1.6-7.6-2z"/><path color="#aa7371" d="M2077.9 355.4l-7.4 2.4 1.5 2.1 7.1-2.9z"/><path color="#966d62" d="M2167.3 399.5l1.5 5.8 4.4-5.2-1.7-5.6z"/><path color="#ad988e" d="M2040.5 377.3l-4 5.1 3.1 4.6 3.9-5.3z"/><path color="#97b0be" d="M2107.9 353.4l6.4 2.4 1.7-1-7.3-1.9z"/><path color="#a16067" d="M2070.5 357.8l-7.1 3 1.9 2.6 6.7-3.5z"/><path color="#ac8377" d="M2045.3 372.6l-4.8 4.7 3 4.4 4.6-5.1z"/><path color="#9e5962" d="M2063.4 360.8l-6.6 3.5 2.3 3.1 6.2-4z"/><path color="#89a8b8" d="M2123.2 357.4l6.9 3.1 1.9-2.2-7.4-2.5z"/><path color="#a46b66" d="M2050.8 368.2l-5.5 4.4 2.8 4 5.2-4.8z"/><path color="#5e6466" d="M2142.5 449l-3.3 3.2 8.1-3.3 4-3.4z"/><path color="#a05e63" d="M2056.8 364.3l-6 3.9 2.5 3.6 5.8-4.4z"/><path color="#98746d" d="M2164.9 393.7l2.4 5.8 4.2-5-2.5-5.6z"/><path color="#3c070f" d="M2073.8 456.6l3.4 1.8 8.6 1.6-2.1-1.6z"/><path color="#afa29d" d="M2094.6 353.3l-6.7 2.3 2.1 .9 5.7-2.8z"/><path color="#4a6371" d="M2032.6 420.9l1.7 5.3 6.6 4.9-1.5-5.2z"/><path color="#4b1a19" d="M2061.3 451.4l4 2.7 8.5 2.5-3-2.4z"/><path color="#777674" d="M2159.7 432.2l-2.2 4.9 7.1-4.6 2.5-5z"/><path color="#a8b6be" d="M2106.7 353.8l5.3 2.9 2.3-.9-6.4-2.4z"/><path color="#89a6b5" d="M2130.1 360.5l6.5 3.6 2.4-2.7-7-3.1z"/><path color="#9c7c78" d="M2161.8 388.1l3.1 5.6 4.1-4.8-3.3-5.3z"/><path color="#af847d" d="M2086.4 354.6l-7.3 2.4 2.2 1.5 6.6-2.9z"/><path color="#604b42" d="M2116.4 458.7l-1.8 1.5 8.9-1.3 3-1.8z"/><path color="#92a7b2" d="M2136.6 364.1l6.2 4 2.7-3-6.5-3.7z"/><path color="#9c847f" d="M2158 382.7l3.8 5.4 3.9-4.5-4-5.2z"/><path color="#6b554f" d="M2046 440.4l3.6 4.1 8.2 3.7-3-3.8z"/><path color="#a2b5bf" d="M2114.3 355.8l6.4 3 2.5-1.4-7.2-2.6z"/><path color="#b1a09a" d="M2095.7 353.7l-5.7 2.8 2.7 .7 4.3-3.1z"/><path color="#93a0a5" d="M2142.8 368.1l5.6 4.5 3.1-3.5-6-4z"/><path color="#9b8d8a" d="M2153.5 377.5l4.5 5.2 3.7-4.3-4.8-4.8z"/><path color="#5e5b59" d="M2129.3 454.7l-2.8 2.4 8.9-2.3 3.8-2.6z"/><path color="#999797" d="M2148.4 372.6l5.1 4.9 3.4-3.9-5.4-4.5z"/><path color="#aeb5b9" d="M2105.3 354.1l3.9 3.2 2.8-.6-5.3-2.9z"/><path color="#446073" d="M2031.7 415.4l.9 5.5 6.8 5-.8-5.5z"/><path color="#b1a29b" d="M2097 354.1l-4.3 3.1 3.1 .5 2.8-3.4z"/><path color="#450e13" d="M2083.7 458.4l2.1 1.6 9.5 .8-.9-1.5z"/><path color="#a16369" d="M2079.1 357l-7.1 2.9 3 2 6.3-3.4z"/><path color="#aeb0b0" d="M2103.7 354.4l2.4 3.4 3.1-.5-3.9-3.2z"/><path color="#7f7a76" d="M2161.1 427l-1.4 5.2 7.4-4.7 1.6-5.3z"/><path color="#59352c" d="M2105.5 459.4l-.5 1.5 9.6-.7 1.8-1.5z"/><path color="#b2a5a0" d="M2098.6 354.3l-2.8 3.4 3.4 .3 1.1-3.5z"/><path color="#b0aeac" d="M2102 354.5l.7 3.5 3.4-.2-2.4-3.4z"/><path color="#596368" d="M2145.4 445.2l-2.9 3.8 8.8-3.5 3.4-4z"/><path color="#ab7d78" d="M2087.9 355.6l-6.6 2.9 3.2 1.3 5.5-3.3z"/><path color="#b2aba7" d="M2100.3 354.5l-1.1 3.5 3.5 0-.7-3.5z"/><path color="#aab7be" d="M2120.7 358.8l6.1 3.6 3.3-1.9-6.9-3.1z"/><path color="#51221d" d="M2094.4 459.3l.9 1.5 9.7 .1 .5-1.5z"/><path color="#b2b9bc" d="M2112 356.7l5.2 3.4 3.5-1.3-6.4-3z"/><path color="#456276" d="M2031.7 409.7l0 5.7 6.9 5 0-5.7z"/><path color="#945862" d="M2072 359.9l-6.7 3.5 3.7 2.5 6-4z"/><path color="#655c5a" d="M2043.1 436l2.9 4.4 8.8 4-2.5-4.3z"/><path color="#5b312c" d="M2057.8 448.2l3.5 3.2 9.5 2.8-2.7-3.1z"/><path color="#857a75" d="M2161.9 421.6l-.8 5.4 7.6-4.8 .9-5.5z"/><path color="#4a1a19" d="M2070.8 454.2l3 2.4 9.9 1.8-2-2.3z"/><path color="#506e7f" d="M2032.5 404l-.8 5.7 6.9 5 .7-5.8z"/><path color="#ac7a74" d="M2090 356.5l-5.5 3.3 4 1.1 4.2-3.7z"/><path color="#aeb5b8" d="M2126.8 362.4l5.8 4 4-2.3-6.5-3.6z"/><path color="#8b515a" d="M2065.3 363.4l-6.2 4 4.2 2.9 5.7-4.4z"/><path color="#5c524d" d="M2118 456.5l-1.6 2.2 10.1-1.6 2.8-2.4z"/><path color="#53595b" d="M2131.8 451.8l-2.5 2.9 9.9-2.5 3.3-3.2z"/><path color="#bbb3af" d="M2109.2 357.3l3.9 3.8 4.1-1-5.2-3.4z"/><path color="#a05e67" d="M2081.3 358.5l-6.3 3.4 4.2 1.8 5.3-3.9z"/><path color="#58646a" d="M2147.7 441l-2.3 4.2 9.3-3.7 2.8-4.4z"/><path color="#8c796f" d="M2161.9 415.9l0 5.7 7.7-4.9 0-5.7z"/><path color="#697f8b" d="M2034.1 398.3l-1.6 5.7 6.8 4.9 1.4-5.9z"/><path color="#8e5158" d="M2059.1 367.4l-5.8 4.4 4.8 3.3 5.2-4.8z"/><path color="#bdbbb9" d="M2117.2 360.1l5.1 4 4.5-1.7-6.1-3.6z"/><path color="#aea9a6" d="M2132.6 366.4l5.5 4.6 4.7-2.9-6.2-4z"/><path color="#af817a" d="M2092.7 357.2l-4.2 3.7 4.6 .7 2.7-3.9z"/><path color="#565c5f" d="M2040.9 431.1l2.2 4.9 9.2 4.1-1.9-4.8z"/><path color="#889298" d="M2036.5 392.6l-2.4 5.7 6.6 4.7 2.2-5.9z"/><path color="#bda89e" d="M2106.1 357.8l2.2 4 4.8-.7-3.9-3.8z"/><path color="#9b5c5d" d="M2053.3 371.8l-5.2 4.8 5.3 3.6 4.7-5.1z"/><path color="#50221d" d="M2081.7 456.1l2 2.3 10.7 .9-.7-2.1z"/><path color="#a09d9c" d="M2039.6 387l-3.1 5.6 6.4 4.5 2.8-5.8z"/><path color="#8d7469" d="M2161.3 410l.6 5.9 7.7-4.9-.8-5.7z"/><path color="#a17368" d="M2048.1 376.6l-4.6 5.1 5.7 4 4.2-5.5z"/><path color="#a58d83" d="M2043.5 381.7l-3.9 5.3 6.1 4.3 3.5-5.6z"/><path color="#5e4941" d="M2106 457.3l-.5 2.1 10.9-.7 1.6-2.2z"/><path color="#b3867d" d="M2095.8 357.7l-2.7 3.9 5 .4 1.1-4z"/><path color="#624945" d="M2054.8 444.4l3 3.8 10.3 2.9-2.3-3.6z"/><path color="#bc9d8e" d="M2102.7 358l.6 4.1 5-.3-2.2-4z"/><path color="#a79792" d="M2138.1 371l5 4.9 5.3-3.3-5.6-4.5z"/><path color="#b89185" d="M2099.2 358l-1.1 4 5.2 .1-.6-4.1z"/><path color="#89515a" d="M2075 361.9l-6 4 5.1 2.1 5.1-4.3z"/><path color="#59392f" d="M2093.7 457.2l.7 2.1 11.1 .1 .5-2.1z"/><path color="#8f6f66" d="M2159.9 404.1l1.4 5.9 7.5-4.7-1.5-5.8z"/><path color="#9d5a61" d="M2084.5 359.8l-5.3 3.9 5.3 1.4 4-4.2z"/><path color="#5b676d" d="M2149.5 436.3l-1.8 4.7 9.8-3.9 2.2-4.9z"/><path color="#9e847f" d="M2143.1 375.9l4.5 5.2 5.9-3.6-5.1-4.9z"/><path color="#59332d" d="M2068.1 451.1l2.7 3.1 10.9 1.9-1.7-2.8z"/><path color="#485863" d="M2039.4 425.9l1.5 5.2 9.5 4.2-1.3-5.1z"/><path color="#8f6b67" d="M2157.8 398.2l2.1 5.9 7.4-4.6-2.4-5.8z"/><path color="#48555d" d="M2133.9 448.2l-2.1 3.6 10.7-2.8 2.9-3.8z"/><path color="#bdb0a8" d="M2122.3 364.1l4.8 4.4 5.5-2.1-5.8-4z"/><path color="#bfa99d" d="M2113.1 361.1l3.7 4.3 5.5-1.3-5.1-4z"/><path color="#977674" d="M2147.6 381.1l4 5.5 6.4-3.9-4.5-5.2z"/><path color="#916c6b" d="M2155 392.3l2.8 5.9 7.1-4.5-3.1-5.6z"/><path color="#936e6f" d="M2151.6 386.6l3.4 5.7 6.8-4.2-3.8-5.4z"/><path color="#4f5354" d="M2119.5 453.6l-1.5 2.9 11.3-1.8 2.5-2.9z"/><path color="#7f4b53" d="M2069 365.9l-5.7 4.4 6 2.5 4.8-4.8z"/><path color="#9f585c" d="M2088.5 360.9l-4 4.2 6 1 2.6-4.5z"/><path color="#5e524f" d="M2052.3 440.1l2.5 4.3 11 3.1-1.9-4.1z"/><path color="#616c72" d="M2150.7 431.2l-1.2 5.1 10.2-4.1 1.4-5.2z"/><path color="#475a69" d="M2038.6 420.4l.8 5.5 9.7 4.3-.6-5.4z"/><path color="#bc9481" d="M2108.3 361.8l2.3 4.5 6.2-.9-3.7-4.3z"/><path color="#b5998e" d="M2127.1 368.5l4.5 4.9 6.5-2.4-5.5-4.6z"/><path color="#5c3e34" d="M2080 453.3l1.7 2.8 12 1.1-.7-2.8z"/><path color="#864d53" d="M2079.2 363.7l-5.1 4.3 6.5 1.8 3.9-4.7z"/><path color="#a45f5d" d="M2093.1 361.6l-2.6 4.5 6.6 .5 1-4.6z"/><path color="#834a4e" d="M2063.3 370.3l-5.2 4.8 6.8 2.9 4.4-5.2z"/><path color="#555250" d="M2106.4 454.5l-.4 2.8 12-.8 1.5-2.9z"/><path color="#b37c6b" d="M2103.3 362.1l.6 4.6 6.7-.4-2.3-4.5z"/><path color="#41505d" d="M2135.6 444.1l-1.7 4.1 11.5-3 2.3-4.2z"/><path color="#ba9582" d="M2116.8 365.4l3.5 4.7 6.8-1.6-4.8-4.4z"/><path color="#aa6b61" d="M2098.1 362l-1 4.6 6.8 .1-.6-4.6z"/><path color="#614a45" d="M2065.8 447.5l2.3 3.6 11.9 2.2-1.5-3.5z"/><path color="#485e6f" d="M2038.6 414.7l0 5.7 9.9 4.4-.1-5.7z"/><path color="#5d4e46" d="M2093 454.4l.7 2.8 12.3 .1 .4-2.8z"/><path color="#6f767a" d="M2151.3 425.7l-.6 5.5 10.4-4.2 .8-5.4z"/><path color="#a8837a" d="M2131.6 373.4l4.2 5.2 7.3-2.7-5-4.9z"/><path color="#914e50" d="M2058.1 375.1l-4.7 5.1 7.6 3.3 3.9-5.5z"/><path color="#414d57" d="M2120.8 450.2l-1.3 3.4 12.3-1.8 2.1-3.6z"/><path color="#515355" d="M2050.4 435.3l1.9 4.8 11.6 3.3-1.4-4.6z"/><path color="#506979" d="M2039.3 408.9l-.7 5.8 9.8 4.4 .6-5.9z"/><path color="#88494d" d="M2084.5 365.1l-3.9 4.7 7.4 1.2 2.5-4.9z"/><path color="#7b4347" d="M2074.1 368l-4.8 4.8 7.6 2.1 3.7-5.1z"/><path color="#9b6a5f" d="M2053.4 380.2l-4.2 5.5 8.3 3.5 3.5-5.7z"/><path color="#7a7d7f" d="M2151.4 420l-.1 5.7 10.6-4.1 0-5.7z"/><path color="#687b84" d="M2040.7 403l-1.4 5.9 9.7 4.3 1.3-6z"/><path color="#b27760" d="M2110.6 366.3l2.1 4.9 7.6-1.1-3.5-4.7z"/><path color="#9d726e" d="M2135.8 378.6l3.7 5.6 8.1-3.1-4.5-5.2z"/><path color="#a18477" d="M2049.2 385.7l-3.5 5.6 8.8 3.8 3-5.9z"/><path color="#858c90" d="M2042.9 397.1l-2.2 5.9 9.6 4.2 1.8-6.1z"/><path color="#3d4f5d" d="M2136.9 439.5l-1.3 4.6 12.1-3.1 1.8-4.7z"/><path color="#af7c69" d="M2120.3 370.1l3.4 5.2 7.9-1.9-4.5-4.9z"/><path color="#9a9490" d="M2045.7 391.3l-2.8 5.8 9.2 4 2.4-6z"/><path color="#615751" d="M2078.5 449.8l1.5 3.5 13 1.1-.6-3.4z"/><path color="#85807e" d="M2150.8 414.1l.6 5.9 10.5-4.1-.6-5.9z"/><path color="#914746" d="M2090.5 366.1l-2.5 4.9 8.1 .7 1-5.1z"/><path color="#5d5653" d="M2063.9 443.4l1.9 4.1 12.7 2.3-1.2-4z"/><path color="#956867" d="M2139.5 384.2l3.3 5.8 8.8-3.4-4-5.5z"/><path color="#424e56" d="M2106.7 451.2l-.3 3.3 13.1-.9 1.3-3.4z"/><path color="#48545c" d="M2049.1 430.2l1.3 5.1 12.1 3.5-1-5.1z"/><path color="#a65c4c" d="M2103.9 366.7l.6 5 8.2-.5-2.1-4.9z"/><path color="#9b4a44" d="M2097.1 366.6l-1 5.1 8.4 0-.6-5z"/><path color="#8a7b74" d="M2149.6 408.1l1.2 6 10.5-4.1-1.4-5.9z"/><path color="#8f6665" d="M2142.8 390l2.8 5.9 9.4-3.6-3.4-5.7z"/><path color="#7d4245" d="M2069.3 372.8l-4.4 5.2 8.7 2.3 3.3-5.4z"/><path color="#535759" d="M2092.4 451l.6 3.4 13.4 .1 .3-3.3z"/><path color="#364552" d="M2121.8 446.2l-1 4 13.1-2 1.7-4.1z"/><path color="#8d726b" d="M2147.9 402l1.7 6.1 10.3-4-2.1-5.9z"/><path color="#8d6a66" d="M2145.6 395.9l2.3 6.1 9.9-3.8-2.8-5.9z"/><path color="#7b3e40" d="M2080.6 369.8l-3.7 5.1 8.8 1.4 2.3-5.3z"/><path color="#3e5262" d="M2137.8 434.5l-.9 5 12.6-3.2 1.2-5.1z"/><path color="#a2695b" d="M2123.7 375.3l3.1 5.5 9-2.2-4.2-5.2z"/><path color="#a35e4b" d="M2112.7 371.2l2 5.4 9-1.3-3.4-5.2z"/><path color="#455563" d="M2048.5 424.8l.6 5.4 12.4 3.5-.5-5.4z"/><path color="#8d4947" d="M2064.9 378l-3.9 5.5 9.5 2.6 3.1-5.8z"/><path color="#51575b" d="M2062.5 438.8l1.4 4.6 13.4 2.4-.9-4.6z"/><path color="#595d5f" d="M2077.3 445.8l1.2 4 13.9 1.2-.5-3.9z"/><path color="#823736" d="M2088 371l-2.3 5.3 9.5 .8 .9-5.4z"/><path color="#344452" d="M2107 447.2l-.3 4 14.1-1 1-4z"/><path color="#445a68" d="M2138.3 429l-.5 5.5 12.9-3.3 .6-5.5z"/><path color="#984639" d="M2104.5 371.7l.5 5.5 9.7-.6-2-5.4z"/><path color="#986058" d="M2126.8 380.8l2.7 5.8 10-2.4-3.7-5.6z"/><path color="#495b6a" d="M2048.4 419.1l.1 5.7 12.5 3.5-.1-5.7z"/><path color="#2e3e4c" d="M2122.6 441.7l-.8 4.5 13.8-2.1 1.3-4.6z"/><path color="#965f51" d="M2061 383.5l-3.5 5.7 10.4 2.8 2.6-5.9z"/><path color="#8f3734" d="M2096.1 371.7l-.9 5.4 9.8 .1-.5-5.5z"/><path color="#7e3a39" d="M2076.9 374.9l-3.3 5.4 9.9 1.7 2.2-5.7z"/><path color="#42515a" d="M2091.9 447.1l.5 3.9 14.3 .2 .3-4z"/><path color="#985041" d="M2114.7 376.6l1.8 5.7 10.3-1.5-3.1-5.5z"/><path color="#506573" d="M2049 413.2l-.6 5.9 12.5 3.5 .5-6z"/><path color="#9b7b6b" d="M2057.5 389.2l-3 5.9 11.1 3.1 2.3-6.2z"/><path color="#536771" d="M2138.3 423.3l0 5.7 13-3.3 .1-5.7z"/><path color="#915e58" d="M2129.5 386.6l2.5 6 10.8-2.6-3.3-5.8z"/><path color="#44555f" d="M2061.5 433.7l1 5.1 13.9 2.4-.6-5z"/><path color="#65757e" d="M2050.3 407.2l-1.3 6 12.4 3.4 .9-6.1z"/><path color="#958c87" d="M2054.5 395.1l-2.4 6 11.6 3.2 1.9-6.1z"/><path color="#818588" d="M2052.1 401.1l-1.8 6.1 12 3.3 1.4-6.2z"/><path color="#47575f" d="M2076.4 441.2l.9 4.6 14.6 1.3-.3-4.5z"/><path color="#6b777c" d="M2137.9 417.4l.4 5.9 13.1-3.3-.6-5.9z"/><path color="#823231" d="M2085.7 376.3l-2.2 5.7 10.9 .9 .8-5.8z"/><path color="#8e645d" d="M2132 392.6l2.1 6.2 11.5-2.9-2.8-5.9z"/><path color="#2a3c4c" d="M2123.1 436.7l-.5 5 14.3-2.2 .9-5z"/><path color="#8b3e39" d="M2073.6 380.3l-3.1 5.8 11.1 1.8 1.9-5.9z"/><path color="#283b4b" d="M2107.2 442.7l-.2 4.5 14.8-1 .8-4.5z"/><path color="#8f3d32" d="M2105 377.2l.5 5.8 11-.7-1.8-5.7z"/><path color="#7e807f" d="M2137 411.2l.9 6.2 12.9-3.3-1.2-6z"/><path color="#8f726a" d="M2134.1 398.8l1.7 6.2 12.1-3-2.3-6.1z"/><path color="#935043" d="M2116.5 382.3l1.7 5.9 11.3-1.6-2.7-5.8z"/><path color="#893330" d="M2095.2 377.1l-.8 5.8 11.1 .1-.5-5.8z"/><path color="#897e78" d="M2135.8 405l1.2 6.2 12.6-3.1-1.7-6.1z"/><path color="#2f4655" d="M2091.6 442.6l.3 4.5 15.1 .1 .2-4.5z"/><path color="#425563" d="M2061 428.3l.5 5.4 14.3 2.5-.4-5.4z"/><path color="#925a4a" d="M2070.5 386.1l-2.6 5.9 12 2.1 1.7-6.2z"/><path color="#2a4255" d="M2123.4 431.3l-.3 5.4 14.7-2.2 .5-5.5z"/><path color="#364e5c" d="M2075.8 436.2l.6 5 15.2 1.4-.3-5z"/><path color="#8a3d35" d="M2083.5 382l-1.9 5.9 12 1 .8-6z"/><path color="#435767" d="M2060.9 422.6l.1 5.7 14.4 2.5 0-5.7z"/><path color="#915a4d" d="M2118.2 388.2l1.4 6.2 12.4-1.8-2.5-6z"/><path color="#203547" d="M2107.4 437.7l-.2 5 15.4-1 .5-5z"/><path color="#8e4538" d="M2105.5 383l.5 6 12.2-.8-1.7-5.9z"/><path color="#977665" d="M2067.9 392l-2.3 6.2 12.8 2.1 1.5-6.2z"/><path color="#8a3f34" d="M2094.4 382.9l-.8 6 12.4 .1-.5-6z"/><path color="#213f53" d="M2091.3 437.6l.3 5 15.6 .1 .2-5z"/><path color="#324e61" d="M2123.4 425.6l0 5.7 14.9-2.3 0-5.7z"/><path color="#4b616f" d="M2061.4 416.6l-.5 6 14.5 2.5 .3-6z"/><path color="#908781" d="M2065.6 398.2l-1.9 6.1 13.5 2.3 1.2-6.3z"/><path color="#916d5f" d="M2119.6 394.4l1.3 6.3 13.2-1.9-2.1-6.2z"/><path color="#61727a" d="M2062.3 410.5l-.9 6.1 14.3 2.5 .6-6.2z"/><path color="#2d4a5c" d="M2075.4 430.8l.4 5.4 15.5 1.4-.1-5.4z"/><path color="#7e8283" d="M2063.7 404.3l-1.4 6.2 14 2.4 .9-6.3z"/><path color="#915747" d="M2081.6 387.9l-1.7 6.2 13 1.1 .7-6.3z"/><path color="#47606e" d="M2123.2 419.6l.2 6 14.9-2.3-.4-5.9z"/><path color="#1d374b" d="M2107.5 432.4l-.1 5.3 15.7-1 .3-5.4z"/><path color="#925a47" d="M2106 389l.4 6.3 13.2-.9-1.4-6.2z"/><path color="#8f7e76" d="M2120.9 400.7l1 6.4 13.9-2.1-1.7-6.2z"/><path color="#68757c" d="M2122.7 413.4l.5 6.2 14.7-2.2-.9-6.2z"/><path color="#818181" d="M2121.9 407.1l.8 6.3 14.3-2.2-1.2-6.2z"/><path color="#905845" d="M2093.6 388.9l-.7 6.3 13.5 .1-.4-6.3z"/><path color="#1c3d54" d="M2091.2 432.2l.1 5.4 16.1 .1 .1-5.3z"/><path color="#324f62" d="M2075.4 425.1l0 5.7 15.8 1.4 0-5.7z"/><path color="#947363" d="M2079.9 394.1l-1.5 6.2 14 1.2 .5-6.3z"/><path color="#224158" d="M2107.5 426.6l0 5.8 15.9-1.1 0-5.7z"/><path color="#937262" d="M2106.4 395.3l.4 6.3 14.1-.9-1.3-6.3z"/><path color="#405a6a" d="M2075.7 419.1l-.3 6 15.8 1.4 .1-6z"/><path color="#8d847f" d="M2078.4 400.3l-1.2 6.3 14.7 1.3 .5-6.4z"/><path color="#937566" d="M2092.9 395.2l-.5 6.3 14.4 .1-.4-6.3z"/><path color="#20435a" d="M2091.2 426.5l0 5.7 16.3 .2 0-5.8z"/><path color="#345365" d="M2107.4 420.6l.1 6 15.9-1-.2-6z"/><path color="#8d837d" d="M2106.8 401.6l.2 6.4 14.9-.9-1-6.4z"/><path color="#5b6d77" d="M2076.3 412.9l-.6 6.2 15.6 1.4 .2-6.3z"/><path color="#797f83" d="M2077.2 406.6l-.9 6.3 15.2 1.3 .4-6.3z"/><path color="#556b75" d="M2107.3 414.4l.1 6.2 15.8-1-.5-6.2z"/><path color="#787f82" d="M2107 408l.3 6.4 15.4-1-.8-6.3z"/><path color="#8b8480" d="M2092.4 401.5l-.5 6.4 15.1 .1-.2-6.4z"/><path color="#315265" d="M2091.3 420.5l-.1 6 16.3 .1-.1-6z"/><path color="#757d81" d="M2091.9 407.9l-.4 6.3 15.8 .2-.3-6.4z"/><path color="#536975" d="M2091.5 414.2l-.2 6.3 16.1 .1-.1-6.2z"/></g>
<g class="f" opacity="0.505"><path color="#558bb1" d="M2102.1 332.3l.3-.3-8.3 .2 1.7 .3z"/><path color="#2f6c9e" d="M2108.4 332.6l2.2-.2-8.2-.4-.3 .3z"/><path color="#acc2cd" d="M2078.8 334.3l-5 1-7.7 2.2 6.5-1.4z"/><path color="#cbc6c3" d="M2066.1 337.5l-6 2.2-7.2 3.2 7.1-2.7z"/><path color="#5991b4" d="M2095.8 332.5l-1.7-.3-8 .8 3.6 .1z"/><path color="#c8a595" d="M2046.4 346.2l-5.8 4.1-6.3 4.5 6.5-4.5z"/><path color="#225e96" d="M2114.4 333.3l4.1 0-7.9-.9-2.2 .2z"/><path color="#0a3666" d="M2131.5 336.6l6.8 1.6-7.3-2.4-5.5-1.1z"/><path color="#0b3767" d="M2143.9 341l7.3 2.7-6.6-3.2-6.3-2.3z"/><path color="#7ca8c0" d="M2089.7 333.1l-3.6-.1-7.3 1.3 5.4-.2z"/><path color="#306e9a" d="M2162.9 351.4l6.6 4.6-5.5-4.6-6-4.2z"/><path color="#164c82" d="M2119.8 334.4l5.7 .3-7-1.4-4.1 0z"/><path color="#cfb5a7" d="M2052.9 342.9l-6.5 3.3-5.6 4.1 7.2-3.8z"/><path color="#c5c7c8" d="M2072.6 336.1l-6.5 1.4-6.1 2.7 7.6-1.9z"/><path color="#a1bbc9" d="M2084.2 334.1l-5.4 .2-6.2 1.8 6.8-.6z"/><path color="#c2b1a8" d="M2028.6 359.8l-4.8 5.6-3.7 5.7 5-5.9z"/><path color="#1f588d" d="M2155.6 347.4l7.3 4-4.9-4.2-6.8-3.5z"/><path color="#0d3b6d" d="M2136.1 338.9l7.8 2.1-5.6-2.8-6.8-1.6z"/><path color="#b3b3b2" d="M2183 372.6l4.1 6.3-3-6.1-3.9-6z"/><path color="#15487d" d="M2124.3 335.9l7.2 .7-6-1.9-5.7-.3z"/><path color="#548bb1" d="M2101.9 333.5l.2-1.2-6.3 .2 1.8 1.1z"/><path color="#4278a3" d="M2106.1 333.7l2.3-1.1-6.3-.3-.2 1.2z"/><path color="#ccb6ab" d="M2060 340.2l-7.1 2.7-4.9 3.6 7.8-3.2z"/><path color="#6897b7" d="M2097.6 333.6l-1.8-1.1-6.1 .6 3.8 .9z"/><path color="#306c9b" d="M2110.2 334.2l4.2-.9-6-.7-2.3 1.1z"/><path color="#c4a697" d="M2034.3 354.8l-5.7 5-3.5 5.4 6-5.5z"/><path color="#9cacb5" d="M2177.9 366.5l5.1 6.1-2.8-5.8-4.9-5.7z"/><path color="#82aac1" d="M2093.5 334l-3.8-.9-5.5 1 5.6 .6z"/><path color="#174d84" d="M2147.6 344.1l8 3.3-4.4-3.7-7.3-2.7z"/><path color="#b4c1c6" d="M2079.4 335.5l-6.8 .6-5 2.2 8.1-1.2z"/><path color="#2c6693" d="M2113.8 334.9l6-.5-5.4-1.1-4.2 .9z"/><path color="#c59f8e" d="M2040.8 350.3l-6.5 4.5-3.2 4.9 6.8-5z"/><path color="#164b7f" d="M2127.8 337.6l8.3 1.3-4.6-2.3-7.2-.7z"/><path color="#698897" d="M2010.8 390.8l-1 7 0 6.8 1-7.1z"/><path color="#c6b6ae" d="M2067.6 338.3l-7.6 1.9-4.2 3.1 8.4-2.5z"/><path color="#7b9eaf" d="M2171.9 360.9l6 5.6-2.6-5.4-5.8-5.1z"/><path color="#90b0c2" d="M2089.8 334.7l-5.6-.6-4.8 1.4 7.2 .1z"/><path color="#286290" d="M2116.8 335.9l7.5 0-4.5-1.5-6 .5z"/><path color="#185089" d="M2139.1 341.4l8.5 2.7-3.7-3.1-7.8-2.1z"/><path color="#965f4c" d="M2192.2 406.3l0 7 1-6.8 .1-7z"/><path color="#7d949f" d="M2012.9 384l-2.1 6.8 0 6.7 2.1-7z"/><path color="#c59b8b" d="M2048 346.5l-7.2 3.8-2.9 4.4 7.6-4.4z"/><path color="#5689a6" d="M2165 355.9l6.9 5-2.4-4.9-6.6-4.6z"/><path color="#9cb4c0" d="M2086.6 335.6l-7.2-.1-3.7 1.6 8.3-.3z"/><path color="#b7b4b2" d="M2075.7 337.1l-8.1 1.2-3.4 2.5 8.9-1.8z"/><path color="#759cb9" d="M2101.6 335.5l.3-2-4.3 .1 1.9 2z"/><path color="#9d6754" d="M2191.2 399.2l1 7.1 1.1-6.8-1-7z"/><path color="#6c93b3" d="M2103.8 335.6l2.3-1.9-4.2-.2-.3 2z"/><path color="#96a2a8" d="M2016 377.4l-3.1 6.6 0 6.5 3.1-6.9z"/><path color="#7a9fba" d="M2099.5 335.6l-1.9-2-4.1 .4 3.9 1.8z"/><path color="#618bae" d="M2105.8 335.9l4.4-1.7-4.1-.5-2.3 1.9z"/><path color="#2e6692" d="M2119.2 337.1l8.6 .5-3.5-1.7-7.5 0z"/><path color="#c19a8e" d="M2055.8 343.3l-7.8 3.2-2.5 3.8 8.2-3.7z"/><path color="#41799f" d="M2157.4 351.3l7.6 4.6-2.1-4.5-7.3-4z"/><path color="#225d91" d="M2130.1 339.5l9 1.9-3-2.5-8.3-1.3z"/><path color="#7ca0bb" d="M2097.4 335.8l-3.9-1.8-3.7 .7 5.7 1.5z"/><path color="#5886ab" d="M2107.6 336.3l6.2-1.4-3.6-.7-4.4 1.7z"/><path color="#a37665" d="M2189.2 392.1l2 7.1 1.1-6.7-2.1-6.9z"/><path color="#aeaeae" d="M2020.1 371.1l-4.1 6.3 0 6.2 4.1-6.6z"/><path color="#5f747e" d="M2013.2 425.3l3.3 6.5 4 6.4-3.1-6.3z"/><path color="#8aaabe" d="M2095.5 336.2l-5.7-1.5-3.2 .9 7.3 1z"/><path color="#827c79" d="M2180.6 439.7l-4 5.8 4.8-6 4.2-6.1z"/><path color="#2d6b99" d="M2149.1 347.4l8.3 3.9-1.8-3.9-8-3.3z"/><path color="#be9a90" d="M2064.2 340.8l-8.4 2.5-2.1 3.3 8.9-3.1z"/><path color="#5d8aad" d="M2109.2 336.7l7.6-.8-3-1-6.2 1.4z"/><path color="#a9b1b4" d="M2084 336.8l-8.3 .3-2.6 1.9 9.2-1z"/><path color="#aa8578" d="M2186.1 385.2l3.1 6.9 1-6.5-3.1-6.7z"/><path color="#b6a8a0" d="M2025.1 365.2l-5 5.9 0 5.9 5.1-6.3z"/><path color="#3c76a2" d="M2120.7 338.4l9.4 1.1-2.3-1.9-8.6-.5z"/><path color="#96b0bf" d="M2093.9 336.6l-7.3-1-2.6 1.2 8.6 .4z"/><path color="#4c6a7b" d="M2011 418.6l2.2 6.7 4.2 6.6-2.1-6.7z"/><path color="#2c6c9b" d="M2140.3 344.1l8.8 3.3-1.5-3.3-8.5-2.7z"/><path color="#608cad" d="M2110.3 337.3l8.9-.2-2.4-1.2-7.6 .8z"/><path color="#b5a199" d="M2073.1 339l-8.9 1.8-1.6 2.7 9.2-2.4z"/><path color="#74584d" d="M2029.5 449.4l5.8 4.9 6.5 4.9-5.2-4.5z"/><path color="#bb9a8c" d="M2031.1 359.7l-6 5.5 .1 5.5 6-6z"/><path color="#ae9990" d="M2182 378.4l4.1 6.8 1-6.3-4.1-6.3z"/><path color="#887870" d="M2183.6 433.5l-3 6.2 5-6.3 3.2-6.4z"/><path color="#4d1718" d="M2047.7 462.9l6.5 3.1 7.5 3.4-5.5-2.6z"/><path color="#33729f" d="M2131 341.6l9.3 2.5-1.2-2.7-9-1.9z"/><path color="#9bafba" d="M2092.6 337.2l-8.6-.4-1.7 1.2 9.5-.2z"/><path color="#b88b80" d="M2037.9 354.7l-6.8 5 .1 5 6.8-5.5z"/><path color="#3b0810" d="M2061.7 469.4l5.9 1.8 8 2.4-4.5-1.4z"/><path color="#42667a" d="M2009.9 411.6l1.1 7 4.3 6.6-1.1-6.9z"/><path color="#a8a09d" d="M2176.9 372l5.1 6.4 1-5.8-5.1-6.1z"/><path color="#a7a5a4" d="M2082.3 338l-9.2 1-1.3 2.1 9.7-1.7z"/><path color="#6592b2" d="M2111.1 338l9.6 .4-1.5-1.3-8.9 .2z"/><path color="#562d24" d="M2105.2 476.2l-.7 .1 8.3-.6 2.6-.2z"/><path color="#8babbf" d="M2101.4 338.4l.2-2.9-2.1 .1z"/><path color="#8aabc0" d="M2101.4 338.4l2.4-2.8-2.2-.1z"/><path color="#8aaabf" d="M2101.4 338.4l-1.9-2.8-2.1 .2z"/><path color="#656363" d="M2144 467.7l-5.2 2.5 8-3.3 6.3-2.9z"/><path color="#84a4bb" d="M2101.4 338.4l4.4-2.5-2-.3z"/><path color="#4a1215" d="M2094.9 476.1l1.2 .1 8.4 .1 .7-.1z"/><path color="#686e70" d="M2163.9 456l-5.1 4.3 7.3-4.8 5.7-4.7z"/><path color="#b48079" d="M2045.5 350.3l-7.6 4.4 .1 4.5 7.6-4.9z"/><path color="#89a9be" d="M2101.4 338.4l-4-2.6-1.9 .4z"/><path color="#8a7468" d="M2185.7 426.8l-2.1 6.7 5.2-6.5 2.2-6.7z"/><path color="#4d82a8" d="M2121.3 339.8l9.7 1.8-.9-2.1-9.4-1.1z"/><path color="#64564f" d="M2129 472.7l-4.1 1.3 8.3-2.1 5.6-1.7z"/><path color="#80a0b8" d="M2101.4 338.4l6.2-2.1-1.8-.4z"/><path color="#9aa4a8" d="M2170.9 366l6 6 1-5.5-6-5.6z"/><path color="#87a9be" d="M2101.4 338.4l-5.9-2.2-1.6 .4z"/><path color="#7d9db8" d="M2101.4 338.4l7.8-1.7-1.6-.4z"/><path color="#756861" d="M2024.5 444.1l5 5.3 7.1 5.3-4.5-5z"/><path color="#9cabb2" d="M2091.8 337.8l-9.5 .2-.8 1.4 9.8-.9z"/><path color="#486d82" d="M2009.8 404.6l.1 7 4.3 6.7-.1-7.1z"/><path color="#b17e7b" d="M2053.7 346.6l-8.2 3.7 .1 4 8.3-4.4z"/><path color="#88aabe" d="M2101.4 338.4l-7.5-1.8-1.3 .6z"/><path color="#7f9fb8" d="M2101.4 338.4l8.9-1.1-1.1-.6z"/><path color="#86a0ad" d="M2164.2 360.4l6.7 5.6 1-5.1-6.9-5z"/><path color="#6a93b2" d="M2111.4 338.7l9.9 1.1-.6-1.4-9.6-.4z"/><path color="#88a9be" d="M2101.4 338.4l-8.8-1.2-.8 .6z"/><path color="#b0827e" d="M2062.6 343.5l-8.9 3.1 .2 3.3 8.8-3.7z"/><path color="#789cb7" d="M2101.4 338.4l9.7-.4-.8-.7z"/><path color="#7399af" d="M2156.6 355.3l7.6 5.1 .8-4.5-7.6-4.6z"/><path color="#906e5f" d="M2186.8 420l-1.1 6.8 5.3-6.5 1.2-7z"/><path color="#86a4b6" d="M2101.4 338.4l-9.6-.6-.5 .7z"/><path color="#b28e88" d="M2071.8 341.1l-9.2 2.4 .1 2.7 9.2-3.1z"/><path color="#58231f" d="M2041.8 459.2l5.9 3.7 8.5 3.9-5-3.3z"/><path color="#7e9eb7" d="M2101.4 338.4l10 .3-.3-.7z"/><path color="#557789" d="M2010.8 397.5l-1 7.1 4.3 6.6 1-7.1z"/><path color="#ae9e97" d="M2081.5 339.4l-9.7 1.7 .1 2 9.7-2.3z"/><path color="#6392ab" d="M2148.4 350.8l8.2 4.5 .8-4-8.3-3.9z"/><path color="#a7acae" d="M2091.3 338.5l-9.8 .9 .1 1.4 9.8-1.6z"/><path color="#32020d" d="M2071.1 472.2l4.5 1.4 9.3 1.6-3-1.1z"/><path color="#86a7bc" d="M2101.4 338.4l-10.1 .1 .1 .7z"/><path color="#81a1b7" d="M2101.4 338.4l9.8 1 .2-.7z"/><path color="#6c7072" d="M2168.2 451l-4.3 5 7.9-5.2 4.8-5.3z"/><path color="#588cab" d="M2139.7 346.9l8.7 3.9 .7-3.4-8.8-3.3z"/><path color="#7ea3ba" d="M2111.2 339.4l9.8 1.7 .3-1.3-9.9-1.1z"/><path color="#548cab" d="M2130.5 343.6l9.2 3.3 .6-2.8-9.3-2.5z"/><path color="#6798b3" d="M2121 341.1l9.5 2.5 .5-2-9.7-1.8z"/><path color="#95b1c0" d="M2101.4 338.4l-10 .8 .5 .7z"/><path color="#71706f" d="M2020.5 438.2l4 5.9 7.6 5.6-3.7-5.6z"/><path color="#5e4035" d="M2117.9 474.5l-2.5 1 9.5-1.5 4.1-1.3z"/><path color="#90aebf" d="M2101.4 338.4l9.2 1.7 .6-.7z"/><path color="#926a59" d="M2186.9 412.9l-.1 7.1 5.4-6.7 0-7z"/><path color="#708995" d="M2012.9 390.5l-2.1 7 4.3 6.6 2-7.3z"/><path color="#3d0710" d="M2056.2 466.8l5.5 2.6 9.4 2.8-4.2-2.3z"/><path color="#636566" d="M2148.8 464.4l-4.8 3.3 9.1-3.7 5.7-3.7z"/><path color="#9eb7c4" d="M2101.4 338.4l-9.5 1.5 1 .6z"/><path color="#91aec0" d="M2101.4 338.4l8.1 2.3 1.1-.6z"/><path color="#9fb6c2" d="M2101.4 338.4l-8.5 2.1 1.3 .6z"/><path color="#abacab" d="M2091.4 339.2l-9.8 1.6 1 1.4 9.3-2.3z"/><path color="#92afbf" d="M2101.4 338.4l6.7 2.8 1.4-.5z"/><path color="#9fb8c4" d="M2101.4 338.4l-7.2 2.7 1.7 .4z"/><path color="#655a55" d="M2132.9 470.6l-3.9 2.1 9.8-2.5 5.2-2.5z"/><path color="#909da3" d="M2016 383.6l-3.1 6.9 4.2 6.3 2.9-7.1z"/><path color="#3a060e" d="M2081.9 474.1l3 1.1 10 .9-1.2-.9z"/><path color="#92adbd" d="M2101.4 338.4l4.9 3.2 1.8-.4z"/><path color="#87a9bc" d="M2110.6 340.1l9.1 2.4 1.3-1.4-9.8-1.7z"/><path color="#94685a" d="M2185.9 405.6l1 7.3 5.3-6.6-1-7.1z"/><path color="#9eb3bd" d="M2101.4 338.4l-5.5 3.1 2 .3z"/><path color="#542720" d="M2105.9 475.3l-.7 .9 10.2-.7 2.5-1z"/><path color="#91adbe" d="M2101.4 338.4l2.9 3.5 2-.3z"/><path color="#9eb6c2" d="M2101.4 338.4l-3.5 3.4 2.1 .2z"/><path color="#9cb5c1" d="M2101.4 338.4l.8 3.6 2.1-.1z"/><path color="#9fb7c3" d="M2101.4 338.4l-1.4 3.6 2.2 0z"/><path color="#a8918c" d="M2081.6 340.8l-9.7 2.3 1.5 2.1 9.2-3z"/><path color="#737575" d="M2171.7 445.5l-3.5 5.5 8.4-5.5 4-5.8z"/><path color="#653c33" d="M2036.6 454.7l5.2 4.5 9.4 4.3-4.4-4.1z"/><path color="#616e74" d="M2017.4 431.9l3.1 6.3 7.9 5.9-2.8-6.1z"/><path color="#491315" d="M2093.7 475.2l1.2 .9 10.3 .1 .7-.9z"/><path color="#a2a4a5" d="M2020.1 377l-4.1 6.6 4 6.1 4-6.9z"/><path color="#a7a5a4" d="M2091.9 339.9l-9.3 2.3 1.9 1.2 8.4-2.9z"/><path color="#80a5b9" d="M2119.7 342.5l9 3.1 1.8-2-9.5-2.5z"/><path color="#ac7d7c" d="M2071.9 343.1l-9.2 3.1 1.9 2.6 8.8-3.6z"/><path color="#97685d" d="M2184 398.4l1.9 7.2 5.3-6.4-2-7.1z"/><path color="#af9d94" d="M2025.2 370.7l-5.1 6.3 3.9 5.8 4.9-6.8z"/><path color="#8eacbd" d="M2109.5 340.7l8.1 3 2.1-1.2-9.1-2.4z"/><path color="#a76e75" d="M2062.7 346.2l-8.8 3.7 2.3 3.3 8.4-4.4z"/><path color="#b08c82" d="M2031.2 364.7l-6 6 3.7 5.3 5.7-6.4z"/><path color="#a56870" d="M2053.9 349.9l-8.3 4.4 2.8 3.9 7.8-5z"/><path color="#8aabbb" d="M2128.7 345.6l8.6 3.9 2.4-2.6-9.2-3.3z"/><path color="#aa7773" d="M2038 359.2l-6.8 5.5 3.4 4.9 6.5-5.9z"/><path color="#5e6468" d="M2153 460.4l-4.2 4 10-4.1 5.1-4.3z"/><path color="#a76b70" d="M2045.6 354.3l-7.6 4.9 3.1 4.5 7.3-5.5z"/><path color="#9a6f67" d="M2181 391.2l3 7.2 5.2-6.3-3.1-6.9z"/><path color="#3b060f" d="M2066.9 469.9l4.2 2.3 10.8 1.9-2.7-1.9z"/><path color="#aaa3a1" d="M2092.9 340.5l-8.4 2.9 2.7 1.1 7-3.4z"/><path color="#506775" d="M2015.3 425.2l2.1 6.7 8.2 6.1-1.9-6.5z"/><path color="#4a1718" d="M2051.2 463.5l5 3.3 10.7 3.1-3.9-3z"/><path color="#787877" d="M2174.5 439.4l-2.8 6.1 8.9-5.8 3-6.2z"/><path color="#a2b5c0" d="M2108.1 341.2l6.6 3.5 2.9-1-8.1-3z"/><path color="#8daab9" d="M2137.3 349.5l8.2 4.5 2.9-3.2-8.7-3.9z"/><path color="#9e7872" d="M2177.2 384.2l3.8 7 5.1-6-4.1-6.8z"/><path color="#b08c88" d="M2082.6 342.2l-9.2 3 2.9 1.8 8.2-3.6z"/><path color="#624d44" d="M2120.2 472.6l-2.3 1.9 11.1-1.8 3.9-2.1z"/><path color="#99adb7" d="M2145.5 354l7.7 5.1 3.4-3.8-8.2-4.5z"/><path color="#a0817a" d="M2172.4 377.3l4.8 6.9 4.8-5.8-5.1-6.4z"/><path color="#6b524b" d="M2032.1 449.7l4.5 5 10.2 4.7-3.8-4.8z"/><path color="#a1b6c1" d="M2117.6 343.7l7.9 3.8 3.2-1.9-9-3.1z"/><path color="#aca4a1" d="M2094.2 341.1l-7 3.4 3.3 .9 5.4-3.9z"/><path color="#9ba5a9" d="M2153.2 359.1l7.1 5.6 3.9-4.3-7.6-5.1z"/><path color="#a18c86" d="M2166.7 370.8l5.7 6.5 4.5-5.3-6-6z"/><path color="#5f5d5c" d="M2136.4 467.7l-3.5 2.9 11.1-2.9 4.8-3.3z"/><path color="#a09a98" d="M2160.3 364.7l6.4 6.1 4.2-4.8-6.7-5.6z"/><path color="#a6b3ba" d="M2106.3 341.6l4.9 4 3.5-.9-6.6-3.5z"/><path color="#4c6677" d="M2014.2 418.3l1.1 6.9 8.4 6.3-1-6.9z"/><path color="#b2a6a1" d="M2095.9 341.5l-5.4 3.9 3.9 .6 3.5-4.2z"/><path color="#450d12" d="M2079.2 472.2l2.7 1.9 11.8 1.1-1-1.8z"/><path color="#a77176" d="M2073.4 345.2l-8.8 3.6 3.7 2.5 8-4.3z"/><path color="#afb4b6" d="M2104.3 341.9l2.9 4.2 4-.5-4.9-4z"/><path color="#827c79" d="M2176.3 432.9l-1.8 6.5 9.1-5.9 2.1-6.7z"/><path color="#5b382e" d="M2106.6 473.5l-.7 1.8 12-.8 2.3-1.9z"/><path color="#b3aaa7" d="M2097.9 341.8l-3.5 4.2 4.2 .3 1.4-4.3z"/><path color="#b0b1b0" d="M2102.2 342l.8 4.4 4.2-.3-2.9-4.2z"/><path color="#586469" d="M2156.5 455.7l-3.5 4.7 10.9-4.4 4.3-5z"/><path color="#af8985" d="M2084.5 343.4l-8.2 3.6 4 1.7 6.9-4.2z"/><path color="#b4afab" d="M2100 342l-1.4 4.3 4.4 .1-.8-4.4z"/><path color="#aabac2" d="M2125.5 347.5l7.7 4.4 4.1-2.4-8.6-3.9z"/><path color="#51211d" d="M2092.7 473.4l1 1.8 12.2 .1 .7-1.8z"/><path color="#b1bbc0" d="M2114.7 344.7l6.6 4.3 4.2-1.5-7.9-3.8z"/><path color="#4d687b" d="M2014.1 411.2l.1 7.1 8.5 6.3-.1-7.1z"/><path color="#9d6771" d="M2064.6 348.8l-8.4 4.4 4.5 3.1 7.6-5z"/><path color="#695c58" d="M2028.4 444.1l3.7 5.6 10.9 4.9-3.1-5.3z"/><path color="#5a2c29" d="M2046.8 459.4l4.4 4.1 11.8 3.4-3.4-3.7z"/><path color="#887d76" d="M2177.3 426.1l-1 6.8 9.4-6.1 1.1-6.8z"/><path color="#491718" d="M2063 466.9l3.9 3 12.3 2.3-2.4-2.8z"/><path color="#587484" d="M2015.1 404.1l-1 7.1 8.5 6.3 .9-7.3z"/><path color="#b08581" d="M2087.2 344.5l-6.9 4.2 5 1.3 5.2-4.6z"/><path color="#b4babd" d="M2133.2 351.9l7.3 5.1 5-3-8.2-4.5z"/><path color="#966269" d="M2056.2 353.2l-7.8 5 5.2 3.6 7.1-5.5z"/><path color="#5e5551" d="M2122.3 469.9l-2.1 2.7 12.7-2 3.5-2.9z"/><path color="#525a5e" d="M2139.5 463.9l-3.1 3.8 12.4-3.3 4.2-4z"/><path color="#bcb8b5" d="M2111.2 345.6l4.9 4.6 5.2-1.2-6.6-4.3z"/><path color="#a86d75" d="M2076.3 347l-8 4.3 5.3 2.2 6.7-4.8z"/><path color="#56646b" d="M2159.5 450.4l-3 5.3 11.7-4.7 3.5-5.5z"/><path color="#8f7b70" d="M2177.4 418.9l-.1 7.2 9.5-6.1 .1-7.1z"/><path color="#6e848f" d="M2017.1 396.8l-2 7.3 8.4 6.1 1.8-7.4z"/><path color="#986067" d="M2048.4 358.2l-7.3 5.5 6 4.1 6.5-6z"/><path color="#c0c0bf" d="M2121.3 349l6.3 5 5.6-2.1-7.7-4.4z"/><path color="#b5ada9" d="M2140.5 357l6.9 5.6 5.8-3.5-7.7-5.1z"/><path color="#b48b85" d="M2090.5 345.4l-5.2 4.6 5.7 .9 3.4-4.9z"/><path color="#5d5f60" d="M2025.6 438l2.8 6.1 11.5 5.2-2.4-6z"/><path color="#8c969c" d="M2020 389.7l-2.9 7.1 8.2 6 2.7-7.4z"/><path color="#bfafa7" d="M2107.2 346.1l2.9 5 6-.9-4.9-4.6z"/><path color="#a36969" d="M2041.1 363.7l-6.5 5.9 6.6 4.6 5.9-6.4z"/><path color="#51211d" d="M2076.8 469.4l2.4 2.8 13.5 1.2-1-2.6z"/><path color="#a4a1a1" d="M2024 382.8l-4 6.9 8 5.7 3.6-7.3z"/><path color="#907367" d="M2176.5 411.6l.9 7.3 9.5-6-1-7.3z"/><path color="#a77e74" d="M2034.6 369.6l-5.7 6.4 7.1 5.1 5.2-6.9z"/><path color="#a9948c" d="M2028.9 376l-4.9 6.8 7.6 5.3 4.4-7z"/><path color="#604d45" d="M2107.1 470.9l-.5 2.6 13.6-.9 2.1-2.7z"/><path color="#b7938a" d="M2094.4 346l-3.4 4.9 6.3 .5 1.3-5.1z"/><path color="#634541" d="M2043 454.6l3.8 4.8 12.8 3.8-2.9-4.5z"/><path color="#bfa59a" d="M2103 346.4l.8 5.1 6.3-.4-2.9-5z"/><path color="#ae9991" d="M2147.4 362.6l6.3 6.1 6.6-4-7.1-5.6z"/><path color="#bc9c92" d="M2098.6 346.3l-1.3 5.1 6.5 .1-.8-5.1z"/><path color="#946269" d="M2068.3 351.3l-7.6 5 6.5 2.6 6.4-5.4z"/><path color="#5a362c" d="M2091.7 470.8l1 2.6 13.9 .1 .5-2.6z"/><path color="#926c62" d="M2174.8 404.2l1.7 7.4 9.4-6-1.9-7.2z"/><path color="#a66a70" d="M2080.3 348.7l-6.7 4.8 6.6 1.7 5.1-5.2z"/><path color="#5a686f" d="M2161.7 444.5l-2.2 5.9 12.2-4.9 2.8-6.1z"/><path color="#a4837c" d="M2153.7 368.7l5.7 6.6 7.3-4.5-6.4-6.1z"/><path color="#592f2a" d="M2059.6 463.2l3.4 3.7 13.8 2.5-2.2-3.6z"/><path color="#515e67" d="M2023.7 431.5l1.9 6.5 11.9 5.3-1.6-6.4z"/><path color="#916661" d="M2172.2 396.7l2.6 7.5 9.2-5.8-3-7.2z"/><path color="#45555f" d="M2142.2 459.5l-2.7 4.4 13.5-3.5 3.5-4.7z"/><path color="#c3b5ac" d="M2127.6 354l6 5.5 6.9-2.5-7.3-5.1z"/><path color="#c4b1a6" d="M2116.1 350.2l4.6 5.4 6.9-1.6-6.3-5z"/><path color="#9b726f" d="M2159.4 375.3l5 6.9 8-4.9-5.7-6.5z"/><path color="#936665" d="M2168.7 389.4l3.5 7.3 8.8-5.5-3.8-7z"/><path color="#966868" d="M2164.4 382.2l4.3 7.2 8.5-5.2-4.8-6.9z"/><path color="#505557" d="M2124.1 466.3l-1.8 3.6 14.1-2.2 3.1-3.8z"/><path color="#8b5b61" d="M2060.7 356.3l-7.1 5.5 7.6 3.1 6-6z"/><path color="#a9696c" d="M2085.3 350l-5.1 5.2 7.6 1.3 3.2-5.6z"/><path color="#62514d" d="M2039.9 449.3l3.1 5.3 13.7 4.1-2.3-5.2z"/><path color="#616e75" d="M2163.3 438.1l-1.6 6.4 12.8-5.1 1.8-6.5z"/><path color="#50616f" d="M2022.7 424.6l1 6.9 12.2 5.4-.9-6.8z"/><path color="#c29d8b" d="M2110.1 351.1l2.8 5.6 7.8-1.1-4.6-5.4z"/><path color="#bb9c8e" d="M2133.6 359.5l5.7 6.1 8.1-3-6.9-5.6z"/><path color="#5e3c32" d="M2074.6 465.8l2.2 3.6 14.9 1.4-.8-3.5z"/><path color="#925d61" d="M2073.6 353.5l-6.4 5.4 8.1 2.2 4.9-5.9z"/><path color="#ad6f6d" d="M2091 350.9l-3.2 5.6 8.2 .6 1.3-5.7z"/><path color="#8f595b" d="M2053.6 361.8l-6.5 6 8.6 3.6 5.5-6.5z"/><path color="#585655" d="M2107.7 467.5l-.6 3.4 15.2-1 1.8-3.6z"/><path color="#bb8a7a" d="M2103.8 351.5l.8 5.7 8.3-.5-2.8-5.6z"/><path color="#3d505f" d="M2144.3 454.4l-2.1 5.1 14.3-3.8 3-5.3z"/><path color="#c09b89" d="M2120.7 355.6l4.5 5.9 8.4-2-6-5.5z"/><path color="#b47c73" d="M2097.3 351.4l-1.3 5.7 8.6 .1-.8-5.7z"/><path color="#634842" d="M2056.7 458.7l2.9 4.5 15 2.6-1.9-4.3z"/><path color="#536776" d="M2022.6 417.5l.1 7.1 12.3 5.5-.1-7.1z"/><path color="#605149" d="M2090.9 467.3l.8 3.5 15.4 .1 .6-3.4z"/><path color="#71797e" d="M2164.1 431.3l-.8 6.8 13-5.2 1-6.8z"/><path color="#ae8177" d="M2139.3 365.6l5.2 6.6 9.2-3.5-6.3-6.1z"/><path color="#9b5c5c" d="M2047.1 367.8l-5.9 6.4 9.5 4.1 5-6.9z"/><path color="#3e4e59" d="M2125.7 462l-1.6 4.3 15.4-2.4 2.7-4.4z"/><path color="#585555" d="M2037.5 443.3l2.4 6 14.5 4.2-1.9-5.8z"/><path color="#5a717f" d="M2023.5 410.2l-.9 7.3 12.3 5.5 .8-7.4z"/><path color="#94595a" d="M2080.2 355.2l-4.9 5.9 9.3 1.5 3.2-6.1z"/><path color="#885254" d="M2067.2 358.9l-6 6 9.5 2.6 4.6-6.4z"/><path color="#a2756a" d="M2041.2 374.2l-5.2 6.9 10.3 4.3 4.4-7.1z"/><path color="#7f8283" d="M2164.1 424.2l0 7.1 13.2-5.2 .1-7.2z"/><path color="#71828b" d="M2025.3 402.8l-1.8 7.4 12.2 5.4 1.5-7.6z"/><path color="#b97e67" d="M2112.9 356.7l2.7 6.2 9.6-1.4-4.5-5.9z"/><path color="#a16e69" d="M2144.5 372.2l4.7 7 10.2-3.9-5.7-6.6z"/><path color="#a78c7f" d="M2036 381.1l-4.4 7 10.9 4.8 3.8-7.5z"/><path color="#8b9396" d="M2028 395.4l-2.7 7.4 11.9 5.2 2.3-7.6z"/><path color="#394e5f" d="M2146 448.6l-1.7 5.8 15.2-4 2.2-5.9z"/><path color="#b57e6a" d="M2125.2 361.5l4.2 6.5 9.9-2.4-5.7-6.1z"/><path color="#9f9a97" d="M2031.6 388.1l-3.6 7.3 11.5 5 3-7.5z"/><path color="#655852" d="M2072.7 461.5l1.9 4.3 16.3 1.5-.8-4.2z"/><path color="#8b8480" d="M2163.4 416.8l.7 7.4 13.3-5.3-.9-7.3z"/><path color="#9b534f" d="M2087.8 356.5l-3.2 6.1 10.2 .8 1.2-6.3z"/><path color="#635652" d="M2054.4 453.5l2.3 5.2 16 2.8-1.5-5z"/><path color="#986362" d="M2149.2 379.2l4.2 7.2 11-4.2-5-6.9z"/><path color="#414f59" d="M2108.1 463.3l-.4 4.2 16.4-1.2 1.6-4.3z"/><path color="#51595f" d="M2035.9 436.9l1.6 6.4 15 4.4-1.2-6.3z"/><path color="#ae6553" d="M2104.6 357.2l.7 6.3 10.3-.6-2.7-6.2z"/><path color="#a65850" d="M2096 357.1l-1.2 6.3 10.5 .1-.7-6.3z"/><path color="#907d75" d="M2162 409.2l1.4 7.6 13.1-5.2-1.7-7.4z"/><path color="#92605f" d="M2153.4 386.4l3.5 7.5 11.8-4.5-4.3-7.2z"/><path color="#8a5150" d="M2061.2 364.9l-5.5 6.5 10.8 2.9 4.2-6.8z"/><path color="#575c5e" d="M2090.1 463.1l.8 4.2 16.8 .2 .4-4.2z"/><path color="#324454" d="M2127 457l-1.3 5 16.5-2.5 2.1-5.1z"/><path color="#917168" d="M2159.8 401.5l2.2 7.7 12.8-5-2.6-7.5z"/><path color="#916561" d="M2156.9 393.9l2.9 7.6 12.4-4.8-3.5-7.3z"/><path color="#894d4b" d="M2075.3 361.1l-4.6 6.4 11 1.8 2.9-6.7z"/><path color="#3c5264" d="M2147.1 442.3l-1.1 6.3 15.7-4.1 1.6-6.4z"/><path color="#a66859" d="M2129.4 368l3.9 6.9 11.2-2.7-5.2-6.6z"/><path color="#aa624e" d="M2115.6 362.9l2.5 6.7 11.3-1.6-4.2-6.5z"/><path color="#515d69" d="M2035 430.1l.9 6.8 15.4 4.5-.7-6.8z"/><path color="#975552" d="M2055.7 371.4l-5 6.9 11.9 3.2 3.9-7.2z"/><path color="#595c5e" d="M2052.5 447.7l1.9 5.8 16.8 3-1.2-5.7z"/><path color="#5f6263" d="M2071.2 456.5l1.5 5 17.4 1.6-.6-5z"/><path color="#8e423e" d="M2084.6 362.6l-2.9 6.7 11.9 1 1.2-6.9z"/><path color="#314555" d="M2108.5 458.3l-.4 5 17.6-1.3 1.3-5z"/><path color="#435b6c" d="M2147.7 435.5l-.6 6.8 16.2-4.2 .8-6.8z"/><path color="#a04c3e" d="M2105.3 363.5l.7 6.9 12.1-.8-2.5-6.7z"/><path color="#9b5c54" d="M2133.3 374.9l3.4 7.3 12.5-3-4.7-7z"/><path color="#546472" d="M2034.9 423l.1 7.1 15.6 4.5 0-7.2z"/><path color="#2a3c4d" d="M2128 451.4l-1 5.6 17.3-2.6 1.7-5.8z"/><path color="#9f6a5c" d="M2050.7 378.3l-4.4 7.1 13 3.6 3.3-7.5z"/><path color="#9a433c" d="M2094.8 363.4l-1.2 6.9 12.4 .1-.7-6.9z"/><path color="#8a4641" d="M2070.7 367.5l-4.2 6.8 12.5 2.1 2.7-7.1z"/><path color="#44555f" d="M2089.5 458.1l.6 5 18 .2 .4-5z"/><path color="#9e5041" d="M2118.1 369.6l2.3 7.2 12.9-1.9-3.9-6.9z"/><path color="#5c6f7b" d="M2035.7 415.6l-.8 7.4 15.7 4.4 .5-7.5z"/><path color="#a28374" d="M2046.3 385.4l-3.8 7.5 13.9 3.8 2.9-7.7z"/><path color="#556a77" d="M2147.8 428.3l-.1 7.2 16.4-4.2 0-7.1z"/><path color="#955a55" d="M2136.7 382.2l3.1 7.5 13.6-3.3-4.2-7.2z"/><path color="#4f5d65" d="M2051.3 441.4l1.2 6.3 17.5 3.1-.8-6.3z"/><path color="#707e85" d="M2037.2 408l-1.5 7.6 15.4 4.3 1.2-7.6z"/><path color="#9d938d" d="M2042.5 392.9l-3 7.5 14.6 4.1 2.3-7.8z"/><path color="#8a8d8e" d="M2039.5 400.4l-2.3 7.6 15.1 4.3 1.8-7.8z"/><path color="#4f5d65" d="M2070 450.8l1.2 5.7 18.3 1.6-.4-5.6z"/><path color="#707c82" d="M2147.3 420.8l.5 7.5 16.3-4.1-.7-7.4z"/><path color="#8c3c38" d="M2081.7 369.3l-2.7 7.1 13.6 1.1 1-7.2z"/><path color="#93625a" d="M2139.8 389.7l2.7 7.8 14.4-3.6-3.5-7.5z"/><path color="#253a4c" d="M2128.7 445.1l-.7 6.3 18-2.8 1.1-6.3z"/><path color="#954941" d="M2066.5 374.3l-3.9 7.2 13.9 2.3 2.5-7.4z"/><path color="#25394c" d="M2108.7 452.7l-.2 5.6 18.5-1.3 1-5.6z"/><path color="#964034" d="M2106 370.4l.6 7.2 13.8-.8-2.3-7.2z"/><path color="#858685" d="M2146.2 413.1l1.1 7.7 16.1-4-1.4-7.6z"/><path color="#957368" d="M2142.5 397.5l2.1 7.8 15.2-3.8-2.9-7.6z"/><path color="#984e42" d="M2120.4 376.8l2.1 7.5 14.2-2.1-3.4-7.3z"/><path color="#933a35" d="M2093.6 370.3l-1 7.2 14 .1-.6-7.2z"/><path color="#91827b" d="M2144.6 405.3l1.6 7.8 15.8-3.9-2.2-7.7z"/><path color="#30495a" d="M2089.1 452.5l.4 5.6 19 .2 .2-5.6z"/><path color="#4c5d6a" d="M2050.6 434.6l.7 6.8 17.9 3.1-.4-6.7z"/><path color="#9b6252" d="M2062.6 381.5l-3.3 7.5 15 2.6 2.2-7.8z"/><path color="#274157" d="M2129.1 438.3l-.4 6.8 18.4-2.8 .6-6.8z"/><path color="#3c5563" d="M2069.2 444.5l.8 6.3 19.1 1.7-.4-6.2z"/><path color="#93453b" d="M2079 376.4l-2.5 7.4 15.1 1.3 1-7.6z"/><path color="#4d6170" d="M2050.6 427.4l0 7.2 18.2 3.2 0-7.2z"/><path color="#96594b" d="M2122.5 384.3l1.8 7.7 15.5-2.3-3.1-7.5z"/><path color="#1d3347" d="M2108.9 446.5l-.2 6.2 19.3-1.3 .7-6.3z"/><path color="#94473a" d="M2106.6 377.6l.6 7.6 15.3-.9-2.1-7.5z"/><path color="#9f7e6d" d="M2059.3 389l-2.9 7.7 16.1 2.7 1.8-7.8z"/><path color="#934439" d="M2092.6 377.5l-1 7.6 15.6 .1-.6-7.6z"/><path color="#214057" d="M2088.7 446.3l.4 6.2 19.6 .2 .2-6.2z"/><path color="#304f65" d="M2129.1 431.1l0 7.2 18.6-2.8 .1-7.2z"/><path color="#566b78" d="M2051.1 419.9l-.5 7.5 18.2 3.2 .3-7.6z"/><path color="#998e88" d="M2056.4 396.7l-2.3 7.8 16.9 2.9 1.5-8z"/><path color="#986e5f" d="M2124.3 392l1.6 7.9 16.6-2.4-2.7-7.8z"/><path color="#6c7b82" d="M2052.3 412.3l-1.2 7.6 18 3.1 .8-7.7z"/><path color="#345163" d="M2068.8 437.8l.4 6.7 19.5 1.8-.1-6.8z"/><path color="#878a8b" d="M2054.1 404.5l-1.8 7.8 17.6 3 1.1-7.9z"/><path color="#9a5f4d" d="M2076.5 383.8l-2.2 7.8 16.5 1.3 .8-7.8z"/><path color="#496474" d="M2128.8 423.6l.3 7.5 18.7-2.8-.5-7.5z"/><path color="#1b364c" d="M2109 439.7l-.1 6.8 19.8-1.4 .4-6.8z"/><path color="#995b49" d="M2107.2 385.2l.5 7.9 16.6-1.1-1.8-7.7z"/><path color="#97837a" d="M2125.9 399.9l1.3 8 17.4-2.6-2.1-7.8z"/><path color="#6e7c84" d="M2128.2 415.8l.6 7.8 18.5-2.8-1.1-7.7z"/><path color="#898988" d="M2127.2 407.9l1 7.9 18-2.7-1.6-7.8z"/><path color="#995e4b" d="M2091.6 385.1l-.8 7.8 16.9 .2-.5-7.9z"/><path color="#1c3e58" d="M2088.6 439.5l.1 6.8 20.2 .2 .1-6.8z"/><path color="#375668" d="M2068.8 430.6l0 7.2 19.8 1.7 0-7.2z"/><path color="#9d7b6b" d="M2074.3 391.6l-1.8 7.8 17.5 1.5 .8-8z"/><path color="#21425c" d="M2109 432.5l0 7.2 20.1-1.4 0-7.2z"/><path color="#9c7765" d="M2107.7 393.1l.4 8 17.8-1.2-1.6-7.9z"/><path color="#476372" d="M2069.1 423l-.3 7.6 19.8 1.7 .1-7.6z"/><path color="#968d87" d="M2072.5 399.4l-1.5 8 18.5 1.5 .5-8z"/><path color="#9b7969" d="M2090.8 392.9l-.8 8 18.1 .2-.4-8z"/><path color="#214660" d="M2088.6 432.3l0 7.2 20.4 .2 0-7.2z"/><path color="#34566b" d="M2108.9 424.9l.1 7.6 20.1-1.4-.3-7.5z"/><path color="#968a84" d="M2108.1 401.1l.4 8 18.7-1.2-1.3-8z"/><path color="#63757f" d="M2069.9 415.3l-.8 7.7 19.6 1.7 .3-7.8z"/><path color="#82888c" d="M2071 407.4l-1.1 7.9 19.1 1.6 .5-8z"/><path color="#59707c" d="M2108.8 417.1l.1 7.8 19.9-1.3-.6-7.8z"/><path color="#80878b" d="M2108.5 409.1l.3 8 19.4-1.3-1-7.9z"/><path color="#948c87" d="M2090 400.9l-.5 8 19 .2-.4-8z"/><path color="#34576b" d="M2088.7 424.7l-.1 7.6 20.4 .2-.1-7.6z"/><path color="#7d868a" d="M2089.5 408.9l-.5 8 19.8 .2-.3-8z"/><path color="#566f7b" d="M2089 416.9l-.3 7.8 20.2 .2-.1-7.8z"/></g>
<text class="t" transform="translate(573.2 575.6) scale(0.82 1)" x="0.5 12.6 25.1 38" y="0.8">−2.0</text>
<text class="t" transform="translate(543.4 588.3) scale(0.82 1)" x="0.5 13.6 25.1 38" y="0.8 2 0.8 0.8">−<tspan class="i">1</tspan>.5</text>
<text class="t" transform="translate(513.0 601.2) scale(0.82 1)" x="0.5 13.6 25.1 38" y="0.8 2 0.8 0.8">−<tspan class="i">1</tspan>.0</text>
<text class="t" transform="translate(482.0 614.4) scale(0.82 1)" x="0.5 12.6 25.1 38" y="0.8">−0.5</text>
<text class="t" transform="translate(455.6 627.8) scale(0.82 1)" x="-0.1 12.4 25.3" y="0.8">0.0</text>
<text class="t" transform="translate(423.3 641.6) scale(0.82 1)" x="-0.1 12.4 25.3" y="0.8">0.5</text>
<text class="t" transform="translate(390.4 655.6) scale(0.82 1)" x="0.9 12.4 25.3" y="2 0.8 0.8"><tspan class="i">1</tspan>.0</text>
<text class="t" transform="translate(356.8 669.9) scale(0.82 1)" x="0.9 12.4 25.3" y="2 0.8 0.8"><tspan class="i">1</tspan>.5</text>
<text class="t" transform="translate(322.4 684.5) scale(0.82 1)" x="-0.1 12.4 25.3" y="0.8">2.0</text>
<text class="L" transform="translate(471.3 665.9) rotate(-22.44) scale(0.82 1)" x="0.9 12.7 30.8 38 53 64.2" y="-1.7 -1.7 -3 -1.7 -1.9 -3">x <tspan style="font-size:93%">(</tspan>a<tspan style="font-size:92%">₀</tspan><tspan style="font-size:93%">)</tspan></text>
<text class="t" transform="translate(16.4 575.6) scale(0.82 1)" x="0.5 12.6 25.1 38" y="0.8">−2.0</text>
<text class="t" transform="translate(46.1 588.3) scale(0.82 1)" x="0.5 13.6 25.1 38" y="0.8 2 0.8 0.8">−<tspan class="i">1</tspan>.5</text>
<text class="t" transform="translate(76.5 601.2) scale(0.82 1)" x="0.5 13.6 25.1 38" y="0.8 2 0.8 0.8">−<tspan class="i">1</tspan>.0</text>
<text class="t" transform="translate(107.5 614.4) scale(0.82 1)" x="0.5 12.6 25.1 38" y="0.8">−0.5</text>
<text class="t" transform="translate(144.3 627.8) scale(0.82 1)" x="-0.1 12.4 25.3" y="0.8">0.0</text>
<text class="t" transform="translate(176.6 641.6) scale(0.82 1)" x="-0.1 12.4 25.3" y="0.8">0.5</text>
<text class="t" transform="translate(209.5 655.6) scale(0.82 1)" x="0.9 12.4 25.3" y="2 0.8 0.8"><tspan class="i">1</tspan>.0</text>
<text class="t" transform="translate(243.2 669.9) scale(0.82 1)" x="0.9 12.4 25.3" y="2 0.8 0.8"><tspan class="i">1</tspan>.5</text>
<text class="t" transform="translate(277.5 684.5) scale(0.82 1)" x="-0.1 12.4 25.3" y="0.8">2.0</text>
<text class="L" transform="translate(102.0 642.3) rotate(-337.56) scale(0.82 1)" x="0.9 12.7 30.8 38 53 64.2" y="-1.7 -1.7 -3 -1.7 -1.9 -3">y <tspan style="font-size:93%">(</tspan>a<tspan style="font-size:92%">₀</tspan><tspan style="font-size:93%">)</tspan></text>
<text class="t" transform="translate(-3.2 547.4) scale(0.82 1)" x="0.5 12.6 25.1 38" y="0.8">−2.0</text>
<text class="t" transform="translate(-4.3 515.8) scale(0.82 1)" x="0.5 13.6 25.1 38" y="0.8 2 0.8 0.8">−<tspan class="i">1</tspan>.5</text>
<text class="t" transform="translate(-5.4 483.9) scale(0.82 1)" x="0.5 13.6 25.1 38" y="0.8 2 0.8 0.8">−<tspan class="i">1</tspan>.0</text>
<text class="t" transform="translate(-6.6 451.8) scale(0.82 1)" x="0.5 12.6 25.1 38" y="0.8">−0.5</text>
<text class="t" transform="translate(-2.5 419.5) scale(0.82 1)" x="-0.1 12.4 25.3" y="0.8">0.0</text>
<text class="t" transform="translate(-3.7 386.9) scale(0.82 1)" x="-0.1 12.4 25.3" y="0.8">0.5</text>
<text class="t" transform="translate(-4.9 354.0) scale(0.82 1)" x="0.9 12.4 25.3" y="2 0.8 0.8"><tspan class="i">1</tspan>.0</text>
<text class="t" transform="translate(-6.0 320.9) scale(0.82 1)" x="0.9 12.4 25.3" y="2 0.8 0.8"><tspan class="i">1</tspan>.5</text>
<text class="t" transform="translate(-7.2 287.6) scale(0.82 1)" x="-0.1 12.4 25.3" y="0.8">2.0</text>
<text class="L" transform="translate(-44.4 372.8) rotate(-271.75) scale(0.82 1)" x="1 12.7 30.8 38 53 64.2" y="-1.7 -1.7 -3 -1.7 -1.9 -3">z <tspan style="font-size:93%">(</tspan>a<tspan style="font-size:92%">₀</tspan><tspan style="font-size:93%">)</tspan></text>
<text class="T" transform="translate(195.0 112.7) scale(0.82 1)" x="1.3 16.2 30.5 52.4 61.1 76 92.8 106.4 122 141.8 152.2 167.8 182.6 198.2 212.3 228.4 244 259.9" y="1.6 0.2 0.2 -2.8 0.2 0.2 1.6 0.2 0.2 0.2 0.2 0.2 0.2 0.2 0.2 0.2 0.2 -2.8"><tspan class="i">1</tspan>s <tspan style="font-size:87%">(</tspan>n=<tspan class="i">1</tspan>, l=0, <tspan textLength="17.54" lengthAdjust="spacingAndGlyphs">m</tspan>=0<tspan style="font-size:87%">)</tspan></text>
<text class="t" transform="translate(1178.8 575.6) scale(0.82 1)" x="0.5 12.6" y="0.8">−8</text>
<text class="t" transform="translate(1149.1 588.3) scale(0.82 1)" x="0.5 12.5" y="0.8">−6</text>
<text class="t" transform="translate(1118.7 601.2) scale(0.82 1)" x="0.5 12.6" y="0.8">−4</text>
<text class="t" transform="translate(1087.7 614.4) scale(0.82 1)" x="0.5 12.6" y="0.8">−2</text>
<text class="t" transform="translate(1061.3 627.8) scale(0.82 1)" x="-0.1" y="0.8">0</text>
<text class="t" transform="translate(1029.0 641.6) scale(0.82 1)" x="-0.1" y="0.8">2</text>
<text class="t" transform="translate(996.1 655.6) scale(0.82 1)" x="-0.1" y="0.8">4</text>
<text class="t" transform="translate(962.4 669.9) scale(0.82 1)" x="-0.2" y="0.8">6</text>
<text class="t" transform="translate(928.1 684.5) scale(0.82 1)" x="-0.1" y="0.8">8</text>
<text class="L" transform="translate(1066.6 665.9) rotate(-22.44) scale(0.82 1)" x="0.9 12.7 30.8 38 53 64.2" y="-1.7 -1.7 -3 -1.7 -1.9 -3">x <tspan style="font-size:93%">(</tspan>a<tspan style="font-size:92%">₀</tspan><tspan style="font-size:93%">)</tspan></text>
<text class="t" transform="translate(622.0 575.6) scale(0.82 1)" x="0.5 12.6" y="0.8">−8</text>
<text class="t" transform="translate(651.8 588.3) scale(0.82 1)" x="0.5 12.5" y="0.8">−6</text>
<text class="t" transform="translate(682.2 601.2) scale(0.82 1)" x="0.5 12.6" y="0.8">−4</text>
<text class="t" transform="translate(713.2 614.4) scale(0.82 1)" x="0.5 12.6" y="0.8">−2</text>
<text class="t" transform="translate(750.0 627.8) scale(0.82 1)" x="-0.1" y="0.8">0</text>
<text class="t" transform="translate(782.3 641.6) scale(0.82 1)" x="-0.1" y="0.8">2</text>
<text class="t" transform="translate(815.2 655.6) scale(0.82 1)" x="-0.1" y="0.8">4</text>
<text class="t" transform="translate(848.8 669.9) scale(0.82 1)" x="-0.2" y="0.8">6</text>
<text class="t" transform="translate(883.2 684.5) scale(0.82 1)" x="-0.1" y="0.8">8</text>
<text class="L" transform="translate(697.3 642.3) rotate(-337.56) scale(0.82 1)" x="0.9 12.7 30.8 38 53 64.2" y="-1.7 -1.7 -3 -1.7 -1.9 -3">y <tspan style="font-size:93%">(</tspan>a<tspan style="font-size:92%">₀</tspan><tspan style="font-size:93%">)</tspan></text>
<text class="t" transform="translate(602.5 547.4) scale(0.82 1)" x="0.5 12.6" y="0.8">−8</text>
<text class="t" transform="translate(601.4 515.8) scale(0.82 1)" x="0.5 12.5" y="0.8">−6</text>
<text class="t" transform="translate(600.2 483.9) scale(0.82 1)" x="0.5 12.6" y="0.8">−4</text>
<text class="t" transform="translate(599.1 451.8) scale(0.82 1)" x="0.5 12.6" y="0.8">−2</text>
<text class="t" transform="translate(603.1 419.5) scale(0.82 1)" x="-0.1" y="0.8">0</text>
<text class="t" transform="translate(602.0 386.9) scale(0.82 1)" x="-0.1" y="0.8">2</text>
<text class="t" transform="translate(600.8 354.0) scale(0.82 1)" x="-0.1" y="0.8">4</text>
<text class="t" transform="translate(599.6 320.9) scale(0.82 1)" x="-0.2" y="0.8">6</text>
<text class="t" transform="translate(598.5 287.6) scale(0.82 1)" x="-0.1" y="0.8">8</text>
<text class="L" transform="translate(550.9 372.8) rotate(-271.75) scale(0.82 1)" x="1 12.7 30.8 38 53 64.2" y="-1.7 -1.7 -3 -1.7 -1.9 -3">z <tspan style="font-size:93%">(</tspan>a<tspan style="font-size:92%">₀</tspan><tspan style="font-size:93%">)</tspan></text>
<text class="T" transform="translate(777.8 112.7) scale(0.82 1)" x="0.1 15.1 30.7 46.6 61 82.9 91.6 106.5 122.1 136.9 152.4 172.3 182.7 199.5 213.1 228.7 242.7 258.9 275.7 290.4" y="0.2 0.2 -1.6 0.2 0.2 -2.8 0.2 0.2 0.2 0.2 0.2 0.2 0.2 1.6 0.2 0.2 0.2 0.2 1.6 -2.8">2p_x <tspan style="font-size:87%">(</tspan>n=2, l=<tspan class="i">1</tspan>, <tspan textLength="17.54" lengthAdjust="spacingAndGlyphs">m</tspan>=<tspan class="i">1</tspan><tspan style="font-size:87%">)</tspan></text>
<text class="t" transform="translate(1749.1 584.0) scale(0.82 1)" x="0.5 13.6 25.3" y="0.8 2 0.8">−<tspan class="i">1</tspan>5</text>
<text class="t" transform="translate(1715.5 598.3) scale(0.82 1)" x="0.5 13.6 25.3" y="0.8 2 0.8">−<tspan class="i">1</tspan>0</text>
<text class="t" transform="translate(1686.4 612.9) scale(0.82 1)" x="0.5 12.6" y="0.8">−5</text>
<text class="t" transform="translate(1656.5 627.8) scale(0.82 1)" x="-0.1" y="0.8">0</text>
<text class="t" transform="translate(1620.6 643.1) scale(0.82 1)" x="-0.1" y="0.8">5</text>
<text class="t" transform="translate(1578.7 658.7) scale(0.82 1)" x="0.9 12.6" y="2 0.8"><tspan class="i">1</tspan>0</text>
<text class="t" transform="translate(1541.1 674.7) scale(0.82 1)" x="0.9 12.6" y="2 0.8"><tspan class="i">1</tspan>5</text>
<text class="L" transform="translate(1661.8 665.9) rotate(-22.44) scale(0.82 1)" x="0.9 12.7 30.8 38 53 64.2" y="-1.7 -1.7 -3 -1.7 -1.9 -3">x <tspan style="font-size:93%">(</tspan>a<tspan style="font-size:92%">₀</tspan><tspan style="font-size:93%">)</tspan></text>
<text class="t" transform="translate(1231.9 584.0) scale(0.82 1)" x="0.5 13.6 25.3" y="0.8 2 0.8">−<tspan class="i">1</tspan>5</text>
<text class="t" transform="translate(1265.4 598.3) scale(0.82 1)" x="0.5 13.6 25.3" y="0.8 2 0.8">−<tspan class="i">1</tspan>0</text>
<text class="t" transform="translate(1305.0 612.9) scale(0.82 1)" x="0.5 12.6" y="0.8">−5</text>
<text class="t" transform="translate(1345.3 627.8) scale(0.82 1)" x="-0.1" y="0.8">0</text>
<text class="t" transform="translate(1381.2 643.1) scale(0.82 1)" x="-0.1" y="0.8">5</text>
<text class="t" transform="translate(1412.7 658.7) scale(0.82 1)" x="0.9 12.6" y="2 0.8"><tspan class="i">1</tspan>0</text>
<text class="t" transform="translate(1450.3 674.7) scale(0.82 1)" x="0.9 12.6" y="2 0.8"><tspan class="i">1</tspan>5</text>
<text class="L" transform="translate(1292.5 642.3) rotate(-337.56) scale(0.82 1)" x="0.9 12.7 30.8 38 53 64.2" y="-1.7 -1.7 -3 -1.7 -1.9 -3">y <tspan style="font-size:93%">(</tspan>a<tspan style="font-size:92%">₀</tspan><tspan style="font-size:93%">)</tspan></text>
<text class="t" transform="translate(1191.8 526.4) scale(0.82 1)" x="0.5 13.6 25.3" y="0.8 2 0.8">−<tspan class="i">1</tspan>5</text>
<text class="t" transform="translate(1190.5 491.0) scale(0.82 1)" x="0.5 13.6 25.3" y="0.8 2 0.8">−<tspan class="i">1</tspan>0</text>
<text class="t" transform="translate(1194.5 455.4) scale(0.82 1)" x="0.5 12.6" y="0.8">−5</text>
<text class="t" transform="translate(1198.4 419.5) scale(0.82 1)" x="-0.1" y="0.8">0</text>
<text class="t" transform="translate(1197.1 383.2) scale(0.82 1)" x="-0.1" y="0.8">5</text>
<text class="t" transform="translate(1190.6 346.7) scale(0.82 1)" x="0.9 12.6" y="2 0.8"><tspan class="i">1</tspan>0</text>
<text class="t" transform="translate(1189.3 309.8) scale(0.82 1)" x="0.9 12.6" y="2 0.8"><tspan class="i">1</tspan>5</text>
<text class="L" transform="translate(1146.1 372.8) rotate(-271.75) scale(0.82 1)" x="1 12.7 30.8 38 53 64.2" y="-1.7 -1.7 -3 -1.7 -1.9 -3">z <tspan style="font-size:93%">(</tspan>a<tspan style="font-size:92%">₀</tspan><tspan style="font-size:93%">)</tspan></text>
<text class="T" transform="translate(1366.8 112.7) scale(0.82 1)" x="0.2 15.7 30.7 46.6 62 76.2 98.1 106.8 121.7 137.4 152.1 167.7 187.5 197.9 213.5 228.4 243.9 258 274.1 290.9 305.7" y="0.2 0.2 -1.6 0.2 0.2 0.2 -2.8 0.2 0.2 0.2 0.2 0.2 0.2 0.2 0.2 0.2 0.2 0.2 0.2 1.6 -2.8">3d_xz <tspan style="font-size:87%">(</tspan>n=3, l=2, <tspan textLength="17.54" lengthAdjust="spacingAndGlyphs">m</tspan>=<tspan class="i">1</tspan><tspan style="font-size:87%">)</tspan></text>
<text class="t" transform="translate(2356.7 578.8) scale(0.82 1)" x="0.5 12.6 25.3" y="0.8">−30</text>
<text class="t" transform="translate(2319.2 594.7) scale(0.82 1)" x="0.5 12.6 25.3" y="0.8">−20</text>
<text class="t" transform="translate(2280.8 611.1) scale(0.82 1)" x="0.5 13.6 25.3" y="0.8 2 0.8">−<tspan class="i">1</tspan>0</text>
<text class="t" transform="translate(2251.8 627.8) scale(0.82 1)" x="-0.1" y="0.8">0</text>
<text class="t" transform="translate(2206.1 645.0) scale(0.82 1)" x="0.9 12.6" y="2 0.8"><tspan class="i">1</tspan>0</text>
<text class="t" transform="translate(2164.6 662.7) scale(0.82 1)" x="-0.1 12.6" y="0.8">20</text>
<text class="t" transform="translate(2122.0 680.8) scale(0.82 1)" x="-0.1 12.6" y="0.8">30</text>
<text class="L" transform="translate(2257.1 665.9) rotate(-22.44) scale(0.82 1)" x="0.9 12.7 30.8 38 53 64.2" y="-1.7 -1.7 -3 -1.7 -1.9 -3">x <tspan style="font-size:93%">(</tspan>a<tspan style="font-size:92%">₀</tspan><tspan style="font-size:93%">)</tspan></text>
<text class="t" transform="translate(1814.7 578.8) scale(0.82 1)" x="0.5 12.6 25.3" y="0.8">−30</text>
<text class="t" transform="translate(1852.2 594.7) scale(0.82 1)" x="0.5 12.6 25.3" y="0.8">−20</text>
<text class="t" transform="translate(1890.7 611.1) scale(0.82 1)" x="0.5 13.6 25.3" y="0.8 2 0.8">−<tspan class="i">1</tspan>0</text>
<text class="t" transform="translate(1940.5 627.8) scale(0.82 1)" x="-0.1" y="0.8">0</text>
<text class="t" transform="translate(1975.7 645.0) scale(0.82 1)" x="0.9 12.6" y="2 0.8"><tspan class="i">1</tspan>0</text>
<text class="t" transform="translate(2017.2 662.7) scale(0.82 1)" x="-0.1 12.6" y="0.8">20</text>
<text class="t" transform="translate(2059.8 680.8) scale(0.82 1)" x="-0.1 12.6" y="0.8">30</text>
<text class="L" transform="translate(1887.8 642.3) rotate(-337.56) scale(0.82 1)" x="0.9 12.7 30.8 38 53 64.2" y="-1.7 -1.7 -3 -1.7 -1.9 -3">y <tspan style="font-size:93%">(</tspan>a<tspan style="font-size:92%">₀</tspan><tspan style="font-size:93%">)</tspan></text>
<text class="t" transform="translate(1787.5 539.5) scale(0.82 1)" x="0.5 12.6 25.3" y="0.8">−30</text>
<text class="t" transform="translate(1786.1 499.9) scale(0.82 1)" x="0.5 12.6 25.3" y="0.8">−20</text>
<text class="t" transform="translate(1784.7 459.9) scale(0.82 1)" x="0.5 13.6 25.3" y="0.8 2 0.8">−<tspan class="i">1</tspan>0</text>
<text class="t" transform="translate(1793.6 419.5) scale(0.82 1)" x="-0.1" y="0.8">0</text>
<text class="t" transform="translate(1787.0 378.7) scale(0.82 1)" x="0.9 12.6" y="2 0.8"><tspan class="i">1</tspan>0</text>
<text class="t" transform="translate(1785.5 337.5) scale(0.82 1)" x="-0.1 12.6" y="0.8">20</text>
<text class="t" transform="translate(1784.0 295.9) scale(0.82 1)" x="-0.1 12.6" y="0.8">30</text>
<text class="L" transform="translate(1741.4 372.8) rotate(-271.75) scale(0.82 1)" x="1 12.7 30.8 38 53 64.2" y="-1.7 -1.7 -3 -1.7 -1.9 -3">z <tspan style="font-size:93%">(</tspan>a<tspan style="font-size:92%">₀</tspan><tspan style="font-size:93%">)</tspan></text>
<text class="T" transform="translate(1955.8 112.7) scale(0.82 1)" x="0.2 18.9 30.7 46.6 62 81 91.5 113.4 122 136.9 152.6 167.4 182.9 202.8 213.2 228.9 243.6 259.1 273.2 289.4 306.2 320.9" y="0.2 0.2 -1.6 0.2 0.2 -7.1 0.2 -2.8 0.2 0.2 0.2 0.2 0.2 0.2 0.2 0.2 0.2 0.2 0.2 0.2 1.6 -2.8">4f_xz<tspan style="font-size:62%">²</tspan> <tspan style="font-size:87%">(</tspan>n=4, l=3, <tspan textLength="17.54" lengthAdjust="spacingAndGlyphs">m</tspan>=<tspan class="i">1</tspan><tspan style="font-size:87%">)</tspan></text>
</svg>
<div id="bar"></div>
</body></html>
